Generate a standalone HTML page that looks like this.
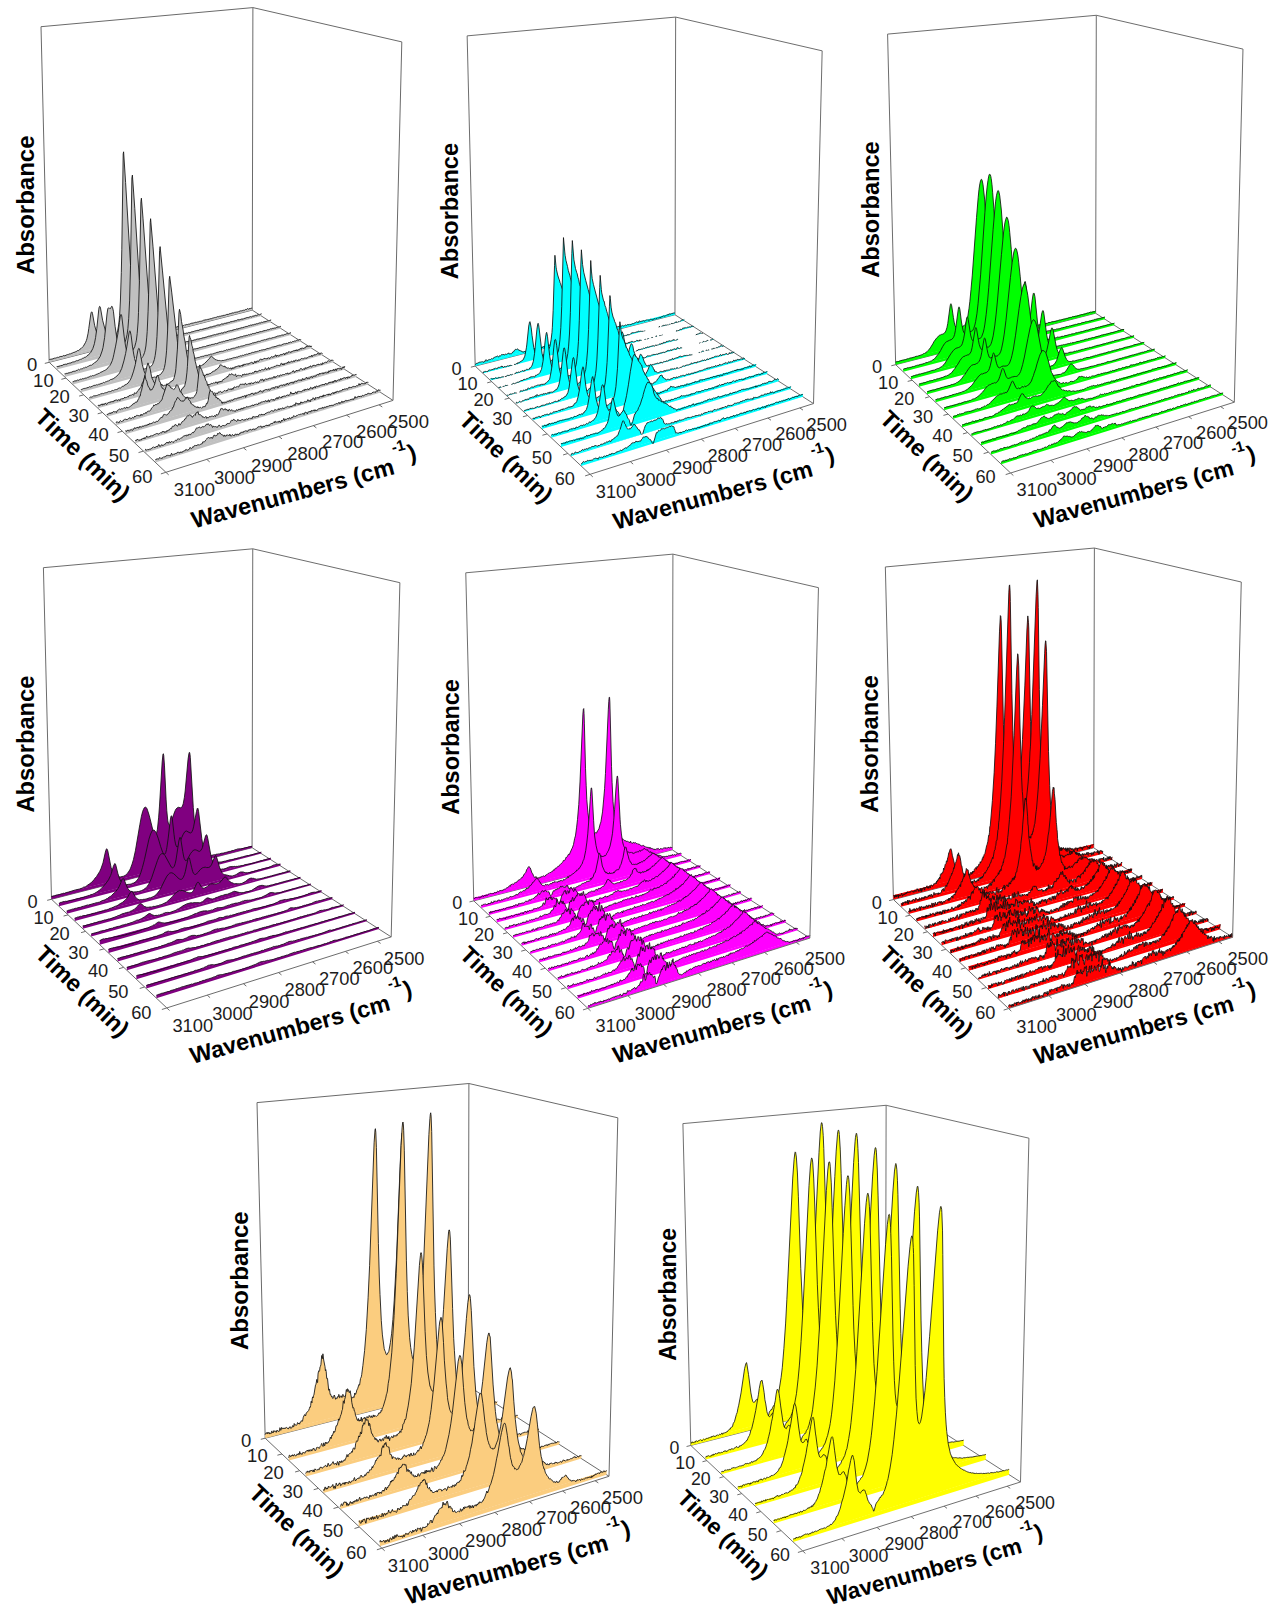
<!DOCTYPE html><html><head><meta charset="utf-8"><title>FTIR waterfall plots</title>
<style>html,body{margin:0;padding:0;background:#fff}svg{display:block}text{font-family:"Liberation Sans",sans-serif;fill:#1c1c1c}.t{font-size:18.5px}.b{font-size:24px;font-weight:bold;fill:#000}.s path{stroke:#101010;stroke-width:0.85;stroke-linejoin:round}.s path.n{stroke:none}</style></head><body>
<svg width="1274" height="1614" viewBox="0 0 1274 1614">
<rect width="1274" height="1614" fill="#fff"/>
<g transform="translate(0.0 0.0) scale(1.0 1.0)">
<line x1="41.0" y1="26.7" x2="252.9" y2="7.6" stroke="#6a6a6a" stroke-width="1.0"/>
<line x1="252.9" y1="7.6" x2="401.8" y2="41.9" stroke="#6a6a6a" stroke-width="1.0"/>
<line x1="41.0" y1="26.7" x2="49.2" y2="362.3" stroke="#6a6a6a" stroke-width="1.0"/>
<line x1="252.9" y1="7.6" x2="252.2" y2="310.1" stroke="#6a6a6a" stroke-width="1.0"/>
<line x1="49.2" y1="362.3" x2="252.2" y2="310.1" stroke="#6a6a6a" stroke-width="1.0"/>
<line x1="252.2" y1="310.1" x2="393.0" y2="400.4" stroke="#6a6a6a" stroke-width="1.0"/>
<g class="s" fill="#c0c0c0">
<path class="n" d="M49.2 362.3L252.2 310.1L252.2 307.9L49.1 359.7z"/>
<path d="M49.1 360l0.5-0.5l1.2-0.3l1.3-0.1l2.6-1l0.8 0l0.9-0.3l0.4 0.1l0.8-0.8l0.9 0.3l1.7-0.9l2.1-0.1l0.8-0.7l0.9-0.1l0.8 0.2l2.5-1.2l0.9 0.1l0.4-0.4l1.3-0.5l0.4 0.1l0.8-0.3l0.9-0.6l0.4 0l0.8-0.5l0.8 0l1.3-0.7l0.8-0.1l1.3-1.1l0.8 0.2l0.8-0.9l0.5-0.1l0.4-0.6l1.6-1l0.8-0.8l0.5-0.6l0.4-0.3l2.4-4.2l0.8-1.9l0.5-1.6l1.2-5.6l0.7-4.8l2-14.3l0.4-1.5l0.4-0.7l0.5 0.2l0.4 1.6l2.1 11.6l1.3 4.7l2.5 6.9l1.7 2.9l0.8 0.8l1.6 0.8l0.9 0.8l0.8-0.4l0.8 0.5l0.8 0l0.8-0.4l0.8 0.2l1.3-0.7l0.4-0.1l0.4 0.1l0.8-0.5l0.4-0.1l0.8-0.7l0.4 0l1.2-0.7l2-2.5l1.3-2.3l1.2-3.7l1.2-6.8l0.8-8.4l0.8-14.7l0.9-28.4l0.5-23.3l1.4-95.4l0.4-2.1l2 30.7l6.6 110.2l2.2 36l0.4 3.5l2 0.9l1.2 0.1l0.8-0.1l0.4 0.3l0.8-0.3l0.3 0.4l0.8 0.3l0.4 0.1l0.8-0.4l0.8 0.3l2-0.3l0.8-0.3l0.4 0.3l0.3 0.1l0.8-0.5l0.8 0.1l0.8-0.4l0.4 0l0.4 0.2l0.8-0.4l0.4 0.2l0.7-0.4l0.8 0l0.4-0.1l0.4-0.3l0.8 0.2l0.4-0.4l0.4-0.1l0.4 0.4l0.7-0.4l0.4 0.2l0.8-0.4l0.8 0l1.6-0.7l0.3 0.2l0.8-0.4l0.4 0.2l0.4 0l0.4-0.3l0.8-0.2l0.7-0.6l1.2 0.4l0.8-0.4l0.7 0l0.4-0.3l2.7-0.4l0.4 0.1l1.2-0.5l0.8-1l0.7 0.3l0.4-0.2l1.2 0.1l1.1-0.4l0.8-0.4l0.7 0.1l0.4-0.2l1.2-0.4l0.7 0.2l0.4-0.1l0.4-0.4l0.8 0.2l0.7-0.5l1.6-0.1l0.7-0.3l0.4 0.2l1.1-1.1l0.8 0.4l0.4-0.3l0.7-0.3l0.8 0.1l0.8-0.3l0.7 0.1l1.2-0.6l1.5-0.5l1.5-0.1l0.4-0.3l0.7-0.1l0.8-0.4l1.1 0.1l1.1-0.4l0.8 0l1.1-0.5l0.8-0.5l0.3 0.3l0.8-0.2l0.4 0.1l0.3-0.2l0.8-0.2l0.7-0.5l3-0.6l0.4 0.1l0.8-0.4l0.3 0.1l1.5-0.5l0.4 0l1.1-0.4l0.8 0l1.1-0.6l0.7-0.1l0.8-0.4l0.3 0.1l0.8-0.2l0.3 0.2l0.4-0.4l0.7-0.1l0.8-0.5l1.1 0.1l0.7-0.4l0.8 0.2l0.7-0.6l0.4 0.1l0.7-0.4l0.8 0.2l1.1-0.6l0.7 0.1l0.7-0.3l0.4 0.1l0.7-0.6l2.2-0.2l1.5-0.8l0.7 0.1l1.1-0.5l1.1-0.3l0.8 0.2l0.7-0.6l0.3-0.1l0.4 0l1.1-0.2l0.7 0.1l1.5-0.5l0.3-0.3l1.1-0.2l0.8-0.4l0.3 0.1l0.4 0l0.7-0.5l0.7 0.2l0.8-0.4l0.7 0.1l1.4-0.9l0.4 0.1l0.7-0.1l0.7-0.9l0.8 0.6l0.3 0l1.5-0.7l0.7 0.1l1-0.4l0.4 0.1"/>
<path class="n" d="M56.8 369.5L261.5 316.1L261.5 313.4L56.7 366.2z"/>
<path d="M56.7 366.5l0.5 0.1l0.8-0.2l0.9 0l0.4-0.2l0.9-0.1l0.4-0.4l1.7-0.2l1.7-1.2l0.9 0.2l0.4-0.3l0.9 0.3l0.8-0.6l1.3-0.4l1.3-0.4l1.3-0.1l1.3-0.8l0.8-0.3l0.9 0l0.8-0.2l0.4-0.4l0.9-0.1l0.8-0.7l0.9 0.2l2.1-1.1l0.4-0.1l0.4-0.2l0.9-0.2l0.8-0.7l0.9-0.1l1.6-1.1l0.9-0.1l0.8-0.7l0.4-0.1l0.9-1.2l0.4 0.1l0.4-0.4l0.4-0.8l0.4-0.2l1.3-1.3l2.1-3.9l1.2-3.6l0.4-1.3l1.2-6.2l1.2-9l2-19.3l0.4-1.9l0.4-0.9l0.4 0.2l0.5 1.5l2.1 12.1l2.6 9.7l2.1 9l1.3 3.7l0.8 1.5l1.7 1.7l0.4 0.7l0.4 0.4l0.8 0.2l0.8 0.6l3.7 0l0.9-0.3l0.4 0l0.8-0.5l0.4 0.3l0.8-0.9l1.2-0.3l1.7-1.8l0.4-0.7l0.8-0.8l1.2-2.8l1.3-5.4l0.8-6l0.8-9.8l0.9-17.8l0.9-35.6l1.4-87.5l0.5-2.7l2.4 33.6l5 77.8l3.4 49.1l0.4 3.7l0.4 0.1l0.4-0.2l0.8 0.5l1.2 0.1l0.4 0.3l1.2 0.1l0.4-0.1l0.4 0.3l0.8-0.1l0.4 0.2l0.8-0.5l1.2 0.5l0.4 0l0.8-0.6l0.4 0.3l1.1-0.1l0.4-0.2l0.8 0l0.4-0.4l0.4 0l0.4 0.1l0.8-0.1l0.4 0.2l0.4-0.4l0.4 0l0.4 0.2l1.6-0.7l0.8-0.2l0.8 0.2l1.1-0.2l1.2-0.7l1.2 0.2l1.2-0.5l0.8 0l1.1-0.4l0.8 0.3l0.4-0.4l1.2 0.1l0.8-0.7l0.4 0.1l0.7-0.4l1.2-0.3l0.8 0.2l1.5-1.1l1.2 0.3l0.4-0.2l0.4 0.1l0.8-0.5l1.1-0.4l1.2-0.1l0.4 0.1l0.8-0.3l0.3 0.1l0.8-0.7l1.2 0l1.1-0.3l0.8 0.2l0.4-0.2l0.4-0.5l0.4-0.1l0.3 0.2l1.2 0l0.8-0.8l0.7 0.2l0.4-0.1l0.8-0.6l0.8 0.3l0.7-0.7l0.8 0l0.4-0.3l0.7-0.1l0.8-0.2l1.5 0.1l0.4-0.6l0.4-0.1l0.4 0.3l0.7-0.8l0.8 0.3l0.4-0.2l1.1-0.1l1.2-0.5l1.9-0.3l0.7-0.3l0.8 0l0.4-0.4l1.1-0.1l0.8-0.6l1.8-0.1l1.2-0.4l0.4-0.3l0.7 0.1l0.4-0.2l0.7 0.1l0.4-0.3l0.4-0.1l0.8-0.6l0.7-0.2l0.8 0l0.3-0.1l0.8 0.2l1.1-0.4l0.8-0.6l0.3-0.2l0.8 0l0.7 0.2l0.8-0.3l0.7-0.5l1.1 0l1.9-0.5l0.8-0.4l0.3 0.1l0.4-0.2l0.7 0.1l0.8-0.7l0.7 0l1.1-0.4l0.4 0.1l0.8-0.2l0.3 0.1l1.5-0.7l1.1 0.1l1.1-0.9l2.2-0.1l0.4-0.3l0.7 0l0.8-0.3l0.7 0.1l0.4-0.2l0.7 0.1l0.7-0.8l0.4 0.1l0.8-0.3l0.3 0.1l0.8-0.5l1.4-0.3l0.7 0.2l1.1-0.6l0.4 0l0.7-0.5l0.8 0.5l1.1-0.8l0.7 0.1l0.7-0.5l0.4 0l0.7-0.2l0.7-0.4l0.8 0.4l0.7-0.5l1.4-0.6l0.8 0.2l0.3-0.1l0.4-0.3l0.7-0.2l0.7-0.5"/>
<path class="n" d="M64.6 376.9L271.1 322.2L271.1 319.6L64.6 373.5z"/>
<path d="M64.6 373.8l0.8 0l0.9-0.4l0.9 0.1l0.4-0.1l0.4 0l0.9-0.7l0.9 0.1l0.4-0.1l0.4-0.4l0.9 0l1.7-1l0.9 0.2l0.9-0.6l0.4 0.3l0.4-0.2l0.4-0.5l1.3-0.3l0.9-0.8l0.4 0.1l0.5 0.3l0.4 0l0.8-0.8l0.5 0.1l0.4-0.2l0.9-0.1l1.2-0.9l0.9-0.1l0.4 0.1l0.9-0.8l0.8 0.2l0.9-0.6l0.8-0.3l1.7-1l0.9-0.2l0.8 0l1.3-1.2l0.9-0.5l0.8-0.9l1.3-0.6l0.4-0.6l0.8-0.5l3-4.3l2-5.6l0.9-3.4l1.6-10l2.4-23.6l0.8-5.2l0.5-0.8l0.4-0.2l0.8 0.4l0.5 0.5l0.4-0.1l1.3-2.3l0.4 0.1l0.4 0.9l0.9 3.9l1.7 15.1l1.7 12l1.3 5.5l0.9 2.6l0.8 1.9l0.4 0.5l1.3 2.4l1.2 0.8l0.8 0.4l0.5 0.7l0.4 0.1l0.4-0.3l0.4 0.4l0.4 0l0.4-0.4l1.3-0.3l0.8 0.3l0.8-0.3l0.4 0.1l1.3-0.7l0.4-0.5l1.6-0.9l2.1-3.8l1.2-4.5l0.5-2.2l0.8-6.6l0.9-11.6l0.4-9.5l0.9-31.8l1.5-79.1l0.5-3.3l1.6 20l6.2 85.5l3 39.5l0.4 3.1l0.4-0.4l0.8 0.8l0.4 0.1l0.8-0.1l0.4 0.3l0.4 0.1l0.8-0.2l1.6 0.4l1.2-0.4l0.8 0.5l0.4-0.1l0.4-0.3l0.9-0.2l0.7 0.3l0.5-0.3l0.7-0.1l0.5-0.3l0.7 0.2l0.8 0l0.8-0.6l0.8 0.1l0.4-0.2l0.8 0.1l0.4-0.3l0.8 0.2l0.8-0.2l0.8-0.3l0.4 0l0.8-0.5l1.2-0.2l1.2 0.1l0.8-0.4l1.2-0.2l0.4-0.2l0.4-0.1l0.4 0.2l1.1-0.3l1.6-0.9l0.8 0.4l0.4-0.3l1.6-0.2l0.4-0.5l0.4-0.1l0.4 0.2l1.5-0.8l0.4 0l0.4-0.1l0.8 0.3l0.4-0.5l0.4-0.1l2.7-0.4l0.4-0.3l0.8 0.1l1.5-0.6l1.6-0.2l1.2-0.8l0.7 0.1l1.2 0l1.6-0.6l1.1-0.1l1.6-0.7l0.7 0.2l2-0.7l0.7-0.1l0.4-0.3l0.8-0.2l0.4-0.4l1.5 0l0.4-0.2l1.9-0.3l0.4-0.4l1.2-0.3l0.3 0.1l0.8-0.5l0.8 0.2l0.4-0.1l0.7-0.5l0.8 0l1.9-0.6l0.4-0.3l1.1 0.1l0.8-0.5l1.1 0.3l1.2-0.5l0.7-0.8l0.4 0.1l0.4 0.4l1.1-0.3l1.5-0.9l0.4-0.1l0.4 0.2l0.7-0.3l0.4 0l0.8-0.4l0.3 0.1l0.4 0l3.4-1.2l0.8 0l0.7-0.5l0.8 0.2l2.6-0.9l0.4-0.4l0.7 0.5l1.1-0.9l0.8 0.3l0.4-0.4l1.1-0.1l0.4-0.4l0.3 0.1l0.8-0.4l0.3 0.2l0.8-0.4l0.4 0.1l0.3-0.1l0.8-0.6l1.5-0.2l0.7-0.5l1.5 0.2l0.7-0.6l0.8 0.1l1.1-0.5l0.7 0.1l1.1-0.6l1.1 0l0.8-0.4l0.7 0l0.7-0.5l0.4 0.2l0.7-0.3l0.8-0.6l0.7 0.3l0.4-0.1l0.7-0.4l2.9-0.5l0.8-0.6l0.3 0l0.8-0.3l0.3 0.2l0.4-0.3l0.7 0.1l1.5-0.7"/>
<path class="n" d="M72.7 384.4L280.9 328.5L280.9 325.9L72.6 381.6z"/>
<path d="M72.6 381.9l0.4-0.3l0.9 0l0.9-0.8l1.3 0.2l1.7-1.1l0.9 0.4l0.9-0.7l0.4-0.1l0.9-0.5l0.4 0.3l0.5-0.1l0.4-0.5l1.3 0.1l0.9-0.4l1.7-0.5l0.5 0.1l0.8-0.6l0.5 0l1.3-0.5l1.2-0.8l0.9 0.1l0.5-0.1l0.8-0.6l0.4-0.1l0.5 0.3l0.4-0.1l0.4-0.3l0.5 0l0.4-0.2l0.9-0.6l1.7-0.6l0.4-0.3l1.3-0.3l0.8-0.9l1.8-0.6l1.2-0.8l0.9-0.2l0.9-0.9l0.4 0.1l0.4-0.2l2.1-2l0.9-1.2l0.8-0.8l0.9-1.4l1.7-3.8l0.8-2.8l0.8-3.6l1.7-8.1l2.5-13.5l1.3-10.2l0.8-5.5l0.4-1.8l0.4-0.7l0.5 0.7l0.4 2l2.2 19l1.3 9l1.3 6.1l1.2 4.1l0.9 1.1l0.8 1.9l0.8 0.6l0.5 0.6l0.8 0.4l0.8 0l0.9 0.9l0.4 0l0.4 0.3l0.4 0l0.4-0.2l0.5 0l1.2-0.2l0.4-0.3l0.9 0.2l2-1.2l0.5-0.6l0.8-0.2l1.6-2.2l0.5-0.8l1.2-3.3l0.4-1.5l0.9-4.8l0.8-8.1l0.5-6.3l0.9-20.4l0.5-16.5l1.6-72l0.4-4l2.4 28.1l5 63.4l3.8 43.6l2.1 0.1l0.8 0.4l0.4-0.1l0.4-0.3l1.6 0.3l0.8-0.4l0.4 0.3l0.4-0.2l0.8 0.5l0.4-0.3l0.4-0.1l0.5 0.2l1.2-0.4l0.8 0.1l1.2-0.5l1.2 0l0.8 0l0.4-0.4l0.4 0.2l0.4-0.1l0.4-0.5l0.4 0.2l0.4 0.1l0.4-0.3l0.4 0.2l0.8-0.6l0.8 0.1l0.8-0.4l0.8 0l0.8-0.3l0.8 0.3l1.6-0.6l0.4-0.4l0.8 0l0.4-0.2l0.8-0.1l0.4 0.1l1.2 0l0.4-0.6l1.2 0l1.6-0.8l0.8-0.1l0.3 0.2l0.8-0.6l1.2 0.1l0.8-0.4l1.6-0.2l1.6-0.8l0.8 0.1l0.4-0.1l0.4-0.2l1.9-0.6l0.8 0.1l0.4-0.4l0.4-0.1l0.4 0.3l0.8-0.6l0.7-0.1l2.8-0.8l0.8 0l0.7-0.5l0.8 0l0.8-0.3l0.8 0l1.2-0.3l0.7-0.5l0.8 0.2l0.4-0.1l1.9-0.6l0.8-0.8l0.8 0.2l1.1-0.5l0.4 0.1l1.2-0.1l0.4-0.5l0.4-0.2l1.1 0.2l0.8-0.6l0.4 0l0.8-0.3l1.5-0.1l1.5-0.8l0.8 0.1l0.8-0.4l0.7 0.1l0.4-0.4l0.8 0l2.6-0.6l0.4-0.3l0.8 0l0.4-0.3l0.7-0.1l0.8-0.5l0.8 0l1.1-0.5l0.4 0.1l0.7-0.4l0.8 0.3l0.8-0.7l0.7-0.1l0.8 0.1l1.1-0.6l1.1-0.1l0.4 0.1l0.8-0.7l0.4-0.1l0.3 0.1l0.4 0.2l0.8-0.7l0.3 0.2l0.4 0l0.8-0.2l0.7-0.7l0.8 0.1l1.1-0.2l0.4 0.3l0.4-0.2l0.3-0.5l0.8-0.3l0.4-0.5l1.1 0.5l1.5-0.8l1.5-0.3l0.3 0.1l0.4-0.1l0.4-0.4l0.7 0.1l1.2-0.6l1.4-0.1l0.4-0.2l0.4 0.1l0.7-0.3l0.8-0.5l0.3 0.2l0.4-0.1l1.5-0.5l0.7-0.5l1.2 0.1l1.1-0.6l0.3 0.2l0.8-0.3l0.3 0.1l0.4-0.3l0.7 0.2l1.2-0.7l0.7 0.1l0.4-0.4l0.3-0.1l0.4 0l0.7-0.4l0.4 0.2l0.4-0.1l1.1-0.6"/>
<path class="n" d="M80.9 392.2L290.9 334.9L290.9 332.6L80.8 389.4z"/>
<path d="M80.8 389.7l0.5-0.1l0.8-0.6l0.5 0.1l0.9-0.6l0.4 0.2l0.9-0.4l0.4-0.1l0.5 0.2l0.4-0.1l0.5-0.4l2.2-0.6l0.8-0.6l0.9 0.3l1.8-0.7l0.9-0.7l0.8 0.1l0.9-0.6l0.9 0.2l0.9-0.6l0.8 0.2l0.5-0.4l0.4-0.2l0.5 0.1l3-1.1l0.4 0l0.5-0.2l0.4-0.5l0.4-0.2l0.5 0.3l0.4 0l0.9-0.8l1.3-0.3l0.9-0.5l0.8 0l0.5-0.6l0.8-0.2l0.4-0.5l0.5-0.2l0.4 0.1l0.9-0.5l1.3-0.4l2.6-1.9l2.5-2.3l1.3-1.7l2.1-4.4l2.2-7.6l1.7-7.3l1.2-6.8l2.2-13.8l0.4-1.6l0.4-0.6l0.5 0.7l0.8 3.8l1.3 10.7l1.3 8.1l0.9 4.3l0.4 1.7l1.3 3.4l0.8 1.4l0.9 1.9l0.4 0.4l1.2 0.4l0.5 0.4l0.8 0.3l0.9 0.6l0.4 0l0.8 0.2l0.9-0.3l0.8 0.2l0.8-0.3l0.9 0.1l0.4-0.5l1.7-0.1l0.4-0.6l0.4-0.4l0.4 0.1l0.9-0.5l1.7-2l0.4-0.7l0.8-2l0.9-2.7l0.8-4l0.9-6.7l0.9-12.4l1-24l1.6-61.9l0.5-3.8l2.3 23.5l5.5 58l2.6 26.6l0.8 6.3l1.6 0.9l0.9-0.5l2 0.5l0.4-0.1l0.4-0.5l0.8 0.5l0.9-0.3l0.8 0.1l0.4-0.2l0.8 0.3l0.8-0.7l2 0l0.8-0.5l0.5 0.2l0.8-0.5l0.4 0.3l1.2-0.8l0.4-0.1l0.8 0.3l1.2-0.2l0.8-0.3l0.8-0.6l0.8 0.2l0.8-0.4l1.2 0.2l0.9-0.6l0.4-0.1l1.6-0.1l0.8-0.4l0.8 0.2l0.8-0.6l0.4 0.1l1.2-0.3l0.4-0.6l0.4 0l0.4 0.5l0.8-0.6l1.6-0.1l0.4-0.5l0.4-0.3l0.4 0.1l0.8-0.4l0.8 0.5l1.6-0.8l0.7 0.1l1.2-0.7l0.8 0.2l0.4-0.4l0.8 0.1l0.4-0.4l0.4-0.1l0.4 0.1l0.8-0.4l0.8-0.1l0.4-0.3l1.2-0.5l1.6-0.2l1.5-0.7l0.8 0l0.8-0.2l0.8 0.1l0.4-0.1l0.4-0.3l0.4 0.1l0.8-0.6l0.3 0.2l0.8-0.1l0.8-0.9l0.4 0.1l0.4 0.3l0.4 0l0.8-0.6l0.7-0.2l0.8 0.1l0.4-0.3l0.8-0.1l1.6-0.6l0.7-0.1l0.8-0.3l0.4 0.2l0.8-0.5l0.4 0.2l0.4-0.1l0.7-0.6l0.8 0l0.4-0.2l1.2-0.3l0.3 0.3l0.8-0.7l0.4 0l0.4-0.3l0.4 0.1l0.7-0.3l0.4 0.2l0.4 0l0.8-0.4l0.8-0.2l0.3 0l0.8-0.6l0.8-0.2l0.4 0.1l0.4 0l0.3-0.4l0.8 0.1l0.8-0.4l0.7 0.2l0.8-0.5l1.2-0.3l0.7-0.5l1.5 0l0.8-0.5l0.4 0.2l0.8-0.6l0.7 0.1l1.9-0.8l0.8 0.1l1.1-0.3l1.2-0.7l0.3 0.1l0.8-0.3l1.1-0.2l0.8-0.3l0.4 0.4l0.3-0.1l0.4-0.5l1.9-0.6l0.4-0.3l0.7 0.2l0.8-0.6l0.8 0.2l0.3-0.2l0.8 0l0.7-0.4l1.2-0.2l0.3-0.2l0.8-0.1l1.5-0.4l1.1-0.5l0.8-0.5l0.7 0.1l0.4-0.3l0.7 0.1l1.1-0.1l0.8-0.6l1.5-0.1l0.7 0.1l0.8-0.7l1.1-0.1l0.7-0.5l1.5-0.2l0.4 0.2l1.5-0.7l0.3-0.3l0.8 0.1"/>
<path class="n" d="M89.3 400.1L301.1 341.5L301.1 339.3L89.3 397.4z"/>
<path d="M89.3 397.7l0.4-0.1l0.9-0.6l0.5-0.1l0.4 0.2l0.9-0.4l0.4-0.1l0.9-0.8l1.4 0.1l0.9-0.3l0.4 0l0.5-0.3l0.4-0.1l0.4 0.1l0.9-0.6l0.9 0.1l0.9-0.9l0.4-0.1l1.4-0.1l0.4-0.3l0.9 0.2l0.9-0.6l0.4 0.1l0.9-0.4l0.9-0.1l0.4-0.3l0.9-0.2l0.5-0.4l0.8 0.1l0.5-0.4l0.9 0.1l1.7-1l0.9-0.1l0.4 0.3l0.9-0.8l0.5 0.1l0.8-0.5l0.9 0.1l0.4-0.4l0.9-0.2l0.4-0.7l0.5-0.3l0.4 0l0.5-0.2l0.8 0.2l0.9-0.7l0.9-1.1l0.8 0.3l0.5-0.3l0.8-1.1l1.8-0.7l1.7-1.3l2.2-3.1l1.3-2.6l2.1-6.3l1.7-6.5l2.6-14.3l0.5-1.2l0.4-0.8l0.4 0.3l0.5 1.3l2.6 14.7l1.7 6.3l0.8 2.1l0.9 1l1.3 2l0.4 0l0.8 0.6l0.9 0.2l0.4 0.4l0.9-0.1l0.4 0.2l0.4-0.2l1.7 0.4l0.9-0.3l0.4-0.3l0.8 0.4l0.4 0l1.3-1.1l1.3-0.3l1.3-0.9l0.4-0.2l0.4 0l0.4-0.3l2.6-3.5l0.4-0.8l0.9-2.7l0.8-4l0.9-7.6l0.5-5.7l1-19.3l1.6-51l0.5-3.6l2 15.8l5.8 50.3l3.5 26.9l0.8-0.4l1.3 0.6l0.8-0.3l0.8 0.1l1.3-0.3l0.8 0.3l0.8-0.4l1.2-0.2l0.8 0.2l0.9-0.5l0.8 0.3l0.8-0.6l0.8 0.2l1.3-0.4l0.8-0.4l1.6-0.1l0.8-0.5l0.8 0l0.5-0.3l0.8 0l1.2-0.9l0.4 0.1l0.4-0.1l0.4-0.5l0.8-0.2l0.4-0.7l0.9-0.2l0.4-0.6l2.8-2.6l0.9-1.3l0.4-0.1l1.2-1.4l0.8-1.3l0.8-0.6l1.2 0.7l1.2 1.6l0.8 0.2l0.8 1l0.8-0.1l0.4 0.5l0.4 0.1l1.6 0.3l0.8-0.1l0.8 0.5l0.4-0.2l0.8 0.1l1.6-0.4l0.8 0.1l0.4-0.4l0.4 0.1l0.8-0.2l0.7 0l1.6-0.8l0.8 0.1l0.8-0.7l0.4 0.3l1.2-0.2l1.6-0.5l0.4-0.3l0.8-0.2l0.4-0.3l0.4 0l0.4 0.2l0.4 0l1.2-0.5l1.5-0.1l0.8-0.7l0.4-0.1l0.4 0.1l0.8-0.5l1.2 0.1l0.8-0.6l0.7 0l0.4 0.1l0.4-0.1l0.4-0.4l0.8-0.3l0.8 0.1l0.8-0.6l0.4 0l0.3 0.2l1.6-0.7l1.6-0.3l1.9-0.9l0.8 0.1l1.9-0.7l1.6-0.2l0.4-0.3l0.7 0l0.8-0.2l0.4-0.4l1.6-0.3l1.5-0.6l0.8 0.2l0.4-0.3l0.7-0.2l0.8 0.2l1.9-1l1.2-0.3l0.3 0.2l0.8-0.5l0.4 0l1.1-0.2l0.4-0.4l0.4-0.2l0.4 0.1l0.4-0.1l0.4-0.3l0.7 0l0.8-0.3l1.1-0.1l2.7-1l0.4 0l0.7-0.5l1.6 0.1l1.1-0.2l1.5-1l1.1 0l0.4-0.4l0.8 0.2l0.7-0.5l1.2 0.3l0.7-0.8l1.1 0l1.6-0.8l0.7 0.4l0.4-0.1l0.7-0.8l1.2 0l0.7-0.5l0.7 0.1l0.8-0.1l0.7-0.7l0.4 0.2l0.8-0.6l0.3 0.3l0.4 0.1l0.8-0.8l0.7 0l0.4 0.3l0.7-0.2"/>
<path class="n" d="M98.0 408.3L311.6 348.2L311.6 345.6L97.9 405.0z"/>
<path d="M97.9 405.3l0.5 0.5l0.4-0.7l1 0.8l1.3-1.7l0.4-0.1l0.5 1l0.5-0.1l0.4-1.2l0.9 0.9l0.5 0l0.4-0.4l0.5-1.2l1.3 1.3l0.5-0.1l0.4-0.8l0.9-0.8l0.4-0.1l0.5 0.1l0.4-0.6l0.5-0.2l0.9 0.4l0.4-0.6l0.9 0.3l0.5-0.7l0.4 0.7l0.5-0.4l0.4-1.1l0.9 0.4l0.4-0.7l0.9-0.5l0.5 0.8l0.4 0.3l1.4-1l0.4 0.2l0.5 0l0.4 0.6l0.4-1.1l0.5-0.4l0.4 0.2l0.5-0.6l0.4 0.4l0.9-0.8l0.4 0.2l0.5 0l0.9-1.5l0.8 0.8l0.9-0.4l0.9-0.7l0.9 0.4l0.9-1.6l0.9 0.2l0.4-0.6l0.9 0.2l0.4-0.6l0.9-0.3l0.9 0.9l0.8-2.5l0.9 0.4l0.5-0.1l0.4 0.4l1.3-2.4l0.4-0.2l0.5-0.5l0.4-1.1l0.5 0.1l0.8-1.6l0.5-0.4l0.8-1.4l0.9-3.1l0.4-0.1l1.4-3.8l1.3-5.6l0.4-1.1l0.9-5.4l1.3-4l0.4 0.9l1.8 5.4l1.3 7.1l0.8 2.6l0.9 1.5l0.4 1.5l0.4 0.7l0.5-0.2l0.8 1.7l0.5 0.1l0.4 0.7l0.4 0l0.9 0.7l0.4 0l0.9-0.8l0.4 0.1l0.4 0.6l0.4 0.2l0.5-0.8l0.4 0.1l0.4-0.3l0.5-0.7l0.8 1.9l0.4-0.4l0.5 0.3l0.4-0.1l0.4-0.4l0.4 0.1l0.9-0.4l0.4 0.5l0.9-1.8l0.4 0.1l0.4 0.5l0.9-0.8l0.8-0.1l0.9-1.6l0.4 0l0.9-0.2l0.4-1l0.9 0l0.8-1.4l0.5-1.6l1.3-5.6l0.4-3.5l1.5-19.4l1.6-36.2l0.5-3.6l1.2 5.2l0.8 6.9l1.6 8.6l0.8 6.1l1.2 5.8l1.5 11.1l0.8 4.5l0.4 1.2l2 12.7l1.1 6.6l0.5-0.2l1.2-0.2l0.4 0.5l0.4-0.1l0.5-0.5l0.4 0.2l0.4-0.3l0.4 0l0.4 0.3l0.4-0.5l0.5-0.1l0.8 0.2l0.4-0.7l0.8 0.3l0.4-0.5l0.5 0.3l0.4-1.1l0.4 0.1l0.4 0.6l0.4-0.4l0.4 0l0.4 0.3l0.5-0.8l0.4-0.3l0.4 0.6l0.4-0.2l0.8 0.6l0.4-0.8l0.4-0.5l0.4 0.6l0.5-0.2l1.2-1.4l0.4 0.9l0.4 0.2l0.4-0.9l0.9 0.1l0.4-0.6l0.4 0.3l1.6-1.2l0.4 0.1l0.5-1.1l1.2-0.4l0.4 0.1l0.4-0.3l0.4 0l0.9-1.6l0.4-0.1l0.4 0.4l0.8-1.2l0.4-0.2l0.4-0.1l0.9-1.5l0.4-0.1l0.4-1.5l0.4-0.5l0.4 0.6l0.8-0.1l0.4 0.4l0.4 0.1l0.8 1l0.4-0.3l0.4 0.5l0.4 0.1l0.4-0.9l1.2 1.1l0.4 1l0.4-0.4l0.4 0l0.4 0.6l0.4 0l0.4-0.3l0.4 0l0.8 0.6l0.8-0.7l0.4 0.2l0.4 1l0.4 0.1l0.4-1.1l0.4-0.4l0.4 0.9l0.4 0.1l0.4-0.9l0.5-0.2l0.3 0.3l0.4-0.1l0.5-1.2l0.4 0.6l0.4-0.1l0.4-0.9l0.4 0.4l0.8-0.4l0.8-0.1l0.4-0.5l0.4 1.1l0.4-0.1l0.4-0.9l0.4 0.7l0.8-0.9l0.4 0l0.4 0.7l0.4-0.1l0.4-1.2l0.4-0.5l0.4 1.1l0.4-0.5l0.4-1.1l0.4 0.5l0.4-0.2l0.4 0.2l0.4-0.1l0.4-0.4l0.7 0.3l0.4-0.2l1.6-0.1l0.4-0.7l0.4 0l0.4-0.3l0.4 0l0.8-0.6l0.4 0.3l0.4-0.1l0.8 1.4l1.2-1.2l0.4-1.4l0.4 0l0.4 1.1l0.3 0.5l0.4-0.5l0.8-1.5l0.4 0l0.4 0.6l0.4 0l1.2-1l0.4-1l0.4-0.3l0.4 0.1l0.4-0.4l0.4 0.4l0.4 0.8l0.3-0.1l0.4-0.6l1.2-0.5l0.4-0.5l1.2 0.1l0.4 0.4l0.4 0.1l0.4-0.3l0.7 0.2l0.8-1l0.4-0.2l0.8 0.9l0.4 0.2l0.8-1l1.1-1.2l0.8 0.6l0.4 0l1.2-0.6l0.3 0.1l0.8-1l0.4-0.9l0.4 0.2l0.4 1.6l0.4-0.2l0.4-1.1l0.3-0.3l0.8 1l0.4 0.1l0.4-0.2l0.8-0.2l1.1-1.4l0.4 0.4l0.8 0.1l0.4-0.2l0.7-0.8l0.4-0.1l0.4-0.3l0.4 0.4l0.4 1.1l0.7-1.5l0.4 0l0.4 0.2l0.4-0.9l0.4-0.1l0.4 0.6l0.3-0.1l0.4-0.3l0.4-1l0.4-0.3l0.4 0.4l0.4 0.1l0.3-0.1l0.8 0.6l0.4-0.1l0.8-1.3l0.3 0.2l0.4 0l0.8-0.5l0.7 0.4l0.8-1.1l0.4 0.1l0.4 0.8l0.3-0.3l0.4-0.9l0.4 0.2l0.4 0.8l0.4-0.3l0.3-0.9l0.4 0.1l0.4 0.2l0.8-0.1l0.7-1.5l0.4 0.6l0.4 0.2l0.4 0l0.7-1.4l1.1 1.1l0.8-1l0.8 0.4l0.7-0.5l0.8-1.8l0.3 0.8l0.4 0.1l0.4-0.4l0.4-0.1l0.4-0.4l0.3 0.6l0.8-0.8l0.7 1.2l0.4-0.7l0.4-0.1l0.3 0.6l0.4-0.8"/>
<path class="n" d="M106.9 416.7L322.4 355.1L322.4 353.2L106.9 413.7z"/>
<path d="M106.9 414l0.4 0.7l0.9-0.9l0.5 0.1l1.3-1.1l1 0.8l0.4-0.9l0.9 0.2l0.5-0.9l0.4-0.4l0.5 0l0.4 0.4l1.4-0.3l0.9 0.9l0.9-2.1l1.4-0.6l0.9-1.1l0.9 0.9l0.4-0.4l0.5-0.8l0.4 0.4l0.5 0.1l0.9-0.4l0.9-1.1l1.3 0.9l0.5-0.2l0.4-1l0.5-0.2l0.4 1l0.9-0.7l0.5 0.5l1.8-1.6l0.4 0.2l0.9-1.1l0.4-0.1l0.5-1l0.4-0.4l1.4-0.2l0.9-1.4l0.9-0.1l0.8 0l0.9-2.1l0.9-1.5l0.5-1.8l0.4-0.4l0.5-0.1l0.4-2.5l0.4-1.8l0.5-1.1l1.3-6.3l1.8-7.6l0.4-1.4l0.9 4.1l0.9 1.6l0.9 3.9l0.9 2l0.9 0.9l0.4 1.5l0.5 0.8l0.4-0.9l0.9 0.6l0.4-0.9l0.9-0.8l0.9-2.5l0.4-0.5l0.9-2.9l0.9-4l1.4-3.1l0.8 1.4l0.5 1.2l0.4 2.7l1.3 2.2l0.8 3.7l0.5 0.6l0.4 1.1l0.9 0.2l0.4 0.5l0.4 0.1l0.5 0.9l0.4 0.5l0.4-0.6l0.9 0.4l0.5-0.4l1.3-0.3l0.4 1.4l0.4 0.7l0.4-0.3l0.5 0.5l0.8 0l0.5 0.3l0.4 0.9l0.4 0.1l0.5-0.7l0.4 0l0.4-0.5l0.5 0l0.4 1l0.4-0.4l0.4-0.8l1.3 1.1l0.9-1.1l0.4 0.4l0.9-1.2l0.4 0.5l0.4 0l0.5-0.3l1.2 1.2l0.9-3.2l0.5-0.2l0.4 0l0.9-1.8l0.8-0.2l0.5-1.2l1.3-5.3l0.9-7.6l0.5-6.1l1.7-29.3l0.4-1.9l0.4 1.8l0.5 0.9l0.4 1.4l1.2 6l0.4 1.1l0.4 1.9l0.4 3l0.8 2.7l1.2 6.9l0.8 3l0.8 4l0.4 1l2.4 10.1l0.7 4.6l1.3 2.4l0.8-1.4l0.4 0.6l0.9 0.4l0.8-2.2l0.9 0.5l0.4 0.8l0.8-0.7l0.4 0.3l0.4 0.1l0.4 0.6l0.9-1.1l0.4 0.9l0.8-0.9l0.5 0.1l0.4-0.6l0.4 0l0.4-0.5l0.4-0.1l0.4 0.6l1.3-0.9l0.8 0.2l0.4 0.3l0.5-0.4l0.4-1.1l0.4 0.6l0.4-0.3l0.8 1.4l0.5-1.6l0.4-0.1l0.4 0.7l0.4-0.9l0.4 0l0.4 0.6l0.9-1.1l0.8 1l0.4-0.5l0.4-1.5l0.4-0.4l1.3-0.3l0.4-0.7l0.4 0.1l0.8-1l0.5-0.1l0.4 0.1l0.4-0.6l0.4-1.1l0.4 0.7l0.4-0.3l1.3-2.5l1.2 0.9l0.9-1.3l0.3 0.6l0.5 0.2l0.4-0.2l0.4 0.6l0.4 0.3l0.4 0.1l0.4 0l1.2-1.2l0.8 2.8l1.2-1.3l0.4 0.2l0.4-0.5l0.8 0.7l0.5-0.5l0.8 0.1l1.2 0.9l1.2-2.3l0.8 1.1l0.4-0.9l0.4-0.3l0.4 0.2l0.4 0.7l0.4-0.2l0.4-0.9l0.8 0.7l0.4-0.2l0.5-0.5l0.3 0.6l0.9-1l0.4 0.4l0.8-0.9l0.4 0.4l0.8 0.1l1.6-0.7l0.4 0.5l0.4-0.1l0.8-1.9l0.8 0.8l0.4-1.1l0.8 0.6l0.4 0.8l0.8-1l0.4 0.1l0.4-0.7l0.4 0l0.8-0.7l0.4 0.8l0.8-0.3l0.4-0.7l0.4-0.5l0.4 0.4l1.2 0.1l0.4 0.3l1.2-1.4l0.4-1l0.4 0.5l0.4 1.4l0.4-0.1l0.4-0.6l0.4 0.1l0.4-0.1l0.4-0.5l0.4-1l0.7 2l0.5-0.9l0.4-0.4l0.3 0l0.5-0.7l0.3-0.1l0.4 0.3l0.4-0.4l0.4 0l0.4 0.3l0.8-0.7l1.2-0.5l0.4-0.4l0.4 0.5l0.8-1.2l0.4 0.3l0.4-0.2l0.8 0.2l0.7-0.1l0.4 0.5l0.4 0.1l0.8-1.3l0.4-1.1l0.4 0.1l0.4-0.4l0.4 0.2l0.4 1.5l0.4-1l0.4-0.4l0.7 1.4l0.4-0.3l0.4-1.4l0.4-0.3l0.4 0.4l0.4 0l0.4-0.4l0.4 0.5l0.4-0.8l0.4-0.4l0.3 0.9l0.8-1.7l0.4 0.8l0.4 0.3l0.4-0.6l0.4-0.1l0.4 0.4l0.8-1.3l0.7 0.7l0.8 0.1l0.4-0.2l0.4-1l0.7 1l0.8-1.5l0.8 0.2l0.4-0.4l0.4 0.1l0.7 0.9l0.4 0l0.8-1.3l0.8 0.8l0.8-1.3l0.3 0.2l0.4-0.2l0.4-0.6l0.8-0.1l0.4 0.5l0.3-0.2l0.8 0.2l0.8-1l0.4-0.2l0.4 0.2l0.3 0l0.4 0.6l0.4-0.1l0.4-0.7l0.7 0.2l1.2-1.3l0.4 0l0.4-0.3l0.3 0.6l0.8-0.7l0.4 0.6l0.8-1.7l0.7 1.4l0.8-1.3l0.4-0.3l0.3 0.3l0.4 0l0.4-0.8l0.4 0.6l1.1-0.4l0.8-0.6l0.4-0.7l0.7 1l0.4-0.7l0.4-0.2l0.4 0.2l0.3 0.7l0.4 0.1l0.4-1l0.4-0.6l0.4 0.2l0.3-0.1l0.4 0.5l0.4 0.1"/>
<path class="n" d="M116.1 425.3L333.4 362.2L333.4 360.1L116.0 422.8z"/>
<path d="M116 423.1l0.5-1l0.4-0.5l0.5 0.5l0.5 0.3l0.4-0.2l0.5 0.7l0.5-0.4l0.4-1.2l0.5-0.6l0.4-0.1l0.5 0.6l0.4 0.3l0.5 0l0.5-0.4l0.9-0.3l0.4-1.1l0.5-0.4l0.4 0.3l1-0.6l0.4 0.7l0.9-0.3l0.5 0.1l0.9-1.1l0.5 0.3l0.4-0.4l0.5-0.8l0.4 0.9l0.5 0.5l0.9-0.4l0.4-0.8l0.5-0.3l0.9 0.6l0.5-0.3l0.9-1.7l0.4 0.8l0.5-0.2l0.4-0.9l0.5-0.3l0.9 0.2l0.4-0.5l1 0.9l0.4-0.2l0.9 0.2l0.9-1.9l0.9 1.5l1.4-1.9l0.4-0.2l0.5 0.5l0.4-0.1l0.5-1.1l0.4-0.3l0.5 0.9l1.3-2l1.4-0.3l0.4 0.2l0.5-0.2l0.4-0.8l0.5-0.2l0.4-0.6l0.5-1.3l0.8-0.6l0.5-0.7l0.4-0.4l0.5-1.4l0.4-0.2l0.5 0.7l0.9-1.1l0.4-0.1l0.5 0.7l0.9-1.4l0.9-0.1l0.4 0.2l0.9-1.7l0.9-0.3l0.4-0.6l1.4-2l0.4-1.9l3.7-11.2l0.4-1l0.5 0l0.4-0.9l1.3 1.6l0.5-0.5l0.4 0.4l0.4 1.4l0.9 1.1l0.5-0.1l0.4 0.2l0.4 0.6l0.5-0.2l0.8 0.8l1.4-1.2l0.4-0.6l0.5-1.9l0.4-0.9l0.5 0.1l0.4-0.2l0.4 0.4l0.9 2.1l0.4 0.7l1.3 3.7l0.4 0.5l0.5-0.1l1.7 3.2l0.4 0.2l0.9 1.2l0.4 0.1l0.4 0.5l0.5 0.2l0.4-0.5l0.4 0.2l0.4 0.9l0.5 0l0.4-0.5l0.5-0.1l0.8 1l0.9-0.8l0.4 0.8l0.4 0l0.5-1.1l0.8 0.9l0.9-0.8l0.4 0.3l0.5-0.4l0.4-0.9l0.4-0.2l0.9-1.6l0.5-0.3l0.9-2.9l0.4-2.9l1-9.5l1.1-12.7l0.4-1.5l0.8 3.4l0.5 0l0.8 1.6l0.4 1.4l0.8 1.8l0.4 2.2l0.9 0.6l1.6 4.9l0.4 0.2l0.4 0.5l0.8 3.7l0.4 0.7l0.5-0.1l0.4 0.6l0.4 2l0.8 1.1l0.4 1.8l0.8 1.4l0.4 1.4l0.9-0.4l0.4 0.3l0.4-0.1l0.9-0.5l0.4-0.7l1.2 0.9l0.9-0.5l0.4 0.6l0.4 0.1l0.9-1.9l0.4 0.1l0.4-0.2l0.5 0.2l0.8-0.6l0.4 0.1l0.8 1.2l0.5-0.7l0.4 0.1l0.4-0.2l0.4-0.5l1.3-0.9l0.4 0l0.8 0.8l0.9-1.3l0.4 0.4l0.4 0.2l0.5-1.4l0.4-0.5l0.4 0.5l0.4-0.1l0.4 0.4l0.4-0.6l0.5 0l0.4 0.9l0.4-0.1l0.8-1.5l0.4 1l0.4 0.3l0.9-2.4l0.4-0.4l0.4 0.3l0.4 0.7l0.9-0.9l0.4 0.2l0.8-0.7l0.8 0.9l0.5-0.4l0.4 0l0.4-1.3l0.4-0.6l0.5-0.1l0.4-0.8l0.8 0.1l0.4 0.4l0.4-0.5l0.8 0.3l0.9 0l0.4 0.3l0.4 0.1l0.4-1.5l0.4 0l1.2 1.6l0.9-0.6l0.4-0.5l0.4 0.1l0.8-0.7l0.8 1.3l0.9-1.5l0.4-0.3l0.8 1l0.4-0.3l0.4 0l0.4 0.5l0.4-1l0.4-0.5l0.4 0.3l0.4-0.4l0.9-0.4l0.4 0.2l0.4 0.6l0.4 0.1l0.4-0.9l0.4 0l0.4 0.5l0.4 0.2l0.4-0.3l0.8-1.7l1.3-1.1l0.4 0.9l0.4-0.1l0.4-1.1l0.4 0l0.4 0.6l0.4 1.4l0.4 0l0.4-1.2l0.4-0.2l0.8-0.9l1.6 0.7l0.4-0.6l0.4-0.1l0.4 0.3l0.9-1.2l0.4 0.1l0.3 0.5l0.4 0.1l0.5-0.8l0.4 0.4l0.4 0l0.4-0.8l0.8 0.8l0.8-0.8l0.4-1.2l0.4 0.5l0.4 1l0.4-0.9l0.8 0.6l0.8-1.2l0.8-0.6l0.4-0.1l0.4 0.2l0.8 0.8l0.4-1l0.4-0.5l0.4 0.1l0.4-0.3l0.4 0.6l0.8-0.4l0.4 0l0.4-0.6l0.4 0.4l0.4-0.3l0.8 0.1l1.2-1l0.4 0.2l0.8 0l0.8-1l0.3 1.1l0.4 0.4l0.8-1.1l0.4 0l0.4 0.5l0.8-1l0.4-0.1l0.8-0.8l0.4 0.2l0.8-1.4l0.8 0.6l0.4 1.2l0.4 0l0.4-1l0.4-0.2l0.4 0.1l0.3-0.2l0.5-1.1l0.3 0.3l0.4 0.7l0.4 0l0.4-0.6l0.4-0.2l0.4 0l0.4 0.3l0.8-1.7l0.4-0.3l1.2 0.3l0.3 0.7l0.4 0.2l0.4-0.1l0.8-0.9l0.4 0l0.4 0.8l0.4-0.4l0.4-1.5l0.4 0.7l0.4 0.1l0.3-0.6l0.4 0.5l0.8-1.3l0.4 0.4l1.2-0.6l0.8 0l0.4-0.9l0.3-0.2l0.4 1.2l0.4 0.1l1.2-0.9l0.4-1.1l0.4 0.2l0.3 0.6l0.4-0.5l0.4-0.2l0.4 0.4l0.4 0.7l1.2-1.5l0.7-0.2l0.8 0.5l0.4-1l0.4 0l0.3 0.4l0.4 0.2l0.8-0.4l0.4-0.4l0.4-0.1l0.7 1.2l0.8-2.2l0.8 0.8l0.4-0.6l0.7-0.2l1.2-0.7l0.7 0.7l0.8-1.3l0.8-0.7l0.4 0l0.7 0.6l0.4-0.2l0.8 0l0.4-0.5l1.1-0.5l0.4 0.2l0.4-0.2l0.7 0.3"/>
<path class="n" d="M125.5 434.2L344.7 369.4L344.8 365.9L125.4 430.5z"/>
<path d="M125.4 430.8l0.5 0.1l0.5 0.6l0.4-0.8l0.5-0.3l1.9 0.5l0.4-0.1l1.4-1.1l0.5 0l0.4 0.5l0.5 0.2l0.5-0.8l0.9-0.5l0.9-1.5l0.5 0.8l0.4 0l0.5-0.4l0.5 0l0.4-0.6l0.9 0.1l1 0.6l0.9-1.7l0.4 0.5l1.4 0.3l0.5-0.7l0.4-0.2l1 0.1l0.9-0.6l0.9-0.3l0.5 0.4l0.4-0.1l0.5-0.6l0.9-0.1l0.4-0.9l1 0.6l0.4-1.2l0.5-0.3l0.9 0.7l0.4-0.5l0.9-0.2l1.4-1.3l0.9 0.5l0.5-0.3l0.4 0.2l0.5-0.3l0.4-0.7l0.5-0.3l0.4 0.4l0.5-0.1l0.4-0.5l0.5-0.2l0.9-1.5l0.5-0.1l0.4-1l0.9-0.9l0.9 0.5l0.9-1.7l0.5-1.3l0.4 0.1l0.5-0.5l0.5 0.1l0.4 0.6l0.5-0.4l0.4 0.3l0.9 0.1l0.4-0.5l0.5-0.9l0.5 0l0.4-0.4l0.9-2l0.5-0.4l0.4-0.1l0.5-0.6l0.9-0.5l0.4-1.7l0.5-0.9l0.4 0.1l1-3.4l0.9-2.5l0.9-0.8l0.9-2.4l0.4-0.5l0.5-0.1l1.8 2.4l1.3 1.5l0.4-0.2l0.5-0.5l0.8 0.8l0.9-0.3l0.5-0.9l0.9-0.6l0.4-1.5l0.5-0.5l0.4 0.6l0.5 0l0.4-1l0.5-0.3l0.8 2.8l0.9 0.6l0.9 1.3l0.8 2.3l0.4-0.2l0.9 1.2l1.3 0.3l0.4 1l0.5 0.3l0.4-0.3l0.9 1.3l0.8-0.4l0.5-0.5l0.4 1l0.4 0.4l0.5-1l0.4 0.2l0.4 0.7l0.9-0.6l0.5 0.2l0.8 0.8l0.5-0.5l0.8-1.3l0.5 0.3l0.9-0.4l0.4 0.7l1.3-2.1l0.5-1.7l0.8 0.3l0.9-3l1-6.6l0.5-2.4l0.5-1.2l0.4 0l0.4 1l0.4 0.5l0.5-0.5l0.4 0l0.8 1.6l0.8 2.2l0.5 0.3l0.4-0.1l0.5-1l0.4 1.3l0.3 2.2l0.5-0.4l0.4-0.2l0.8 1.7l0.9-0.6l1.2 2.1l0.5-0.3l0.4 0.2l0.8 1.3l0.4 1.5l0.4 0.3l0.5-1.5l0.4 0.3l0.4 0.6l0.5-0.1l0.4 0.3l0.8-1.1l0.5 0.6l0.4-0.1l0.4-0.4l0.4 0.1l0.9-1l0.4 0.2l1.7-0.7l0.4 0.6l0.5-0.3l0.4-0.8l0.4-0.4l0.5 0.5l0.4 0.2l0.4-0.6l0.9-0.5l0.4-0.6l0.8 0.4l0.5-0.6l0.4 0.4l0.4 0.1l0.4-0.5l0.4-0.1l0.5-0.6l0.8 0.3l0.4-0.7l0.9 0.5l0.4-0.7l0.4 0l0.4 0.4l0.5-0.6l0.4 0l0.4-0.7l0.4-0.2l0.4 0.8l0.5-0.2l1.3-1.4l0.4 0.5l0.3 1.5l0.5-0.8l0.4-1.4l0.4 0.3l0.4 0l0.5-0.6l0.4-0.2l0.4 0l0.4-0.1l0.4 0.1l0.5 0.4l0.8-1.3l0.4-0.4l0.9 0.5l0.4-1l0.4 0.5l0.4 0.8l0.4 0.3l0.4 0l0.4-0.6l0.5-0.1l0.4-0.9l0.4-0.1l0.4 0.6l0.4-0.4l0.4 0l0.4 0.1l0.9-0.9l0.8 0l1.3-1.7l0.4 0.9l0.4 0.3l0.4-0.1l0.4 0.3l0.8 0.2l0.4-0.3l0.9-1.7l0.4 0.2l0.4-0.2l0.4-0.4l0.4 0l0.4 0.4l0.5-0.6l0.4-0.1l0.4 0.5l0.4 0.2l0.8-0.7l0.4 0.8l0.8-0.1l2.1-2.2l0.8 0.2l1.2-0.5l0.4 1l0.9-1.4l0.8-0.5l0.4 0.5l0.8-0.8l0.8 1.6l0.4-0.4l0.9-1.4l0.8-0.1l0.4-0.7l0.4-0.4l0.4 0l0.4 0.2l0.4 0.6l0.4 0.2l1.2-1.4l0.4 0.5l1.2 0.2l0.4-0.7l0.4 0.4l0.4-0.3l0.9-1.6l0.4 1.1l0.4 0.3l0.4 0.1l0.8-1.3l0.4 0.4l0.4-0.9l0.4-0.2l0.4 0.5l0.8-0.8l0.4 0.7l0.4 0.1l0.4-0.7l0.4 0.9l0.4-0.3l0.4-1.1l1.2-0.4l0.4-0.4l1.2 0.5l0.8-1.2l0.4-0.3l0.8 0l0.4 0.3l0.4-0.3l0.4 0l0.4 0.3l0.4-0.6l0.8 0.9l0.8-2.1l0.4 0.2l0.4 0.9l0.4-0.1l0.4-0.6l0.8 0.6l0.8-0.9l0.8-1.5l0.8 1.4l0.4 0.3l0.4-0.9l0.4-0.1l0.4 0.6l0.4 0.1l0.8-1.3l0.8-0.2l0.8-0.5l0.3 0.9l0.4 0.2l0.8-1.3l0.4 0.2l0.8-0.8l0.4 0.7l0.4 0l0.4-0.8l0.4-0.3l0.4 0.3l0.8-1.3l0.4 0l0.4 0.5l0.7 0.1l0.4-1.1l0.4-0.6l0.4 0.8l0.4-0.3l0.8-0.2l0.4-0.5l0.4 0.1l0.4-0.2l0.4 0.2l0.3 0.9l0.8-1.3l0.4 0.4l1.2-0.8l0.8 0.9l0.8-1l0.7 0.4l0.4 0.4l0.8-2.3l0.8 1l0.8-1.5l0.7 0.8l0.4-0.5l0.4 0.1l0.4-0.3l0.4 0.6l0.4-0.5l0.4-1.1l0.7 1.1l0.4 0.1l0.8-1.7l0.8 1.7l0.8-1.8l0.3-0.3l0.4 0.4l0.4-0.2l0.4-0.5l0.4 0.5l0.4 0.2l0.3-0.2l0.4 0.2l0.8-0.5l0.4 1l0.4-0.1l0.4-1.4l0.3 0l0.8-1.1l0.4 0.9l0.4 0.2l0.8-1.7"/>
<path class="n" d="M135.1 443.3L356.3 376.9L356.4 374.2L135.1 440.7z"/>
<path d="M135.1 441l0.5-0.6l0.5 0.2l0.4-0.1l0.5-1.3l1.4 0.8l1.4 0.3l0.5-0.6l0.5 0.6l0.4-0.3l0.5-1.1l0.9 0l0.5-0.7l0.5-0.1l0.4 0.9l0.5-1.2l0.5 0l0.4 0.6l1.4-2.5l0.5 1.1l0.5 0.3l0.4-0.3l0.5 0l0.5-0.3l0.9 0.1l0.4-1l0.5-0.2l0.5 0.4l0.4-0.5l0.5 0.3l2.3-1.4l0.5-0.5l0.4 0.3l0.5-0.1l0.5-0.6l0.4-0.4l0.9 1.1l0.5-0.2l0.5 0l0.9-0.8l0.9-0.5l0.5 0.4l0.4-0.2l0.5-1.3l0.5-0.1l0.4 0.7l0.9-1l0.5 1.1l0.4 0.3l0.5-0.9l0.5 0.6l0.9-1.6l0.4 0.7l1-1.4l0.9 0.3l0.4-0.1l0.5-1.3l0.5-0.4l0.9 0.3l0.4-0.8l0.5-1.3l0.4-0.6l1.4 0.2l0.5-0.4l0.4-1.2l0.9-0.1l0.5 0.3l0.9 1.3l0.9-0.7l0.9-2l0.5 1.1l0.4 0.6l1.4-2l0.9-1.6l1.4-0.6l0.4-0.5l0.9-1.7l0.9-0.1l0.5-1.5l1.4-1.6l0.4 0.4l0.5-0.3l0.9-0.9l0.4 0.1l0.9 0.8l0.9 0.2l0.4 1.4l0.5-0.1l0.9-1.7l0.9-0.8l0.4 0.5l0.5 0.2l0.5-2.2l1.3-0.8l0.5 0l0.4-0.8l0.9 3.3l0.4 0.1l0.4-0.5l0.5 0l0.4 0.7l0.9 0.5l0.4 0l0.9 1.7l0.9-0.5l0.4 0.7l0.5 0l0.8-0.6l0.5-0.6l0.8 2l0.5-0.9l1.3 0.2l0.5-0.2l0.4-1l0.9 0.3l0.4-0.2l0.5-0.6l0.8 0.5l0.5-0.4l0.4 0.3l0.9 0.2l0.9-1.2l0.8 1.2l1-2.3l0.4 0.5l0.4 0.2l0.9-0.3l2.7-6.2l0.5-0.1l0.4 0.5l0.9-0.2l0.8 1.4l1.8-1.5l0.8 1.6l0.4-0.7l0.5-0.1l0.8 1.5l0.4 0.3l0.9-2l0.5 0.2l0.4 1l0.4 0.3l0.4 0.1l0.9-1.2l0.4 1l0.4 0.3l1.3-0.1l0.4 0.5l0.5-0.4l0.4 0l0.4 0.5l0.9-1.6l0.5-0.3l0.4 0.7l0.4 0.4l0.9-1.4l0.4 0.1l0.4 0.6l0.9-1.3l0.4 1l0.4-0.3l0.9-1.4l0.4 0.4l0.4 0.9l0.9-1.7l0.9 0.3l0.4-0.2l0.4 0.5l0.4-0.5l0.5-1l0.4-0.1l0.9 0.4l0.4-0.3l0.4 0.2l0.9-0.7l0.4 0.4l0.8-0.4l0.5 0.1l0.4-0.6l0.4 0.2l0.4-0.1l0.5-0.9l0.4 0.2l0.4 0.9l0.9-1.3l0.4 0.2l0.4-0.5l0.4 0.1l0.5-0.3l0.4 0l0.4 0.3l1.3-0.1l0.8-1.5l0.4 0.6l0.5-0.7l0.8 0.4l0.5-1.2l0.4-0.1l0.4 0.4l0.4-0.1l0.4-0.5l0.5-0.1l1.2 0.4l0.9-1.4l0.4 0.7l0.4-0.4l0.8 1.1l0.4-0.9l0.5-0.2l0.4-1l0.4 0.2l0.4 1.9l0.4-0.3l0.4-1.1l0.5-0.6l0.8-0.1l0.4-0.5l0.8 0.6l0.5-0.1l0.4-0.6l0.8 1.4l0.8-0.8l0.5-1.1l0.8 0.2l0.9-1.6l0.7 1.6l0.5-0.3l0.8-2l1.2 1.1l0.5-0.5l0.4-0.2l0.4 0.9l0.8-1.8l0.4 0.7l0.4-0.1l0.5-0.8l0.4-0.1l1.2 0.8l0.8-1.1l0.8-0.1l0.9-0.5l1.2 0.7l0.8-1.1l0.5-0.8l0.4-1.8l0.4 0.5l0.4 1.3l0.4 0.4l0.4-0.8l0.4 0.6l0.4 0.2l0.4-1l0.4 1l0.8-1l0.5-0.2l0.4-1l0.4 0l0.4 1.2l0.4 0.5l0.8-2.1l0.4-0.3l0.4 0.1l0.4 0.4l0.4 0l0.5-0.5l0.4 0l0.7 0.7l0.9-0.3l1.2-1.1l0.4-0.7l0.4 0.3l0.4 0.7l0.4-0.3l0.4-1.4l0.4 0.1l0.4 0.7l0.4-0.2l0.4 0.1l0.5-0.7l0.4-0.2l0.4 0l0.7 1.1l0.5-0.9l0.4-0.3l0.4 0.3l0.8-1.8l0.8 0.7l0.4-0.1l0.4 0.8l0.4 0.3l0.8-2l0.4 0.5l0.8-0.9l0.4 1.2l0.4 0.1l0.4-1.5l0.4-0.3l0.8 0l0.4 0.6l0.4 0.3l0.4-0.8l0.4-0.3l0.4 0.5l0.8-0.8l0.4-0.6l0.8 0.5l0.4-0.2l0.8-1l0.4 0.7l0.4 0.1l0.4-0.7l0.8 0.7l0.4-1l0.4-0.3l0.4 0l0.4-0.7l0.8 1.2l0.4 0l0.4-0.1l0.4-0.7l0.8-0.3l0.4-1l0.4 0.7l0.4-0.2l0.4-0.9l0.3 0.8l0.4 0l0.8-0.4l0.4-0.7l0.4 0.2l0.4 1.1l0.8-1.7l0.8-0.6l0.4 1.2l0.8-1.4l0.4 1l0.3 0.3l1.2-1.4l0.4 0.2l0.4-0.2l0.4-0.7l1.2 0.8l0.8-1.9l0.4 0.9l0.4 0.2l0.4-0.9l0.8-0.1l0.4-0.7l0.7 0.5l0.4-0.7l0.4 0l0.4 0.7l0.4 0.2l0.4-0.9l0.4-0.4l0.4 0.5l0.3-0.6l0.4 1.1l0.4 0.1l0.4-1.6l0.8 0.9l1.5-0.7l0.4-0.5l0.8-0.4l0.4-0.9l0.4 0.4l0.4 0l0.4-0.4l1.1-0.1l0.4 0.2l0.8-0.9l0.4 0.5l0.4-0.3"/>
<path class="n" d="M145.1 452.7L368.2 384.5L368.3 382.1L145.1 450.2z"/>
<path d="M145.1 450.5l0.5-1.2l0.4 0.1l0.5 0.8l0.5-0.1l0.5-0.5l0.4-0.2l1 0.4l0.9-1l0.5 0.6l0.5-0.7l0.5-0.3l0.4 0.2l0.5-0.8l0.9-0.8l0.5-0.1l0.5 0.5l0.9 0.1l0.5-0.1l0.9-1.3l0.5 0.7l0.5 0.1l1.4-2.5l0.9 1.9l0.5 0.3l0.9-1.5l1-0.4l0.4 0.8l0.5 0.2l0.5-0.4l0.9-1l0.9-0.1l0.5-1.1l0.5-0.5l0.5 0.1l0.4-0.7l0.5 0.9l0.4 0.4l1-1.6l0.4-0.1l0.5 1.2l1.4-1.2l0.5-0.1l0.4 0.5l0.5 0l0.4 0.4l0.5-0.1l0.5-0.9l0.9-0.9l0.5-0.2l0.4 0.1l0.5 0.4l0.9-1.6l0.5-0.4l0.5-0.1l0.4 0.6l0.5 0.1l0.9-0.8l0.5-0.6l0.4-0.2l0.5 0.2l0.4-0.1l1-1.5l0.4-0.1l0.5-0.6l0.9 0.3l0.5-0.7l0.4 0.1l0.5 0.6l0.4 0.1l0.5-1.4l0.9 1l1-1.7l0.4 0.1l0.5 0.6l0.9-0.1l0.4-0.9l1-1.1l0.4 0l0.5 0.5l0.4-1l0.5-0.3l0.5-0.1l0.4-1l0.5-0.4l0.9-2.2l0.5-0.2l0.4 0.3l0.9-0.7l0.5 0.1l0.5-0.6l0.4 0l0.5 0.3l0.4 0.8l0.4-0.1l0.5-0.6l0.5 0.1l0.4-0.9l0.5-0.1l0.4 0.3l0.9 0l0.5-0.6l0.4 0.1l0.5-0.4l0.9-1.7l0.5-0.1l0.4 0.7l0.9-1.3l1.3 1.9l0.5 0l0.4-0.9l0.5 0.1l0.4 0.6l0.5 0.1l0.8 2.1l0.5-0.3l0.4-1.2l0.9 1l0.5-0.2l0.4 0l0.9-0.2l0.4 0.3l0.5 0.9l0.4-0.4l0.5-1l0.4-0.1l0.5-0.9l0.4-0.4l0.9 1.4l0.4 0.3l0.4 0.6l1-1.4l0.4-0.1l0.5-0.5l0.4 0.5l0.9-0.4l0.4 0.7l0.9-0.7l0.9-0.3l0.5-1.1l0.4 0.1l0.9-1l0.4 0.5l0.5 0.3l0.4-0.2l0.9-1.1l0.9-2.1l0.5-0.2l0.4 0.4l0.9-0.3l0.4-0.9l0.5-0.3l0.4 1.1l1.3 0.3l0.8 0.9l0.5-0.1l0.9-1.9l0.4 0.9l0.5-0.2l0.4 0.1l0.4 0.6l0.5-0.7l0.8 0.6l0.4-0.3l1-1.3l0.4 0.5l0.4 0.1l0.4 0.5l0.9-0.7l0.4 0.8l1.8-1.4l0.4 0l0.9 0.7l0.4-0.9l0.9-0.3l0.4-0.4l0.4 0.3l0.5-0.1l0.4 0.5l0.9-0.4l0.4 0.4l0.9-2.4l0.4 0.2l0.4 0.6l0.9-0.2l0.4 0l0.4 0.3l0.9-1.2l0.4 0.6l0.9 0.1l0.4 0.2l0.5-1.7l0.9-0.2l0.4-0.6l0.4 0.5l0.4 0.2l0.5-0.1l0.4-0.9l0.4 0l0.4 0.7l0.9-0.4l0.4 0.5l0.4 0.1l0.9-1.2l2.6-1.3l0.4-0.5l0.5-0.1l0.4 0.6l0.4-0.2l0.4-0.1l0.9-1.1l0.9-0.5l1.6 0.5l0.9 0l0.4-0.6l0.5-1.2l0.8 0.6l0.4 0l0.4 0.3l0.4 0l0.5-0.1l0.4-0.4l0.4-1.1l0.4 0.3l0.4 1.1l0.5-0.5l0.4-1.1l0.4 0.1l0.8 0.7l0.5-0.3l0.4-0.7l0.4-0.1l0.5-0.4l0.4 0.8l0.4 0.3l0.4-0.9l0.4 0.3l0.9-0.9l0.4 0.2l0.4-0.3l0.4-0.1l0.9-0.8l0.8 0.8l0.4-0.5l0.8 0.4l0.9-0.3l0.4-0.8l0.8 1.1l0.5-0.9l0.4-0.4l0.8-0.2l0.4-0.3l0.5-0.8l0.4 0.4l0.4 0.9l0.9-3l0.4 0.8l0.4-0.1l0.8 0.7l0.4-0.9l0.8 1.3l0.4-0.9l0.4 0l0.4 0.7l0.9-2.4l0.4 0l0.8 1.3l0.9-0.9l0.4 0.2l0.4-0.3l1.2-0.6l0.4 0.3l0.5-0.4l0.8 0.5l1.3-2.4l0.7 1.5l0.9-0.5l0.7 1.2l0.9-2.3l0.4 0.5l0.4-0.7l0.4-0.2l0.5 0l0.4-1.4l0.8 1.1l0.4 0.1l0.4 1l0.8-2.4l0.4 0.1l0.4 0.6l0.9-1l0.4 0.5l0.4-0.4l0.4 0.7l0.4 0.3l0.8-1.8l0.4-0.3l0.4 0.2l0.4-0.4l0.8 1.1l0.5-1.4l0.4 0.1l0.3 1.1l0.9-2.1l0.8 1l0.4 0l0.4-0.8l0.4 0.4l0.8-0.8l0.8 0.3l0.8-1l0.4 1.3l0.8-1.4l0.8 1.3l0.4-0.1l0.4-1.1l0.8-0.6l0.9-0.3l0.4-0.6l0.7 1.5l1.3-2.1l0.4 0.2l0.3 1l0.9-1.6l0.8-0.2l0.8 0.9l0.3 0l0.9-1.2l0.8-0.1l0.8 0.3l0.4-0.4l0.4 0l0.8-1.7l0.4 0.5l0.4 0l0.4 0.4l0.8-1.2l0.8 0.2l0.3 0.4l0.5-0.6l0.3-0.1l0.4 0.4l0.4 0.2l0.4-0.4l0.4-1l0.4 0.1l0.8-1l0.4 1l0.8-0.5l0.4 0.4l0.4-0.1l0.4-0.7l0.4 0.1l0.4-0.3l0.4-0.6l0.4 0.3l0.4-0.3l0.4 0.1l0.4 0.3l0.7 0.2l0.8-0.9l0.4-0.2l0.4 0.1l0.4 0.2l0.4-0.1l0.8-1l0.4-1.3l0.4 0.2l0.4 1.3l0.4 0l1.6-2.2l0.7 0.7l1.2 0.1l0.4-0.2l0.8 0.4l0.3-0.5l0.8-0.2l1.2-1.3l0.4 0.4l0.4 0.2l0.4-0.1"/>
<path class="n" d="M155.3 462.4L380.5 392.4L380.5 389.9L155.4 459.4z"/>
<path d="M155.4 459.7l0.4 0.3l0.5-1l1-0.2l0.9 0.5l0.5-0.2l1-1.7l0.9 0.9l1 0.1l0.4-0.1l1-0.7l1-1l0.4 0.5l0.5-0.2l0.5-0.5l0.5 0.1l0.4-0.9l1 0l0.5-0.6l0.4 0.1l0.5 0.6l0.5 0l0.5-0.1l0.4 0.5l0.5-0.2l0.5-1.8l0.5-0.9l0.4 1.3l0.5 0.4l0.9-0.5l0.5-0.5l0.5 0.4l0.5-0.3l0.4-0.5l0.5 0l1.4-0.5l0.5-0.8l0.5-0.3l0.4 0.4l0.5 0.8l0.5-0.1l0.4-0.8l1 0l0.4 0.2l1-0.3l0.5-0.3l0.4-0.8l0.5 0.2l0.9-0.5l0.5 0l0.5-1.1l0.4-0.3l0.5 0.8l0.5 0.1l0.4 0l1-0.5l0.4-0.1l0.5-0.7l0.5-1.4l0.5 0.1l0.4 0.8l0.5 0.3l0.4-0.2l0.5-0.6l0.5-1.1l0.4 0l0.5 0.3l0.5-1.2l0.5-0.5l0.4-0.2l0.5 0.3l0.4-0.1l1 0.2l0.4-0.8l0.5 0.1l0.9-0.2l0.5 0.6l0.4-0.4l0.5-0.7l0.5 0.1l0.4-0.1l0.5-0.3l0.4 0.2l1-2.4l0.9 0.3l0.9-0.3l0.5-0.7l0.5-1l0.9-0.8l0.5-1l0.5-0.1l0.4-0.5l0.5-0.1l0.9 0.6l0.4 0l0.5-0.6l0.4 0.7l1-0.8l0.4 1.1l0.5-0.3l0.9-2.4l0.5-0.7l0.5 0l0.4 0.8l0.4 0.3l1-1.2l0.4 0.5l0.5-0.6l0.5-1.6l0.4 0.6l0.5 0l0.4-0.7l0.9-0.6l0.9 1.4l0.4 0.5l0.9 0.3l0.5 0l0.4 0.4l0.4 1l0.5 0l0.5-1.3l0.8 1.6l0.5-0.8l0.4 0.3l1-1.4l0.8 1l0.5-0.2l0.9 0.2l0.5-1.5l0.4 0.7l0.4 1.2l0.5-0.2l0.4 0.1l0.5-0.3l0.4-1.2l0.9 1l0.9 0.5l0.4-1l1-1.1l0.8 1.4l0.9-1.2l0.5 0.1l0.4 0.9l0.9-0.7l0.4-0.2l0.5-1.3l0.5 0.3l0.4 0l0.5-1.2l0.4 0.4l0.5-0.2l0.4 0l0.4 0.5l0.5-1.1l0.4-0.5l0.5 0.4l0.4-0.5l0.5 0.2l0.4-0.5l0.5 0.1l0.4 0.7l0.4-0.3l0.5 0.4l0.9-1.7l0.4 0.7l0.4-0.4l0.5-0.7l0.9-0.1l0.8 1l0.5-0.8l2.2-0.6l0.4 0.8l1.3-1l0.5 0l0.4-0.3l0.5-1l0.9-0.1l0.4-0.7l0.5-0.1l0.4 0.4l0.8-0.2l0.5-0.9l0.4 0.4l0.4 1.3l0.9-0.5l0.4 0.2l0.5-1l0.4 0.1l0.4 0.6l0.5-0.8l0.4 0l0.9-0.9l2.2 0.5l0.4-0.8l0.4 0.7l0.5-0.3l0.4-0.9l0.5-0.4l0.4 0.1l0.9-1l0.4 0.6l0.4 0l0.9-1.3l0.9-0.9l0.4 1.5l0.4-0.6l0.5-1.1l1.2 1l0.9-0.4l0.4 0.3l0.4 0l0.5-1.3l0.4 0.2l0.4 1.1l0.9 0.3l0.9-2.3l0.4 0.8l0.4 0l0.5-0.9l0.4-0.3l0.5-1.4l0.8 2.2l0.4-1.2l1.3-0.3l0.4 0.3l0.9-1l0.4-0.1l0.4 0.8l0.4-0.1l0.5-1.3l0.4-0.2l0.4 1l0.4 0.2l0.9-0.5l0.5-1.1l0.4 0.2l0.4 0.4l0.9-2.1l0.4 0.1l0.8 0.8l0.4-0.1l0.5 0.1l0.4-0.1l0.4-0.9l0.5-0.3l0.4 0.2l0.8-0.4l0.5-0.5l0.8 0.1l0.4 0.3l0.4-0.4l0.5-0.7l0.4 0.6l0.8-0.8l0.4 0.2l0.5-0.3l0.4-0.1l0.4 0.9l0.4 0.3l0.5-1.8l0.4-0.5l0.4-0.1l0.4 0.2l0.4 0.6l0.5-0.5l0.3 0.9l0.4 0.5l0.5-1.4l0.4-0.7l0.4 0.4l0.5-1l0.4 0.4l0.8-0.3l0.4 0.9l0.5-1.5l0.4-0.5l0.8 1l0.9-1.2l0.4 0.1l0.4 1l0.4-0.3l0.4-1.2l0.4 0.9l0.8 0l0.4 0.5l0.5-0.8l0.4-0.5l0.4 0l0.9-1.2l0.4-0.1l0.4 0.5l0.4 0.1l0.4-0.7l0.4-0.2l0.5 0l0.8 0.4l0.4-1.1l0.4-0.3l0.4 1l0.4 0l0.8-0.5l0.5-0.9l0.8 0.9l0.8-1.3l0.4 0.4l0.4 0.1l0.5-0.7l0.4 0.3l0.4-0.5l0.4 0.2l0.4-0.1l0.4-0.8l0.4 0.6l0.8-0.6l1.2 0.5l0.5-0.7l0.4 0.1l0.4 0.3l0.8-1l0.4-0.1l0.4 0.2l0.4-0.3l0.5-0.8l0.4 0.2l0.4-0.1l0.8 0.3l0.8-0.6l0.4-1l0.4 0.4l0.4 1l0.4-0.1l0.4-0.7l0.4 0.2l0.9-1.8l0.4 0.1l0.4 1l0.4 0.2l0.4-0.9l0.4 0.3l0.4 0l0.4-0.9l0.8-0.6l0.4 0.6l0.4 0.2l0.4-0.8l1.2 0.3l0.8-0.4l0.8 0l0.5-0.5l0.4 0.1l0.8-0.9l0.8 0.6l0.4-0.1l0.4-0.6l0.4-0.1l0.4 0.8l0.4-0.4l1.2-2.7l0.8 1.7l0.8-0.8l0.4 0.2l0.4-0.3l0.4-1l0.4-0.1l0.8 0.8l0.8-1l0.4 0.5l0.4-0.5l0.8 0.7l0.4-1l0.4-0.3l1.2 0.4l0.8-0.6l0.8-0.2l0.8-0.8l0.4 0.1l0.4 0.5l0.8-0.9l0.4-0.8l0.4-0.1l0.4 0.5l0.4-0.2l0.4 0.4l0.7 0.5l0.8-1l0.4 0.4l1.6-1.6l0.8 0.1l0.4-0.2l0.4 0.1l0.4 0.5l0.4-0.1l0.4-0.3l0.4-1.2l0.4-0.1l0.4 0.5l0.7-0.2l0.5-0.9l0.8-0.7l0.3 0.8l0.4 0.1l0.4-0.2l0.4 0"/>
</g>
<line x1="401.8" y1="41.9" x2="393.0" y2="400.4" stroke="#6a6a6a" stroke-width="1.0"/>
<line x1="49.2" y1="362.3" x2="165.9" y2="472.3" stroke="#6a6a6a" stroke-width="1.0"/>
<line x1="165.9" y1="472.3" x2="393.0" y2="400.4" stroke="#6a6a6a" stroke-width="1.0"/>
<line x1="49.2" y1="362.3" x2="44.8" y2="363.4" stroke="#6a6a6a" stroke-width="1.0"/>
<line x1="66.0" y1="378.1" x2="61.4" y2="379.3" stroke="#6a6a6a" stroke-width="1.0"/>
<line x1="83.7" y1="394.8" x2="79.1" y2="396.1" stroke="#6a6a6a" stroke-width="1.0"/>
<line x1="102.4" y1="412.5" x2="97.7" y2="413.8" stroke="#6a6a6a" stroke-width="1.0"/>
<line x1="122.3" y1="431.2" x2="117.5" y2="432.6" stroke="#6a6a6a" stroke-width="1.0"/>
<line x1="143.4" y1="451.1" x2="138.5" y2="452.6" stroke="#6a6a6a" stroke-width="1.0"/>
<line x1="165.9" y1="472.3" x2="160.9" y2="473.9" stroke="#6a6a6a" stroke-width="1.0"/>
<line x1="206.8" y1="459.4" x2="209.7" y2="461.9" stroke="#6a6a6a" stroke-width="1.0"/>
<line x1="243.4" y1="447.8" x2="246.4" y2="450.2" stroke="#6a6a6a" stroke-width="1.0"/>
<line x1="278.9" y1="436.5" x2="282.0" y2="438.9" stroke="#6a6a6a" stroke-width="1.0"/>
<line x1="313.3" y1="425.6" x2="316.4" y2="427.9" stroke="#6a6a6a" stroke-width="1.0"/>
<line x1="346.6" y1="415.1" x2="349.8" y2="417.3" stroke="#6a6a6a" stroke-width="1.0"/>
<line x1="379.0" y1="404.8" x2="382.3" y2="407.0" stroke="#6a6a6a" stroke-width="1.0"/>
<line x1="165.9" y1="472.3" x2="168.7" y2="474.9" stroke="#6a6a6a" stroke-width="1.0"/>
<g transform="translate(0 0)">
<text x="37.4" y="371.1" text-anchor="end" class="t">0</text>
<text x="53.7" y="386.6" text-anchor="end" class="t">10</text>
<text x="69.9" y="403.3" text-anchor="end" class="t">20</text>
<text x="89.0" y="421.9" text-anchor="end" class="t">30</text>
<text x="108.8" y="441.0" text-anchor="end" class="t">40</text>
<text x="129.3" y="461.5" text-anchor="end" class="t">50</text>
<text x="152.6" y="482.7" text-anchor="end" class="t">60</text>
<text x="173.8" y="496.0" class="t">3100</text>
<text x="214.0" y="484.3" class="t">3000</text>
<text x="251.1" y="471.6" class="t">2900</text>
<text x="287.2" y="459.9" class="t">2800</text>
<text x="322.1" y="448.3" class="t">2700</text>
<text x="356.0" y="437.7" class="t">2600</text>
<text x="387.8" y="428.1" class="t">2500</text>
<text transform="translate(33.7 204.8) rotate(-90)" text-anchor="middle" class="b">Absorbance</text>
<text transform="translate(82.6 455.1) rotate(44)" text-anchor="middle" dy="8" class="b">Time (min)</text>
<text transform="translate(194.1 528.6) rotate(-15.2)" class="b" style="font-size:23.6px">Wavenumbers (cm<tspan dy="-21" dx="3" font-size="15">-1</tspan><tspan dy="13" dx="1">)</tspan></text>
</g>
</g>
<g transform="translate(426.8 9.6) scale(0.984 0.984)">
<line x1="41.0" y1="26.7" x2="252.9" y2="7.6" stroke="#6a6a6a" stroke-width="1.0"/>
<line x1="252.9" y1="7.6" x2="401.8" y2="41.9" stroke="#6a6a6a" stroke-width="1.0"/>
<line x1="41.0" y1="26.7" x2="49.2" y2="362.3" stroke="#6a6a6a" stroke-width="1.0"/>
<line x1="252.9" y1="7.6" x2="252.2" y2="310.1" stroke="#6a6a6a" stroke-width="1.0"/>
<line x1="49.2" y1="362.3" x2="252.2" y2="310.1" stroke="#6a6a6a" stroke-width="1.0"/>
<line x1="252.2" y1="310.1" x2="393.0" y2="400.4" stroke="#6a6a6a" stroke-width="1.0"/>
<g class="s" fill="#00ffff">
<path class="n" d="M49.2 362.3L252.2 310.1L252.2 307.8L49.2 360.2z"/>
<path d="M49.2 360.5l0.8-0.1l0.4-0.7l0.4-0.2l0.5 0.2l0.4-0.7l0.4-0.2l0.5 0.3l0.8-1l0.4 0.2l0.9-0.1l0.4-0.3l0.4 0l0.4 0.3l0.5-0.4l1.3 0.7l0.4-0.9l0.4-0.3l0.4 0.6l0.4-0.3l0.4-1.3l0.5-0.6l0.4 1.1l0.4 0.5l0.5-0.2l0.4-0.7l0.4-0.3l0.4 0.1l0.4-0.6l0.4-0.1l0.5 0.6l0.8-0.5l0.9-0.9l0.8 0.5l0.4-0.1l0.4-0.7l0.9-0.5l0.4-0.5l1.2-0.5l0.5 0.4l0.4-0.3l0.4-0.7l0.4-0.3l0.4 0.1l0.9 0.8l0.4 0l0.4-0.9l0.4-0.3l0.9 0.4l0.4-0.7l0.4-0.3l0.4-0.6l0.4 0l0.5 0.2l0.4-0.3l1.6 0.5l0.5-0.2l0.4-0.7l0.4-0.1l0.8 0.5l0.4-0.1l0.5-0.5l0.4 0.1l0.8-1.1l0.4 1l0.4 0.1l0.5-0.3l0.4 0.1l0.4-0.1l0.8 0.1l0.4-0.3l0.8-1.5l0.5-0.3l0.4 0.2l0.8-1.5l0.8-0.4l0.4-0.7l0.4-0.1l0.4 0.3l0.5-0.1l0.8-0.5l0.4 0.3l0.4 0.9l0.4 0l1.7 0.7l0.8 0.2l0.4 0.3l0.4 0.8l0.4-0.2l1.3 0.3l0.4-0.7l0.4 0.1l0.4 0.4l0.4-0.5l0.4 0.3l0.4-0.1l0.4-0.5l0.9 0.4l0.4-0.4l0.8 0l0.4-0.5l0.4 0.2l0.4 0l0.4-0.5l0.4 0l0.4-0.6l0.4 0.1l0.4 0.6l0.8-1.8l0.9 1l0.8-0.9l0.4 0.1l1.2 0l0.4-0.8l0.4-0.2l0.4 0.4l0.8 0l0.8 0.3l0.4-0.9l0.4 0l0.4 0.5l0.9 0l1.6-0.9l0.4 0.5l0.8-1.4l0.8 0.8l0.4-0.7l1.2-0.2l0.4 0.2l0.4-0.1l0.4 0.1l0.4-0.4l1.2-0.8l0.4 0l0.4-0.4l0.4 0.2l0.8-0.2l0.4 0.2l0.4-0.2l0.4-0.7l0.4 0.1l0.4 0.5l1.2-0.8l0.4-1.3l0.4-0.5l0.4 0.9l0.4 0.3l0.4 0l0.4-0.4l0.8-0.3l0.4-0.6l0.4 0l0.8-1.2l0.4 0.7l0.4 0l0.4-0.2l0.4 0.2l1.6-1.4l1.2 1.2l1.5-1.5l0.4-0.6l0.8 1.1l0.4 0l1.2-0.9l0.8 0.2l0.4-0.5l0.4 0.1l0.4 0.3l0.4-0.4l1.2-0.4l0.3 0.1l0.4 0.8l0.8-0.5l0.8 0l0.8-0.6l0.4-0.1l0.8 0.7l0.4-0.4l0.7 0l0.4-0.3l0.8-1.1l0.8 0.4l1.2-0.4l0.4 0.4l1.1-0.4l0.8-1l0.8 0.4l0.4-0.3l0.8 0.2l0.4-0.1l0.3-0.7l0.4-0.2l0.4 0.2l0.4-0.1l0.4 0.3l0.8-0.2l0.4-0.3l0.7 0.3l0.8-0.9l0.4 0.1l0.8-0.2l0.7 0.2l0.4-0.4l0.4-0.8l0.4-0.1l0.4 0.3l0.4-0.1l0.4-0.3l0.4 0l0.7 0.5l0.4 0.1l0.4-0.4l0.8 0.2l0.4-0.5l0.7 0l1.2-1l1.1 0.7l0.4-0.1l0.8-1l0.8-0.4l0.7 0.8l0.4-0.1l0.8 0.2l0.7-0.6l0.4-0.1l0.8-0.8l0.4 0.1l0.3 0.6l0.4-0.2l0.4-0.8l0.4-0.4l1.5 0.3l0.8-1l0.4-0.1l0.3-0.1l0.4 0.8l0.4 0.2l0.4-1.3l1.1-1.2l0.8 0.7l0.4 0l0.3-0.8l0.4 0l0.4 0.2l1.1-0.3l0.4 0.2l0.8-1.2l0.4 0.2l0.3 0l0.4-0.4l0.8 0l0.4-0.6l0.7 0.1l0.4-0.2l0.4 0.5l0.3-0.7l0.4-0.2l0.4 0.4l0.7-0.3l0.4 0.1l0.8-0.8l0.7 0.7l0.4 0l0.7-0.3l0.4 0.1l0.4-0.5l0.7-0.4l0.4 0.1l0.4 0.3l0.4-0.1l0.7-0.3l0.4-0.5l0.4 0l0.3 0.4l0.8-0.5l0.4-0.4l0.7 0.8l0.8-0.6l0.7 0.1l0.4-0.5l0.7-0.2l0.8 0.1l0.3-0.4l0.8-0.4l0.7-0.1l0.8-0.8l0.3-0.2l0.4 0l0.4 0.5l0.4 0.1l0.3-0.7l0.4 0.2l0.4 0.5l0.3-1.1l0.4-0.5l0.8 0.7l1.1-0.1l0.7-0.6l0.4-0.1l0.3 0.6l0.8-0.7l0.3 0.1l0.4 0.5l0.8-0.5l0.3-0.1l0.4-0.5l0.7-0.1l0.4-0.1l0.4 0.3l0.3-0.1l0.4-0.4l0.4 0.4l0.3 0.1l0.4-0.2l0.4 0.1l1.1-0.6l0.3-0.5l0.4 0.3l0.4 0l0.3 0.3l0.4 0.6l0.4-0.2l0.3-0.7l0.4-0.2l0.7 0.2l0.8-0.7l0.3-0.2l0.7 0.8l0.8-1l0.3 0.2l0.4-0.1l0.7-0.7l0.4 0.3l0.4 0.1l0.3-0.4l0.8 0.1l0.3-0.5l0.8 0.3l0.3-0.2l0.4-0.7l1.4-0.2l0.8-0.7l0.3 0.3l0.4 0.1l0.3-0.2l0.4 0l0.4-0.3l0.3 0l0.8-0.7l0.3 0.3l0.4-0.2l0.3-0.5l1.1 0.2l0.4-0.9l0.4-0.3l0.3 0.6l0.4-0.4l0.7 0.4l0.4-0.5l0.3-0.1l0.4 0.1l0.3-0.3l0.4 0.1l0.7-0.8l0.4 0.5l0.3 0l0.4-0.3l0.3 0.1l0.4-0.3"/>
<path class="n" d="M56.9 369.6L86.7 361.8L86.7 361.5L56.9 368.9z"/>
<path d="M56.9 369.2l0.4 0.1l0.4-1.2l0.9 0l0.4-0.5l0.5 0.1l0.4-0.3l0.9 0.9l0.4-0.6l0.4 0.2l0.5-0.2l0.4-1l1.2-0.5l0.5-0.1l0.8 0.3l1.3-0.6l0.9-0.1l0.4-0.6l0.9 0.6l0.4-1l0.4-0.1l0.4-0.4l0.5 0.5l0.4 0.2l0.4-0.7l0.4 0.5l0.5-0.2l0.4-0.8l0.4-0.1l0.8 0l0.5 0.3l0.8-1l0.4 0.4l0.5-0.2l0.4-0.9l0.4 0l1.3 1.6l0.4-0.7l1.3-0.4l0.4 0.1l0.4 0.3l0.5 0l0.4-0.7l0.8-0.3l0.4-0.2l0.9 0.4l1.3-0.8l0.4-0.1l0.4 0.6l0.4-0.2l0.4-0.5l0.5 0.5"/>
<path d="M88.8 361.2l0.4-0.7l0.4-0.1l0.4 0.3l0.8-1l0.5 0.1l0.4 0.4l0.4-0.2l0.4-1.2l0.4-0.1l0.5 0.7l0.8-1.2l0.4 0l3.3-2.2l1.7-3.8l1.6-8.5l0.4-2.9l2-19.2l0.8-3.9l0.4-0.6l0.4 1.4l0.9 4.9l0.9 7.9l1.7 12.2l1.2 5.1l1.3 3l0.8 0.1l0.4 0.4l1.2-0.3l0.9 0.9l0.4-0.7l0.4-0.3l0.8 0l0.4-0.3l0.4 0.3l0.4-0.1l0.5-0.5l1.2-0.1l0.4-1l0.8-0.3l0.4-0.4l0.4 0.1l0.8-1.3l0.4-0.3l0.5 0.2l0.8-2.5l0.4-0.2l0.4-0.8l0.8-2.2l1.2-6.7l0.9-7.3l0.4-5.5l0.8-17.2l1.4-45.4l0.4-10.5l1.2 12.1l0.4 2.6l1.2 5.3l1.3 4.2l0.4 0.7l0.8 3.1l0.4 0.5l0.8 2.8l1.6 4.4l1.6 6l1.2 3.1l1.2 3.7l0.8 1.7l0.8 2.6l0.4 0.7l1.6 4.8l0.8 3.2l0.4 0.8l1.5 5.1l0.8 2l0.4 1.7l1.2 2.3l0.8 2.6l0.8 1.7l2.3 6.7l0.8 2.6l0.4 1l0.7 1.2l1.2 3.2l0.4 0.3l0.4-0.3l0.4 0.4l0.4 0l0.8-0.8l0.8 0.2l0.3-0.1l0.3 0.4"/>
<path d="M162.6 342l0.1-0.3l0.4-0.5l1.2 0.2l0.8-0.4l0.4 0.1l0.8-1l0.4 0.3l0.8 0l0.3 0.2"/>
<path d="M167.9 340.6l0.3-0.5l0.4-0.5l0.8 0.1l0.3 0.4"/>
<path d="M169.9 340.1l0.3-0.4l0.4-0.7l0.8 0.3l1.2-1.3l0.7-0.3l1.6-2.6l0.4-1l0.8-3.4l0.8-2.6l1.3-6.9l1.6-5.6l0.4-0.9l0.3-0.3l0.4 0.7l0.8 2.8l1.1 6.8l0.7 1.8l0.4 1.5l0.8 1.5l0.7 2.5l1.1 1.2l0.4 0.2l0.8-0.1l0.4-0.3l0.8 0.5l0.7-0.3l0.4-0.3l0.4 0.1l0.4 0.6l0.4-0.8l0.4-0.1l0.3 0.4l0.4-0.7l0.8 0.3l1.1-0.7l0.8 0.5l0.8-0.8l0.3 0.8l0.4 0.1l0.4-0.4l0.8-0.3l0.4 0.3l0.7-1.1l0.4 0.9l0.4 0l0.4-0.3l0.3 0.2l0.8-0.6l0.8 0l0.4-0.4l0.3 0.1l0.4 0.3l0.8-1.2l0.7 0.8l0.4-0.6l0.8 0.2l0.4-0.1l1.1-1.1l0.4-0.3l0.4 0.2l0.7-1.1l0.4 0.5l0.4 0.2l0.4-0.5l0.3 0.1l0.4-0.2l0.4 0l0.4 0.4l0.7-0.7l0.8-0.1l0.4-0.3l0.7 0.3l0.8-1.1l0.3 0.2l0.4-0.2l0.4 0.3l0.4 0.1l0.7 0l0.4-0.4l0.7 0.4l0.4-0.4l0.4 0.3l1.1-0.3l0.2 0.3"/>
<path d="M221.1 326.7l0-0.1l0.4-0.2l0.4 0l0 0.1"/>
<path d="M235.9 322.9l0.1-0.3l0.4-0.8l0.4 0.8"/>
<path d="M238.7 322.1l0.3-0.5l0.4-0.4l0.3 0.3l0.8-0.7l0.3 0.6l0.4-0.3l0.4 0l0.3 0.2l0.4-0.7l0.4-0.2l0.3 0.3l0.4-0.2l0.4 0.2l0.1 0.1"/>
<path d="M244.3 320.7l0.2-0.2l0.4-0.4l0.3 0.1l0.3 0.2"/>
<path d="M246 320.2l0.3-0.2l0.4-0.4l0.4 0l0.2 0.3"/>
<path d="M248 319.7l0.2-0.3l0.3-0.5l0.8 0.4l0.7-0.8l0.4 0.6"/>
<path d="M250.8 319l0.3-0.4l0.4 0.1l0.3-0.2l1.1-1.2l0.4 0.8l0.4-0.2l0.3-0.7l0.4 0.4l0.2 0.4"/>
<path d="M255.3 317.8l0.2-0.4l0.7-0.6l0.4 0.5l0.1 0.1"/>
<path class="n" d="M257.2 317.3L261.6 316.2L261.6 314.6L257.2 317.0z"/>
<path d="M257.2 317.3l0.1-0.2l0.4-0.6l0.3-0.1l1.1-1.1l0.4 0.2l0.3-0.2l0.8 0.5l0.3-0.5l0.7-0.4"/>
<path class="n" d="M64.8 377.0L78.4 373.4L78.4 373.1L64.8 374.9z"/>
<path d="M64.8 375.2l0.4-0.2l0.5 0.2l0.4-0.4l0.4 0.2l0.5 0.8l0.4-0.6l0.4-0.3l0.9 0.1l1.3-0.9l0.4 0.1l0.5 0.5l0.4 0.2l0.4-0.5l0.5 0.4l0.4-0.1l0.4-0.9l0.5 0.4l0.8-0.4l0.5 0.3l1.3-0.7l0.4 0.2l0.8-0.7l0.9 0.4l0.2 0.1"/>
<path d="M79.3 373.2l0.2-0.4l0.9 0.1l1.7-1.2l0.4-0.1l0.9 0.3l0.4-0.3l0.4 0.2l0.9-1l0.4 0.4l0.4 0.1l0.9-0.8l0.4 0.4l0.3 0.1"/>
<path d="M88.9 370.6l0.4-0.4l0.4-0.7l0.5 0.1l0.4-0.1l0.4-0.9l0.4-0.3l0.5 0.7l0.4 0.1l0.4-0.6l0.4-0.2l1.3 0.3l0.9-0.9l0.8 0l0.9-0.9l0.4 0.1l0.4 0.7l0.4-0.3l0.9 0.1l0.4-1l0.8 0.1l1.3-1.1l0.4-0.1l0.5 0.5l0.4 0l0.4-0.6l0.4 0.4l0.4-0.2l0.4-1.2l0.5 0.1l0.4-0.2l0.8-1.2l0.9-1.6l1.2-4l1.2-7.7l2.4-24.7l0.9-5.6l0.4-0.5l0.4 1.3l0.4 2.6l3.1 26.5l1.7 7l0.4 0.3l0.4-0.5l0.8 1.4l0.4 0.2l0.9 0.7l0.8-0.9l1.7 0.8l0.4-0.4l0.4-0.1l0.8-0.8l0.8-0.1l0.5-0.4l0.4-0.8l0.4 0l1.2-0.4l0.4-0.3l0.4-0.7l0.5-1.3l0.4-0.5l0.4 0l0.4-0.3l0.8-1.6l0.8-2.3l0.5-1.2l0.8-4.9l0.8-6.5l0.9-12.4l0.9-21.3l1.8-70.2l1.3 14.6l0.4 3.6l0.8 4.9l1.6 6.2l0.8 4.1l1.7 5.5l0.4 1.8l0.8 2.6l0.8 3.9l0.8 2.5l4 15.2l2.8 9.7l2 8.4l1.1 3.9l0.8 3.7l0.4 0.5l0.8 3.7l2.7 9.8l0.8 3.8l0.8 1.3l0.8 3.6l1.5 4.9l0.3 0"/>
<path d="M175.1 347.8l0.1 0l0.8-1l0.4-0.1l0.4 0.3l0.4 0l0.4-0.8l0.4-0.3l0.3 0l0.4-0.6l0.4 0l0.4 0.4l0.4-0.5l0.8-0.5l1.2-1l0.4-0.9l0.4-0.3l0.4 0.2l0.4-1.2l0.8-1.3l0.4-2.4l0.8-2.4l0.9-5.1l1.2-5.9l1.2-4.6l0.4-0.3l0.4 0.4l0.4 0.9l0.7 2.5l1.9 10l1.5 5.8l0.4 0.8l0.3-0.5l0.8 0.6l0.4-0.4l0.4 0l0.8 0.7l0.4 0.1l0.7-0.5l0.8 0.5l0.8-0.9l0.8 0.4l0.3-0.2l0.4 0.2l0.4-0.2l0.4-0.6l0.4 0.1l0.8-0.1l0.4 0.5l0.3-0.2l0.4-0.9l0.4-0.5l0.4 0.7l0.4 0.1l0.4-0.9l0.4-0.2l0.7 0.2l0.4-0.1l0.4-0.6l0.8-0.1l0.7 0.6l0.4-0.1l0.4 0.4l0.4-0.4l0.8 0l0.3-0.5l0.4 0.1l0.4-0.3l0.8-0.8l0.4 0.3l0.7-0.3l0.4 0.9l0.4-0.5l0.8 0.2l0.3-1l0.4-0.1l0.4 0.5l0.8-0.1l0.3 0.4"/>
<path d="M221.1 335.6l0.3-0.3l0.4-0.4l0.4 0l0.2 0.4"/>
<path d="M224 334.9l0.1-0.1l0.3-0.2l0.4 0l0.4-0.6l0.4 0.4l0 0.1"/>
<path d="M228.2 333.8l0.4-0.6l0.8 0l0.3 0.1l0 0.1"/>
<path d="M232.6 332.6l0.2-0.4l0.3-0.7l0.8 0.7l0 0.1"/>
<path d="M236.3 331.6l0.2-0.3l1.1-0.1l0.1 0"/>
<path d="M238.6 331l0.2-0.3l0.4-0.3l0.3 0.2l0.1 0.1"/>
<path d="M253.3 327.1l0.4-0.2l0.4-0.9l0.3 0l0.3 0.8"/>
<path class="n" d="M255.4 326.6L271.3 322.4L271.3 321.5L255.4 326.3z"/>
<path d="M255.4 326.6l0.1-0.2l1.1-0.9l0.4 0.2l0.4-0.1l0.3-0.7l0.4 0l0.7 0.5l0.4-0.7l0.8-0.4l0.3-0.8l0.4-0.1l0.4 0.6l1.4-0.9l0.4 0.2l0.7 0l0.4 0.2l0.4-0.4l0.3-0.1l0.4-0.5l0.7 0.3l0.4-0.2l1.1-0.2l0.4 0.4l0.3-0.1l0.4-0.7l0.4-0.1l1.4-0.1l0.4 0.4l0.7-0.4"/>
<path class="n" d="M72.9 384.7L75.6 384.0L75.6 383.7L72.9 384.0z"/>
<path d="M72.9 384.3l0.5-0.7l0.4 0l0.4 0.6l0.5-0.7l0.4-0.3l0.5 0.8"/>
<path d="M77.1 383.6l0.2-0.4l0.4-0.4l0.5 0.2l0.3 0.2"/>
<path d="M78.7 383.1l0.4-0.4l0.8-0.9l0.5-0.1l0.4 0.4l1.3-0.3l0.3 0.3"/>
<path d="M86.1 381.1l0.4-0.6l0.8 0l0.4-0.6l0.5-0.1l0.9 0.4l0.4-0.3l0.4-0.1l0.9-0.5l0.4-0.1l0.4 0.1l0.5-0.3l0.4-0.7l0.9 0.4l1.3-1l0.4-0.2l0.4-0.3l0.4 0l0.9-0.6l0.4 0.8l0.9-1.4l0.9-0.4l0.8 0.6l0.9-0.9l0.4 0l0.9-0.6l0.4 0.3l0.4-0.1l0.4-0.2l0.5-0.5l0.4 0l0.8-0.8l0.5 0.4l0.4-0.9l0.4 0l0.5 0.7l0.8-0.6l0.4 0.3l0.9-0.4l0.4 0.4l0.4 0.1l0.9-1.8l0.4 0.2l0.4-0.1l0.9-0.5l0.4-0.5l0.4-0.2l0.5 0l0.4-0.3l0.4-0.6l0.4-0.3l0.5-0.6l0.4-1.3l0.8-1.5l0.4-1.6l1.3-6.8l2.5-23.9l0.8-4.9l0.4-0.7l0.4 1.4l0.5 3.1l2.1 18.7l0.9 5.7l0.4 2.5l1.3 4.4l1.7 2.1l0.4-0.1l0.4-0.4l0.8 0.6l0.5 0l0.8-0.8l0.4 0.1l0.4 0.4l0.9-0.1l0.8-0.5l0.4 0.3l0.9-1.1l0.4 0.1l0.4-0.4l0.4 0.1l0.4-0.7l0.4-0.3l0.5-0.1l0.4-0.7l0.8-0.4l1.3-3.1l0.8-1.3l0.8-2.9l0.9-5.1l0.8-7.5l0.9-12.3l0.9-21.7l1.5-60.1l0.5-13.2l1.6 19.6l1.6 8.7l1.3 4.4l0.4 0.9l0.8 3.8l0.8 2.5l0.8 4.5l0.9 2.2l1.6 6.9l0.4 0.9l1.6 6.4l0.8 2.4l0.8 3.7l0.4 0.5l0.4 1l0.4 2.8l1.6 5.4l1.2 5.2l1.6 5.2l1.5 7.4l1.6 4.5l0.8 3.5l0.8 2.3l0.8 3.7l3.5 13.1l0.4 0l1.2-0.6l1.2 0.1l0.8-0.9l0.4 0.4l0.3 0.6"/>
<path d="M180.4 355.8l0.3-0.5l0.4-0.5l0.4 0.3l0.8-0.8l0.4 0.3l0.8-0.5l0.4 0l0.8-0.9l0.8 0l0.4-0.2l0.4 0.5l0.8-0.7l0.4 0.3l0.4-0.3l0.8-0.2l0.4-1l0.4-0.3l0.4 0.6l0.8-0.9l0.4 0.2l0.8-1.8l0.4-0.4l0.4 0.2l0.4-0.2l0.4-2.2l0.8-2.3l2.1-10.5l1.7-6l0.4-0.6l1.1 2.4l1.5 8.1l0.8 2.2l0.3 2l1.2 4.1l0.3 0.7l0.4 0.5l1.6 0.2l0.4 0.5l0.8 0.5l0.3-0.2l0.4-0.6l0.4 0.4l0.4-0.2l0.4 0.1l1.6-0.4"/>
<path d="M212.4 347.2l0.3-0.4l0.8 0l1.2-0.8l0.4-0.6l0.4 0l0.3 0.6l0.8-0.9l0.8 0.3l0.8-0.5l0.7 0l0.4-0.1l0.8-0.8l0.4 0l0.4 0.4l0.4 0l0.7-0.8l1.6 0l0.4-0.6l0.8-0.4l0.7 0.6l1.2-0.7l0.7-0.2l0.4-0.4l0.8 0.2l1.2-0.5l0.7 0l0.8 0.4l0.8-0.5l0.7-0.9l0.4 0.7l0.4 0.1l0.4-0.5l0.4-0.2l0.3 0.4l0.1 0.1"/>
<path d="M235.3 341l0.2-0.3l0.4-0.5l0.8-0.4l0.3 0.2l0.8 0l0.8-1.2l0.3 0.3l0.4 0.9"/>
<path d="M239.7 339.8l0.4-1.1l0.4-0.6l0.7 0.7l0.4-0.6l0.4-0.2l0.4 0.5l0.3 0.1l0.8-1.5l0.4 0.3l0.4 0.1l0.3-0.4l0.8 0.2l0.4-0.7l0.4-0.1l0.7 0.2l0.4 0.4l0.8-0.5l0.7 0l0.8-0.5l0.3-0.1l0.4 0.2l0.4-0.8l0.4 0l0.3 0.6l0.4-0.3l0.4 0.3l0.4 0.1l0.2 0.2"/>
<path d="M253.4 336.2l0.3-0.6l0.8-0.6l0.3 0.1l0.4 0.6"/>
<path d="M273.3 330.8l0.2-0.3l1.1-0.6l0.3 0.1l0.4-0.3l0.4 0.3l0.3-0.2l0.4-0.5l0.4 0.1l0.7-0.9l0.4-0.2l0.4 0.7l0.2 0.4"/>
<path d="M279.2 329.2l0.2-0.4l0.3-0.1l0.4 0.3l0.4-0.2l0.2 0"/>
<path class="n" d="M81.3 392.5L82.8 392.1L82.8 391.8L81.3 391.5z"/>
<path d="M81.3 391.8l0.4 0.2l0.4-0.4l0.5 0.2l0.2 0.3"/>
<path d="M83.3 392l0.2-0.3l0.4-0.7l0.5 0.2l0.4-0.1l0.4-0.6l0.5-0.1l0.4 0.5l0.5-0.2l0.4-0.4l0.4 0.2l0.2 0.3"/>
<path d="M88.2 390.6l0.1-0.3l0.5-0.8l1.3 0l0.4 0.3l0.9-0.2l0.1 0.1"/>
<path d="M94.4 389l0.1-0.1l0.8-1.6l0.9 0.2l0.5-0.2l0.8 0.4l0.5-0.4l0.4-0.7l0.4-0.3l0.9 0.9l0.5-0.9l0.4-0.3l0.4 0.1l0.9 0.7l0.4-1.3l0.9-1.2l0.4 0.4l0.5 0.7l0.8-0.5l0.9-0.9l0.4-0.3l0.5-0.1l1.3 0l0.4 0.3l0.4-0.3l0.5-0.9l0.8 0l0.5-0.3l0.8-0.2l0.5 0.1l0.8-0.9l0.5-0.1l0.4 0.4l0.4-0.3l0.5-0.1l0.4 0.8l0.4-0.2l0.4-1l0.5-0.3l0.4 0.2l0.4 0.5l0.5-0.1l0.4-0.8l0.9 0.4l0.4-0.2l0.9 0.1l0.8-1.4l0.4-0.3l0.5 0.1l0.8-0.7l1.3-1.8l0.4-0.2l0.5-0.6l1.6-8.3l0.9-5.7l1.7-18l0.8-6.8l0.4-1.4l0.5-0.4l0.4 0.7l0.9 5.7l2.6 22.8l1.2 5.3l0.9 1.8l0.8 0.5l0.9 1l0.8 0.1l1.3 0.7l1.2-1.2l0.5 0l0.4 0.3l0.8-0.8l1.3 0.2l0.4-0.4l0.9-0.2l0.8-1l0.8-0.5l0.5-0.5l1.2-2.2l0.4-1.2l0.9-1.5l1.3-4.4l1.3-10.7l0.9-12.2l0.9-21.8l1.6-58.2l0.5-13.4l1.2 14.9l1.2 7.9l2.1 8.6l2.4 9l1.3 5.1l0.8 2.1l0.8 4l0.4 0.8l2 7.7l0.8 4l0.4 1.4l0.4 0.8l0.4 2.1l2 6.8l1.6 6.7l2.4 8.9l0.4 0.9l1.6 6.8l0.8 1.9l1.9 8.5l1.2 4l0.8 2l1.2 4.6l0.4 0.4l0.1 0"/>
<path d="M186.1 363.9l0.3-0.4l0.8-0.5l0.4-0.5l0.4-0.1l0.4 0.2l0.4-0.1l0.8 0.3l0.4 0l1.6-1l0.4 0l0.9-0.6l0.8 0.1l1.2-1.5l1.2 0.8l0.8-1.3l0.8 0.5l0.4-0.4l0.4-0.1l0.4 0.1l1.2-0.6l0.8-0.9l0.4 0l0.4-0.2l0.4-1.1l0.8-1.1l0.9-3.1l0.8-2l1.2-5.4l1.3-4.4l0.8-1.1l0.4 0.2l0.8 1.5l0.4 1.3l0.7 4l1.1 3l0.4 1.7l0.4 0.9l0.4 0.3l1.2 2.1l0.3 0.4l0.4 0.1l0.8-0.2l0.8 0.7l0.3 0.2"/>
<path d="M216.6 355.6l0.2-0.1l1.2-0.9l0.8-1.2l0.4 0.5l1.2-0.2l0.7 0.2l0.8-0.1l2.4-1.9l0.8 0.2l0.4-0.2l0.4 0.2l0.7-0.3l0.8 0.1l0.8-0.6l0.4-0.1l0.4 0.2l0.4-0.3l0.4-0.7l0.4 0.2l0.4-0.2l1.1 0.1l0.4 0.5l0.4-0.6l0.4-0.2l0.4 0.1l0.4-0.4l0.4-0.1l0.3 0.5l0.4 0.2l1.2-1.5l0.8 0.5l1.1-0.7l1.2 0.1l0.8-0.7l0.8-0.1l0.3 0.4l0.4 0.1l0.4-0.6l0.4-0.1l0.4 0.2l0.8-1l0.7 0.4l0.8-1.3l0.4-0.1l0.4 0.5l0.7 0.2l0.8-0.8l0.8-0.2l0.4 0.6l0.3 0.1l0.4-1l0.4-0.1l0.4 0.5l0.8-0.7l0.7-0.4l0.8-0.1l0.8 0.8l0.3-0.9l0.4 0.3l0.4-0.3l0.4-1.2l0.4 0.1l1.5 1l0.4 0l1.5-1.1l0.4 0.4l0.4-0.2l0.3 0.3l0.1 0"/>
<path d="M276.9 339.1l0.3-0.1l0.4-0.1l0.3-0.4l0.3 0.3"/>
<path d="M279.8 338.3l0.4-0.4l0.4-0.2l0.7-0.6l0.4 0.7l0.1 0"/>
<path d="M282.3 337.7l0.1-0.2l0.4-0.4l0.4 0.2l0.1 0.1"/>
<path d="M283.7 337.3l0.2-0.4l0.4-0.2l0.4 0.1l0.7-0.7l0.4 0.1l0.3 0.4"/>
<path class="n" d="M287.8 336.2L291.3 335.2L291.3 334.4L287.8 335.9z"/>
<path d="M287.8 336.2l0.2-0.2l0.4-0.3l0.7 0.1l1.5-1.1l0.4 0.3l0.3-0.3"/>
<path d="M90.8 400.3l0.3-1.3l0.5 0.2l0.5 0.5l0.4-0.3l0.4 0l0.5-0.4l0.4-0.6l0.5-0.3l0.9 0.6l0.9-0.2l0.4 0.1l0.5-0.4l0.4-0.9l0.4-0.2l0.5 0.3l0.4 0l0.5-0.3l0.4-0.7l0.4 0l0.5-0.3l0.4 0l0.5 0.8l0.9-1.4l0.9 0.9l0.8-1.5l0.5-0.2l0.4-0.5l0.9 0.5l0.4-0.5l0.9-0.2l0.5-0.4l0.4 0.2l0.9-0.1l0.9-1.1l0.8-0.3l0.5 1l0.4-0.7l0.5-1.5l0.4 0.4l0.4 0.8l0.9 0.1l0.5-0.6l0.4-0.1l0.4 0.1l0.5-0.4l0.8-0.3l0.5 0l0.4 0.3l0.5 0l0.4-1l0.4-0.2l0.5 0.8l0.4-0.2l0.5-0.2l0.8-1l0.5 0.8l0.4 0.2l0.9-0.5l0.8-1.2l0.9 1.3l0.9-1.7l0.4 0.4l0.9-0.1l0.4-0.1l0.9 0.4l0.8-1.3l0.5 0.3l0.8-0.7l0.5 0l0.4-0.9l0.4-0.5l0.9 0.2l0.9-2l0.4-0.2l0.9-2.7l0.8-3.6l1.3-8.4l2.2-20.6l0.4-3l0.4-1.7l0.5-0.2l0.4 1l0.9 5.5l2.5 22l1.3 5.8l0.9 0.9l0.4 1l0.4-0.2l0.4 0.1l0.5 0.8l0.4-0.1l0.4 0.2l1.3 1l1.3-1.1l0.8 0.1l0.5 0.3l0.8-0.4l0.4 0.1l0.5-0.9l0.4-0.5l0.4-0.2l0.9-0.7l0.4 0.1l0.4-0.2l0.4-0.8l0.5-0.4l0.4 0.1l0.8-2l0.5-0.4l0.8-2.4l0.9-4.3l0.8-2.4l0.9-8l1-11.8l1-21l2.2-70l0.7 10.7l0.8 7.7l1.3 6.1l4.9 18.6l0.8 2.2l0.8 3.5l0.9 2.7l0.8 3.9l1.2 3.2l2 7.2l1.6 7.1l0.4 1l0.4 1.8l0.4 2.6l2 5.3l1.2 5.3l0.8 1.7l0.8 3.8l0.4 0.5l0.8 3.2l0.4 0.5l1.1 5l1.6 4.5l0.8 3.2l0.4 0.6l1.2 3l0.4 0.6l0.8 0l0.9-1.2l1.2 0.6l0.4-0.4l0.4-0.7l1.2 0.2l0.4-0.1l0.4-0.8l0.4 0.2l0.9-0.5l0.4 0.3l0.4 0.1l0.4-0.3l0.4-0.6l0.8 0.8l0.4 0l0.8-0.5l0.4-0.6l0.4 0l0.4 1l0.2 0"/>
<path d="M207.8 367.9l0.3-0.7l0.4 0l0.8-0.9l0.4 0.3l0.4-0.3l0.9-1.3l0.4-0.1l0.8-1.4l0.4 0l0.8-2.3l0.4-0.4l2.6-8.8l0.4-1.3l0.4-0.5l0.4 0l1.6 2.5l1.5 4.5l1.9 3.8l0.4 0.5l1.2 0.5l1.2-0.6l0.4 0.9l0.4 0.2l0.4-0.3l0.4-0.2l1.2-1.1l0.4 0.5l0.8-0.8l0.4 0.2l0.4 0l0.4-0.4l0.4 0.2l0.8-0.6l0.4 0l0.4-0.1l0.4 0.3l0.8-0.8l0.3-0.1l1.2 0.1l0.4 0.4l0.4-0.2l0.4-0.7l0.8 0.1l0.4-0.7l0.4 0l1.2 0.7l0.8-0.3l0.3-0.4l0.5-0.8l0.3 0.1l0.4 0.5l0.4-0.5l0.4 0l0.4 0.3l0.4-0.7l0.8-0.3l0.4 0.1l0.4 0.4l0.4-0.8l0.4-0.2l0.3 0.1l0.4-0.5l0.8 0l1.2-0.3l0.4 0.2l0.4-0.5l0.4-1l0.4 0.1l0.3 0.8l0.8 0.1l0.4-0.7l0.4-0.2l0.4 0.2l0.4-0.6l0.8-0.3l0.7 0.1l1.6-0.5l0.8-1.2l0.4 0.3l0.8-0.5l0.3 0.4l1.2 0.3l0.4-0.4l0.4 0.1l0.4-0.2l0.3-0.4l0.4 0.2l0.4-0.1l0.4-0.5l0.8 0.2l1.1-0.3l0.4 0.4l0.4 0.1l0.4-0.5l0.4-0.2l0.3 0.3l0.4-0.1l0.4-0.4l0.4 0.1l0.8-0.4l0.3 0.6l0.8-0.4l0.4 0l0.4-0.3l0.3 0.2"/>
<path d="M276.3 348.9l0.2-0.3l0.3 0l0.4-0.2l0.4 0.1l0.1 0"/>
<path d="M278.8 348.2l0.3-0.5l0.4 0.1l0.8-0.8l1.1 0.2l0.4 0.2"/>
<path d="M283.4 346.9l0.3-0.5l0.4-0.3l0.7 0.4l0.1 0"/>
<path d="M285.4 346.4l0.2-0.3l1.1-0.4l0.3 0.2"/>
<path d="M289.4 345.3l0.3-0.7l0.8 0.3l0.3 0"/>
<path d="M290.9 344.8l0.3-0.1l0.4-0.7l0.4-0.1l0.4 0.4l0.3 0l0.4-0.2l0.1 0.1"/>
<path class="n" d="M293.9 344.0L301.7 341.9L301.7 341.3L293.9 343.7z"/>
<path d="M293.9 344l0.3-0.6l0.4 0.3l0.4 0l0.7-0.3l0.8-0.7l0.7 0.2l0.4 0l1.1-1.4l0.4-0.1l0.4 0.5l0.4-0.2l0.7 0.5l1.1-0.6"/>
<path class="n" d="M98.6 408.9L255.2 364.8L255.2 364.5L98.6 407.8z"/>
<path d="M98.6 408.1l0.4-0.2l0.5-0.7l1.3-0.2l0.5-0.2l0.4-0.3l0.5-0.6l0.4 0.2l0.5 0.7l0.4-0.9l0.5-0.3l0.5 0.4l0.4-0.6l0.9-0.2l0.4 0l0.5 0.5l0.4-0.5l0.5-0.2l0.9 0.3l0.9-0.3l0.4 0.1l0.5-0.3l0.4-0.8l0.9-0.1l0.9-0.5l0.5 0l0.4 0.5l0.5 0.1l0.9-0.4l0.4-0.6l0.9 0.2l0.4-0.9l0.9 0.2l0.5-0.8l0.9 0.4l0.4-0.2l0.9 0.2l0.4-0.2l0.5-0.9l0.4-0.3l0.5 0.2l0.4-0.2l1.3 0.3l0.9-1.4l0.5 0.4l0.9 0.4l0.8-0.9l0.9 0.3l0.9-1l0.9 0l0.9-0.9l1.3 0.3l0.4 0.3l0.5-0.6l0.4-0.2l0.4 0.5l0.9-1.6l0.5 0.5l0.4 0.1l0.4-0.8l0.9-0.3l0.9-1.2l0.4 0.3l0.5-0.2l0.4-0.7l0.4 0.2l0.5-0.1l0.4-0.9l0.4-0.5l0.9 0l0.4-0.5l1.8-3.3l1.3-5.6l3.5-27.8l0.5-1.9l0.4-0.3l0.5 1.3l0.4 2.4l3 22.7l1.7 6.3l0.4 0l0.9 1.5l0.4-1.1l0.4 0.1l0.5 1l0.8-0.4l0.9 0.5l0.4 0.1l1.3-0.8l0.4 0.5l0.4-0.2l0.5-0.9l0.4 0.1l0.4 0.8l0.5-0.2l0.8-0.9l0.5-1l0.4-0.4l0.8-0.2l0.5-0.5l0.4-0.9l0.9 0l1.3-3.1l0.8-1.7l0.5-1.3l1.3-7.3l0.5-3.7l0.9-11.1l1-20.5l1.8-52.2l0.5-12.4l1.2 14.6l0.4 3.2l1.7 7.4l0.4 1.2l0.4 0l0.8 4.5l0.8 1.7l0.9 3.8l0.8 2.4l1.6 6.2l0.4 0.7l1.7 5.7l0.4 0.6l0.8 3.9l0.8 2.1l1.2 4.7l2 6.3l2.4 8.8l1.6 4.6l0.8 3.2l0.4 0.8l1.6 6l1.6 4.5l1.6 5.2l2.4 6.1l1.2-0.6l0.4-0.6l0.4 0.3l0.4 0.1l0.5-0.5l0.4 0.1l0.4 0.4l0.8-0.4l0.8-1l0.8 0.4l1.7-1.5l0.4 0.1l0.4-0.4l0.4 0.2l0.4 0.4l0.9-0.3l0.4-0.2l0.4-0.5l0.8-0.2l0.4-1l0.4 0l0.4 0.8l0.4 0.1l0.9-1l0.4 0l1.2-1.3l0.8-0.2l0.4-0.9l0.9-1.1l0.4-1.1l0.4-0.2l1.2-2.8l1.3-3.6l0.4-0.8l0.4-0.3l0.4 0l0.4 0.9l0.4 0.4l0.4 0l0.4 0.8l0.4 0.2l0.4 0.6l0.4 1.6l0.4 0.7l0.4-0.1l0.7 2.3l0.4 0l0.5-0.6l1.5 1.4l0.4 0.1l0.4-0.4l0.4 0.3l0.4-0.1l0.5-0.5l0.4 0.1l0.8-0.7l0.4-0.1l0.4 0l0.4 0.4l0.4 0.1l0.4-0.5l0.4 0.5l0.3 0l0.5-1l0.4-0.4l0.4 0.1l0.7 1l0.9-1.5l0.4 0.1l0.4 0.3l0.4 0l0.8-0.7l0.7 0.3l0.8 0l0.8-0.5l0.4-0.7l0.4-0.2l0.4 0.4l1.2-0.2l0.8 0.3l0.8-0.7l0.4-0.1l0.8 0.8l0.4-0.5l0.8-0.4l0.4-0.8l0.4 0.1l0.4 0.8l0.2 0.2"/>
<path d="M255.8 364.6l0.3-0.3l0.4 0.1l0.4-0.4l0.8-0.4l0.4 0.2l0.3 0.1"/>
<path d="M258.6 363.8l0.3-0.6l0.4 0l0.4-0.6l1.2-0.6l0.4 0.4l0.4 0l0.4-0.3l0.7 0l0.4-0.8l0.4-0.2l0.4 0.3l0.4 0l0.4-0.3l0.8 0.2l0.4-0.3l0.8-0.2l0.4-0.6l1.1 0.1l0.8-1.4l0.8 0.9l0.4-0.1l0.8-0.3l0.7-1l0.4 0.4l0.8-0.1l0.8-0.3l0.4 0.9l0.8-1.4l1.1 0.2l0.4-0.4l0.8 0.1l0.4-0.5l1.1 0l0.8-0.8l0.8-0.4l0.7 0.8l0.8-0.9l0.4-0.2l0.8 1l0.4-0.7l0.3-0.3l0.4 0.1l0.8-1.1l0.4 0.2l0.4 0.8l1.5-1.1l0.4-0.5l0.4-0.1l0.4 0.6l0.3-0.3l0.4-0.5l0.8 0.1l0.8-0.9l0.3 0l0.4 0.4l0.4-0.3l0.4-0.6l0.4 0l0.4-0.3l0.3 0l0.4 0.3l0.8-0.3l0.4 0.1l0.3-0.4l0.4-0.1l0.4 0.4l0.4-0.2l0.4 0l0.3-0.2l0.8-1.1l0.4-0.2l0.4 0.1l0.3 0.9l1.2-0.4l0.4-0.8l0.4-0.1l0.3 0.2l0.8 0.2l0.4-0.2l0.3-0.5l0.8 0l0.4-0.5l0.4 0l0.3 0.5l0.4 0l0.4 0.4l0.4 0l0.3-0.4l0.4 0.3"/>
<path class="n" d="M306.7 350.3L312.4 348.7L312.4 347.8L306.7 350.0z"/>
<path d="M306.7 350.3l0.4-0.9l0.4-0.8l0.3 0.8l0.4-0.5l0.4 0l0.4 0.6l0.4-0.8l0.3-0.3l0.4 0l0.4 0.7l0.4-0.1l0.3-0.5l1.2-0.4"/>
<path class="n" d="M107.6 417.4L323.3 355.7L323.3 354.0L107.6 415.8z"/>
<path d="M107.6 416.1l0.9-1.2l0.5 1l0.5-0.1l0.4-1l0.4-0.4l0.5 0.2l0.5-0.3l0.9 0.2l0.4-0.6l0.5-0.1l0.4-0.4l0.9-0.1l1 1.5l0.9-1.6l0.4 0l0.5-0.6l0.4-0.1l0.5 0.4l1.3-1.1l0.5 0l0.4 0.2l0.9-0.8l0.5 0.2l0.9-0.5l0.9 1.1l0.9-0.7l0.4-0.1l0.9-1.4l0.5 0.4l0.4 0l0.5 0.4l0.4-0.3l0.5-0.9l1.3-0.9l0.9 0.6l0.9-0.8l1.4 0.1l0.4-0.5l0.9-0.3l0.5-0.6l0.4 0.1l0.4 0.7l0.5 0l0.4-1.1l0.5-0.6l0.4 0.1l0.5 0.6l0.4 0.1l0.5-1.3l0.4 0.1l0.5 0.4l0.4-0.3l0.4 0.3l0.9-1l0.5 0.2l0.9-0.5l0.4 0.2l0.9-1.1l0.9-0.2l1.3 0.5l0.9-1.3l0.4 0.7l0.5 0.2l0.9-1.5l0.4 0.2l0.4-0.3l0.5-1.6l0.4-0.4l1.4-0.5l0.8-1.5l1.4-4.8l1.3-6.8l2.3-18.4l0.9-4.4l0.4-0.8l0.5 0.7l0.4 2.6l2.1 16.9l1.3 6.3l1.3 3.7l0.4 0.2l0.9 1.4l0.4 0l0.4 0.4l0.5-0.5l0.4 0.4l0.4 0.8l0.5-0.3l0.4-0.7l0.4-0.1l0.9 0.2l0.9-0.3l0.4 0.3l0.4-0.3l0.9-0.1l0.4-0.2l1.8-1.1l0.4-0.1l0.9-1.1l1.3-0.7l0.8-2l0.5-0.3l0.4-0.9l1.3-4.3l1-4.5l0.9-8.3l1-12.5l0.5-9.5l1.9-47.7l0.5-10.8l0.4 2.8l0.8 9l0.8 5l1.2 5l0.9 2l0.8 2.8l0.9 1.6l1.6 6l0.8 0.9l0.8 3.9l0.9 1.8l1.2 3.8l0.4 2l0.4 0.9l0.4 1.6l0.8 1.8l0.8 2.7l0.9 2l1.2 4.5l0.8 1.4l0.4 1.7l0.8 2.2l0.8 1.4l0.8 3.8l1.2 2.6l0.4 1.9l0.4 0.8l1.6 5.2l0.4 1l0.8 1.1l0.8 2.6l0.8 1.5l0.8 3.2l2 4l0.8-0.1l0.5 0.2l0.8-1.2l0.4-0.2l0.8 0.3l1.3-1l0.4-0.6l0.4 0l0.4 0.5l0.9 0l0.4 0.2l1.2-1.2l0.8 0.2l0.5-0.4l0.4 0l0.4-0.1l1.3-1.7l0.4 0.6l0.4 0.2l0.4-0.7l0.4-0.2l0.8 0.8l0.4-0.1l0.8-1.1l0.5-0.1l0.8-1l0.8 0.1l0.4-0.3l0.9-1l0.8-1.6l0.4 0l0.4-0.6l0.9-1.3l0.4-1.1l0.4-0.6l1.2-0.2l0.4-0.5l0.5 0.1l0.7 2.2l0.4 0.5l0.4-0.4l0.8 1.4l0.4 0l0.4 0.4l0.8-0.1l0.4 0.9l0.4 0.3l0.8-0.9l0.4-0.1l0.9 0.1l0.3 0.4l0.5 0l0.8-0.7l0.8 0.3l0.4-0.8l0.8 0.2l0.8-0.7l0.4-0.6l0.4 0.5l0.8-0.8l0.4 0.5l0.8 0.4l0.4-0.3l0.4-0.8l0.4-0.1l0.4 0.6l0.4-0.1l0.4-0.5l0.4-0.1l0.8 0.2l0.8-0.8l0.9-0.5l0.7 0.3l0.4-0.2l0.5-0.5l0.8-0.2l0.7 0.8l0.4 0.1l0.4-0.3l0.4-0.7l0.4 0.2l0.8-0.8l0.4-0.1l0.8 0.2l0.8 0l0.4-0.9l0.4 0.2l0.4 0.6l1.2-0.3l0.8-1.1l0.4 0.2l2 0.1l0.4-1l0.4-0.3l0.4 0.4l1.2-0.1l0.8-0.4l0.4 0l0.4-0.2l0.4-0.6l0.3 0.1l0.4 0.4l0.8-1.1l0.4 0.4l1.2-0.3l0.4-0.3l0.4 0.1l0.4-0.2l0.8-0.1l1.2-1.2l1.1 0.1l0.8-0.8l0.8 0.7l0.8-1.3l0.4-0.1l0.7 0.9l0.4-0.2l0.4-0.8l0.4 0.2l0.8-0.3l0.4 0l0.4-0.7l0.4 0l0.4 0.4l0.4-0.2l0.3 0.1l0.8-0.7l0.8 0.3l0.8-1.1l0.4 0.7l0.4-0.1l0.3 0.2l0.8-1l0.4 0.4l1.6-0.6l0.4-0.8l0.3 0l0.4 0.7l0.8 0l0.4-0.1l0.4-0.5l0.4-0.2l0.3 0.1l0.4-0.5l0.4-0.2l0.4 0.3l0.4-0.4l0.4-0.2l0.4 0.2l0.3-0.8l0.4-0.2l0.4 0.3l0.4 0l0.4 0.5l0.4 0l0.7-0.5l0.4-0.9l0.4-0.4l0.8 1l0.3-0.2l0.4-0.7l0.8 0.6l0.4-0.4l0.4 0l0.3 0.3l1.6-2l0.4 0.3l0.3 0.7l0.8-1.2l0.4 0.2l0.4-0.2l0.3 0.5l0.4-0.3l0.4-0.8l0.4 0.2l0.4-0.4l0.4 0.1l0.3 0.5l1.2-0.2l0.3 0.2l0.8-1.1l0.4 0.4l0.4-0.1l0.4-0.4l0.3 0.3l0.4 0.6l0.8-1.6l0.3-0.2l0.8 0.8l0.4-0.3"/>
<path class="n" d="M116.9 426.1L334.5 362.9L334.5 360.2L116.9 423.0z"/>
<path d="M116.9 423.3l0.5 0l0.9 0.6l0.4-0.4l1-1.3l0.4-0.1l0.5 1.1l1.4-0.3l0.4-1.3l0.5-0.1l0.4 0.8l0.9-1.9l1 0.7l0.9 0.1l0.9-0.9l0.5 0.1l0.9 0l0.4 0.2l1.4-1.3l0.5 0.1l0.4 0.5l0.5-0.2l0.4-0.6l0.5-0.1l0.4-0.7l0.9 0.3l0.5-0.9l0.9 0.5l0.5-0.6l0.4-0.1l0.5 0.3l0.4-0.2l0.5-0.8l0.4 0.2l0.5 0.6l0.9-0.9l0.4 0.4l0.9-0.7l1 0.2l0.4-0.3l0.5-0.1l0.4 0.1l0.5-0.3l0.9 0l0.4-0.3l0.5 0.1l0.9-0.7l0.4 0.1l0.5-0.4l0.4-0.1l0.5 0.5l0.4-0.2l1.4-1.3l0.9-0.6l0.4 0.4l0.4 0.1l0.5-0.5l0.4 0l1.4-0.9l0.4 0l0.5-0.2l0.4-0.8l0.5 0.3l0.4 0.6l0.5-0.4l0.4-0.8l0.5-0.2l0.4 0.5l0.5 0.1l0.9-1.6l0.8 0l0.9-1.9l0.5-0.3l0.4-0.1l0.5-1l1.3-4.3l1.4-7.5l2.3-16.4l1-4.8l0.4-0.5l0.9 3.4l0.8 5.3l1.7 13.9l2.1 7.7l0.5 0.2l0.4-0.4l0.9 1.5l1.3-0.2l0.8 0.2l0.5-0.2l0.9-0.8l0.4 0.3l0.4 0l0.5-0.3l0.4 0l0.4 0.2l0.5-0.3l0.4-0.7l1.3-0.6l0.5-0.4l0.4 0l0.4-0.3l0.9-1.2l0.5-0.1l0.4 0.1l0.9-1.5l0.4-0.2l1.8-3.7l0.9-3.1l1.4-8.5l1.6-18.7l1.8-38.5l0.6-8.8l0.4 2.2l1.2 10l1.2 4.2l0.8 1.8l0.5 0.5l1.6 4.4l0.8 3.4l0.5 0.1l0.4 0.3l0.8 2.8l0.9 1.2l0.8 3.1l0.8 1l0.8 2l0.5 0.3l0.8 2.7l0.4 0.5l0.8 3.4l1.2 1.2l1.7 4.2l0.8 3.1l0.4 0.6l0.8 0.5l0.4 1.6l0.4 1.1l0.4 0.5l0.8 2.6l0.4 0.8l0.4 0.1l0.9 2.2l0.4 0.5l0.4 1.2l0.8 1.4l0.8 2.7l0.4 0.7l0.4-0.1l0.8 2.2l1.2 1.8l0.8 1.8l0.4 0.4l0.9-0.7l0.4 0.5l0.8-0.5l0.4 0.1l0.5-0.4l0.8 0.5l0.8-0.7l0.9 0.7l0.4 0.1l0.8-1l1.3-0.2l1.7-1.1l0.8 0.9l0.4-0.4l0.8-0.1l0.4-0.3l0.5-0.9l0.4 0l0.4 0.4l0.4-0.3l0.4-0.6l0.4 0l0.4 0.3l0.5-0.9l0.4-0.2l0.4 0.3l0.4-0.6l0.4-0.3l0.9-0.1l0.4 0.1l0.4 0.5l0.4-0.2l0.4-1.4l0.5-0.8l0.4 0.1l1.2-0.4l0.9-1.8l0.8 0.2l0.4-0.4l0.4 0.8l0.4 0.3l1.2-0.4l0.4 0.4l0.8-0.1l0.4 0.4l0.5 0l0.4-0.5l0.4 0l0.8 0.2l0.4-0.7l0.4-0.3l0.4 0.6l0.4-0.3l0.4 0.6l0.4-0.3l0.5-1.1l0.4 0.2l0.8-0.1l0.4 0.2l0.4-0.7l0.4 0.1l0.4 0.5l0.4 0.2l0.4-0.2l0.4-0.9l2 0.2l0.5-0.3l0.4-1.3l0.8 0.9l0.8-0.2l0.4-0.5l0.8 0.5l0.8-0.7l0.4 0.4l0.4-0.3l0.4-0.6l0.4 0.1l0.4-0.3l0.9-0.9l0.4 0.5l0.3 0.3l0.5-1.1l0.4-0.3l0.4 0l0.4 0.3l0.4 0.6l0.8-0.9l0.4 0.5l0.8-0.6l0.4-0.1l0.8 0.2l0.8-1.9l0.4 0.5l0.4 0.1l0.8-0.4l0.4 0.1l0.4 0.4l0.4-0.9l0.4-0.4l0.8 0.8l1.2-0.5l0.4-0.5l0.8 0.3l0.8-0.9l0.8 0.4l0.8-0.5l0.4 0.5l0.8-1l0.8-0.2l0.4-0.3l0.7 0.7l0.4-0.1l0.9-1.3l0.4 0l0.3 0.4l1.6-0.2l0.4 0.5l0.8-1.4l0.4 0.4l0.4-0.3l0.4-0.5l0.4 0l0.4 0.6l0.4-0.6l0.7 1l0.5-1.1l0.4-0.4l1.5 0.7l0.8-0.3l0.4-1.1l0.4-0.6l0.8 0.7l0.8-1l0.4 0.6l0.3 0.1l0.4-0.5l0.4-0.2l0.8 0.5l0.8-1l0.8-0.1l0.4 0.1l0.8-0.8l0.3 0.1l0.4-0.2l0.4 0.1l0.4-0.2l0.8-0.8l0.8 0.5l1.1-1.2l0.4 0.1l0.4 0.6l0.8-1.1l1.2 0.3l0.4-0.9l0.3-0.1l0.4 0.9l0.8-0.9l0.4 0.6l0.4-0.2l0.4-0.4l0.3 0.6l0.4 0.2l1.2-1.6l0.4 0.3l0.3 0.6l0.4-0.6l0.8-0.2l0.4-0.6l0.4-0.3l0.4 0.3l0.7-0.5l0.8 0.2l1.2-0.7l0.3 0l0.4 0.3l0.8-1.2l0.4-0.3l0.7 1.3l0.8-0.7l0.8-0.1l0.7-0.9l0.4-0.1l0.4-0.3l0.8 0.5l0.3-0.3l0.4 0.2l0.4 0l0.8-1.1"/>
<path class="n" d="M126.5 435.1L345.9 370.2L346.0 367.6L126.4 432.1z"/>
<path d="M126.4 432.4l0.5 0l0.9-0.8l1 1l0.4-0.3l1-1.2l0.4 0.2l0.5 0.6l2.3-1.5l0.5-0.5l0.9 0.5l0.5-0.3l0.9 0.2l0.9-0.8l0.5 0.1l0.4-0.7l0.5-0.3l0.5 0.5l1.3-0.8l0.5 0.2l0.9-0.3l0.5 0.5l0.9-0.6l0.5-0.1l0.9-0.5l0.4-0.5l0.5-0.7l0.5-0.2l0.4 0.4l1.4-0.8l0.5 0.5l0.9-0.7l0.4-0.2l0.9 0.6l0.5 0l0.9-1.8l0.9 0.6l0.5 0l0.4-0.5l0.5 0l0.4-0.1l0.5-0.6l0.5 0l0.4-0.7l0.5-0.1l0.4 0.1l0.5-0.5l0.4 0.7l0.5 0l0.4-0.7l0.5 0l0.4-0.6l0.5 0.4l0.4 0.2l1-0.6l0.4-0.7l0.5-0.3l0.4-0.2l0.5 0.4l0.4 0l0.5-0.4l0.4-0.2l0.9-1.5l0.9 0.9l0.5-0.9l0.4-0.5l0.5 0.3l0.9-1.1l0.9-0.1l0.9-1.5l1.3-1.5l1.9-5.1l0.4-2l1-5.8l2.4-16.5l0.5-2.3l0.4-1.1l0.5-0.4l0.4 0.5l0.9 3l2.1 15.8l1.2 4.4l0.5 0.3l0.8 2.1l0.5 0.1l0.4-1l0.5 0.2l0.9-1.4l0.4-0.3l0.5-1.2l0.4 0l0.5 0.4l0.9-1.2l0.4 0.1l1.7 2.3l0.9 1.9l2.1 2.2l0.9 2.2l0.4 0.6l0.4 0.3l0.5 0.9l0.4 0.4l0.4-0.4l1-3.6l0.9-2.8l1.4-7.1l0.5-1l1.4-6.6l1.9-11l2-13.7l2.4-13.6l0.5-1.7l1.3-2.2l1.3 2.6l0.4 0.4l0.5 0.1l0.4 0.3l1.2 3l0.9 1.5l0.8 0.9l0.9 1.8l0.8 0.5l0.8 3.2l1.2 3.7l0.5 0.1l0.8 2.4l0.4 0.7l0.8 1l0.4 0.2l1.3 3.3l0.4-0.2l0.4 0.3l0.4 1.3l0.8 1.7l0.4 0.7l0.5 0.3l0.8 1.6l0.4 0.3l0.8 2.3l0.4 0l0.8 1.2l0.8 2.1l0.5-0.2l0.4 0.8l0.8 0.8l0.4 1.2l0.4-0.1l0.4 0.5l0.4 1.3l0.5-0.1l0.4 0.4l0.4 1.3l0.4 0.6l0.8 0.6l0.8 2l0.4 0l0.4 0.9l0.4 1.8l0.4 0.1l0.5-0.8l0.8-0.3l0.8 0.7l0.9-1.3l0.8-0.3l0.4 0.6l0.5 0.1l1.7-1.2l0.4 0.1l0.8 0.7l0.4-0.2l0.5-1.2l0.4-0.2l0.4 0.5l0.4 0.2l0.4-0.6l0.4 0.3l0.5-0.1l0.4-0.5l0.4-0.1l0.4-0.5l0.4 0.1l0.9-0.4l0.8 0.1l0.4-0.2l0.5-0.6l1.2-0.3l0.4 0.4l0.4-0.2l0.5-1l0.8 0.4l0.4-1.1l0.4-0.4l0.8 0.8l0.9-0.3l0.4 0l0.4 0.3l0.8-0.3l0.8 0l0.9-0.6l0.8 0.4l0.4-0.4l1.2 0l0.9-0.5l0.8 0.2l0.4-1.2l0.4 0l0.4 0.3l0.4 0.1l0.9-0.6l0.4 0.1l0.4-0.3l0.4 0.2l0.4 0l0.4-0.7l0.8-0.3l0.9-0.9l0.4 0l0.4 0.4l0.4-0.3l0.8 0.3l0.4-0.9l0.8 0.9l0.4-0.1l1.3-1.1l0.4-0.1l0.8-0.2l0.8 0.2l1.2-1.2l0.9-0.1l0.8 0.5l0.8-0.8l0.4 0.4l0.4-0.1l0.4-0.6l0.4-0.1l0.4-0.6l0.8 0.9l0.8-0.6l0.4 0.3l0.4-0.6l0.8-0.2l0.4-0.4l0.4 0.8l0.4 0l0.4-0.9l0.9-0.5l1.2-0.3l0.4 0.3l0.4-0.3l0.4-1l0.4 0l0.4 0.9l0.8-1.2l1.2-0.8l0.4 0.2l0.4 0.5l0.4-0.1l0.4-0.7l0.8 0.4l0.8-1l0.4 0.6l0.4-0.1l0.4-1l0.4-0.1l0.4 0.4l0.8-0.5l0.8 0l1.2-0.9l0.8 0.8l0.4-0.1l0.4-0.6l0.4 0.2l0.4 0.4l0.8-1.2l0.4 0.6l0.4-0.1l0.4-0.7l0.8-0.5l0.4-0.1l0.4-0.5l0.7 0.6l0.4-0.1l0.4 0.4l0.4-0.1l0.4-0.8l0.4-0.2l0.8-0.3l0.4 0.3l0.4-0.4l0.4 0.1l0.4-0.4l0.8 0l0.4-0.7l0.4 0.6l0.7-0.7l0.4 0.4l0.8-0.5l0.4 0.7l0.4 0.3l1.6-1l0.7 0.3l0.4-1.1l0.4-0.3l0.4 0.4l0.8-0.8l0.4 0.2l2-0.8l0.4-0.4l0.3 0.7l0.4 0.1l0.4-0.3l0.4 0.1l0.4-0.6l0.8 0.1l0.4-0.3l0.3 0.4l1.2-0.8l0.4-0.5l0.4 0.3l0.8-1l1.1 0.3l1.6-0.8l0.8 0.5l0.7-0.4l0.4 0.4l0.8-0.4l0.4-0.5l0.4-0.9l0.7 0.9l0.8-0.7l0.4-0.8l0.4 0.2l0.4-0.4l0.4-0.1l0.3 0.4l0.8-0.5l0.4-0.1l0.4 0.3l0.4-0.5"/>
<path class="n" d="M136.3 444.4L357.7 377.8L357.7 375.4L136.3 440.8z"/>
<path d="M136.3 441.1l1.4 0.1l0.9-0.7l0.5 0.3l0.5 0l0.4-0.2l0.5 0.2l0.5-0.3l0.4-1.1l0.5-0.1l0.5 0.4l0.4 0l1-0.4l0.9-0.9l0.5 0.1l0.5 0.4l0.9-1.1l0.5 0.5l0.4 0.1l1-0.3l0.9-0.9l0.9 0.8l0.5-0.3l0.4-0.6l1-0.5l0.9 0.1l0.9-0.6l0.5 0.7l0.5 0l0.4-1l0.5-0.3l0.5 0.2l0.4 0.7l0.9-0.8l0.5-0.1l0.9 0.3l1.4-1.8l0.5 0.1l0.4-0.1l0.5-0.4l0.5-0.9l0.4-0.1l0.5 1.1l0.9-1.1l0.5 0.4l0.4 0l1.9-1.4l0.4 0.6l0.9-0.9l0.5 0.1l0.9-0.3l0.9 0.2l0.5-0.8l0.4-0.1l0.5 0.2l0.4-0.1l0.5 0.2l0.9-0.1l0.9-0.6l0.5-0.7l1.4-0.5l0.4-0.4l0.5-0.8l0.4-0.3l0.5 0.3l0.4-0.5l0.5-1.3l0.9 0l1.4-1.8l0.9-2.3l0.5-0.2l0.4-1l0.5-1.4l1-3.8l0.9-5.8l1-4.3l1-6.5l0.9-4l0.5 0l0.4 0.8l3 13.5l0.4 1.4l1.3 2.6l0.5 0.1l0.4-0.1l1.4-1.1l0.4-1l1.4-2l0.9-0.8l0.5-0.7l0.4-0.1l0.5 0.2l1.2 3l0.9 0.6l1.3 4l1.3 1.4l0.4 0.8l1.2 4.8l0.5 0.6l0.4-0.6l1.4-3.7l1.9-7.2l0.5 0l0.9-2.3l0.4-0.5l0.9-0.6l0.5-0.7l0.9-2.8l0.5-0.6l1.3-3l1.5-4.9l0.9-2.3l0.5-2.5l1.4-5l0.4-1l1-3.1l0.9-1.9l0.9-1.4l0.4 0l0.5 0.7l0.4 0.3l0.4-0.8l0.5 0.3l0.4 1.3l0.8 0.7l0.5 0.6l1.2 3.2l1.2 5.5l1.2 2.6l1.7 2.4l0.4 0.1l0.4-0.6l0.4 0.7l0.4 1.4l0.5 0.3l0.8-0.4l0.9 0.8l0.4 0l0.8 1.2l0.9-0.5l0.4 0.1l0.4 1l0.4 0.4l0.9 0l0.4-0.4l0.9 1.3l0.8 0l0.9 0.6l0.8 1.1l0.8 0.3l0.4 0.5l0.5-0.2l0.4-0.4l0.8 1.7l0.4-0.2l0.4 0.4l0.5-0.2l0.4 0.1l0.4 0.5l0.4 0.9l0.4 0.1l0.5-0.5l0.4 0l0.8 0.9l0.4 0.2l0.4 0.6l0.4 0.1l1.3-1.5l0.5 0.5l0.4 0.1l0.4-0.1l0.4 0.4l0.9-1.3l0.4 0.1l0.8-0.5l1.3 0.2l0.9-1.2l0.8 0.1l0.4 0.5l0.4-0.3l0.5-0.6l0.8 0.1l0.4-0.3l0.9-0.2l0.8-1.2l0.8 1l0.9-0.3l0.8-1.1l0.5-0.2l0.4 0.2l0.8-1.3l0.8 1.5l0.4 0.3l0.5-0.7l0.8-0.3l0.4-0.6l0.9 0.6l0.4-0.8l0.4-0.3l0.4 0.5l0.4-0.6l0.9 0.2l0.4-0.5l0.8 0.2l0.9-0.8l1.2 0.2l1.7-1.6l0.4 0.4l0.4 0l0.4-0.7l0.4 0l0.8 0.4l0.5-0.5l0.4-1l0.4 0.2l0.4 0l0.9-1l0.4 0.2l0.4 0.6l0.4-0.1l0.8-0.7l0.8 0.8l0.4-0.8l0.4-0.2l0.9-0.9l0.4 0.4l0.4 0.2l0.8-0.5l0.8 0.4l0.8-0.9l0.4 0.1l0.9-1.3l1.2 1l1.2-0.3l0.4-0.3l0.4-0.1l0.4 0.4l0.4-0.1l0.5-0.9l0.4-0.2l0.4 0.1l0.8-0.4l0.8 0l0.4-0.6l0.8 0.6l0.4-0.1l0.8-0.6l0.4 0.5l0.4-0.2l1.7-1l0.4-1.1l0.8 0.8l0.4 0.1l2.4-1.4l0.4 0.6l0.8-1l0.4 0.2l0.4-0.3l0.8 0.4l0.8-0.9l0.8-0.1l1.7-1l0.3 0.5l1.7-1.4l0.4 0.2l0.4-0.2l0.4 0.3l0.4 0l0.4-0.8l0.4 0.1l0.4 0.3l0.8-0.2l0.7 0.2l0.4-0.5l0.8 0.3l0.4-0.5l0.4 0.5l0.4 0.1l0.4-0.5l0.8-0.3l0.4-0.5l0.8 0.2l0.4-0.6l0.4 0.3l0.8-0.5l0.8 0l1.2-0.5l0.4-0.4l0.8 0.6l0.4-1.2l0.4-0.1l0.3 1.1l0.4 0.1l0.4-0.7l1.2-0.8l0.4-0.1l0.4 0.2l0.4-0.1l0.4-0.4l0.4 0l0.4 0.3l0.4-0.2l0.8-1.1l0.8-0.5l0.7 0.4l0.8-0.9l2 0.2l0.4-0.5l0.4-0.1l0.4 0.2l0.3-0.1l0.5-0.9l0.4-0.5l0.3 0.1l0.4-0.2l0.8 0.3l0.8-0.3l0.4 0.3l0.4-0.1l0.7-0.2l0.8-0.7l0.4-0.2l1.6-1.2l0.4 0.4l0.3-0.2l0.8 0.3l0.4-0.6l0.8-0.6l0.4 0.7l0.3 0.2l0.4-0.2"/>
<path class="n" d="M146.4 453.9L218.2 431.9L218.2 431.6L146.4 452.6z"/>
<path d="M146.4 452.9l0.9-1.8l0.5-0.3l0.5 0.6l0.9 0.2l0.5-0.2l1-1.7l0.4-0.1l0.5 0.5l0.5 0.1l1.4-0.1l1-0.4l0.9-0.8l0.5 0.1l0.4-0.1l1.9-1.9l0.5 0.7l0.5 0.2l0.9-1.2l1.4 0.1l1-0.7l0.4 0.7l1.9-1.4l0.9-0.1l0.5 0.1l0.9-0.9l1-0.5l1.4 0.1l0.4-0.6l0.5-0.2l0.5 0.4l0.4-0.7l0.5 0l0.5 0.6l0.4-0.3l0.5 0.4l0.5 0l0.4-0.8l1 0.4l0.4-0.4l0.5-0.1l0.9-1.2l1.4 0.1l0.9-0.2l0.5-0.4l0.5-0.8l0.9 0.4l0.4 0l1.4-1.7l0.9 0.6l0.5-0.3l0.5-0.7l0.4-0.3l1 0l0.4 0.8l0.5-0.1l0.4-1.5l0.5-0.3l0.5 0.2l0.4-0.7l0.5-0.3l0.4 0l0.5-0.8l0.5-0.3l0.4-0.1l0.5-0.7l0.5-0.2l0.4-0.4l0.5-0.8l0.4 0.2l0.5-0.4l1.9-5.3l0.5-0.9l0.9-2.7l1-3.7l1-2.4l0.4-0.1l0.5 0.5l0.4 0.8l0.4 1.6l0.5 0.6l0.4 0.3l0.4 1.6l0.9 1.4l0.4 1.2l0.5 0.3l0.9 0l0.4 0.4l0.5-0.2l0.4-0.8l0.5 0.4l0.4 0l1-1.7l0.4 0.1l0.5-0.7l0.5-1.3l0.4-0.7l0.5-0.1l0.9 0.2l0.4 0.3l0.4 1.3l0.5 0.6l0.4 0l1.7 2.8l0.5 0.3l0.4-0.3l1.3 2.2l0.4 1.5l0.4 0.8l0.4 0.7"/>
<path class="n" d="M219.3 431.6L369.8 385.5L369.8 382.7L219.3 431.3z"/>
<path d="M219.3 431.6l0.3-1l1.5-4.9l0.9-2.7l0.5-0.8l0.4-0.3l1-2.1l0.9 0.3l0.4-0.5l0.9-0.3l0.4-0.4l0.5 0.2l0.4-0.2l0.5-0.9l0.4 0.1l0.9 0.6l0.5-0.6l0.8-0.2l0.5-0.7l0.9 0.2l1.3-0.5l1.3-0.8l0.5-1.1l0.4-0.1l0.5 0.6l0.4-0.1l0.9-0.7l0.4-0.2l0.5 0.2l0.8 1.5l0.4-0.3l0.5 0.6l0.4 0.9l0.8 2.7l0.4 0.6l0.4 0l0.9 0.6l1.3-0.6l0.4 0.5l0.4-0.1l0.5-0.3l0.8 0.4l0.5-0.3l0.9-0.2l0.8-1.1l0.9 0.8l0.4-0.6l0.5-0.2l0.4 0.3l0.4 0.1l0.5-1.1l0.8 0.1l0.5-0.9l0.8 1.3l0.9-1.5l1.3 0.4l0.9-1.4l0.8 0.5l0.9-0.3l0.4 0.1l0.9-0.6l0.4 0.4l0.4 0l0.5-0.7l0.8-0.1l0.5-0.7l0.4-0.1l0.4-0.2l0.5 0.3l0.4-0.1l0.4-0.7l0.5 0l0.4-0.2l0.4 0.1l0.9-0.4l0.4 0.5l0.9-0.5l0.4 0.4l1.3-0.6l0.4-0.5l0.4-0.1l0.9 0.3l0.4-0.5l0.4 0.1l0.9-0.9l0.4 0.8l0.9-1l0.8 0.8l0.8-1.1l0.5 0.2l0.8-0.2l0.8 0.8l1.3-2l0.9 0.7l0.4-0.6l1.3-0.8l2.1-0.6l0.8 0.2l0.9-0.9l1.3-0.6l0.4 0.4l0.4 0.1l0.8-0.6l0.4 0.1l0.5-0.2l0.4 0.6l0.4 0.2l0.4-1.2l0.4-0.3l0.5 0l0.4-0.6l1.2-0.2l0.4 0.3l0.9 0.1l0.8-0.7l1.3 0l0.4-0.5l0.8 0.3l0.4-0.8l1.3 0.3l0.8-1.3l0.4 0.8l0.4 0.2l0.5-0.8l0.8 0l1.2-1.3l0.8 1.2l0.4-0.2l1.3-1.9l0.4-0.1l0.4 0.5l0.4 0.2l0.9-0.6l0.4-0.1l0.4 0.4l1.6-0.3l0.4-0.2l0.5-0.7l0.4 0.1l0.4-0.5l0.4-0.7l0.4 0l0.4 0.2l0.5-0.3l0.4 0.2l1.6-0.7l0.4 0.5l0.8-0.7l0.4 0.3l0.4 0l0.9-1.6l0.4 0.5l0.8-0.2l0.4 0.2l0.4-1l0.8 0l0.4-0.3l0.4 0.4l0.4 0l0.9-1.3l0.4-0.1l0.4 0.7l0.4-0.2l0.4-0.9l0.8 0.2l0.4-0.5l0.4 0.6l0.4 0.1l0.4-0.2l0.4 0.2l0.4 0l0.8-0.8l0.4 0.3l0.4 0.1l0.4-0.6l0.4 0.2l0.4 0.7l0.9-2.1l0.4 0.3l0.4 0l0.4-0.2l0.4 0.1l0.8-0.4l0.4 0.4l0.4 0.1l0.4-0.5l0.4 0.3l0.4-0.1l0.4-0.3l1.2-0.1l0.8-1.2l0.4 0.4l0.4-0.4l0.4-0.8l1.2 0.3l0.4 0.4l0.8-1.1l0.4 0l0.4-0.7l0.4-0.1l0.8 0.6l0.4-0.2l0.8 0l0.4-0.8l0.4 0l0.4 0.6l0.4-0.2l0.8-0.9l0.4 0.5l0.8-1.7l0.8 1.3l0.3 0l0.5-0.9l0.4-0.3l0.3 0.6l0.4 0.3l0.4 0.3l0.4 0l0.4-0.5l0.8-0.4l0.4-0.5l0.8-0.2l0.4-0.5l0.4-0.1l0.4 0.4l0.4 0l0.4-0.6l0.8 0.2l0.4-0.5l0.4-0.3l0.3 0.4l0.8-0.1l0.8-0.9l0.4 0.5l0.4 0.1l0.8-0.9l0.4-0.2l0.4 0.3l0.4-0.2l0.4-0.6l0.4-0.2l0.7 0.2l0.8-0.6l0.8 0.2l0.4-0.5l0.4-0.2l1.1 0.7l1.2-1.6"/>
<path class="n" d="M156.8 463.7L382.2 393.5L382.2 390.5L156.8 461.3z"/>
<path d="M156.8 461.6l0.5 0.1l1.9-2.5l1 0.7l0.5-0.1l0.9-0.7l0.5-0.1l0.5 0.3l0.4-0.3l0.5-1l1 0.5l0.5-0.3l0.9-0.1l0.5 0l0.5 0.3l0.4-0.7l1 0.1l0.9-0.7l0.5-0.8l0.5-0.1l0.5 0.2l0.9-0.6l0.5 0l0.5 0.4l0.4-0.4l1 1.2l0.5-1.1l0.4-0.8l0.5-0.4l1 0.5l0.4-0.4l1-0.1l0.4 0.4l0.5 0l1.9-1.6l0.9 1l0.5-0.5l0.5-0.9l0.9 0.1l0.5 0.3l0.9-1.1l1.4-0.7l1 0.6l0.4-1.2l1 0.1l0.4-0.3l0.5 0.4l1.4-0.3l0.9-0.5l0.5-0.6l1-0.5l0.9 0l0.5-0.7l0.4 0.3l0.5-0.2l1.4-1.3l0.9 1.1l1.4-1.8l0.9-0.1l1-1l0.4-0.1l0.5-0.4l0.9 0.6l0.5-0.9l0.5-0.5l0.4-0.3l0.5 0l0.9-1.2l0.5 0.1l0.4-0.5l0.5-0.2l0.5-1.1l0.4-0.3l0.5 0.2l0.5-1l0.9 0.3l0.5-0.6l0.9 0.4l0.9-1.5l2.3 0.5l0.9-0.4l0.4 0.2l0.5-0.8l0.9 0.4l1-1.9l0.9-0.9l0.5-1.1l0.4-0.4l1.4 0.1l1.4-0.7l0.8 0.5l0.5 0l0.4 0.5l0.5 1l0.4 0l0.9 1.1l0.4-0.1l0.5 0.3l0.4 0.5l0.4 1.2l1.3 2.1l0.9 0l3-10.8l0.4-0.2l0.5 0.2l0.4-0.8l0.5-0.4l0.5-1l0.4 0l0.4 0.6l1-1l0.4-0.1l0.9-1.5l0.5 0l0.4 0.3l0.9-0.4l0.5 0.5l0.4 0l0.4-0.2l0.5-0.7l0.5-0.1l0.4 0l0.4-0.3l0.5 0l0.4-0.2l0.5 0.1l0.9-0.6l0.4-0.5l0.5-0.2l0.4 0.3l0.9-0.2l0.5-0.6l0.4-0.3l0.4 0.3l0.5 0.9l0.4 0.2l0.4-0.5l0.5 0.5l0.3 1.8l0.9 2l0.3 1.8l0.5 0.8l0.4-0.5l0.5-0.2l0.8 0.6l0.4-0.1l0.9 0.1l0.5-0.6l0.8 0.5l0.5-0.9l0.4-0.1l0.4 0.6l0.5-0.1l0.9-1l0.4 0l0.5 0.1l0.8-0.2l1.4-1.3l0.4-0.2l0.4 0.1l0.9 0.6l0.9-1l0.4-0.1l0.9 0.4l0.8-0.4l0.5 0.3l0.4-0.2l0.9-1l0.8 0.6l0.9-0.5l0.5-0.6l0.4-0.2l0.8 1.1l0.5-0.5l0.4 0.2l0.4-0.5l0.5-0.8l0.4-0.2l0.5 0.3l0.4 0l0.4-0.6l0.4 0.9l0.5-0.3l0.4-0.8l0.5-0.2l1.7-0.1l0.4-0.7l0.5-0.3l0.4 0.6l0.4 0l1.3-1.5l0.4 0.8l0.4 0l0.9-1l0.4 0l0.4 0.7l0.9-1.3l0.4 0.5l1-1.7l0.8 0.8l0.4-0.4l0.9 0l0.8-0.4l0.9-1.2l0.4 0.2l0.9-0.3l0.4 0.2l0.4-0.3l0.9 0.1l0.4 0l1.3-1.4l0.4-0.1l0.4 0.4l0.4 0.9l0.4-0.2l0.9-1.6l1.3-0.7l0.9-1l0.4 0l0.8 1.2l0.4 0.2l0.4-0.6l0.9-0.2l0.9-0.8l0.4-0.2l1.2 0.7l0.4-0.5l0.4 0.4l0.5-0.4l0.4-0.9l0.4 0.2l2.1-0.4l0.9-1.3l0.8 1.3l0.4-0.8l0.4-0.1l0.4 0.2l0.5-0.6l0.8-0.4l0.8 0.5l0.9-1.3l0.4 0.4l1.7-1.1l0.4 0.3l0.4-0.7l0.4 0l0.4 0.7l0.9-0.9l0.4 0.3l0.4 0l0.8-1l0.4 0.1l0.4 0.9l0.4-0.3l0.5-1.2l0.8 0.2l1.3-0.9l0.4 0.5l0.8-0.8l0.4 0.4l0.4-0.1l0.8 0.2l2.5-1.6l0.4 0l0.4 0.4l0.4 0.1l0.9-0.6l0.4 0.2l0.4 0l0.8-1.1l1.2-0.4l0.4-0.1l0.4 0.8l0.4 0.1l0.4-0.2l0.4 0.1l0.9-1.2l0.4-0.1l0.4 0.4l0.8-1.3l0.8 0.8l0.4 0.1l0.4-0.4l0.5-0.8l0.7 1.2l0.9-1.9l0.8 0.6l0.4-0.9l0.4-0.4l0.8 0l0.4 0.6l0.4 0l0.8-0.8l0.8 0l0.5-0.6l0.4 0.2l0.4 0.1l0.4-0.2l0.4 0.1l0.4-0.7l0.4-0.2l0.4 0.2l1.2-1.2l0.4 0l0.8-0.4l0.4-0.1l0.4 0.2l0.4 0.4l0.4 0l0.4-0.7l0.4-0.3l0.4 0l0.4-0.5l0.8 0.8l1.2-1.3l0.4 0.2l0.4 0.5l0.8-1l0.4-0.2l0.8 0.3l0.4-0.5l0.8 0.2l0.4-0.6l1.2 0l0.8-1.2l0.4 0.1l0.4 0.6l0.4 0.4l0.8-0.4l0.4-0.5l0.8-0.1l0.8-1l0.4-0.1l0.4-0.4l0.4 0.1l0.4 0.5l0.4 0.1l0.4-0.8l0.8-0.4l0.4-0.5l0.3 0.7l0.4-0.1l0.4-0.6l0.4 0l0.4 0.6l0.4 0l0.4-0.9l0.4-0.3l0.8-0.1l0.8-0.3l0.4 0.4l0.4 0.1l0.4-0.4l0.4-0.7l0.4-0.4l0.3 0.4l0.4-0.3"/>
</g>
<line x1="401.8" y1="41.9" x2="393.0" y2="400.4" stroke="#6a6a6a" stroke-width="1.0"/>
<line x1="49.2" y1="362.3" x2="165.9" y2="472.3" stroke="#6a6a6a" stroke-width="1.0"/>
<line x1="165.9" y1="472.3" x2="393.0" y2="400.4" stroke="#6a6a6a" stroke-width="1.0"/>
<line x1="49.2" y1="362.3" x2="44.8" y2="363.4" stroke="#6a6a6a" stroke-width="1.0"/>
<line x1="66.0" y1="378.1" x2="61.4" y2="379.3" stroke="#6a6a6a" stroke-width="1.0"/>
<line x1="83.7" y1="394.8" x2="79.1" y2="396.1" stroke="#6a6a6a" stroke-width="1.0"/>
<line x1="102.4" y1="412.5" x2="97.7" y2="413.8" stroke="#6a6a6a" stroke-width="1.0"/>
<line x1="122.3" y1="431.2" x2="117.5" y2="432.6" stroke="#6a6a6a" stroke-width="1.0"/>
<line x1="143.4" y1="451.1" x2="138.5" y2="452.6" stroke="#6a6a6a" stroke-width="1.0"/>
<line x1="165.9" y1="472.3" x2="160.9" y2="473.9" stroke="#6a6a6a" stroke-width="1.0"/>
<line x1="206.8" y1="459.4" x2="209.7" y2="461.9" stroke="#6a6a6a" stroke-width="1.0"/>
<line x1="243.4" y1="447.8" x2="246.4" y2="450.2" stroke="#6a6a6a" stroke-width="1.0"/>
<line x1="278.9" y1="436.5" x2="282.0" y2="438.9" stroke="#6a6a6a" stroke-width="1.0"/>
<line x1="313.3" y1="425.6" x2="316.4" y2="427.9" stroke="#6a6a6a" stroke-width="1.0"/>
<line x1="346.6" y1="415.1" x2="349.8" y2="417.3" stroke="#6a6a6a" stroke-width="1.0"/>
<line x1="379.0" y1="404.8" x2="382.3" y2="407.0" stroke="#6a6a6a" stroke-width="1.0"/>
<line x1="165.9" y1="472.3" x2="168.7" y2="474.9" stroke="#6a6a6a" stroke-width="1.0"/>
<g transform="translate(-2.0 0)">
<text x="37.4" y="371.1" text-anchor="end" class="t">0</text>
<text x="53.7" y="386.6" text-anchor="end" class="t">10</text>
<text x="69.9" y="403.3" text-anchor="end" class="t">20</text>
<text x="89.0" y="421.9" text-anchor="end" class="t">30</text>
<text x="108.8" y="441.0" text-anchor="end" class="t">40</text>
<text x="129.3" y="461.5" text-anchor="end" class="t">50</text>
<text x="152.6" y="482.7" text-anchor="end" class="t">60</text>
<text x="173.8" y="496.0" class="t">3100</text>
<text x="214.0" y="484.3" class="t">3000</text>
<text x="251.1" y="471.6" class="t">2900</text>
<text x="287.2" y="459.9" class="t">2800</text>
<text x="322.1" y="448.3" class="t">2700</text>
<text x="356.0" y="437.7" class="t">2600</text>
<text x="387.8" y="428.1" class="t">2500</text>
<text transform="translate(33.7 204.8) rotate(-90)" text-anchor="middle" class="b">Absorbance</text>
<text transform="translate(82.6 455.1) rotate(44)" text-anchor="middle" dy="8" class="b">Time (min)</text>
<text transform="translate(194.1 528.6) rotate(-15.2)" class="b" style="font-size:23.6px">Wavenumbers (cm<tspan dy="-21" dx="3" font-size="15">-1</tspan><tspan dy="13" dx="1">)</tspan></text>
</g>
</g>
<g transform="translate(847.2 7.8) scale(0.985 0.985)">
<line x1="41.0" y1="26.7" x2="252.9" y2="7.6" stroke="#6a6a6a" stroke-width="1.0"/>
<line x1="252.9" y1="7.6" x2="401.8" y2="41.9" stroke="#6a6a6a" stroke-width="1.0"/>
<line x1="41.0" y1="26.7" x2="49.2" y2="362.3" stroke="#6a6a6a" stroke-width="1.0"/>
<line x1="252.9" y1="7.6" x2="252.2" y2="310.1" stroke="#6a6a6a" stroke-width="1.0"/>
<line x1="49.2" y1="362.3" x2="252.2" y2="310.1" stroke="#6a6a6a" stroke-width="1.0"/>
<line x1="252.2" y1="310.1" x2="393.0" y2="400.4" stroke="#6a6a6a" stroke-width="1.0"/>
<g class="s" fill="#00ff00">
<path class="n" d="M49.2 362.3L252.2 310.1L252.2 307.6L49.1 359.4z"/>
<path d="M49.1 359.7l0.5-0.1l1.2-0.5l0.5 0.1l0.8-0.1l1.7-0.7l2.1-0.6l0.9-0.2l0.8 0l0.5-0.3l1.2-0.2l2.1-0.8l0.9 0l1.3-0.7l2.1-0.2l2.1-0.8l0.8-0.1l1.3-0.7l1.2 0l1.3-0.5l0.4 0l2.1-0.8l1.2-0.3l1.3-1.1l1.2-0.2l2.5-1.8l0.8-0.8l0.5-0.7l0.8-1l0.4-0.2l0.8-1.2l2.5-4l1.2-2.3l2.9-3.9l2.9-2.7l0.8-0.2l1.2-0.6l1.3-0.2l1.6-1.1l0.8-1.1l0.8-1.7l0.9-2.9l0.8-4l2.4-17.8l0.4-1.7l0.4-0.6l0.4 0.7l0.4 1.5l1.7 11.7l0.8 4.8l0.8 3.4l0.9 1.7l0.8 0.8l0.4 0l1.2-0.8l0.8 0l0.8-0.3l1.7-0.3l1.2-0.1l1.6-0.9l0.8-0.9l0.8-1.5l1.2-3.7l0.9-3.5l1.2-8l0.8-6.7l1.2-12.3l1.3-14.6l4.3-58.6l1.7-20.4l0.8-7.9l0.9-6l0.8-3.4l0.4-0.8l0.4-0.2l0.4 0.5l0.4 1.1l0.8 3.9l1.6 14.6l1.1 15l4.1 62.2l1.1 13.7l1.5 15.1l1.1 8.5l1.5 7.9l1.1 4.2l2 4.2l1.9 1.9l0.4 0.2l0.8-0.1l1.5 0.7l0.8-0.3l1.2 0l0.8-0.4l1.1-0.3l0.8-0.5l1.6-2.3l0.8-1.7l1.2-5.2l0.8-5.1l3.7-33.3l0.9-4.2l0.4-0.7l0.3 0.4l0.8 3.8l0.7 6.5l1.7 19.7l0.7 6.3l0.8 4.8l1.1 4.7l1.1 2.5l0.7 0.9l2.7 0.6l1.1-0.2l1.9 0l1.2-0.3l1.1 0l1.2-0.5l0.7 0.1l2.3-0.3l1.5-0.3l1.5-0.6l0.8 0l1.5-0.5l6.3-1.1l0.4-0.4l0.8-0.3l1.5 0l1.5-0.7l2.2-0.2l1.1-0.3l1.1-0.2l1.1-0.4l0.8 0l0.7-0.4l1.1-0.4l1.2 0.1l2.5-0.9l1.9-0.2l1.5-0.6l1.1-0.1l1.1-0.5l0.3 0l1.1-0.4l1.1 0.1l1.1-0.8l1.5 0l1.5-0.5l1.1 0l1.8-0.5l1.1-0.5l0.7 0l1.1-0.5l0.7-0.2l1.1 0.1l0.7-0.4l1.8-0.3l2.2-1l0.4 0.2l0.7-0.1l1.8-1l1.1 0.2l1.1-0.3l0.3 0l1.1-0.3l0.4 0.1l1-0.7l0.4 0"/>
<path class="n" d="M56.9 369.5L261.6 316.1L261.6 313.7L56.8 366.6z"/>
<path d="M56.8 366.9l0.5 0l1.2-0.6l1.3-0.1l1.3-0.8l0.4 0.1l0.9 0l0.9-0.4l1.7-0.2l1.7-0.7l0.4 0.1l0.4-0.2l0.5 0l1.2-0.6l0.9-0.1l0.4-0.4l0.9-0.2l0.4 0.2l2.5-0.9l1.7-0.3l2.6-0.8l1.2-0.7l1.7-0.2l0.9-0.5l1.2-0.3l0.9-0.5l1.3-0.4l1.2-1l1.3-0.7l1.2-1.4l3.7-4.7l1.7-2.8l2.1-4l2-3.1l1.7-1.6l3.3-1.6l2.1-0.8l1.7-1.9l0.4-0.8l0.8-2.3l0.8-3.9l2.9-21.3l0.4-2l0.4-0.9l0.4 0.7l0.5 2l1.6 12.7l0.9 5.1l0.8 3.7l0.8 1.9l0.8 0.9l0.9 0.1l1.2-0.8l1.2-0.4l0.9-0.5l0.8-0.2l0.4 0.1l1.6-0.6l0.8-0.4l0.4-0.5l0.9-1.7l1.2-3.6l0.8-3.7l1.3-7.8l1.2-10.5l2.6-29.7l4.3-62.8l1.3-16.5l0.9-9l0.9-6.7l0.8-4.5l0.4-1.4l0.4-0.5l0.4 0l0.5 0.8l0.4 1.4l0.4 2.2l0.8 6.1l0.7 8.3l1.2 15.8l4 66.7l1.8 24.3l0.8 7.7l1.1 9.4l1.5 9.6l1.6 5.7l1.9 4.1l1.2 1.4l0.8 0.6l2.7 0.8l1.6-0.1l2.3-0.6l0.8-0.7l0.8-1.1l1.2-2l1.2-4.4l0.8-4.4l1.3-9.7l2.1-21.2l0.9-6.9l0.8-4.5l0.4-0.5l0.4 0.3l0.7 4.1l2.4 27.3l1.5 11.8l0.7 3.3l1.1 3.2l0.8 1l1.5 1l0.4 0.2l1.2-0.2l1.5 0.3l0.4-0.1l0.4 0l0.3-0.2l0.8-0.1l0.4 0.2l0.8-0.1l1.1-0.4l1.1 0l1.6-0.4l1.1 0l1.5-0.3l0.8-0.6l3-0.3l0.8-0.2l0.8-0.5l1.1 0l0.8-0.3l1.5 0.1l0.7-0.3l0.8-0.5l1.1-0.1l0.4-0.2l0.4 0.2l0.3-0.2l0.4 0.2l0.4-0.3l0.4 0.1l1.5-0.8l1.1-0.1l1.9-0.5l0.7 0l0.8-0.5l1.8-0.4l0.8 0l0.7-0.2l0.4-0.4l0.8 0l0.3 0.1l1.5-0.6l2.3-0.5l1.1-0.5l1.1 0l0.7-0.2l1.5-0.6l1.1 0.1l1.1-0.3l1.1-0.7l0.8-0.2l0.3 0.1l1.5-0.3l1.1-0.6l0.4 0l0.4-0.2l0.3 0.2l0.8-0.1l0.3-0.2l1.1-0.1l1.1-0.4l0.8 0l1.4-0.7l0.8 0l0.3 0.1l0.7-0.3l0.4-0.4l0.4 0l0.3-0.4l0.4 0.2l0.4-0.2l2.5-0.5l0.7-0.3l0.8-0.1l0.3 0.1l1.5-0.5l1.8-0.3l1.1-0.6l0.3 0.1l0.4-0.1"/>
<path class="n" d="M64.8 377.0L271.2 322.3L271.2 319.8L64.7 374.1z"/>
<path d="M64.7 374.4l0.4-0.1l0.5 0.2l0.8-0.4l0.5-0.4l1.3-0.3l1.7-0.7l1.3 0l1.7-0.9l1.8 0l0.8-0.5l1.3-0.2l1.7-0.5l1.3-0.2l0.9-0.5l2.1-0.5l3-1.1l3-0.6l2.6-1.3l1.7-0.3l0.8-0.7l2.1-1.1l0.9-0.9l0.4-0.6l1.2-0.8l6.7-10.7l2.6-3.5l2.5-2.1l2.5-0.7l1.7-0.8l0.8-0.7l0.9-1l0.8-1.9l1.2-4.6l0.9-4.8l2-15.2l0.5-1.9l0.4-0.4l0.4 0.6l0.4 1.8l2.5 16.1l0.9 3.5l0.4 1.1l0.4 0.7l0.8 0.5l0.9 0.2l2.9-1.5l1.2-0.2l1.2-0.7l1.3-0.4l0.4-0.3l0.8-1.2l1.7-4.6l0.8-3.6l0.8-4.6l1.3-9.9l1.3-12.2l1.3-14.8l4.4-59l1.8-20.8l0.8-8.1l0.9-6l0.9-3.7l0.4-0.8l0.4-0.3l0.4 0.5l0.4 1.1l0.8 3.9l1.6 14.3l1.5 20.8l3.7 57.3l1.1 14.4l1.5 15.2l1.1 8.8l1.1 6.2l2 6.9l0.8 1.9l0.7 1.3l1.2 1.1l1.6 1.1l1.2 0.4l2 0.1l1.9-0.4l2-0.8l0.8-0.7l0.8-1.4l1.6-4.9l0.9-4.2l1.6-12.2l2.2-19.3l0.8-5.3l0.4-1.6l0.4-0.5l0.4 0.4l0.8 3.4l2.5 24.7l1 8.7l0.8 4.1l0.7 2.5l0.8 1.5l1.1 1.4l1.6 0.6l2.3-0.1l1.2 0.1l3-0.5l2-0.6l0.7 0.2l1.2-0.4l1.5-0.2l1.6-0.5l1.1-0.6l1.2 0.3l1.9-0.5l1.1-0.5l1.9 0l1.2-0.7l1.1 0l2.3-0.7l1.1-0.5l0.4 0.1l0.8-0.1l1.5-0.6l1.1 0.1l0.4-0.2l1.1-0.1l1.2-0.8l1.8-0.1l1.2-0.5l1.1-0.1l1.1-0.4l1.5-0.1l0.8-0.4l1.1-0.2l2.2-0.9l1.9 0l2.6-1.2l0.4 0.2l1.1-0.5l1.5-0.1l0.7-0.2l1.1-0.6l1.5 0.1l1.1-0.8l1.5 0l0.4-0.3l3.3-0.9l1.1-0.1l0.7-0.5l1.1 0.1l1.1-0.7l1.1 0l2.2-0.8l1.1 0l1.1-0.4l1.1-0.1l0.7-0.4"/>
<path class="n" d="M72.8 384.6L281.1 328.6L281.1 326.2L72.8 381.8z"/>
<path d="M72.8 382.1l0.4-0.2l0.9-0.1l1.3-0.6l0.5 0.1l0.4-0.1l0.9-0.5l0.8 0.1l1.8-0.6l0.4-0.4l0.5 0l0.4-0.3l0.4 0l0.5-0.2l0.4 0l1.3-0.6l1.3 0l0.9-0.3l0.4 0.1l0.9-0.3l0.4-0.5l0.5-0.1l0.8-0.1l0.5 0.2l1.7-1l1.3 0l2.1-0.8l2.6-0.7l2.6-1.3l1.3-0.2l2.1-1.1l1.3-1.1l0.9-0.2l4.2-5.3l1.7-2.7l1.3-1.7l2.1-3.7l1.7-2.2l0.8-0.9l1.3-0.9l1.3-0.3l0.4-0.4l1.3-0.4l0.4-0.3l1.3-0.2l0.8-0.4l1.7-2.5l0.4-1.1l0.8-3.4l3-18.1l0.4-1.6l0.4-0.6l0.5 0.7l0.4 1.6l1.7 10.6l0.8 4.2l1.3 3.8l0.8 1.2l1.7-0.1l0.8-0.7l2.1-1.1l2.1-0.4l0.8 0l0.8-0.6l1.3-2l0.4-0.8l0.8-2.6l1.3-5.3l1.7-11l1.3-11.1l1.3-13.3l4.1-47.2l2.2-23l1.3-9.3l0.9-3.6l0.8-2.1l0.4 0.1l0.4 0.6l0.9 2.7l0.8 5l0.7 7l1.6 17.4l3.6 50.7l1.5 16.7l1.2 10l1.1 8.2l1.1 5.8l1.6 5.2l1.2 2.9l0.8 1.5l2.4 1.6l1.6 0.6l0.8-0.2l1.9 0.2l0.4 0l0.4-0.4l1.2-0.1l2-1.1l2.1-2.8l0.8-2.2l0.4-1.7l1.7-8.7l3-20.6l0.8-3l0.4-0.5l0.4 0.2l0.4 1.1l0.3 1.9l2.9 21.7l1.1 5.6l0.8 2.6l0.4 0.9l1.5 1.9l1.2 0.5l1.2-0.1l0.7 0.3l1.2-0.3l1.2 0.3l0.4-0.4l0.7-0.2l0.8 0.1l1.2-0.4l1.1-0.1l0.8-0.4l2-0.3l0.4-0.3l1.1 0.1l1.2-0.4l0.7-0.1l2.4-0.7l1.1 0l0.8-0.6l0.8 0l0.3 0.2l0.4-0.4l2.3-0.1l0.4-0.4l1.2-0.2l0.7-0.4l3.1-0.5l1.1-0.6l1.2-0.1l1.1-0.4l0.8 0l1.5-0.7l1.5-0.4l1.2 0.1l0.3-0.3l1.2-0.4l1.1-0.2l0.8-0.3l0.3 0l1.2-0.5l1.1 0.2l2.3-0.9l1.1-0.2l1.9-0.6l0.4 0.1l2.6-1.2l1.1 0l1.5-0.5l0.7 0l1.2-0.4l1.1-0.1l0.7-0.5l1.1 0.1l0.4-0.3l0.4 0l1.5-0.7l1.5-0.1l1.8-0.5l1.1-0.5l1.1-0.1l0.8-0.5l1.8-0.4l0.4 0.1l2.2-1l1.1 0l1.1-0.2"/>
<path class="n" d="M81.1 392.4L291.2 335.1L291.2 332.6L81.1 389.4z"/>
<path d="M81.1 389.7l0.4 0l2.2-0.7l2.7-0.9l2.2-0.2l2.2-0.9l2.6-0.6l3.1-1.1l1.3-0.2l0.9-0.4l1.7-0.5l0.9 0.1l1.3-0.7l1.8-0.2l1.3-0.9l1.3-0.1l2.6-0.8l0.8-0.5l0.5-0.5l0.8-0.4l0.4 0l1.3-1l0.5-0.2l0.4-0.6l1.7-1.7l2.6-3.6l0.8-0.8l2.2-3.4l2.1-3l1.7-2.1l0.9-0.8l1.7-0.7l1.7-0.2l1.7-1l0.5-0.1l1.2-1l0.9-1.2l0.8-1.7l0.9-2.8l0.8-4l2.2-12.9l0.4-1.6l0.4-0.6l0.5 0.5l0.4 1.6l1.7 9.8l0.8 3.9l1.3 3.7l0.8 0.6l0.9 0.2l1.2-0.7l1.3-0.2l1.3-1l2.5 0l0.8-0.5l1.7-1.8l1.3-2.7l0.8-3l1.3-6.3l1.3-8l1.8-14l4.5-43.4l1.8-15.5l1.7-10.6l0.9-2.7l0.8-1.1l0.4 0.3l0.5 0.7l0.8 2.9l0.8 4.2l0.7 6.1l1.6 14.9l2.6 30l1.5 15.4l2.2 18.1l1.2 5.9l2 7.3l0.8 1.8l0.7 1.4l1.6 2l2.5 1l1.6 0.5l1.2-0.4l1.2 0.1l1.6-0.6l1.2-0.1l0.8-0.3l2-1.9l1.7-3.8l0.8-2.8l1.7-8l1.7-9.1l0.8-3.2l0.4-1.1l0.4-0.4l0.4 0.4l0.8 2.1l3 15.7l1.1 4.1l0.8 2l0.7 1.2l0.8 0.5l2.4 0.5l0.4-0.2l0.4 0.2l1.1-0.7l0.4-0.1l0.4 0.2l2.4-0.1l0.8-0.1l2.3-0.9l2.4-0.1l0.7-0.3l0.8-0.1l1.2-0.7l0.8 0.3l1.1-0.6l0.4 0.2l0.4-0.1l1.2-0.6l1.2-0.1l1.9-0.8l1.9-0.2l0.8-0.3l0.4-0.3l1.2-0.1l1.9-0.6l0.7 0.1l1.2-0.8l0.8 0.2l0.7-0.1l2-0.6l1.9-0.8l0.7 0l0.8-0.4l1.5-0.3l1.2-0.1l1.1-0.5l0.4 0.1l2.3-0.8l1.1-0.1l1.2-0.2l0.7-0.4l0.4-0.4l0.8 0l0.3 0.2l1.9-0.8l2.3-0.5l0.8-0.5l1.1 0.1l0.4-0.4l3.4-1l1.8 0l1.9-1l0.7-0.2l0.4 0.1l3-0.7l0.8-0.3l0.3-0.3l0.4 0.1l0.4-0.3l1.8-0.5l1.1 0.1l1.2-0.7l0.3-0.1l1.1 0.1l1.5-0.7l0.4 0"/>
<path class="n" d="M89.7 400.4L301.5 341.7L301.5 339.2L89.6 397.6z"/>
<path d="M89.6 397.9l0.5 0.1l1.3-0.9l0.9-0.1l0.4 0.2l0.9-0.2l1.8-0.9l1.4-0.1l2.6-1.1l1.4 0.1l0.4-0.1l0.9-0.4l0.9-0.2l1.3-0.6l1.3-0.2l1.8-0.8l1.3-0.2l0.4-0.3l0.9-0.1l0.9-0.4l1.3 0l1.3-0.8l0.5-0.1l0.4 0.1l1.8-0.7l0.8-0.5l1.8-0.4l0.9-0.7l0.8-0.3l1.8-1.2l4.3-3.9l3-4.3l3.1-3.9l0.8-1.1l1.3-1l0.9-0.9l0.9-0.4l0.4 0l0.4 0.2l1.8-1l0.4 0.1l2.1-0.8l1.8-1.9l0.8-1.8l0.9-2.9l2.6-11.6l0.4-1.2l0.5-0.3l0.4 0.4l0.4 1.3l2.1 8.8l0.9 2.5l0.8 1.5l1.3 0.6l1.3-0.6l0.8-0.7l1.7-0.5l1.7 0.1l1.7-0.3l1.3-0.6l0.8-0.9l0.9-1.3l1.7-4.6l0.8-3.3l1.4-6.4l2.2-14l3.6-27.1l1.8-11.9l1.7-8.9l0.9-2.7l0.4-0.9l0.5-0.4l0.4 0l0.4 0.3l0.8 1.5l1.2 5.4l0.8 4.4l5 40.1l1.9 12.9l1.2 5.7l0.7 3.2l1.2 3.8l2 3.8l0.8 1.1l1.2 0.7l0.4 0.5l0.9 0.4l0.4-0.1l1.6 0.5l1.6-0.4l1.2 0.1l1.2-0.3l1.3 0l1.2-0.6l1.6-0.5l2-1.8l1.7-2.9l3.3-10.3l0.9-1.9l0.8-1.1l0.4 0.1l0.8 1.1l2.6 7.9l1.6 3.1l1.2 1.3l0.8 0.5l1.1 0.2l1.6-0.1l1.6-0.7l1.2 0.3l1.2-0.5l2-0.4l0.4-0.3l1.6-0.1l0.4-0.4l0.7-0.2l1.2 0.1l0.8-0.1l1.6-0.8l0.4-0.4l1.2 0l1.1-0.6l0.4 0.1l2.8-0.2l1.1-0.6l0.8-0.1l1.6-0.6l0.8-0.2l0.4 0.1l1.1-0.7l1.2 0l0.8-0.4l1.1-0.2l0.4-0.3l3.5-0.7l1.9-0.7l1.2 0l3.5-1.4l0.7 0.2l0.8 0l1.2-0.8l1.9-0.4l1.1-0.5l0.8-0.1l0.8 0.1l1.1-0.7l0.8 0.2l1.5-0.9l1.1 0.1l1.2-0.5l1.5-0.2l0.8-0.6l1.5-0.4l1.1-0.2l0.8 0l0.7-0.5l0.4 0l0.4 0.1l1.9-0.6l0.7 0l1.5-0.6l0.8-0.5l2.6-0.6l1.1-0.2l1.5-0.5l0.8 0.1l0.7-0.6l1.1-0.1l0.8-0.3l0.7-0.3l0.8 0l0.7-0.3"/>
<path class="n" d="M98.4 408.7L312.1 348.5L312.1 346.2L98.4 405.7z"/>
<path d="M98.4 406l0.9 0l1.8-0.9l1.3-0.1l2.3-0.8l1.3-0.1l1.4-0.6l0.9 0l1.3-0.4l1.4-0.5l1.3-0.3l1.8-0.8l1.3 0.1l3.6-1.6l2.2-0.1l0.9-0.6l0.9 0l1.3-0.7l0.9 0l0.9-0.4l0.4-0.4l0.9-0.5l1.8-0.4l3-1.8l0.9-1l1.3-1l3.1-3l1.7-2.2l1.8-2.6l0.9-0.5l1.3-1.5l1.3-0.6l1.3-0.3l0.9-0.8l0.4-0.2l1.3-0.1l0.9-0.7l0.4 0l0.9 0.3l0.4-0.2l1.8-1.5l1.3-2.5l0.8-2.2l2.2-7.4l0.5-0.8l0.4-0.3l0.4 0.3l0.5 0.8l2.5 7.1l0.9 1.4l0.4 0.5l0.4 0.2l0.4 0l2.6-0.8l0.9-0.6l0.8-0.2l0.5 0.1l1.2-0.5l1.3 0l1.3-0.1l0.4-0.2l1.3-1.1l1.3-1.8l0.9-1.8l0.8-2.4l1.3-4.7l1.8-7.7l3.6-18.9l2.2-10.7l0.9-3.5l0.9-2.6l0.9-1.5l0.8-0.6l0.4 0l0.4 0.5l1.3 2l1.6 5.8l5.5 29.6l1.1 4.9l1.2 4l1.6 4.2l2.4 3.7l0.8 0.6l0.5 0l0.4 0.3l2 0.7l1.6 0.2l2.1-0.5l4.5-0.6l1.2-0.6l0.8-0.7l1.7-0.2l2.4-2.8l3-4.9l0.4-0.6l0.8-0.6l0.8-0.1l0.8 0.4l1.6 1.7l0.8 1.2l1.5 1.3l1.2 0.6l2 0.2l1.6-0.5l2-0.2l1.2-0.5l0.8 0l1.2-0.4l0.8 0l2.4-0.8l2-0.6l2.4-0.3l0.8-0.4l1.2-0.1l0.4-0.3l2.4-0.8l1.5-0.3l0.8 0l1.2-0.6l0.4 0.1l0.8-0.4l1.2 0.1l0.8-0.8l0.3-0.1l0.4 0.3l0.4-0.1l1.2-0.9l1.6-0.2l0.8 0.1l1.1-0.4l1.2-0.1l0.8-0.4l1.5-0.6l2-0.2l1.2-0.8l1.1 0l1.2-0.7l2.3-0.3l1.2-0.6l0.7 0.1l1.2-0.6l1.5-0.3l0.4 0.1l0.4-0.1l0.8-0.5l2.3-0.6l2.7-0.9l1.1 0.1l1.5-0.8l0.4 0.1l1.2-0.4l0.7 0l1.2-0.7l1.5-0.2l1.1-0.6l0.4 0l1.2-0.3l0.7 0.1l1.1-0.6l0.8 0l0.4-0.3l1.1-0.2l0.8-0.7l1.1 0l1.1-0.5l0.8 0.1l1.9-0.3l0.3-0.3l1.9-0.4"/>
<path class="n" d="M107.4 417.2L323.0 355.5L323.0 352.9L107.4 414.4z"/>
<path d="M107.4 414.7l0.4 0.1l0.5-0.1l0.4-0.4l0.5 0.2l0.9 0l0.9-0.5l0.9-1l0.5-0.1l0.4 0.2l1.4-0.9l0.4 0.3l0.5-0.2l0.4 0.1l0.5-0.3l0.5 0.3l0.4-0.4l0.5 0l0.4-0.4l0.5-0.1l0.9-0.8l0.9-0.3l1.8-0.2l0.4-0.3l0.5 0.1l0.4-0.4l1.8 0.3l0.5-0.7l0.4 0.3l0.5-0.3l0.4 0.1l0.5-0.6l1.8-0.4l0.4-0.2l0.5-0.6l0.9-0.2l0.4 0.1l0.9-0.5l1.4 0.5l0.4-0.3l0.4 0.1l0.5-0.1l0.9-1l1.3-0.4l0.5-0.4l0.9-0.2l0.8-0.8l0.5 0.1l0.4 0.3l1.4-1.4l0.9-0.6l0.8 0l0.5-0.3l0.4-0.6l0.9-0.5l0.5-0.5l0.8-1.4l1.4-0.9l0.9-1.3l1.3-0.9l0.9-1.3l0.8-0.8l0.9-0.5l0.9-0.2l1.3-1.2l0.5-0.2l0.8 0.1l1.4-0.3l0.8-0.8l0.5 0.2l0.9 0.1l0.4-0.8l0.9 0l0.4 0.2l0.9-0.6l1.7-3.1l2.3-5.6l0.8-2l0.5-0.4l0.4-0.1l0.5 0.6l2.9 6.2l0.5 0.4l0.4 0.2l0.4 0.5l0.5-0.4l0.4-0.1l0.4-0.6l1.3 1l0.5-0.3l1.3-1.7l0.4-0.4l1.3 0.8l1.3-1.2l1.3 0.8l0.4-0.3l1.3-1.5l0.4 0.1l0.9-0.4l2.6-3.7l1.3-3.8l0.9-2l0.4-1.8l1.8-4.9l1.3-5l2.3-7.2l0.8-2.3l1.3-2.4l0.5-1.2l0.4-0.4l0.9 0l0.4 0.1l0.4-0.1l0.4 0.7l1.3 1l0.4 1l2 6.3l3.6 13.2l0.8 0.9l1.2 3.1l0.8 1.3l2.5 3.4l0.8 0.5l0.4-0.1l1.2 1.2l0.4-0.2l0.5 0.2l0.8 0.9l0.4 0.1l0.4-0.1l0.4-0.5l0.8 0l0.9-0.4l0.4 0.2l0.4 0.6l0.4 0l0.8-0.8l0.5-0.2l1.2 0.8l0.8-0.4l0.4 0.1l0.4-0.1l0.9-0.9l1.6-0.8l0.4 0.5l1.7-0.1l1.6-0.8l1.3-1.3l0.4 0l0.4-0.4l0.4-0.1l0.8-1.6l0.9-0.8l1.6 0.1l1.2-0.4l0.8 0.2l1.2 0.6l0.8 0l0.8 0.6l1.3-0.9l0.4 0.6l0.4 0.1l0.4 0.4l1.6-1.1l0.8 0.5l0.4-0.2l0.8-0.8l0.4-0.1l0.4-0.4l0.4 0.3l0.4-0.3l0.4 0.3l0.4-0.3l0.4 0.3l0.4-0.2l0.4 0.1l0.8-0.7l1.3-0.4l0.4-0.3l2-0.5l0.4 0.4l0.4-0.2l0.8-0.9l0.4-0.1l0.4 0.5l0.4 0l0.8-0.8l0.4-0.1l0.8 0.4l1.2-0.9l0.4 0.4l0.8 0l0.4-0.3l2.4-0.5l1.6-1.1l0.7 0.4l1.2-1l0.8 0.2l0.4 0.4l0.4 0.1l0.8-1.1l0.4-0.2l0.4 0.4l1.2-0.9l0.4 0.1l0.8-0.6l1.6-0.1l0.7 0.2l0.4-0.4l0.4 0l1.2-1l0.8 0.5l0.4-0.2l0.4-0.5l0.4 0.3l0.4-0.2l0.4 0.2l0.4-0.8l0.4 0l0.3-0.3l1.2 0.5l0.8-0.4l0.4-0.4l0.4 0.4l0.8-0.4l0.8-1.3l0.3-0.3l0.4 0l0.4 0.6l0.4-0.1l1.2-0.5l0.8 0l0.3 0.2l0.4-0.1l0.4-0.3l2-0.8l0.3 0.1l0.4 0.3l1.2-0.6l1.2-1.5l0.4 0.1l0.3 0.5l0.8 0.3l0.8-0.4l0.4 0.1l0.4-0.5l0.7-0.5l0.4 0.3l1.2-0.4l0.3 0.4l1.2-1.3l0.4 0.2l1.1-0.4l0.4 0.1l0.4-0.3l0.4 0l0.4-0.4l0.4 0.4l0.3-0.1l1.2-0.7l0.4 0.3l0.4-0.4l0.7-0.1l0.8 0.2l0.7-0.2l1.2-1l0.4 0.2l0.4-0.2l0.7-0.7l0.4 0l0.4 0.5l0.7-0.5l0.4-0.6l1.5 0.4l0.8-0.2l0.8-0.6l1.1 0.1l1.1-0.5l0.8-0.5"/>
<path class="n" d="M116.6 425.9L334.1 362.6L334.1 359.9L116.6 423.0z"/>
<path d="M116.6 423.3l0.5 0.2l0.9-0.1l0.4-0.4l1-0.3l0.4 0l0.5-0.7l0.4-0.2l0.5 0l0.9 0.6l0.5-0.7l0.9-0.2l0.5 0l0.4-0.1l0.5-0.7l0.4 0.2l0.9-0.4l1-0.8l0.4-0.2l0.5 0.1l0.4 0.6l0.5 0.2l0.5-0.1l0.4-0.8l0.5-0.3l0.9 0.4l0.4-0.1l0.9-0.4l0.5 0l1.4-1.4l0.9 0.6l0.4-0.2l0.9 0l0.5 0.3l0.4-0.1l1.4-1.9l0.4-0.1l0.5-0.3l1.4 0.1l0.9-0.4l0.4 0.1l0.9-0.2l1.4-0.8l0.4 0l0.9 0.6l0.5-0.1l0.9-1l0.9 0l1.3-1.6l1.3-0.5l0.5-0.5l0.4 0.3l0.5-0.1l0.4-0.3l0.5-0.9l0.4-0.2l0.5 0.1l1.3-1.2l0.5 0l0.9-1.2l1.8-1l0.4-0.5l0.9-0.3l1.3-1.4l0.9-0.3l0.9-0.6l0.5-0.9l0.9-0.6l1.7 0.8l0.9-1l0.5-0.2l0.4 0.5l0.4 0l0.5-0.3l0.4-0.6l2.7-0.6l0.9-1l1.3-3.1l0.4-0.6l1.8-3.9l0.9-0.8l0.5 0l0.8 0.3l1.8 2.9l1.3 0.9l0.8 0.4l0.5 0l0.4 0.6l0.9-0.1l0.4-0.8l0.9 0.1l0.4 0.4l1.3-1.2l0.4-0.1l1.4-0.8l0.4 0.2l0.8-0.1l0.9-0.6l1.3 0.4l0.9 0l1.3-0.6l0.8 0.1l0.5-0.2l0.4 0.2l0.4-1l0.9-1l0.4 0.1l0.5-0.3l1.7-2.4l0.9-0.8l0.4-0.6l0.5-1.1l1.3-1.9l0.4-1.1l0.5-0.6l0.8-0.7l0.5-0.1l1.3-2.7l0.4-0.5l0.4-0.1l0.5 0l0.4 0.4l1.3-0.9l0.8-0.1l1.7 2.2l1.2 2.4l0.4 1.1l0.9 0.6l0.4-0.1l1.6 2.2l0.9 0.8l0.4 0.1l0.4 0.5l1.3-0.3l1.2 1.1l0.4-0.1l0.4-0.4l0.9 0.2l0.4 0.4l1.2 0l0.5-0.6l0.8 0.2l0.8 0.5l0.5-0.3l0.4 0.2l0.4 0.6l0.4 0.1l0.4-0.4l0.4-0.7l0.5 0.1l0.4 0.5l1.6-0.1l0.4 0.2l0.5-0.3l1.2-0.4l1.3 0.2l1.6-0.8l1.3 0.1l0.8-0.6l0.4 0l0.4 0.3l0.4-0.1l0.4-0.2l0.5-0.6l0.4-0.3l0.4-0.3l0.4 0.2l0.4-0.1l0.9-0.9l0.4-0.2l1.2-0.1l1.3-0.7l0.4 0.1l0.4-0.4l0.4 0l0.4-0.3l0.8 0.1l0.9-0.2l0.4-0.6l0.8 0.2l0.4 0.3l1.6 0l0.4-0.2l0.9-0.8l0.4-0.2l0.4 0.1l0.4 0.6l0.4-0.1l0.4-0.2l0.4-0.5l0.8 0.1l0.4-0.1l0.4-0.6l0.5-0.3l0.8 0.6l2-1.3l1.2 0l0.8-0.5l1.3-0.2l0.4-0.3l1.2 0.8l0.4 0.1l0.8-0.8l0.8-1.2l0.4-0.1l0.8 0.4l0.4-0.3l0.8 0.2l0.4 0.3l0.8-0.2l1.2-1.5l0.8 0.3l0.8 0l2.1-1.2l0.7 0.4l0.4 0l0.5-0.7l0.4-0.3l0.8 0.1l0.4-0.2l1.2-0.1l1.2-0.2l0.8-0.7l0.3 0.3l0.4-0.1l0.4 0.3l0.4-0.6l0.4 0.2l1.2-1.2l0.4 0.5l0.4-0.1l0.4 0.1l0.8-0.7l1.6-0.2l0.4-0.4l0.8-0.4l0.4 0.3l0.8-0.4l0.8 0l1.6-1.2l0.8 0.1l0.3 0.4l1.2-0.8l0.4 0.1l0.8-0.2l0.4-0.2l0.4 0l0.8-0.6l0.8-0.2l0.8 0l0.3 0.3l0.4-0.1l1.2-0.9l1.2 0.2l0.4-0.4l1.2-0.6l0.4-0.4l0.3 0l0.4 0.3l1.2 0l0.8-0.6l0.4-0.6l0.8-0.6l0.7 0.2l0.8 0l1.2-0.6l0.4 0.1l0.3 0.3l1.2-1.3l0.4 0.1l1.2-0.3l1.5 0.2l0.4-0.3l0.4 0.1l1.5-1l1.2 0.1l0.8-0.4l0.7 0.4l1.9-1.1l0.4-0.4l1.2 0.1l0.7-0.4l0.8-0.6l1.2 0l0.3-0.5l0.8-0.4l0.4 0.3l0.4-0.2l1.1 0.2l0.4-0.5l1.1-0.1l0.4-0.4"/>
<path class="n" d="M126.1 434.8L345.5 369.9L345.6 367.1L126.1 432.4z"/>
<path d="M126.1 432.7l1.4-0.3l1.4-1.2l0.5 0.2l2.7-1l1 0l0.4-0.3l1 0.1l1.4-0.5l0.4 0.1l0.9-0.4l0.5-0.5l1.8-0.2l0.5-0.5l0.9 0l0.5 0.3l1.4-0.7l0.9 0l0.9-0.4l0.5-0.5l0.4 0.3l0.9-0.6l1.4-0.2l1.4-1.1l0.4-0.1l0.9 0.3l1-0.5l0.9-0.8l1.8 0.4l1.4-1.3l1.3 0.4l0.5-0.1l1.3-1.4l0.5-0.3l0.4 0.2l0.5-0.3l0.4-0.1l2.3-1.9l0.5 0l0.4 0.4l0.5 0l0.4-0.3l0.5-0.5l0.4-0.1l0.9-0.7l0.5-0.3l0.4 0.2l1.4-0.9l0.4-0.1l0.5-0.5l0.4-0.3l1.4-1.9l0.9-0.2l0.9-0.5l1.3 0.3l1.4-1.1l0.4 0.2l0.5 0.6l0.9-0.7l0.4-1l0.9-0.1l0.4 0.4l0.9-0.2l0.5-0.6l1.8-0.9l0.9-0.8l0.9-1.1l1.3-2.9l1.4-1.6l0.9-0.5l0.4 0.3l1.8 0.4l1.7 1.9l0.9 0.1l0.8-0.4l0.5-0.1l0.9 0.6l0.8-0.6l0.9-0.1l1.3-1.1l0.5-0.1l0.4-0.3l0.5 0.2l0.4-0.2l0.4 0l0.9-0.8l0.5-0.7l0.8-0.6l0.9 0.3l0.4-0.1l0.9 0.4l0.9 0.9l0.8-0.3l0.5-0.6l0.8 0.5l0.5 0l0.4-0.4l1.3 0.6l0.4-0.5l1.3-0.9l1.3-0.6l0.9-0.6l0.4 0l0.9-0.8l0.5-0.7l1.3-0.8l1.7-2.1l1.8-1.6l0.4-0.1l0.8 1l0.4 0.2l0.5 0.6l0.8 0.5l0.4-0.1l0.4 0.8l0.5 0.3l0.4 0.1l1.3 0.5l0.4-0.5l0.4 0l0.4-0.2l0.5 0.1l0.4-0.2l0.4 0.4l0.8 0.3l0.5-0.5l1.3-0.4l0.8-0.5l0.4 0.1l0.9-0.3l0.9-0.8l0.8-0.2l0.4 0.2l0.4 0l0.9 0.5l0.4 0l1.3-0.9l0.8 0.8l1.7 0.4l1.2 0.5l0.9-0.7l0.8 0l0.4-0.3l0.9-0.2l0.4 0.2l0.4-0.2l0.4 0l0.9-0.5l0.4 0.4l0.4-0.1l0.4 0.4l0.4-0.5l1.3-0.6l0.4 0l0.4-0.6l0.9-0.1l0.4 0.1l0.8-0.6l0.4 0l0.5-0.6l0.4 0.1l0.4-0.2l0.4 0.2l2.1-1.9l0.4 0.3l0.8 0.3l0.5-0.5l1.2 0.3l0.8-0.9l0.4-0.2l0.9 0.6l0.4 0l0.4-0.6l0.8-0.1l0.4 0.2l0.8-0.5l0.5 0.1l0.4-0.4l0.8-0.4l0.4 0.2l1.3-1.1l0.8 0.8l0.8-0.6l0.4-0.5l0.4 0.2l0.4-0.5l1.3 0.2l0.8-0.1l0.4 0.4l0.4-0.2l0.8-0.9l0.4-0.1l0.4 0.4l0.4-0.1l0.4 0.1l0.5-0.7l0.4 0l0.4-0.2l0.4 0.2l0.4-0.3l0.4 0.1l0.8-0.4l0.8-0.9l0.8 0l0.4 0.6l0.8-0.3l0.5-0.8l0.8 0.4l0.4-0.1l0.4-0.2l0.4-0.4l0.4 0l1.2-0.7l0.8 0.2l1.2-1.1l0.8-0.1l0.8 0.5l0.4-0.2l0.5-0.4l0.4-0.1l0.8-0.5l0.8-0.8l0.8 0.1l1.2-0.2l0.4 0.1l0.4 0.3l0.8-0.2l0.4-0.5l0.8-0.2l1.2-1l0.4 0.3l0.8 0.3l0.4-0.3l0.8-0.4l0.4 0.1l1.2-0.5l0.8 0l0.8-1l0.8-0.4l0.8-0.1l0.4 0.3l1.6-0.5l0.8 0l1.2-0.9l1.5-0.6l0.4 0l0.8 0.6l0.8-1l0.4-0.3l0.8 0.3l0.8-0.1l0.8-0.9l0.4-0.2l0.4 0.3l0.7-0.2l1.2 0.1l0.8-0.6l1.6-0.4l0.4 0l0.4 0.4l0.7-0.3l0.4-0.7l0.4-0.2l0.8-0.1l0.8-0.9l0.4 0.1l0.4 0.4l0.4 0l1.1-0.6l0.8 0.1l0.4-0.1l0.4-0.5l1.2-0.2l0.4-0.3l0.3-0.1l0.8-0.7l0.4-0.1l0.4 0.3l0.8 0.1l1.5-0.9l0.4 0.2l0.8 0l1.5-1.4l0.4 0.3l0.4-0.2l0.4 0.2l0.4-0.4l0.4 0.3l0.7 0l1.2-0.8l0.4 0l0.4-0.2l0.7 0l0.8-0.3l0.8-0.6l0.4-0.1"/>
<path class="n" d="M135.9 444.0L357.2 377.5L357.3 374.9L135.9 440.9z"/>
<path d="M135.9 441.2l0.5 0l0.9-0.4l0.5 0l0.4 0.4l0.5 0l1.4-1.4l1 0.3l0.4-0.1l0.5-0.3l0.9-0.3l1-0.7l0.9 0.5l0.9-0.6l0.5-0.1l0.5-0.3l0.4-0.1l0.5-0.7l1.4 0.7l0.9-0.5l0.5 0.2l0.5-0.3l0.9-1.4l1.4 0.1l0.4-0.3l1 0l0.9-0.6l0.5-0.1l0.4 0.4l0.5-0.1l1.4-1l0.4 0.3l1 0.1l0.4-0.6l1.9-0.6l1.3 0.3l0.5-0.6l0.9-0.7l0.5 0l0.9-0.7l0.9-0.2l0.5 0.4l0.4-0.3l1.4 0.1l0.9-0.8l1.4-0.2l0.4-0.5l0.5 0l0.5-0.7l0.9-0.7l0.9-0.3l0.9 0l0.4-0.3l1.4-1.6l0.5 0.1l0.9-0.7l1.3 0.1l0.5-0.6l0.5 0.2l0.9-0.5l0.4-1l0.5-0.2l0.4 0l0.5 0.2l0.4-0.4l0.5-0.2l0.9 0.3l0.9-0.7l0.4 0l0.5-0.5l1.3-0.4l0.9-0.5l0.9 0.4l1.4-0.8l0.4-0.1l0.9-0.7l1.4-2l1.4-1.4l0.4-0.9l0.5-0.4l0.4-0.3l0.5 0.1l0.4-0.2l1.4-1.5l0.4 0l1.3 1.7l0.5-0.2l1.3 0.9l0.4 0l0.5 0.2l0.4 0l0.5 0.2l1.3-1.2l0.4-0.1l0.9 0.3l1.4-1.3l0.9-0.5l0.4-0.9l0.9-0.5l0.4 0.2l1.4-0.8l0.4 0.1l1.3-0.9l0.9 0.8l0.9 0.2l0.4-0.3l0.4 0.4l0.9-0.4l0.5-0.5l0.8 0.5l0.4 0.7l0.5 0l0.4 0.2l0.5-0.7l0.4 0l0.9-0.7l0.4-0.9l0.5-0.1l0.4-0.4l0.4 0.1l0.5-0.6l0.4-0.1l2.2-1.8l0.5-0.2l1.3-2.2l0.4 0l0.5-0.5l0.9-0.2l0.4 0.3l0.8 0.2l0.5-0.3l0.4 0l0.8 1.2l0.5 0.3l0.4-0.1l0.8 0.8l0.4 0.7l0.9 0.5l0.4 0l0.5-0.5l0.4-0.2l0.8 0.1l0.5-0.2l1.2 0l0.9-0.6l0.9-1.2l0.4-0.4l0.9 0.1l2.6-1.3l0.4 0l0.4 0.2l0.8 1.1l0.9-0.3l0.4-0.5l0.9-0.1l0.4 0.5l0.4 0l0.4 0.5l0.9 0.2l0.8-0.4l0.8 0.4l0.9-0.2l0.4-0.7l0.9-0.4l0.8 0.9l0.8-0.2l0.5-0.5l0.4 0l1.3-0.7l0.8-0.2l0.4 0.1l0.5-0.3l0.4 0.1l0.4-0.2l0.4-0.2l0.9-1l0.4-0.1l0.4 0.6l0.4 0.1l0.4 0l0.9-0.4l0.4 0.1l0.4-0.3l0.4 0.1l0.5-0.2l0.4 0.2l0.4-0.2l0.4 0.1l0.4-0.8l0.5-0.4l0.4-0.1l0.8 0.2l1.3-0.6l1.2-1l0.9 0l0.4 0.1l0.8-0.2l0.4-0.3l0.9 0.1l0.4 0.3l0.4-0.1l0.4-0.2l1.3-1.4l0.4-0.2l0.4 0.4l0.8 0.1l0.8-0.7l0.9 0l0.4-0.2l0.8-1l0.4 0.3l0.8 0l0.5-0.4l0.4 0.3l0.4 0l0.8-0.9l0.8 0.3l0.4 0.4l0.5-0.8l0.4 0.2l0.8-0.2l0.4-0.4l0.8-0.2l1.3-0.6l0.8 0.1l1.2-0.8l0.4 0.1l0.8-0.7l0.9-0.1l0.4 0.3l0.4-0.3l1.2-0.1l1.2-0.7l0.4 0.2l0.4-0.1l0.4 0.1l0.4-0.4l1.3-0.6l0.4 0.2l0.4-0.1l0.4 0.1l0.4-0.4l0.4-0.2l0.4 0l0.4 0.3l0.4 0.1l0.8-1l0.8-0.3l0.8-0.5l0.8 0l0.9-0.4l0.4 0.2l0.4-0.4l0.4 0.1l0.4-0.2l0.4 0.2l1.2-0.7l0.4 0.2l0.4-0.1l0.8-0.7l0.4 0.1l0.4 0.4l0.4 0l0.4-0.3l0.8-1.2l0.4 0.2l0.8-0.1l0.4-0.6l0.8 0l0.4 0.3l1.2-0.9l0.4 0.3l0.4 0l0.4-0.1l0.8-0.9l0.4-0.1l1.2 0.8l0.8-0.5l0.8-1.1l1.2 0.2l1.2-0.8l1.6-0.1l1.1-0.6l2-0.3l0.8-0.4l1.6-1.3l1.2 0.9l0.8-0.7l0.7 0l0.4-0.4l0.8-0.3l0.4 0.4l0.4-0.1l0.4-0.3l0.4-0.6l0.4-0.3l0.8 0.2l0.8-0.8l1.1 0.7l0.4-0.7l0.4 0l0.4-0.4l0.4 0.2l0.4-0.1l0.8 0.2l0.3-0.4l1.2 0l0.4-0.3l0.4-0.7l0.8 0.3l0.4 0l0.7-0.8l0.4-0.1l0.8 0.1l0.4-0.3l0.8 0l0.3 0.3l0.4-0.6l0.8-0.5l0.8 0l0.4-0.3l0.4-0.1"/>
<path class="n" d="M146.0 453.5L369.3 385.2L369.3 382.9L146.0 450.8z"/>
<path d="M146 451.1l0.4 0.1l0.5-0.6l0.5-0.1l0.5-0.5l0.4 0l0.5-0.3l0.5 0.3l0.5-0.1l0.4 0.2l0.5-0.1l0.5 0.1l1.4-1.2l0.9 0.3l1.9-1.6l1-0.1l0.9 0.2l0.5-0.1l1.4-1.3l1.4 0.2l0.5-0.1l0.4 0l0.5-0.5l0.9-0.1l0.5 0.3l0.5 0.2l1.4-1l1.9-0.7l0.4-0.5l1-0.2l0.4 0.1l0.5-0.5l0.5-0.1l0.9 0.4l0.9-0.6l1.4-0.2l1.4-1.2l0.5-0.2l0.4 0.3l0.5-0.6l0.5-0.2l0.4-0.7l0.5 0.5l0.5-0.3l0.4 0.5l0.5-0.4l0.4 0.2l0.5-0.6l0.5-0.1l0.4-0.5l0.5-0.1l0.9 0.3l0.5-0.1l0.4-0.4l0.5-0.2l0.5 0.1l2.3-1.4l0.9 0l0.4-0.2l1-0.9l0.9 0.1l0.9-0.1l1.4-1.5l0.4-0.2l0.5 0.3l0.4 0l0.5-0.3l0.5-0.7l0.4-0.3l1.4-0.4l0.9 0l0.9-0.3l0.5-0.6l1.3-0.3l0.9-0.5l0.5 0l1.4-0.9l0.9-0.2l0.4 0.3l0.5-0.1l0.4-0.4l0.5-1.4l0.5-0.8l0.4-0.3l0.5 0.3l0.4-0.3l2.3-3.8l0.5-0.1l0.5-0.5l0.4-0.2l0.5-0.1l0.8 1.3l1.3 1.1l0.9-0.1l0.9 0.9l0.9 0.1l0.9-0.4l0.4-0.5l0.9-0.3l0.5-0.4l0.9-0.5l1.4-1.7l0.9-0.4l0.9-1.3l0.4-0.2l0.5 0l0.4 0.2l1.3-0.7l1.4 0l0.4-0.4l1.3 1.1l0.9-0.4l1.3 0.9l0.4-0.5l0.5 0.2l0.4-0.2l0.5 0.2l0.4-0.3l0.4 0.2l0.5 0l1.3-1.5l0.9-0.1l0.5-0.7l0.8-0.4l0.5-0.5l0.9-1.8l0.4 0.1l0.5-0.6l0.4 0.1l0.9-0.7l0.9-1.7l1.3 1.2l0.4-0.1l0.5-0.2l0.4 0.4l1.7 0.9l0.4 1.2l0.4-0.4l0.5 0.3l0.4-0.5l0.9 0.1l0.4-0.1l0.8 0.9l0.5 0.2l0.4-0.2l0.9-1.3l0.9-0.7l0.4 0.4l0.9-0.5l0.4-0.9l0.9-0.7l0.4 0.3l0.5-0.3l0.4 0.2l0.4-0.4l0.4 0.4l0.5-0.5l0.4-0.1l1.3 0.4l0.8-0.2l1.3 0.7l0.9-0.3l0.4 0.1l0.4-0.2l0.4 0.4l0.5-0.4l0.4 0.4l0.8 0l0.5-0.2l1.2 0l0.5-0.3l0.4-0.1l0.4-0.4l0.5 0.3l1.2-0.6l0.9-0.1l0.4-0.4l1.3 0.2l0.4-0.7l0.9-0.2l0.4 0.2l0.4-0.2l1.3 0.2l1.3-1.1l0.8 0.4l1.3-1.3l0.8 0.2l0.9-0.1l0.8 0.2l0.9-0.8l1.2-0.4l0.5-0.4l0.4 0.2l0.8-0.3l0.9-0.9l1.6 0.1l0.5-0.7l0.4 0.2l0.4-0.4l0.4 0.4l0.4 0.1l0.4-0.2l0.4 0.2l0.5-0.7l0.4 0l0.4-0.5l0.9-0.2l0.8 0.4l1.2-0.7l0.9 0.1l0.8-0.7l0.4-0.5l0.9 0.2l0.4 0.3l0.4-0.5l0.4-0.1l0.4-0.6l0.4 0.4l0.4 0l1.3-0.6l0.8 0.2l0.4-0.5l0.9-0.5l0.4 0.2l0.4-0.1l0.8-0.6l1.3-0.3l0.4-0.3l0.8 0l0.8 0.3l0.4-0.2l0.4-0.5l0.9-0.4l0.4 0.4l0.8-0.3l0.4-0.5l0.4 0.2l0.4-0.2l0.4 0.1l0.9-0.9l0.8-0.2l0.4 0.3l1.2-0.7l1.2 0.1l1.3-1.3l0.4-0.1l0.4 0.4l0.4 0.1l2.4-1.5l0.4 0.1l0.5-0.3l0.4 0.2l0.8 0.1l0.4-0.5l0.4 0.1l0.4-0.3l0.4 0.2l0.4-0.7l0.4 0.1l0.4-0.3l0.4 0.4l0.4-0.6l0.4 0l0.4-0.4l0.8 0.4l0.4-0.1l0.4 0.1l0.4-0.5l0.4-0.1l0.9-0.8l0.4 0l0.4-0.4l0.4 0.3l0.4-0.2l0.4 0.2l1.2-1l0.4 0.1l0.8-0.1l0.4-0.5l0.4 0.2l0.4 0l0.4 0.2l0.4-0.6l0.4 0.3l0.4-0.7l0.4 0.7l0.4-0.5l0.4 0.3l0.8-0.7l0.4 0.2l0.4-0.4l0.4 0.1l0.4-0.5l0.8 0.1l0.4-0.5l0.8 0.1l0.4 0.3l1.2-1.9l0.4 0.1l0.8 0.5l0.4-0.1l0.8-0.7l0.4-0.6l0.4 0.1l0.3 0.6l0.4 0.2l0.8-1.6l0.4-0.2l0.4 0.6l0.4 0.1l0.4 0.4l0.4-0.5l0.4 0.2l0.4-0.4l0.4 0l0.4-0.5l0.4-0.1l0.4-0.8l0.8 0l0.3 0.8l0.8-0.2l0.8-0.7l0.4 0.1l0.4-0.3l0.4 0.1l0.4-0.4l0.4 0.4l0.8 0.2l0.8-1.1l1.1-0.4l0.8-1l0.4 0l0.4 0.5l0.8 0.1l0.4-0.4l1.5-0.6l0.4-0.5l0.4 0.2l0.4-0.1l0.4 0.3"/>
<path class="n" d="M156.3 463.3L381.6 393.1L381.6 390.7L156.3 460.8z"/>
<path d="M156.3 461.1l0.5 0l1-0.7l0.4-0.9l0.5 0.5l0.5 0l0.5 0.3l0.5-0.9l0.4-0.3l0.5 0.6l1-0.3l0.4-0.7l0.5 0.6l1-0.6l0.5-0.9l0.4-0.1l1 0.3l0.9 0l0.5-0.1l1-1l1.4 0.1l2.4-0.7l1.4-1.2l0.5 0l0.4-0.4l0.5 0l1-0.5l0.9-0.1l1.4-0.6l1 0.4l0.4-0.2l1-0.8l0.9-0.2l0.5 0.3l0.9 0l0.5-0.4l0.5-0.2l1.4-1l0.4 0.4l1-0.4l1.8-1.3l0.5-0.1l1.4-0.5l1.4 0.2l0.5-0.3l0.9-1.2l0.5 0.3l0.4-0.1l0.5 0.2l0.5-0.2l0.4 0.2l0.5-0.5l1.4-0.3l0.5-0.4l0.9-0.4l0.4 0.1l0.5-0.2l0.9-0.8l0.5-0.2l0.9 0.3l0.5-0.1l0.4-0.3l1.4-1.4l1-0.4l0.9 0.5l0.4-0.2l1-1.4l1.3 0.3l1.4-1.2l0.9 0.2l2.3-1l1-1l3.7-3l0.9-1.3l0.5-0.9l0.4-0.3l0.5 0l0.4 0.3l0.5 0.1l2.2-0.3l1.4 0.6l0.9-0.3l1.3 0.7l0.9-0.1l0.9-0.2l0.9-0.4l1.8-1.7l0.5-0.8l0.5 0l1.3-1.1l0.5 0l1.4-1.3l0.8 0.6l0.9-0.7l0.5 0l0.4 0.7l0.4-0.2l0.9 0.1l0.5 0.3l0.4 0l0.5-0.4l0.4 0.4l0.4 0l0.5 0.5l0.4-0.4l0.5 0l0.4-0.8l0.9-0.3l0.9 0.3l0.9 0l1.3-1.6l0.5-0.4l0.4-0.1l0.9-0.9l0.5-0.7l1.4-1.4l0.4-1l0.9-0.3l0.4 0.5l0.5-0.4l0.9-0.1l1.7 1.1l0.4-0.2l0.9 0.6l0.4 1l0.8 0.8l0.9-1l1.3-0.3l0.5-0.5l0.4-0.2l0.4 0.2l0.5 0l0.4-0.2l2.3-2.1l0.4-0.1l0.4 0.1l0.4 0.4l0.5-0.2l0.4-0.6l1.3-0.3l0.5-0.5l0.8 0.4l0.4 0.4l1.4-1.2l1.2 1.9l0.4 0.1l0.5-0.1l0.4 0.1l1.3-0.4l0.4 0l0.8 0.4l0.5-0.3l0.9-1l0.4 0.3l0.8 0l1.3-0.5l0.9-0.6l0.4-0.1l0.5 0.1l0.4-0.3l0.4 0.1l0.5-0.5l0.4 0.1l0.4-0.5l0.4 0.3l0.9-0.1l0.4-0.6l0.9-0.6l1.3 0.7l1.3-1.1l0.4 0.1l2.5-0.5l0.4 0.2l0.5-0.1l0.8-0.8l0.9-0.2l0.9-0.9l0.4 0.1l1.2-0.2l0.5 0.1l1.7-1.1l0.4 0.3l0.4 0l0.4 0.2l0.5-0.9l0.4 0l0.4-0.1l0.4 0.1l1.3-0.6l1.6 0l0.5-0.4l0.4 0.1l0.4-0.4l0.4 0.2l0.5-0.5l0.4 0l0.4-0.8l0.9-0.5l0.4 0.3l0.8-0.1l1.3-0.4l0.4-0.4l0.4 0.5l1.2-0.6l0.8 0.9l0.5-0.2l1.3-1.5l0.4 0.1l0.4-0.2l0.4 0.2l0.4-0.6l0.9-0.6l0.4 0.3l0.4-0.3l0.4 0.1l0.8 0.1l0.8-0.6l0.5 0.3l0.4-0.3l0.4 0l0.4-0.9l0.4 0.4l0.4-0.7l0.5-0.1l0.4-0.5l0.4 0.4l0.4 0.2l0.4 0l0.4-0.7l0.9-0.3l0.3 0.5l0.4 0.3l0.5-0.1l0.4-0.6l1.2-1l0.8 0.2l0.4 0.4l1.3-0.9l0.4-0.1l1.7-1.1l0.8 0.1l0.4 0.1l0.8-0.1l1.2-1.1l1.2 0.2l1.3-1l0.8 0.3l1.2-1l0.8 0l0.4 0.7l0.4 0.1l1.2-1.1l0.9-0.5l0.8 0.2l0.8-0.2l0.4-0.6l0.4-0.1l0.4-0.5l0.4 0.3l0.4-0.1l0.4 0.3l0.4-0.4l0.4 0l0.4-0.6l0.8-0.4l0.4 0.3l0.4 0l1.2-0.5l0.4 0l0.4 0.1l0.4-0.3l0.4-0.1l0.4-0.7l0.4 0l0.5-0.5l0.3 0.3l0.8 0.1l0.4-0.4l1.2-0.2l0.9-0.6l0.7 0.3l0.4-0.1l0.5-0.8l0.8-0.5l0.3 0.4l0.8 0.1l1.6-0.9l0.4 0.4l0.4-0.4l1.2-0.3l0.4-0.5l0.8-0.4l0.4 0.1l0.4-0.4l0.4 0.2l0.8-0.1l0.4-0.3l0.4-0.1l0.4-0.4l0.8 0.1l0.4 0.3l0.8-0.2l0.7-0.5l0.5-0.7l0.3 0.2l0.4-0.1l0.4 0.3l0.8-0.8l0.4 0.1l1.2-0.4l0.8-0.1l0.4-0.3l0.4 0.3l0.3-0.3"/>
</g>
<line x1="401.8" y1="41.9" x2="393.0" y2="400.4" stroke="#6a6a6a" stroke-width="1.0"/>
<line x1="49.2" y1="362.3" x2="165.9" y2="472.3" stroke="#6a6a6a" stroke-width="1.0"/>
<line x1="165.9" y1="472.3" x2="393.0" y2="400.4" stroke="#6a6a6a" stroke-width="1.0"/>
<line x1="49.2" y1="362.3" x2="44.8" y2="363.4" stroke="#6a6a6a" stroke-width="1.0"/>
<line x1="66.0" y1="378.1" x2="61.4" y2="379.3" stroke="#6a6a6a" stroke-width="1.0"/>
<line x1="83.7" y1="394.8" x2="79.1" y2="396.1" stroke="#6a6a6a" stroke-width="1.0"/>
<line x1="102.4" y1="412.5" x2="97.7" y2="413.8" stroke="#6a6a6a" stroke-width="1.0"/>
<line x1="122.3" y1="431.2" x2="117.5" y2="432.6" stroke="#6a6a6a" stroke-width="1.0"/>
<line x1="143.4" y1="451.1" x2="138.5" y2="452.6" stroke="#6a6a6a" stroke-width="1.0"/>
<line x1="165.9" y1="472.3" x2="160.9" y2="473.9" stroke="#6a6a6a" stroke-width="1.0"/>
<line x1="206.8" y1="459.4" x2="209.7" y2="461.9" stroke="#6a6a6a" stroke-width="1.0"/>
<line x1="243.4" y1="447.8" x2="246.4" y2="450.2" stroke="#6a6a6a" stroke-width="1.0"/>
<line x1="278.9" y1="436.5" x2="282.0" y2="438.9" stroke="#6a6a6a" stroke-width="1.0"/>
<line x1="313.3" y1="425.6" x2="316.4" y2="427.9" stroke="#6a6a6a" stroke-width="1.0"/>
<line x1="346.6" y1="415.1" x2="349.8" y2="417.3" stroke="#6a6a6a" stroke-width="1.0"/>
<line x1="379.0" y1="404.8" x2="382.3" y2="407.0" stroke="#6a6a6a" stroke-width="1.0"/>
<line x1="165.9" y1="472.3" x2="168.7" y2="474.9" stroke="#6a6a6a" stroke-width="1.0"/>
<g transform="translate(-1.8 0)">
<text x="37.4" y="371.1" text-anchor="end" class="t">0</text>
<text x="53.7" y="386.6" text-anchor="end" class="t">10</text>
<text x="69.9" y="403.3" text-anchor="end" class="t">20</text>
<text x="89.0" y="421.9" text-anchor="end" class="t">30</text>
<text x="108.8" y="441.0" text-anchor="end" class="t">40</text>
<text x="129.3" y="461.5" text-anchor="end" class="t">50</text>
<text x="152.6" y="482.7" text-anchor="end" class="t">60</text>
<text x="173.8" y="496.0" class="t">3100</text>
<text x="214.0" y="484.3" class="t">3000</text>
<text x="251.1" y="471.6" class="t">2900</text>
<text x="287.2" y="459.9" class="t">2800</text>
<text x="322.1" y="448.3" class="t">2700</text>
<text x="356.0" y="437.7" class="t">2600</text>
<text x="387.8" y="428.1" class="t">2500</text>
<text transform="translate(33.7 204.8) rotate(-90)" text-anchor="middle" class="b">Absorbance</text>
<text transform="translate(82.6 455.1) rotate(44)" text-anchor="middle" dy="8" class="b">Time (min)</text>
<text transform="translate(194.1 528.6) rotate(-15.2)" class="b" style="font-size:23.6px">Wavenumbers (cm<tspan dy="-21" dx="3" font-size="15">-1</tspan><tspan dy="13" dx="1">)</tspan></text>
</g>
</g>
<g transform="translate(2.9 541.3) scale(0.988 0.988)">
<line x1="41.0" y1="26.7" x2="252.9" y2="7.6" stroke="#6a6a6a" stroke-width="1.0"/>
<line x1="252.9" y1="7.6" x2="401.8" y2="41.9" stroke="#6a6a6a" stroke-width="1.0"/>
<line x1="41.0" y1="26.7" x2="49.2" y2="362.3" stroke="#6a6a6a" stroke-width="1.0"/>
<line x1="252.9" y1="7.6" x2="252.2" y2="310.1" stroke="#6a6a6a" stroke-width="1.0"/>
<line x1="49.2" y1="362.3" x2="252.2" y2="310.1" stroke="#6a6a6a" stroke-width="1.0"/>
<line x1="252.2" y1="310.1" x2="393.0" y2="400.4" stroke="#6a6a6a" stroke-width="1.0"/>
<g class="s" fill="#800080">
<path class="n" d="M49.2 362.3L252.2 310.1L252.2 308.2L49.1 359.2z"/>
<path d="M49.1 359.5l3-0.7l2.6-0.9l0.8 0l2.1-0.5l1.7-0.6l1.3-0.2l0.4-0.3l0.9-0.1l0.4 0.2l1.7-0.8l2.5-0.6l6.7-2.1l4.2-0.9l2.9-1l1.2-0.9l1.7-0.3l0.8-0.4l1.3-1.1l2.4-1.6l2.1-1.5l2.5-2.8l1.2-1.8l1.2-1.2l3.3-5.3l1.2-2.6l2.1-6l2.4-10.9l0.8-2.6l0.4-0.7l0.4 0l0.4 0.7l0.5 1.4l3.3 16.7l1.6 4.8l1.2 2.2l1.6 1.6l0.8 0.5l1.7 0.4l2.4 0.1l3.6-0.8l2-1.2l2-2l2-3.1l0.8-1.7l1.6-4.3l1.3-4.4l2-9l4.5-26.4l1.6-8.5l1.3-5l0.8-2l0.8-1.6l0.8-0.6l0.8 0.1l0.4 0.3l0.8 1.3l0.7 2l1.6 5l3.8 15.4l0.8 2.3l0.8 1.7l0.7 0.6l0.4-0.3l0.8-1.9l0.9-4.2l1.2-11.5l0.9-11.9l2.7-44.6l0.8-7.8l0.4-0.6l0.4 1.8l0.7 9.7l1.7 35.2l0.7 11l1 10.3l0.8 3.3l0.4 0.7l0.3 0.3l0.8-0.5l1.2-2.5l2.4-7.7l1.6-4.1l0.7-1.4l1.2-1.2l1.2-0.7l2.2 0.5l0.8-0.2l0.4-0.2l0.8-1.3l0.8-2.3l1.2-6.6l0.8-6.4l2.9-32.1l0.9-5.9l0.4-1.1l0.3 0.2l0.4 1.9l0.3 3.4l3 50.3l1 12.7l1 9.2l1.1 6.8l1.1 5l0.7 2.6l1.8 4.9l1.1 2.2l1.1 1.7l0.8 1l1.5 1.1l2.6 1.2l0.7 0.1l2.6-0.2l1.5 0.1l1.5-0.3l0.7-0.3l1.1 0.1l0.8-0.2l1.1-0.5l0.7 0l0.8-0.2l1.1 0l2.6-0.8l1.1 0.1l2.2-0.6l0.3-0.2l1.1-0.2l3.3-0.9l1.1-0.1l1.1-0.7l1.1 0.1l2.2-1l1.1-0.2l1.1-0.5l3.3-0.1l2.5-0.5l2.5-0.8l1.5-0.1l1.8-0.7l2.5-0.3l0.7-0.4"/>
<path class="n" d="M56.8 369.5L261.5 316.1L261.5 314.3L56.7 366.0z"/>
<path d="M56.7 366.3l0.5 0l0.8-0.7l1.8-0.3l1.2-0.6l1.3 0l1.3-0.4l1.3 0.2l0.9-0.4l0.8-0.3l2.2-0.4l1.7-0.1l1.2-0.5l1.3-0.3l0.4-0.2l3-0.8l1.3-0.1l1.7-0.8l2.5-0.3l1.7-0.8l2.1-0.5l0.4-0.4l0.4 0.1l0.5-0.3l0.4 0.1l0.4-0.4l2.9-0.8l0.9-0.5l0.8-0.2l1.3-1l1.6-0.7l1.3-1.1l1.2-0.8l2.1-1.9l1.6-1.9l1.7-1.5l3.7-5.1l2.1-4.3l0.8-2.3l2-7l1.3-2.7l0.4-0.1l0.4 0.5l0.4 1.1l2.1 8.5l1.7 5.3l0.4 0.9l1.6 2.7l2.1 1.4l1.6 0.7l1.6 0.2l1.6-0.3l1.7-0.1l1.6-0.4l0.8-0.5l1.2-0.3l1.6-1l1.6-1.5l1.3-1.7l1.6-3.2l1.2-3.1l1.6-5.2l2.1-8.1l4.5-20.6l1.7-5.2l1.6-3.4l0.8-0.5l1.2-0.1l1.6 2l0.8 1.6l1.9 5.3l2.3 7.9l2 5.6l1.1 1.8l0.8 0.2l0.4-0.2l0.8-1.4l0.8-3.1l0.4-2.3l1.3-9.2l2.1-18.4l0.8-4l0.4-0.3l0.4 0.8l0.4 1.9l1.8 16.1l0.7 5.5l0.8 4.1l0.4 1.3l0.7 1.6l0.4 0.2l0.4 0l0.8-0.9l1.2-2.3l2.4-6.3l1.6-3.4l1.5-2.4l1.2-0.7l0.4-0.1l3.8 2l0.8-0.1l0.8-0.6l0.3-0.6l0.8-1.8l0.8-3.1l2.9-15.4l0.8-3.1l0.3-0.5l0.4 0.4l0.7 3.2l3.2 27.3l1.1 6.8l1.1 5.1l1.4 4.2l1.5 2.8l0.8 1.2l1.5 1.7l1.5 1.1l1.8 0.9l2.7 0.5l1.1-0.3l6-0.4l0.8-0.3l1.4-0.3l0.4-0.2l1.1-0.1l0.8-0.3l3.3-0.9l1.2-0.1l0.3-0.1l2.2-0.4l1.9-0.7l0.7 0.1l1.9-0.7l1.5-0.1l1.8-0.8l1.5-0.1l1.1-0.5l2.9-0.7l0.4-0.2l1.4 0.1l1.1-0.4l2.6-0.5l1.1-0.5l0.7-0.1l4.7-1.4l2.2-0.4l0.7-0.3"/>
<path class="n" d="M64.6 376.9L271.1 322.2L271.1 320.4L64.6 373.9z"/>
<path d="M64.6 374.2l0.4-0.2l0.4 0.1l1.3-0.8l1.3-0.1l1.3-0.6l0.5 0l0.4-0.3l1.7-0.2l1.3-0.6l1.3-0.1l1.3-0.5l2.6-0.5l3-1.1l0.4 0.1l1.8-0.7l0.4 0l1.3-0.6l1.2 0.1l4.7-1.4l1.7-0.4l1.3-0.5l1.3-0.1l0.4-0.3l0.4 0l1.7-0.4l2.1-1.2l3.4-1.1l1.3-1.1l0.4 0l0.8-0.3l1.7-1.5l1.3-0.6l0.8-0.6l1.7-1.8l2.5-2.2l2.1-2.6l1.6-2.7l1.7-3.9l1.2-3.4l0.9-0.8l0.4 0.1l0.4 0.2l0.4 0.7l2.5 6.6l1.2 2.5l1.3 1.7l1.6 1.2l2.9 0.6l2.9-0.1l0.8-0.3l1.2 0l0.9-0.2l2.4-0.8l2-1l2.9-2.2l0.4-0.5l1.6-2.4l1.7-3.1l1.6-3.8l5.8-17.3l2-4.8l0.9-1.2l0.4-0.2l0.4-0.5l0.8-0.4l1.2 0.1l0.4 0.2l1.6 1.7l6.3 11.6l1.2 0.8l0.3 0l0.4-0.2l0.8-0.9l0.5-0.8l0.8-2.6l0.8-3.5l2.9-19.2l0.9-3.3l0.4-0.4l0.4 0.8l0.3 1.4l1.9 12l1.1 5.8l0.4 1.3l0.8 1.7l0.7 0.7l0.8-0.3l0.8-0.9l3.2-5.8l1.6-2.2l1.2-1.1l1.5-0.7l0.8 0l0.8 0.2l2.7 1.3l0.8 0l0.8-0.5l1.5-2.3l0.4-1l3.2-11.8l0.8-1.2l0.4 0.1l0.4 0.8l0.7 3l2.9 16.1l1.1 4.5l0.8 2.1l2.6 4.6l0.7 0.8l1.5 1.4l1.2 0.7l2.3 0.7l0.3-0.1l0.4 0.2l1.2-0.3l1.1 0.1l2.3-0.7l2.6-1.2l1.9-0.6l1.5 0l0.8-0.1l1.1 0.1l1.1-0.2l0.4 0.2l0.7 0l0.8-0.2l0.4 0.2l1.1-0.5l0.7 0.1l3.4-0.7l0.8 0.1l1.5-0.8l1.4-0.3l3.4-0.4l0.7-0.3l3.7-0.7l1.9-0.7l1.8-0.4l0.8-0.5l1.1-0.2l1.8-0.7l1.5 0l0.3-0.3l0.8-0.3l2.2-0.4l2.2-0.8l1.1-0.1l1.8-0.6"/>
<path class="n" d="M72.7 384.4L280.9 328.5L280.9 326.4L72.6 381.2z"/>
<path d="M72.6 381.5l1.7-0.5l1.3-0.7l1.4-0.1l1.7-0.7l0.9 0.1l1.3-0.6l0.9-0.2l1.7 0l3.1-1l2.1-0.3l2.6-0.9l1.3-0.1l2.2-0.6l1.3-0.7l0.8 0l4.8-1.3l1.7-0.8l1.3 0.1l1.2-0.6l0.9-0.2l1.3-0.8l1.7-0.4l1.7-0.7l2.5-1.2l1.3-0.4l1.3-0.7l2.1-1.5l2.1-1.1l2.9-2.4l1.3-1.4l1.7-2.3l0.8-1.7l1.7-2.6l0.8-0.7l0.4-0.1l0.5 0.2l0.4 0.5l2.9 5.1l0.8 0.8l1.7 1.3l1.7 0.6l1.2-0.3l1.3 0.3l1.2-0.5l1.7-0.1l1.6-0.4l0.4 0l2.5-1l1.2-0.1l2.5-1.1l1.6-0.9l2.1-1.7l2.9-3.8l1.2-2.1l3.7-7.6l2.5-4.7l1.7-2l1.2-1.1l0.4-0.2l0.8 0.1l0.8-0.2l1.6 0.7l3.2 2.8l1.2 1.5l2 1.4l1.2 0.3l0.8-0.2l0.8-0.5l0.8-1.3l1.3-2.9l0.8-2.9l2.5-11.9l0.8-2.2l0.4-0.2l0.4 0.3l0.4 1.2l1.9 8.5l1.1 4.2l0.8 1.8l1.2 1l0.4 0.1l0.4 0l0.8-0.3l1.2-1.4l0.8-0.7l2-2.5l2.3-1.8l1.2-0.4l1.6-0.3l1.2 0.4l1.9 0l0.8-0.2l0.8-0.4l1.6-2.1l3.2-8.2l0.7-1l0.4-0.1l0.4 0.5l0.8 1.9l2.9 10.2l1.9 4.1l0.8 1l1.1 1l0.8 0.4l3.4 0.7l1.6 0.5l3 0.3l1.9-0.6l2-0.8l3-2l1.5-0.7l2.7 0l1.9 0.7l2.6 0.2l1.2-0.3l1.1 0l1.9-0.8l1.5-0.2l2.2-0.8l1.5-0.2l1.2-0.6l2.2-0.2l1.1-0.6l1.5-0.3l1.5-0.5l3.7-0.7l1.9-0.9l1.1-0.3l1.5-1l1.4-0.6l0.8-0.1l1.1-0.3l1.8 0.1l1.1-0.4l1.9-0.2"/>
<path class="n" d="M80.9 392.2L290.9 334.9L290.9 333.3L80.8 389.0z"/>
<path d="M80.8 389.3l2.2-0.2l2.2-0.8l1.8-0.3l1.3-0.6l2.7-0.6l1.3-0.6l0.9-0.2l0.8 0l3.5-1.3l2.2-0.3l1.3-0.6l0.5 0l0.8-0.3l0.5-0.3l0.4 0.1l0.9 0l1.3-0.4l1.3-0.6l1.3 0l7.3-2.7l0.9-0.6l1.3-0.3l3.8-1.9l1.3-0.2l2.2-0.8l0.4 0l1.7-0.5l0.4 0.1l0.9-0.3l0.4-0.5l1.3-0.5l3.4-1.8l2.5-2.5l1.7-2.1l1.3-0.9l0.4-0.1l0.4 0l0.9 0.4l2.5 2.5l0.9 0.1l1.2 0.6l0.9 0.1l1.2 0l1.7-0.3l1.7 0l0.8-0.2l0.8-0.4l1.7 0.1l2.1-0.7l1.2 0l1.3-0.8l1.6-0.2l5.4-2.6l1.3-1.2l2.4-2.1l1.3-1.5l1.2-1.1l1.3-1.7l1.6-1.3l1.3-1.3l2.8-1.7l1.3 0.3l1.2-0.3l0.8 0.1l3.2 1.1l0.8 0.5l1.6 0.4l0.8 0.3l2.1-0.1l0.8-0.5l0.8-0.7l0.8-1.2l3.3-7.1l0.8-1l0.8-0.1l0.8 0.8l1.6 2.9l1.2 1.6l1.1 0.6l1.2 0.1l2.8-1.4l0.4-0.4l3.2-2.3l1.6-0.4l2 0.3l0.4-0.2l1.6 0.1l1.9-0.5l2-1.1l1.2-1l2.8-3.7l1.2-0.8l0.8 0.2l2.6 3.1l1.6 1.4l1.5 1l0.8 0.3l0.4 0l1.1 0.6l0.8 0.2l1.2-0.1l2.3 0.3l1.5-0.1l1.2-0.3l1.2 0l1.1-0.6l3.1-1.7l1.9-1.7l2.4-1.2l1.5-0.2l1.1 0.3l1.2-0.1l0.7 0.5l1.2 0.1l0.7 0.3l1.5-0.3l1.2 0l1.5-0.4l1.1-0.1l0.8-0.3l1.1-0.1l1.5-0.7l1.2-0.1l2.2-0.6l0.4-0.2l1.1-0.1l0.8-0.3l0.8 0l1.5-0.7l2.2-0.4l1.1-0.5l2.3-0.5l0.7-0.4l1.9-0.2l1.5-0.6l0.7 0l3.4-1.1l1.4-0.2l1.2-0.5l1.1-0.1"/>
<path class="n" d="M89.3 400.1L301.1 341.5L301.1 339.8L89.3 397.1z"/>
<path d="M89.3 397.4l0.4 0l1.8-0.6l2.2-0.5l1.8-0.6l1.8-0.3l1.3-0.8l1.8-0.3l1.3-0.4l0.9 0l2.7-0.9l0.9-0.1l1.3-0.7l0.9-0.1l1.3-0.4l1.3-0.1l1.3-0.8l0.9-0.1l3.9-1l1.4-0.2l2.1-1l0.9-0.2l1.3-0.1l0.9-0.5l0.9-0.2l0.4 0.1l1.3-0.6l1.3-0.2l1.3-0.6l1.7-0.4l3.5-1.6l1.3-0.7l2.1-0.3l3-1.4l3-1.8l4.3-3.2l0.9-0.1l0.8 0.2l1.3 1l2.5 0.9l2.6-0.2l0.4 0.1l1.3-0.5l0.4 0.1l0.8-0.1l2.1-0.8l0.4 0l1.3-0.9l0.9-0.2l1.2-0.6l0.4 0.2l1.3-0.3l2.5 0.1l6.3-2.3l1.6-1.2l1.3-0.3l1.2-1.1l0.9-0.4l2-1.4l3.8-2l4.1-1.1l2 0.1l2.1-0.4l1.2 0.2l2-0.1l1.3 0.2l1.2-0.2l1.2-0.7l1.2-0.3l2.1-2.1l2-1.5l1.2-0.2l2.8 1l2 0.2l0.5-0.3l1.2-0.3l1.6-0.9l1.2-0.3l4.4-1.8l1.2-0.1l2.4-0.9l2.4-0.3l4.3-1.8l1.6-0.9l0.4 0l0.4-0.2l0.8 0l4.7 1.2l1.2 0l1.2 0.2l1.9-0.2l2-0.7l0.4-0.2l1.9 0l3.5-1.2l6.7-4.3l2.3-0.7l1.9-0.2l2.7 0.6l1.9 0.1l0.8-0.2l0.7 0.1l2.3-0.8l1.9-0.2l3.1-1.1l1.9-0.1l2.3-1l1.1-0.2l1.1-0.4l1.2-0.1l1.1-0.5l2.7-0.7l0.3 0.1l2.7-0.9l1.5-0.2l1.1-0.5l1.1-0.1l1.1-0.6l1.9-0.2l1.1-0.5l3-0.7"/>
<path class="n" d="M98.0 408.3L311.6 348.2L311.6 346.6L97.9 403.9z"/>
<path d="M97.9 404.2l3.6-1.8l1.4 0.1l0.9-0.4l1.8 0l1.8-0.6l1.3 0.1l1.4-0.5l0.9-0.1l2.7-0.8l0.8 0.1l4.1-0.8l0.8 0l1.4-0.5l2.2-0.4l0.4 0l2.7-1l1.8-0.3l1.3-0.5l0.4 0l2.2-0.7l1.3-0.1l1.8-0.7l0.9-0.6l1.3-0.1l0.4-0.2l1.3-0.3l0.9-0.5l1.7-0.7l0.9-0.1l1.3-0.7l3.1-0.7l1.3-0.8l1.7-0.7l0.4-0.4l1.3-0.3l0.9-0.8l1.3-0.3l1.3-1.1l1.7-1.3l0.9-0.4l1.7 0.2l1.7 0.6l3 0.3l4.2-0.5l1.3-0.5l1.3 0l2.1-0.5l0.4-0.3l0.5 0.1l0.8-0.3l0.4-0.3l1.3-0.1l1.7-0.6l0.8-0.2l1.7-0.6l0.5-0.3l1.2-0.2l2.5-1.1l0.9-0.2l0.8-0.4l0.9 0l2.1-1.2l1.2-0.3l4.2-2.1l1.2-0.2l0.9-0.5l2.9-1.2l4.1-0.9l0.4 0.1l1.3-0.1l1.6 0.2l1.7-0.3l0.4-0.2l0.8-0.1l1.2-0.5l1.2 0l2.1-1.3l1.2-0.2l0.4-0.5l0.9-0.3l0.8 0.1l4-0.2l1.2-0.5l0.5 0l0.8-0.3l1.2-0.6l1.2-0.3l1.6-0.7l1.2-0.2l1.7-0.8l2-0.4l2.4-0.7l1.6 0l1.2-0.5l1.2-0.2l0.4-0.3l1.2-0.3l1.2-0.7l1.6-0.2l0.8-0.6l1.2 0.1l1.9-0.3l0.8 0.1l1.2-0.2l0.8 0l0.8-0.1l1.2-0.5l1.2-0.1l0.8-0.3l0.4 0l2.7-0.9l1.2 0.1l1.6-0.7l1.5-0.3l1.2-0.8l2-0.9l1.9-1l2-1.4l0.8-0.4l1.5-0.3l1.2-0.1l1.9 0.5l1.6 0.1l1.1-0.2l2.3 0l1.6-0.4l0.8 0.1l1.1-0.7l0.8-0.1l1.1-0.7l1.2-0.1l1.2-0.6l1.1-0.1l5.7-1.7l3.5-0.7l2.2-1l1.5-0.1l1.9-0.8l1.2 0l1.1-0.5l1.9-0.2l1.1-0.6l1.1-0.1l0.8-0.4l1.1-0.2"/>
<path class="n" d="M106.9 416.7L322.4 355.1L322.4 353.3L106.8 412.7z"/>
<path d="M106.8 413l2.8-1.1l1.3-0.2l0.5-0.2l1.8-0.3l1.4-0.4l2.3-0.1l1.3-0.4l0.5 0.2l0.9-0.2l0.9-0.4l0.9-0.1l1.3-0.6l5-1.1l1.3-0.5l3.2-0.7l0.8-0.7l0.5-0.2l0.9 0.1l0.9-0.3l1.3-0.1l1.3-1l0.9-0.2l1.4-0.6l1.3-0.2l1.8-0.6l3.1-0.4l2.2-0.9l0.4 0l1.3-0.5l0.5 0l1.3-0.7l0.9-0.1l1.3-0.6l0.9 0l0.8-0.2l1.8-1l1.3-0.3l3.1-1.2l1.7-1.4l1.3-0.4l1.7-0.7l0.9-0.1l0.9 0.3l0.8-0.1l0.9 0.2l1.7 0l1.3-0.4l1.7-0.1l3.1-1.1l1.7-1l0.8-0.3l1.3-0.2l1.7-0.7l1.7 0.1l1.3-0.3l1.3 0.1l0.8-0.3l0.9 0.1l1.3-0.6l0.4 0l2.1-0.5l3.4-1.2l1.3-0.2l1.2-0.7l1.3-0.3l3.8-1.4l2.9-1.5l3-0.6l2.1-0.6l0.4 0l1.2-0.6l1.3-0.1l3.3-1.6l1.7-0.3l2.4 0.2l1.3-0.8l1.2-0.5l2.1-0.4l0.8 0.1l0.8-0.1l1.6-0.8l0.5 0.2l0.8-0.1l0.8-0.4l1.2-0.1l2.9-1.2l1.2-0.2l0.4-0.3l1.2-0.2l4.9-1.4l0.8 0l0.8-0.3l0.4-0.5l1.3 0l2.8-0.8l1.2-0.4l1.2-0.6l6.4-1.1l6-1.6l0.4 0.2l0.4-0.1l1.2-0.7l6.3-1.6l3.2-1.6l0.8-0.2l1.5-1l2-1l1.2-0.1l1.6-0.5l1.9-0.3l1.2 0.1l2.3-0.4l1.2-0.4l3.1-0.3l1.1-0.4l1.6-0.2l0.8-0.4l1.1 0l0.8-0.3l3.5-0.9l0.3-0.3l0.4 0.1l0.8-0.2l0.4-0.4l1.1-0.2l1.2-0.6l1.1-0.2l0.8-0.4l0.8-0.7l1.1-0.1l0.4-0.3l2.7-0.7l1.9-0.2l1.1 0.2l4.6-1.3l0.7-0.4l0.4 0"/>
<path class="n" d="M116.1 425.3L333.4 362.2L333.4 360.2L116.0 422.1z"/>
<path d="M116 422.4l0.9-0.4l1.4-0.2l1.4-0.8l4.1-0.8l1.4-0.6l1.4 0l3.2-1.2l1.3-0.2l3.2-1.2l1.4 0l1.3-0.6l2.8-0.9l1.3-0.2l0.5-0.3l0.4 0.1l1.4-0.5l2.2-0.4l1.4-0.7l0.9-0.3l0.4 0.1l1.4-0.7l1.3-0.1l3.6-1.2l1.8-0.2l1.7-0.8l1.4-0.2l1.3-0.8l1.3-0.2l0.9-0.4l1.4-0.4l1.7-0.7l0.9-0.6l1.3-0.2l2.7-0.9l1.3-0.8l1.3-0.5l2.2-1.3l2.6-0.3l3.1 0l0.9-0.2l3.4-1.4l2.7-1.5l3-1l3-0.1l1.3 0.5l0.4-0.1l1.3-0.4l1.3 0l1.3-0.4l0.8-0.1l1.7-0.5l0.9-0.5l1.7-0.6l1.3-0.3l1.7-0.7l0.4 0l0.9-0.5l0.8-0.2l1.3-0.9l2.1-0.9l1.7-0.6l0.5 0l1.2-0.5l1.3 0.2l3.4-0.7l1.6-0.2l0.9 0.1l1.2-0.5l2.5-0.6l1.3-0.5l1.7-0.2l1.6-0.9l1.7-0.5l1.3-0.7l0.4 0l0.8-0.3l1.3-0.1l1.2-0.5l1.2-0.1l2.5-0.8l0.8 0l1.3-0.5l1.2-0.1l1.3-0.6l0.8-0.1l0.4 0.1l2-0.8l0.9 0l1.2-0.7l0.8-0.3l1.2-0.2l1.3-0.5l2.4-0.4l0.8-0.4l1.2 0l2.1-1l1.2-0.1l0.8-0.4l1.2-0.2l0.4-0.3l1.6-0.1l1.2-0.7l1.2 0.1l1.3-0.5l1.6-0.3l1.2-0.5l1.2 0l1.2-0.5l0.4 0l1.2-0.7l0.8 0l1.2-0.4l1.2-0.2l0.8-0.5l1.2-0.1l1.2-0.7l0.8-0.1l0.8-0.3l0.4-0.4l1.2-0.3l0.8-0.7l2.3-1.5l0.8-0.1l2.8 0.3l1.2-0.4l1.1 0.2l1.2-0.5l1.6 0l1.6-0.6l1.1-0.2l0.8-0.5l1.2-0.3l0.4-0.3l0.8-0.1l0.3 0.2l1.2-0.6l1.2-0.1l1.5-0.7l2-0.4l2.7-1.5l2.7-1l1.2-0.1l1.9-0.6l1.2 0l1.9-0.7l1.5-0.3l1.6-0.6l1.1-0.5l1.9-0.3l1.2 0l2.6-0.7"/>
<path class="n" d="M125.5 434.2L344.7 369.4L344.7 367.5L125.4 430.9z"/>
<path d="M125.4 431.2l1.4-0.2l1-0.5l1.8-0.4l1.4-0.5l1.4-0.2l1.4-0.6l0.9-0.1l2.8-1l1.4-0.8l1.3-0.3l0.5-0.4l3.2-0.7l2.3-0.8l0.9-0.1l2.3-0.6l2.3-0.3l3.2-0.9l0.9 0l0.9-0.4l0.4-0.4l0.9-0.4l2.8-0.5l3.1-1.3l1.4-0.1l2.2-0.9l0.9-0.1l1.4-0.7l0.4 0l1.4-0.8l3.5-1.3l0.9-0.1l0.9-0.5l0.9-0.1l1.8-0.6l1.3-0.2l0.5-0.2l0.4-0.4l1.3-0.2l2.7-1.5l0.5 0l1.7-0.5l0.9 0.1l0.4 0.2l3.6-0.7l2.1 0l1.4-0.7l0.4 0l1.3-0.4l0.9 0l2.6-1.1l1.3 0.1l3.1-1.3l2.1-0.7l0.9 0l1.7-0.7l0.9-0.6l1.7-0.4l2.2-0.9l3.9-0.9l1.7-0.7l0.4 0l0.4-0.1l0.9-0.5l1.3-0.2l1.3-0.6l1.7-0.2l2.9-1.1l1.3 0l0.4-0.3l0.5 0l4.6-1.1l0.4-0.2l2.1-0.4l1.3-0.6l0.4 0.1l1.7-0.8l0.4 0.1l0.9-0.1l1.2-0.7l1.3-0.3l1.3-0.6l0.8 0.1l0.4 0.2l0.4-0.1l1.3-0.7l0.4 0l1.7-0.4l1.2-0.9l2.1-0.2l2.1-0.7l0.4-0.1l1.2-0.5l2.5-0.6l0.9-0.4l0.8-0.1l1.2-0.4l0.4 0.1l2.1-0.7l1.2-0.2l1.7-0.5l0.8-0.4l3.3-0.9l0.8 0.2l0.4-0.1l0.8-0.8l0.4-0.1l0.4 0.2l0.8-0.1l0.4-0.3l1.2-0.1l0.5-0.2l1.2-0.3l0.4-0.3l1.6-0.3l1.2-0.6l0.8 0.1l1.2-0.5l1.3-0.3l4-1.4l1.2-0.1l0.8-0.5l1.2-0.1l2-0.8l0.8-0.5l1.6-0.3l1.6-0.8l1.2 0.1l2.4-0.9l2-0.3l1.2-0.7l1.2 0l0.8-0.4l2.3-0.3l1.6-0.6l2.4-0.7l1.9-1.2l0.8-0.2l1.6-0.9l2-0.3l0.4 0.2l1.1-0.6l0.4 0.1l1.2-0.2l0.8 0.1l1.9-0.6l0.8 0l4.3-2l1.1 0l2.3-0.6l3.5-0.6l1.9-0.7l1.2-0.1l1.1-0.7"/>
<path class="n" d="M135.1 443.3L356.3 376.9L356.3 375.2L135.1 439.5z"/>
<path d="M135.1 439.8l1.4-0.7l2.4-0.3l0.4-0.3l1.5 0.1l2.3-0.7l1.9-0.3l1.8-0.6l1-0.5l0.9-0.1l0.9-0.4l0.9-0.2l0.5 0.2l0.5-0.2l0.4 0l3.3-0.7l1.4-0.7l6.9-2l1.3-0.8l1.4-0.1l1.9-0.7l0.9-0.4l0.4-0.3l2.8-0.4l0.9-0.3l0.9-0.2l1.8-1.1l2.3-0.5l5-1.7l1.3-0.2l0.9-0.6l4.5-1.2l4.5-2.1l1.3-0.3l1.8-1l4.9-0.3l4-1l0.9-0.1l2.6-0.9l1.8-0.2l1.3-0.6l0.4 0.1l2.2-0.8l1.3-0.1l2.2-1.2l1.4-0.1l0.8-0.4l1.3-0.1l2.2-1.1l1.3 0l3.9-1.4l1.8-0.4l1.7-1l1.3-0.3l1.3-0.1l1.3-0.4l1.3-0.3l1.3-0.8l0.8-0.3l2.2-0.3l3-1.1l2.1-0.5l2.1-0.8l0.9-0.1l1.2-0.7l1.7-0.4l4.3-1.7l1.3-0.7l3.3-0.7l1.3 0l2.5-0.5l1.3-0.6l3.3-1l0.4 0l1.7-0.6l2.5-0.2l2.5-0.5l2-0.7l1.3-0.2l1.2-0.7l2.1-0.7l1.2-0.7l1.7 0.1l1.6-0.7l0.8-0.1l1.3-0.5l0.8 0.1l2-0.9l1.3-0.1l2.4-0.9l2-0.4l1.3-0.6l1.6-0.3l0.4-0.2l1.6-0.2l2.4-0.9l1.2-0.2l2.1-0.9l1.6-0.2l3.2-1l0.8-0.5l2-0.1l0.8-0.4l0.8-0.1l2-0.9l2.4-0.5l2.4-1l1.6-0.2l1.5-0.7l4.4-0.8l1.2-0.7l3.5-1l0.8-0.4l4.7-1l1.2-0.6l1.9-0.4l3.5-1.3l1.2-0.1l1.1-0.4l1.6-0.3l0.4-0.3l1.1-0.2"/>
<path class="n" d="M145.1 452.7L368.2 384.5L368.3 382.8L145.1 449.2z"/>
<path d="M145.1 449.5l0.5 0.1l1.4-0.8l1.4-0.1l1.9-0.7l1.4-0.1l0.5-0.4l1.9-0.7l2.3-0.5l1.5-0.7l3.2-0.6l1.4-0.6l1.4-0.3l1.4-0.5l0.5-0.3l0.5 0.1l0.9-0.1l0.9-0.6l1.9-0.5l1.4-0.6l1.4-0.2l1.4-0.6l7.4-1.9l1.4-0.8l1.3-0.1l1-0.5l1.3-0.1l1-0.6l1.3-0.3l1.4-0.6l0.5 0.1l0.4-0.2l0.5 0.1l3.2-1.7l1.3-0.1l2.3-0.6l3.2-1.4l1.3-0.3l1.4-0.9l1.3-0.4l1.4-1l0.9-0.4l0.9-0.1l1.4-0.4l2.6-0.1l0.5 0.2l0.9 0l0.4-0.2l2.7-0.5l4.4-1.2l1.4-0.9l3.5-1.7l4.9-0.7l1.3 0.1l0.9-0.2l1.3-0.8l0.4 0.1l1.4-0.3l2.2-0.9l2.1-0.7l0.5-0.3l2.2-0.8l1.7-0.2l1.7-0.8l1.3-0.2l2.7-1l1.2-0.2l2.6-0.9l0.5 0.1l0.4-0.3l2.6-0.6l1.7-0.6l2.2-1l0.8 0.2l0.4-0.1l0.9-0.8l0.9-0.1l2.1-0.8l0.8 0l1.3-0.7l0.9-0.1l2.1-0.8l1.3-0.8l0.8 0.1l0.9-0.1l0.8-0.3l1.3 0l0.8-0.3l1.3-0.2l2.1-1l1.7-0.3l0.4-0.3l1.7-0.7l1.3-0.9l1.2-0.2l0.5-0.4l0.8-0.3l2.5-0.4l1.2 0.1l0.9-0.4l1.2 0l2.9-1.2l1.7-0.2l2.1-1l0.4 0.1l2.9-0.8l1.2-0.1l0.8-0.5l1.2 0l3.3-1.1l0.8 0l1.3-0.5l1.2-0.2l1.6-0.6l0.4 0.1l0.4-0.2l0.4 0.1l0.5-0.3l2-0.8l2.4-0.5l8.1-3.3l0.8 0.1l0.4 0.2l0.8 0l2.8-0.6l1.3-0.8l1.2-0.3l0.8-0.4l0.8 0.1l4.7-1.7l4-1l0.8-0.4l2.4-0.8l0.8 0l1.2-0.7l2.3-0.5l0.8-0.3l1.2-0.1l0.8-0.5l1.5-0.3l2.4-0.9l1.2-0.2l1.1-0.5l0.8 0l1.2-0.5l1.2-0.2"/>
<path class="n" d="M155.3 462.4L380.5 392.4L380.5 390.5L155.4 459.1z"/>
<path d="M155.4 459.4l0.9-0.2l1.4-0.7l1.5-0.3l0.9-0.6l2.9-0.5l1-0.5l1.4-0.3l1.4-0.6l1.4 0l1.9-1.1l3.4-0.8l1.4-0.7l1.9-0.5l1.4-0.6l0.4 0l1-0.3l0.5-0.4l2.8-0.7l4.6-1.4l1.9-0.4l1.4-0.7l0.9 0.2l0.5-0.1l0.9-0.5l1.4-0.6l1.4-0.1l1.4-0.5l0.5 0l0.4-0.4l2.8-0.9l1.4-0.7l1.4-0.1l2.7-1.1l1.4-0.3l1.4-0.6l1.4-0.2l0.9-0.5l0.9-0.2l0.5-0.4l1.8-0.4l2.3-1.4l2.2-0.5l2.7-0.2l3.7-1.1l1.3-0.1l0.9-0.4l1.4-0.3l0.4 0l0.9-0.1l2.7-1.3l1.8-0.2l2.7-0.9l1.7-0.2l1.4-0.7l0.4 0.1l1.4-0.6l1.3-0.1l0.9-0.6l1.3-0.3l0.9-0.6l1.3-0.1l1.8-0.9l1.3-0.4l1.8-0.8l2.2-0.7l4-2.1l2.2-0.8l1.3-0.1l0.4-0.2l1.3 0l0.9-0.4l0.9-0.1l1.3-0.5l1.3 0.1l1.3-0.5l1.3-0.1l0.4-0.2l1.3-0.1l1.7-0.7l1.3-0.3l1.7-0.8l1.3-0.1l3.5-1.3l0.8-0.1l1.3-0.5l0.4 0.1l2.2-1l0.4 0.1l0.9-0.3l2.1-1.1l0.4 0l3.9-1.4l0.8 0.1l1.3-0.6l2.5-0.5l1.7-0.7l1.3-0.1l0.8-0.5l2.1-0.5l1.7-0.7l1.2-0.2l0.9-0.4l2.5-0.6l1.2-0.1l0.9-0.4l0.8 0l1.3-0.6l3.7-1l2-0.2l1.3-0.8l0.8-0.1l1.3-0.7l1.2 0l1.2-0.4l1.3-0.7l0.4 0.1l0.4-0.1l1.2-0.8l1.7-0.4l1.2-0.7l1.2-0.4l0.9-0.2l2.4 0l2.8-1l1.3-0.1l0.8-0.2l1.2-0.7l0.4 0l0.8-0.2l1.2-0.8l2-0.2l2.1-0.6l0.8-0.4l2-0.4l1.2-0.6l2.4-0.7l0.8-0.4l1.6-0.2l4-1.4l0.8-0.1l0.4-0.4l2.4-0.4l0.8-0.5l1.5-0.2l6.8-2.6l1.9-0.3l0.8-0.4l1.2-0.1"/>
</g>
<line x1="401.8" y1="41.9" x2="393.0" y2="400.4" stroke="#6a6a6a" stroke-width="1.0"/>
<line x1="49.2" y1="362.3" x2="165.9" y2="472.3" stroke="#6a6a6a" stroke-width="1.0"/>
<line x1="165.9" y1="472.3" x2="393.0" y2="400.4" stroke="#6a6a6a" stroke-width="1.0"/>
<line x1="49.2" y1="362.3" x2="44.8" y2="363.4" stroke="#6a6a6a" stroke-width="1.0"/>
<line x1="66.0" y1="378.1" x2="61.4" y2="379.3" stroke="#6a6a6a" stroke-width="1.0"/>
<line x1="83.7" y1="394.8" x2="79.1" y2="396.1" stroke="#6a6a6a" stroke-width="1.0"/>
<line x1="102.4" y1="412.5" x2="97.7" y2="413.8" stroke="#6a6a6a" stroke-width="1.0"/>
<line x1="122.3" y1="431.2" x2="117.5" y2="432.6" stroke="#6a6a6a" stroke-width="1.0"/>
<line x1="143.4" y1="451.1" x2="138.5" y2="452.6" stroke="#6a6a6a" stroke-width="1.0"/>
<line x1="165.9" y1="472.3" x2="160.9" y2="473.9" stroke="#6a6a6a" stroke-width="1.0"/>
<line x1="206.8" y1="459.4" x2="209.7" y2="461.9" stroke="#6a6a6a" stroke-width="1.0"/>
<line x1="243.4" y1="447.8" x2="246.4" y2="450.2" stroke="#6a6a6a" stroke-width="1.0"/>
<line x1="278.9" y1="436.5" x2="282.0" y2="438.9" stroke="#6a6a6a" stroke-width="1.0"/>
<line x1="313.3" y1="425.6" x2="316.4" y2="427.9" stroke="#6a6a6a" stroke-width="1.0"/>
<line x1="346.6" y1="415.1" x2="349.8" y2="417.3" stroke="#6a6a6a" stroke-width="1.0"/>
<line x1="379.0" y1="404.8" x2="382.3" y2="407.0" stroke="#6a6a6a" stroke-width="1.0"/>
<line x1="165.9" y1="472.3" x2="168.7" y2="474.9" stroke="#6a6a6a" stroke-width="1.0"/>
<g transform="translate(-2.2 0.4)">
<text x="37.4" y="371.1" text-anchor="end" class="t">0</text>
<text x="53.7" y="386.6" text-anchor="end" class="t">10</text>
<text x="69.9" y="403.3" text-anchor="end" class="t">20</text>
<text x="89.0" y="421.9" text-anchor="end" class="t">30</text>
<text x="108.8" y="441.0" text-anchor="end" class="t">40</text>
<text x="129.3" y="461.5" text-anchor="end" class="t">50</text>
<text x="152.6" y="482.7" text-anchor="end" class="t">60</text>
<text x="173.8" y="496.0" class="t">3100</text>
<text x="214.0" y="484.3" class="t">3000</text>
<text x="251.1" y="471.6" class="t">2900</text>
<text x="287.2" y="459.9" class="t">2800</text>
<text x="322.1" y="448.3" class="t">2700</text>
<text x="356.0" y="437.7" class="t">2600</text>
<text x="387.8" y="428.1" class="t">2500</text>
<text transform="translate(33.7 204.8) rotate(-90)" text-anchor="middle" class="b">Absorbance</text>
<text transform="translate(82.6 455.1) rotate(44)" text-anchor="middle" dy="8" class="b">Time (min)</text>
<text transform="translate(194.1 528.6) rotate(-15.2)" class="b" style="font-size:23.6px">Wavenumbers (cm<tspan dy="-21" dx="3" font-size="15">-1</tspan><tspan dy="13" dx="1">)</tspan></text>
</g>
</g>
<g transform="translate(425.7 546.7) scale(0.9775 0.9775)">
<line x1="41.0" y1="26.7" x2="252.9" y2="7.6" stroke="#6a6a6a" stroke-width="1.0"/>
<line x1="252.9" y1="7.6" x2="401.8" y2="41.9" stroke="#6a6a6a" stroke-width="1.0"/>
<line x1="41.0" y1="26.7" x2="49.2" y2="362.3" stroke="#6a6a6a" stroke-width="1.0"/>
<line x1="252.9" y1="7.6" x2="252.2" y2="310.1" stroke="#6a6a6a" stroke-width="1.0"/>
<line x1="49.2" y1="362.3" x2="252.2" y2="310.1" stroke="#6a6a6a" stroke-width="1.0"/>
<line x1="252.2" y1="310.1" x2="393.0" y2="400.4" stroke="#6a6a6a" stroke-width="1.0"/>
<g class="s" fill="#ff00ff">
<path class="n" d="M49.2 362.3L252.2 310.1L252.2 307.7L49.1 359.2z"/>
<path d="M49.1 359.5l0.5 0.2l0.4 0.5l0.8-1.3l0.9 0.2l0.4-0.4l0.4 0.1l0.5 0.5l0.4 0l0.8-0.8l0.9 0.8l0.4-0.7l0.4-0.4l0.5 0.7l0.8-1.4l0.4-0.4l0.5 0l0.4 0.8l1.3-0.5l0.4-0.6l0.4 0l0.4 0.7l0.9-1.5l0.8 1.1l1.7-1.9l0.4-0.2l0.4 0.5l0.9-1l0.4 0.1l0.4 0.5l0.4-0.1l0.5-0.5l0.4 0.4l1.3-0.1l0.4-0.1l0.4-0.5l0.4-0.8l0.8 0.8l1.3-0.6l0.4-0.9l0.4-0.3l0.9 0.6l0.4 0l1.2-1.7l0.9 1l0.4-0.2l0.4-0.6l0.8 0.4l0.4-1l0.9 0.3l0.4-0.7l0.4-0.4l0.4 0.2l0.4 0l1.7-1.6l0.8 0.2l1.7-2.2l0.8 0.8l0.8-2.1l0.4 0.1l0.5 0.2l0.8-0.9l0.4 0.5l0.4 0.2l0.4-0.8l1.2-1.1l0.5 0.1l0.4-0.5l0.4-0.1l0.4 0.3l0.4-0.8l0.4-0.4l0.4-0.1l0.4-0.9l0.4-0.3l0.5-0.2l0.8 0l0.8-0.8l0.4-0.9l0.4-0.5l0.4 0.4l0.4-0.2l2.1-3.9l0.4-0.3l1.2-1.5l0.8-2.7l0.4-0.2l0.4-0.5l0.5-1.3l0.8-1l0.4-0.1l0.4 1l0.4 0.4l0.4 0l1.7 5.2l0.4 0.6l0.4 0.1l0.8 2.3l0.4 0.5l0.4 1.1l0.4 0.1l0.4 0.3l0.4-0.2l0.4-1.3l0.4 0.5l0.4 1l0.4-0.1l0.8 0.3l0.4-0.3l1.3 0.3l0.8-1.3l0.4 0.6l0.4 0l0.4-0.8l0.4-0.1l0.4 0.2l0.4-0.4l1.2-0.5l0.4 0.1l0.4 0.5l0.4-0.1l1.2-1.7l0.4 0.3l1.6-1.6l0.4-0.1l0.4 0.2l1.2-1.2l0.8 0.3l1.2-1.4l0.4 0.3l0.4-0.4l0.4-1.1l0.4-0.2l0.8 0.4l0.8-1.7l0.4-0.5l0.8 0l0.8-0.5l0.8-1.3l0.4 0l1.2-0.6l0.4-0.9l1.2-1.3l0.4 0l0.8-0.9l0.8-1.2l0.4-1l0.4 0l0.4 0.2l0.4-0.7l0.8-0.3l0.8-2.7l0.4 0.2l0.8-0.6l1.2-2.5l0.4 0l0.4 0.5l2.8-6.4l0.4-0.5l1.2-3.6l1.2-6.3l0.8-2.5l1.2-9l0.9-7.9l1.3-15.2l1.3-24l2.9-68.5l0.5-5.2l0.4-0.5l0.3 5.2l0.3 9.7l1.2 46.7l0.7 17.4l0.6 13.9l1.1 13.1l1.1 8.6l1.8 8.7l0.4 0.7l0.4 0.2l0.7 2.1l0.8 0.9l0.4-0.4l0.4 0l0.3 1.2l0.4 0l0.8-1l0.4-0.1l0.4 0.6l0.4-0.3l0.3 0l0.8-2.1l0.4-0.2l1.2-2.2l1.2-4.7l0.4-0.9l0.4-1.5l1.6-9.9l1.2-13.1l0.9-10.7l0.9-15.5l2.9-65.1l0.5-8.7l0.4-4.2l0.4 0.1l0.3 4.9l1.7 66.1l0.6 16.3l0.9 19.1l1 12l0.7 5.9l1.1 6.9l2.2 7.8l0.7 1.3l0.8 0.7l1.8 2.7l0.4-0.1l0.4 0.3l0.7 1.7l0.4-0.2l0.3-0.1l0.8 0.8l0.7 0.4l0.4 0.6l0.4-0.5l0.3 0l0.4 0.8l0.8 0.1l0.3-0.2l0.4 0.1l0.7 0.2l0.4 0.6l0.4-0.1l0.3 0.3l0.4 0.6l0.4-1.3l0.4-0.6l0.3 1.4l0.4 0.3l0.4 0l0.7 0.7l0.4-0.3l0.4-0.9l0.3 0.1l0.8 0.7l0.3 0.1l0.4-0.7l0.4 0l1.1 1.1l1.1 0.1l0.7 0.8l0.8-0.6l0.7 0.6l0.7 0.4l1.1 1.3l0.8-0.7l0.3 0.3l0.4-0.3l0.7 0l0.4 0.2l0.4 1l0.3-0.2l0.8 0.2l0.7 0.9l0.4-0.3l1.8 0.3l0.3-0.2l0.4 0.9l0.4 0.4l0.7-1.5l0.7 1.5l0.4-0.3l0.7 0.2l0.4-0.1l0.4 0.5l0.7 0l0.3 0.5l0.8-0.4l0.7 1.1l0.4-0.5l1.1-0.7l0.7 0.5l0.3-0.1l0.4-0.9l0.4-0.1l0.3 0.5l0.4 0.2l0.7 0.8l0.4-0.7l0.7-0.5l0.4 0l0.3 0.3l0.4-0.2l0.4 0.6l0.3-0.3l0.7-0.2l1.1-1.3l0.7 1l0.8-0.2l0.3-0.8l0.8 0.8l0.3-0.3l0.4 0.2l0.7-0.9l1.1 0.4l0.7 0.4l0.7-1.1l0.4 0l0.7 0.7l0.3-0.3l0.4 0.4"/>
<path class="n" d="M56.8 369.5L261.5 316.1L261.5 313.8L56.8 367.4z"/>
<path d="M56.8 367.7l0.4-0.8l0.4-0.5l0.5 0.5l0.4-0.1l0.4-0.8l0.4-0.1l0.5 0.1l0.4-0.3l0.4 0.3l0.9-0.6l0.9 0.9l0.8-0.3l0.4-0.5l0.5-0.9l0.4 1l0.4-0.1l0.4-0.8l0.5 0.6l0.4 0l0.4-0.6l0.4-1.5l0.5 0.1l0.4 1.3l0.9-0.8l0.4 0.4l0.8-2l0.5 0.9l0.4-0.1l0.4-0.6l0.4 0.2l0.5-0.2l0.8 0.8l0.9-1.7l0.8 0.1l0.4-0.4l0.5 1l0.8 0l0.4 0.2l0.9-1.5l0.8 0.9l0.9-1.4l0.4 0.2l1.3-0.4l0.8 0l1.3-1.4l0.8 1.2l0.9-0.5l0.4-0.9l0.8-0.3l0.4-0.4l0.9-0.1l0.4 0.3l1.3-0.2l0.4-0.4l0.4-0.1l0.4 0.3l1.3-1.4l0.8 0l0.4-0.7l0.4 0.2l0.5 0.7l0.8-1.3l0.4-0.1l0.8-1.2l0.9-0.3l0.4-0.6l0.4 0l0.4 0.5l0.8-0.5l0.9-1.1l0.4 0.1l0.4-0.4l0.8 0.8l0.9-2l0.4 0.2l0.4-0.1l0.4-1.3l0.4 0l0.4 0.5l0.5-0.7l0.8 0.3l0.4-1.3l0.8-1.3l0.4-0.2l0.4 0.3l1.3-1.7l0.8-1.6l0.4 0.1l0.4-0.6l0.4-0.1l0.5-1l0.4-0.5l0.4-0.2l0.4-0.9l0.8-0.9l0.4 0.1l0.4 0.6l0.5-0.9l0.4 0.2l0.4 1.3l0.8 1l0.4 1.3l0.4 0l0.4 0.2l0.4 1.4l1.7 1.8l0.4 0l0.4-0.2l0.4 0.5l0.8 0.3l0.9-0.7l0.4-0.9l0.4-0.1l0.4 0.7l0.8 0.1l0.4-0.5l0.4 0l0.4 0.6l0.4 0.1l0.4-0.3l0.4-0.7l0.4-0.4l0.4 0.1l0.5-0.6l0.8 0.8l0.4-1.1l1.2-0.9l0.8 0.8l0.8-1.4l0.4 0l0.4 0.4l0.4 0.2l0.4-0.4l0.4 0.2l0.4 0.4l0.4-0.1l0.4-0.2l0.5-1.1l0.4 0l0.4 0.7l0.4-0.2l0.8-1.2l0.4 0.6l0.4-0.2l0.4-0.6l0.4 0.3l0.4 0.6l0.4 0.2l0.4-0.6l0.4-1l0.4-0.4l0.4 0.8l2.4-1.8l0.4 0.3l0.8-2l0.4 0.3l0.4 0.9l0.8-2.1l0.4 0.1l0.4-0.4l0.4 0.3l0.4-0.2l0.4-0.5l0.4 0l1.2-1.4l1.2-0.3l1.6-1.8l0.4 0.1l0.4-0.4l0.4-1.2l0.4 0l0.4 0.1l0.4-0.5l0.4-0.2l0.8-1.5l0.4 0.2l2.4-4l0.4-0.4l0.8-2.7l0.4-1l0.4-0.5l0.4-1.2l1.7-8.3l1.2-8.7l0.9-8.4l1.3-17.2l1.4-20.7l0.4-5.8l0.4-3.3l0.4 0l0.4 3l1.7 30.5l1 15.6l1.5 10l1.5 6.3l1.1 2l1.2 1.4l0.4 0.3l0.4-0.1l0.4 1l0.7-0.4l0.4 0.9l0.8-0.8l0.4 0.5l0.4-0.5l0.4-0.1l0.3 0.2l0.4-0.9l0.4 0.4l0.4 0l0.8-1l0.4-1.3l0.8-1l0.4-1.1l0.4-0.3l0.3-0.7l1.6-4.4l1.7-8.2l0.8-5l1.2-12.7l0.9-11.2l1.4-21.3l0.9-10.5l0.4-2.8l0.3 0.1l0.4 2.7l2.3 42l0.3 4.6l1 9.9l1.1 7.6l1.1 4.2l0.4 0.9l0.7 1.2l0.8 2.5l0.7 0.6l0.4 1.1l0.7 0.5l0.4-0.4l0.4 0.1l0.4 0.5l0.3-0.5l1.2 1.1l0.7-0.5l0.8-0.1l0.4-0.4l0.3 0.3l0.4 0.9l0.8-0.1l0.7 0.6l0.4-0.2l0.4-0.6l0.3 0.1l0.8-1.1l0.4-0.2l0.7 0.6l0.8-0.5l0.7 0.2l0.4-0.1l0.4-0.9l0.4-0.4l0.3-0.1l0.4 0.3l0.4 0.6l0.4-1l0.3-0.3l0.4 0.2l0.4-0.6l0.7 0.3l0.8-0.6l0.7-1.2l1.1 1l0.4 0.2l0.4-0.1l0.7 0.6l0.8-0.3l0.7 1.5l0.7 0.2l0.4 0.6l0.7 0.6l0.4-0.1l0.4-0.8l0.4 0.5l0.3 1.1l0.8-0.6l0.3 0.4l0.4-0.1l0.4 0.4l0.3 0.1l0.4-0.1l0.4 0.3l0.3-0.1l0.8 1.2l0.3-0.4l0.4-0.1l0.7 0.9l0.8 0l0.4 0.1l0.7-0.1l0.4 0.7l0.7-0.7l0.4 0.1l0.7 0.9l1.5 0.4l1.1 0.6l0.3-0.3l0.4-0.7l0.4 0.4l0.3 0.8l0.4-0.1l0.4-0.6l0.3 0l0.4 0.5l0.7-1l1.1 0.6l1.1-1.3l0.7 0.5l0.8 0.1l0.3-0.7l0.4-0.3l0.4 0.7l0.3 0.3l0.4-1.3l0.4 0l0.7 0.5l0.7 0.1l0.4-0.2l0.4-0.6l0.3 0.7l0.4 0.2l0.7-0.4l0.7-1.2l0.4 0l1.1 0.3l1.8-0.6l0.4-0.3l0.3-0.1l0.4 0.6l0.3 0.1"/>
<path class="n" d="M64.6 376.9L271.1 322.2L271.1 319.4L64.6 373.8z"/>
<path d="M64.6 374.1l1.3 0.8l0.4-1.4l0.4-0.5l0.5 1.1l0.4-0.2l0.5 0.1l0.8-1.3l0.5 0.5l0.8 0.1l0.5-0.2l0.4-1l0.8 0.5l0.9-0.3l0.4-0.6l0.9 1l0.9-1.3l0.8 0.3l1.3-0.1l0.5-0.6l0.4 0.1l0.4 0.4l0.9-0.9l0.8-0.5l0.9 1l1.3-1.6l0.4-0.1l0.4 0.3l0.5-0.5l0.4-0.1l0.4 0.2l0.4-0.7l0.5 0.1l0.4 0.4l0.4-0.7l0.4-0.2l0.5 0.7l0.4-0.1l0.9-1.1l0.8 0.6l0.4-0.8l0.5-0.4l0.4 0.5l0.4 0.1l0.4-0.2l0.5-1.1l0.4-0.3l0.4 0.6l0.4-0.3l1.3 0.8l0.8-2.2l0.5 0.6l0.4-0.1l0.4-0.7l0.4 0.2l0.5 0.1l1.2-0.5l1.3-0.2l0.4 0.2l0.5-0.2l0.4-0.6l1.2-1.1l1.7 0.1l0.4-0.2l0.9 0l0.8-1.7l0.9 1.1l0.8-1.4l0.4-0.1l0.4 0.3l0.5-0.2l0.8-0.8l0.4 0.1l0.4-0.5l0.5-0.1l1.2-1.6l0.4-0.2l0.9 0l0.4-1.2l0.4 0l0.4-1.4l0.8-0.6l0.5 1.2l0.4 0.6l0.4-1.2l0.4-0.7l0.8-0.4l0.5-1.1l0.4-0.2l0.4-0.7l0.4 0.4l0.4 0.1l0.4 0.8l0.5 0l0.4-1.2l0.8-0.7l1.7 2l0.4-0.3l0.4 0.5l0.4-0.4l0.4 0.1l0.4-0.1l0.9 2.4l0.4 0.8l0.4 0.6l0.4 0l0.4-0.5l0.4-0.1l0.4-0.6l0.4-1.5l0.9-2l0.4-0.3l0.4 0.5l0.4 0l0.8-1.7l0.4 0.1l0.5-0.4l0.4 0.6l0.4 0.1l0.4-1.3l0.4-0.4l0.8 0.8l0.4 0l0.4-0.6l0.5-1.1l0.4-0.2l0.4-0.8l0.4-0.2l0.4 1.1l0.4-0.4l0.4-0.1l0.4-0.6l0.4 0.1l1.2 1.6l0.5-0.8l0.4-0.4l0.4 0.8l0.4-0.9l0.4-0.2l0.4-0.7l0.4 0.7l0.4-1l0.4 0.2l0.8 2.9l0.4-0.2l0.4 0.2l0.8 0l0.4-0.4l0.5 0.4l0.4 1l0.4 0.3l2.4-2.1l0.4 0.4l0.8 0l0.4-0.3l0.4-0.6l0.4 0.1l0.4-0.6l0.4-0.1l0.4 0.1l1.6-1.2l0.4 0l0.4 0.3l2.1-2.1l0.4-0.1l0.4-0.3l0.8 0.1l0.8-0.4l0.4-0.5l0.4 0.1l0.4 0.3l1.2-1.5l0.4 0l0.4 0.4l0.8-1l0.4 0.7l0.4 0.2l0.8-0.9l0.4-1.8l0.4-0.7l0.8 1.1l0.8-2.1l0.4 0.3l0.4-0.2l1.2-4l0.4-0.4l0.4-0.1l0.8-2.2l2.5-12.1l0.9-5.4l0.4-0.9l0.3 0.5l0.4 1.3l0.4 0.6l1.9 11l1.9 4.3l0.4 1.4l0.4 0.1l0.4-0.1l0.7 1.6l0.4-0.9l0.4 0.1l0.4 1l0.8 0l0.4-0.4l0.4 0.9l0.4-0.2l0.4-1.3l0.7 1.3l0.4-0.6l0.4 0.4l0.4-0.4l0.8 0.5l0.4-0.8l0.4 0.5l0.4-0.3l0.4-1l0.7 0.6l0.8-1.9l0.4 0l1.2-0.7l0.4-0.6l0.4 0.5l0.4 0l0.7-0.4l0.4-0.9l0.4-0.5l0.8-2.7l0.8-1.3l0.4-1.1l0.8-3.4l0.8-2.3l1.3-7.2l0.8-3.2l0.4-0.4l0.7 0.2l1.5 6.9l0.7 2.1l0.8 3.2l0.4 1l0.3 0.3l0.4 1.4l0.8 0.2l0.3 1l0.8 1.3l0.7 0.7l0.8-0.9l0.8 0.5l0.7-0.3l0.4-0.4l0.4 0.2l0.4 0.7l0.8-0.9l1.1 0.2l0.4-0.9l0.7 0.5l0.4-1.1l0.4-0.5l0.4 0.7l0.4-0.1l0.4-0.8l0.3 0.1l0.4-0.5l0.8 0.6l0.4-0.7l0.7-0.9l0.8 0.5l0.8-1.2l0.3-0.3l0.4 0l0.8-1.3l0.7 0.1l0.4-0.3l0.8-1.7l0.7 0.3l0.4-0.8l0.4-0.3l0.4 0.1l0.4-0.9l0.3-0.2l0.4 0.2l1.5-2.1l0.4 0.8l0.4-0.1l0.7 0.6l0.4-0.3l1.1 1.2l0.4-0.2l0.7 0.3l0.4 0.7l0.4 0.1l0.4-0.3l0.7 1.6l1.1 0l0.8 0.7l0.7 0l0.7 1.3l0.4-0.4l0.4 0.1l0.7 0.6l0.8 1l0.7-0.5l1.9 1.2l0.3-0.4l0.4 0.7l0.7 0.4l0.4 0.5l0.4-0.2l0.3 0l0.4 0.9l0.4 0.1l0.7-0.4l0.4-0.6l0.4 0.3l0.3 0.9l0.4 0.2l0.4 0.1l0.3-0.2l0.8 0.4l0.3-0.7l0.4 1.2l0.4 0.3l0.3-1l0.4 0.3l0.4-0.8l0.4 0.2l0.7-0.2l0.4 0.8l1.1-1.5l1.1 0.5l0.7-1.1l0.4 0.4l0.7-0.8l0.7 0.5l0.4-0.1l0.4-0.4l0.7 0l0.4 0.6l0.3 0.1l0.4-0.9l1.1 0.3l0.7-0.3l0.4 0.1l0.4-0.4l0.3 0.2l0.4-0.2l0.4-0.8l0.3-0.3l1.1 0.7l0.8-0.5l0.3 0l0.4-0.8"/>
<path class="n" d="M72.7 384.4L280.9 328.5L280.9 325.9L72.6 381.2z"/>
<path d="M72.6 381.5l0.9-0.3l0.4 0.7l0.5-0.1l0.4-0.7l0.4-0.3l0.4-0.7l0.9 0.5l0.5-0.1l0.4 0.3l0.5-0.3l0.8 0.1l0.9-0.5l0.4 0.3l0.5-0.2l0.9 0.6l0.8-1.8l1.3 0l0.5 0.4l0.8-0.7l0.5 0.4l0.8-1.1l0.5 0.3l0.8-0.7l0.9-0.2l0.4 0.6l0.5 0.2l0.4-0.4l1.7-0.9l0.5-0.5l0.4-0.2l1.3-0.1l0.4 0.6l0.5 0.2l0.4-0.9l0.4-0.1l0.4 0.3l0.5-0.1l0.4-0.4l0.9-1.3l0.4 0.2l0.4 0.4l0.4-0.5l0.5 0.1l0.4 0.9l0.4-0.1l0.5-1.4l0.4-0.3l0.4-0.2l0.4-0.5l0.9 0.4l0.4 0.7l0.5 0.1l0.8-1.6l0.4-0.1l0.5 0.7l0.8-1l0.9 0l0.4 0.5l0.4-0.3l0.5-0.7l1.2 0.3l0.5-0.2l0.4-1.3l0.4-0.3l0.4 0.2l0.9 0l0.4-0.6l0.4 0.5l0.9 0l0.4-0.7l0.4-0.3l0.9 0.6l0.4-0.9l0.4-0.4l0.5 0.6l0.8-1l0.4 0.2l0.4-0.3l0.5-0.6l0.4 0.2l1.2-3.4l0.5 0.4l0.4 0.1l0.4 1.2l0.4-0.9l1.3-6l0.4 1.3l0.4 0.7l0.5 0l0.4-0.8l0.4 0.9l0.4-2l0.4-0.6l0.5 0.2l0.4 0l0.4 1.1l0.4-1.9l0.4 0.1l0.5 1l0.4 2.4l0.8-1.9l0.4-0.6l0.5 0.5l0.4-0.3l0.4 0.5l0.4-0.2l0.4 0.7l0.5 0.3l0.4-0.9l0.4 0.1l0.4 0.2l0.4 1l0.9 4l0.8 0.2l0.4-0.3l1.3-3.3l0.8-3.2l0.8-2.4l0.4 0.3l0.5-0.7l0.4-1.8l0.4-0.9l0.4 0.2l0.4-0.3l0.5-1.4l0.4 0.6l0.4 2.8l0.4 0.2l0.4 0.6l0.4-3l0.4-0.5l0.9 0.4l0.4 2.2l0.8-1.3l0.4-2.5l0.4-1.4l0.5-0.9l0.4-0.3l0.4 1.6l0.4-0.1l0.4 0.8l0.4-0.1l0.4 1.7l0.4 0.6l0.4 0l0.9-2.8l0.8 0.4l0.4 1.6l0.4 0.7l0.8 0.5l0.8 2.2l0.4 0.2l0.8 1.5l0.8-0.2l0.5 0.1l0.4 0.7l0.4 0l0.8-0.6l0.4 0.2l0.8-0.8l0.4 0.5l0.4 0l1.7-1.4l0.4 0.1l1.2-0.2l0.8-0.9l0.4-0.8l0.4 0.2l0.4-0.1l0.4-0.6l1.2-0.1l0.9-0.8l0.4-0.1l0.4 0.5l0.4-0.3l0.4 0.2l0.4-0.3l0.4-0.1l0.4 0.6l0.4-0.9l0.4-0.4l0.4-0.1l0.4-0.6l0.8-0.3l0.4 0.8l0.4 0.2l1.2-2.1l0.4-0.2l0.4 0.4l0.8-0.1l0.4 0.4l0.8-1.7l0.4 0.2l0.9-0.8l1.2-0.1l0.8-1.7l0.4-0.1l0.8-1.1l1.6-3.7l0.4-0.4l0.4 0.1l0.4-0.6l0.8 1.3l0.8 0.6l0.4-0.3l0.8 1.7l0.4 0.1l0.3 0.5l0.4 0.1l1.2 0.9l0.4-0.3l0.4 0l0.4 0.5l0.4-0.1l0.4-0.1l0.4-0.6l0.4-0.2l0.8 0.2l0.8-0.6l0.4 0.1l0.4-0.2l0.4 0.5l0.3 0l0.5-0.7l0.3 0.3l0.8-1.5l0.4 0.7l0.4 0l0.4-0.5l0.4 0.3l1.2-1.5l0.8-0.1l0.8 0.5l0.8-0.5l0.3 0.1l0.8-1.1l1.2-0.6l0.8-0.8l0.4-0.1l0.8-1.2l1.2-2.4l0.4 0.1l0.4-0.4l0.8-3.8l0.4-0.6l2-1.5l0.3 0.3l0.4 0.9l0.4-0.6l0.4 0.6l0.4 2.1l0.3 0.5l0.4 0l0.8 0.6l0.8-0.4l0.3 0.5l0.4-0.5l0.4 0.1l0.4 1.3l0.8-0.9l0.4 0l0.7-0.3l0.4-0.9l0.8 1.2l0.4-0.7l0.4-0.3l0.7 0.2l0.4-0.4l0.4 0.4l0.8-1.7l0.4-0.3l0.4 0.1l0.3 1l0.8-1.9l0.4 0.5l0.8-0.6l0.4 0.2l0.3-0.9l0.8-0.6l0.4-0.8l0.4-0.4l0.4 0.2l0.4-0.8l0.3-0.2l0.4 0.6l0.4-0.4l0.8-0.8l0.8-1.6l0.3 0.5l2.3-2.8l1.2-0.7l1.5-1.9l1.2-0.8l0.4-0.8l0.7 0.8l0.8 0.6l0.3 0l1.2 1.1l0.3 0.1l0.4 0.8l0.4 0.4l0.4-0.3l0.3 0.9l0.8-0.4l1.5 2.3l0.3 0l0.4-0.8l0.4-0.2l0.4 0.4l0.3 0.1l0.4 0.7l1.1 1.3l0.4-0.2l0.4 0.4l0.7-0.1l0.4 0.5l0.4 0.2l0.3 0.8l0.4 0.2l0.4-0.4l0.7 0.7l0.8 0.2l1.1 0.7l0.4 0.5l0.3 0l0.4-0.6l0.7 1.6l0.8 0.6l0.4-0.3l0.7 0.6l0.4-0.1l0.3-0.1l0.4-0.5l0.8 0.6l1.1 0.2l0.7-0.6l0.8 0.9l0.3-0.2l0.4-0.7l0.4-0.3l0.7-1l0.4 0.3l0.4 0.8l0.3-0.1l0.4-0.7l0.4 0.2l0.7-0.1l0.4 0.2l0.7-1.3l0.4-0.3l0.7 0.4l0.8-0.9l1.4 1.2l0.8-1.2l0.7 0.1l0.8-0.4l0.3-0.6l1.1-0.2l0.8 1.2l0.3-0.1l0.4-0.5l0.4-0.8"/>
<path class="n" d="M80.9 392.2L290.9 334.9L290.9 332.2L80.8 390.0z"/>
<path d="M80.8 390.3l2.2-1l0.9 0.3l0.5-0.3l0.4-0.1l0.5 0.1l0.8-2l0.5 0.8l0.4 0.2l0.5-0.4l0.4 0l0.4-0.8l0.9 0.6l0.4-1l0.9-0.4l0.5 0.5l0.4 0.2l0.5-0.2l0.4 0.9l0.9-1.6l0.4 0.6l0.9-1.1l1.3 0.6l0.9-1l1.3-0.1l0.4 0.3l0.9-1.3l1.3 0.2l1.3-0.2l0.5 0.3l0.8-1.8l0.5 0.6l0.8-0.2l0.5 0.2l1.3-1.2l0.4-0.1l0.4 0.2l0.5 0l0.4-0.5l0.4-0.2l0.5 0.9l0.4-0.3l0.4-0.8l0.5 0.1l0.4-0.4l0.9 0.3l0.4-0.7l0.4-0.3l1.3-0.1l0.4-0.4l0.5 0.5l0.8-0.4l0.9-0.6l0.9-1.4l0.4-0.3l0.4 1.1l0.4-0.1l0.5-0.4l0.4 0.1l0.4-0.9l0.9-0.3l1.3-0.8l0.4 0.2l0.4-0.3l1.7 0.2l0.9-0.7l0.4 0l0.5-0.5l0.4-0.2l0.4 0.3l0.4-0.1l1.3-3.1l1.7-0.4l1.3-4.6l1.3 1.6l0.4-1.9l0.8-5.9l0.5 1.3l0.4 0.6l0.4 1.7l1.3 1.5l0.4-2.2l0.4 0.4l0.5-1.9l0.4 0.6l0.4-0.2l0.9 2.6l0.8-2.8l0.8 3.2l0.9-0.7l1.2 4.1l0.9 0.5l0.8 3.2l0.4-0.3l0.5-1.2l1.2-7.7l0.9-0.4l0.4-1.2l0.4 1.4l1.3-4.6l0.4 0.4l0.4 3.4l0.4-0.3l0.4 0l0.5-2.6l0.8 0l0.9-2.6l0.4-0.2l0.4 0.8l0.4-2.3l0.4 0.1l0.5-0.7l0.4 0.7l0.4-0.4l0.4 0.1l0.4 2l0.4-0.1l0.5-2.3l0.4-0.6l0.4 0.3l0.4 2.7l0.8-1.9l0.5-2.5l0.4 0.1l0.4 3.1l0.4 1l0.4 0l0.8 1.4l1.2 4.3l0.4 0.2l0.4-0.4l0.5 0l0.4 1.7l0.4 0.9l0.4-0.3l0.8 0.6l0.8-1.4l0.4-0.1l0.8 0.7l0.5 0.1l0.4-1.1l0.4-0.3l0.4 0.3l0.8-0.1l0.4-1l0.4 0l0.4 0.8l0.5-1.4l0.4-0.7l0.4 0.1l0.4-0.8l0.4 0.9l0.4 0.3l0.4-0.8l0.4 0l0.4-0.3l0.5-1.2l0.4 0.1l0.8-0.1l0.4 0.6l0.8-0.6l0.4 0l0.8 0.2l0.9-1.3l0.4-0.2l0.4 0.2l0.4 0l0.4-0.9l0.4 0l0.4 0.9l0.4 0.4l0.4-0.2l0.8-1.1l0.4 0.5l0.8-1.1l0.4-0.1l0.4 0.4l0.4-0.3l0.9-1.2l0.8 0.8l0.4-0.7l0.4 0.1l0.4-1l1.2-1.4l0.4 0.4l0.8-1.3l0.4-0.1l0.8 0.6l0.4 0l0.4-1l0.4-0.4l0.8 0.2l0.4 0.8l0.8-0.3l0.4 0.6l0.4-0.3l0.4-0.6l0.8 1.2l0.8-0.7l0.8-0.1l0.4-0.4l0.4 0.1l0.4-0.3l0.4 0.2l0.4 0.4l0.4-0.1l0.4-0.7l0.4-0.2l0.4 0l0.4-0.3l0.8 0.4l0.4-0.1l0.4-0.3l1.2-1.4l0.4-0.1l1.2 0.7l0.4-0.9l0.4-0.2l0.4 0.2l0.4-0.5l0.4-0.2l0.4 0.3l0.8-0.8l0.8-0.4l0.4 0.4l0.4 0l0.4-0.8l0.4 0.2l0.3 0.6l0.4-0.5l0.4-1.2l0.4 0l0.4-0.2l0.8-1.2l0.8-0.4l0.4-0.9l0.8-0.1l0.8-1.3l0.4 0l0.4 0.3l0.4 0l0.8-1.8l0.4 0l0.8 0.7l0.3 1.3l0.4-0.3l0.4-1.1l0.4 0.6l0.8 0l0.4 0.3l0.8-0.2l0.7-0.8l0.4 0.1l0.4 0.4l1.2-1l0.4-1l0.4-0.3l0.4 0.5l0.8-0.5l0.3 0.5l0.8-1.4l0.8-0.8l0.8-0.1l0.8-0.8l0.4 0.6l0.3 0.2l0.4-0.3l1.6-2.4l0.8 0l0.4-0.3l0.7-1.2l0.4-0.1l0.4-0.4l0.4-0.9l0.4 0.3l0.4 0.1l0.4-1l1.5-0.9l0.4-0.8l1.2-1.3l0.4 0.1l0.7-1.4l0.4 0.2l0.4-0.3l0.4-1.5l0.8-0.6l0.4-0.8l0.3 0.1l0.8-1.2l0.8 0.8l0.7 0.1l0.4 0.3l1.1 1.4l0.8 0l0.4 1l1.1 1l0.4-0.4l0.4 0l0.3 1l0.4 0.4l0.4-0.7l0.4 0.1l0.7 1.2l0.8 0.5l0.3 1l0.4 0.1l0.4-0.5l0.7 0.7l0.4-0.4l0.8 2l0.3-0.2l0.4 0.2l0.8 0.6l0.3 0l0.4 0.6l0.8-0.5l0.3 0.9l0.8 0.9l0.7-0.1l0.4-0.7l0.4 0.4l0.3 1.8l0.4 0.4l0.4-0.4l0.7 0.7l0.8-0.6l0.4-0.1l0.7 0.9l1.1 0.7l0.4-0.3l0.8-1.1l0.3 0.4l0.4-0.1l0.4-1l0.7 0.8l0.4 0l0.8-0.9l0.3 0.6l0.8-1l0.7 0l0.8-0.5l0.3 0.7l0.8 0l0.4-0.3l0.7 0l0.4-0.7l0.4-0.2l0.3 0.4l0.4 0.1l1.1-1.5l0.8 0.1l0.3-0.4l0.8 0.4l0.3-0.3l0.8 0l1.5-0.8l0.3 0.4l0.8-0.5"/>
<path class="n" d="M89.3 400.1L301.1 341.5L301.1 338.1L89.3 398.1z"/>
<path d="M89.3 398.4l0.9-0.8l0.9-0.2l0.4-0.6l0.9 0.6l0.4-1l0.5 0l0.5 0.5l0.4-0.7l0.4-0.2l0.5 0.4l0.9-0.5l0.4-0.6l0.5-0.1l0.4 0.4l0.5-0.2l0.4 0.2l0.4-0.1l0.5-0.8l0.4-0.2l0.5 0.5l0.4 0.2l0.5-0.5l0.8-0.2l0.5-0.5l1.3-0.8l0.4-0.1l0.5 0.8l0.4-0.3l0.5-0.6l1.8 0.4l0.4-0.1l1.3-1.6l0.5 0.9l0.8-1.8l0.5 0.7l0.9 0.9l0.4-0.4l0.9-1.5l0.4 0.1l0.4 1.1l0.9-2l1.3 0.3l0.9-0.8l0.9 0.4l0.4-0.6l0.5 0.1l0.4 0.3l0.4-0.3l0.5 0.3l1.3-1.4l0.8-0.2l0.9-0.7l0.4 0.4l0.9-1l0.9 0.8l0.4-0.4l1.3-0.4l0.5-0.9l0.8 0.5l0.5-0.3l0.4 0.3l0.4-0.2l0.5-0.9l0.4-0.2l0.4 0.3l0.5-0.6l0.4 0.1l0.9 0.7l0.4-0.7l0.8-0.4l0.9-0.8l0.9-1.8l0.4 0.2l0.4 0.7l0.5-1.5l0.8-1.8l0.4 0.4l0.5-0.7l0.8-2.9l0.5-0.8l0.4 0.5l0.4-1l0.9 0.3l0.4-1.4l0.4-0.4l0.5-1.9l0.8 0l0.5 0.5l0.4 1.8l0.4-1.6l0.5 0.4l0.4-1.8l0.4 1l0.4-1.2l0.5 3.6l0.8 2l0.9-5.8l0.4 0l0.4 1.2l0.4 0.6l0.5-0.3l0.4 0.8l0.4 0.4l0.4 1l0.5 1.9l0.4-0.8l0.4 0.9l0.8 3.1l0.5 0.9l0.8-1.7l0.5-2.3l0.4-1.4l0.8-1.7l0.5-2.1l0.8-1.9l0.4 0.2l0.5-1.5l0.8-1l0.5 0l0.4-0.3l0.4 1.3l0.4-0.8l0.4 0.5l0.5-2.7l0.4-0.5l0.4 0.3l0.4-0.8l0.9-0.4l0.4 0.7l0.4-0.3l0.4 1.3l0.9 1.4l0.4-3.9l0.4-0.8l0.5-0.4l0.8 1.6l0.4 0.4l0.4-1.8l0.4 0.9l0.5-0.4l0.4 2l0.4-2l0.4 1.6l0.4 0.9l0.4 2.2l0.4 0.9l0.9 0.2l0.4 0.9l0.4-0.3l0.4 1.2l0.4 0.4l1.2 2.6l0.9-1.5l0.4 0.5l0.4 0.9l0.4-0.9l0.4 0l0.4 1.3l0.9-1.9l0.4 0.1l0.4-0.6l0.4-0.3l0.4 0.3l0.9-0.9l0.4 0l0.8-1l0.4 0.7l0.4 0.3l0.9-1.5l0.4 0.4l0.4-0.3l0.4-0.6l0.4 0.3l0.4-0.8l0.4-0.1l0.4 0.7l0.9-1.2l0.8 0.2l1.2-0.8l0.4-0.5l0.4 0.3l0.5-0.1l1.2-1.3l0.4 1.3l0.4-0.1l0.4-0.6l1.2-0.1l0.9-0.9l1.6-0.1l0.8-0.7l0.4 0.7l0.4-0.1l0.4-0.9l1.3-1.1l1.6 0l0.8-0.9l0.4 0.4l0.8 0.1l0.4-0.6l0.4-0.3l0.4 0.2l0.4-0.4l0.4 0.6l0.4-0.4l0.9 0.1l0.4-0.6l0.4 0.4l0.4-0.5l0.4-1.1l2 0.9l0.8-0.5l0.4 0.4l0.4 0.1l0.4-0.6l0.4-1.4l0.4-0.5l0.4 1l0.4-0.4l1.6 0.8l0.4-1.2l0.4-0.1l0.4 0.2l0.8-0.8l0.4 0.2l0.4 0.5l0.4 0.2l0.8-2l0.8 0.8l0.4 0.1l0.4-0.9l0.4-0.3l0.4 0.4l0.8-0.5l0.4-0.5l0.8-0.1l0.4-0.5l0.8 0.2l0.4-0.4l0.4-1l0.4-0.1l0.4 0.2l0.8-1.8l0.4-0.4l0.8 0.7l0.4 0l0.4-0.4l0.8 0.7l0.4-1.4l0.4-0.5l0.4 0.4l0.4-0.9l0.4 0.2l0.4 0.5l0.4-0.6l0.4-0.2l0.4 0.3l0.4 0.1l0.8-1l0.4-0.1l0.7 0.9l0.8-1.4l0.4 0.1l0.4-0.4l0.4-0.8l0.4 0.4l0.8-0.6l0.4 0.3l2-1.8l0.4-0.2l0.4-0.6l0.7 0.2l0.4-0.3l0.4 0.5l0.4-0.7l0.4-1.6l0.8 0.1l0.8-0.7l0.8-0.9l0.4-0.1l0.3 0.2l0.4-0.5l0.4-1l0.4 0.2l0.4-0.1l0.8-1.9l0.4 0.1l0.4 0.6l0.4-0.1l0.4-0.7l0.8-2.5l0.3 0.5l0.4-0.1l0.4-1.1l0.8-0.8l0.4 0l0.4-0.3l0.4-1.2l1.9-1.7l0.8-1.4l0.8 0.4l0.4 0.5l0.3 0l0.4-0.4l0.4 0.1l0.4 1.5l0.4 0.3l0.4-0.5l0.7 1.7l0.4-0.1l0.4 0.2l0.3-0.3l0.4 0.7l0.8 0.4l0.3 1.2l0.8 0.2l0.4-0.2l0.4 0.3l0.3 0.6l0.4-0.3l1.1 2.2l0.4 0.1l0.4-0.4l0.8 1.4l0.3-0.3l0.4 0l0.8 0.8l1.1-0.3l0.8 1.3l0.3 0.4l0.8 0.3l0.4 0.9l0.3 0.3l1.2 0.5l0.3 0l0.8 0.6l0.4-0.2l0.7 0.9l0.4-0.3l0.4 0.1l0.7 1.3l0.8-1.1l0.7 0.5l0.4-0.6l0.8 0.6l0.4-1.1l0.7 0.4l0.4-0.6l0.4 0.2l0.3-0.2l0.4-0.9l0.8 1.3l0.3-0.4l0.8 0l0.4-0.4l0.3 0l1.2-1.1l0.3 0.9l0.8-1.3l0.4 0.2l0.4-0.2l0.3 0.1l0.4-0.6l0.7 0.8l0.4-0.7l0.8 0l0.7-0.4l0.4-0.8l0.7 1l0.4-0.1l0.4 0.4l0.7-1.5l0.8 0.8l0.4-1.1l0.3-0.5"/>
<path class="n" d="M98.0 408.3L311.6 348.2L311.6 345.4L98.0 405.6z"/>
<path d="M98 405.9l0.4-0.5l0.5 0l0.4-0.4l0.4-0.7l0.5 0.2l0.5 1.4l0.4 0l0.4-1.8l1 1.6l0.9-1.2l0.4-0.3l0.9 0.2l0.5-0.8l0.4-0.3l0.5 0.8l0.4 0.2l0.5-0.7l0.4-0.3l0.9 0.5l0.9-1.4l0.4 0.5l1 0.3l0.4-0.2l0.9-1.4l0.4-0.4l0.5 0l0.4-0.3l0.5 0l0.4 0.7l0.5-0.2l0.4 0.5l0.5-0.3l0.4-1.3l0.4 0.5l0.5-0.2l0.9-1.1l0.4 0l0.9-0.4l0.4 0.6l0.5-0.2l0.4 0l0.9-0.6l0.5 0.5l0.9-1l0.8-0.1l0.9 0.5l0.5 0l0.4-0.7l0.4 0l0.5 0.3l1.3-2.3l0.9 1.3l0.4-0.2l0.9-1.5l0.5 0l0.4 1l0.4-0.4l0.5-0.9l0.4 0.1l0.5 0.9l0.4 0.2l0.4-1.1l0.9-0.4l0.9 0.2l0.4-0.6l0.5-0.1l0.4-0.4l0.4-1l0.5 0.5l0.4 0.1l0.4-0.3l0.5-0.6l1.3-0.3l0.4-0.5l1.3-0.9l0.9 0.4l0.4 0l0.5-0.5l0.4-0.9l0.9-0.6l0.4-1l0.5-0.2l0.4 0.3l0.9-0.8l0.4-1l0.4 0l2.2-6.6l0.5-0.4l0.4 1.6l0.4 0.9l0.9-3.7l0.4-1l0.5 1.5l0.4 0.3l0.4 1.1l0.4 0l0.5-0.7l0.9-2.4l0.4 0.7l0.8 2.6l0.5 0.6l0.4-0.1l0.4-2l0.9 1.4l0.4 3.1l0.4-0.1l0.9-3.1l0.4-0.5l0.5 0.8l1.2 4.5l0.9 1.6l0.4-0.2l0.9-2.4l0.4-2.4l1.7-6.2l0.5-0.5l0.4 0.3l0.4-0.7l0.5-2.3l0.4-0.3l0.4-0.8l0.5 1.3l0.4 0l0.4-1.1l0.5-2.6l0.4-1.1l0.4 1l0.4 0.5l0.5-0.3l0.4 2l0.8-0.4l0.5-3.1l0.4 0.8l0.4 2.2l0.4 0.5l0.4 1.8l0.5-4.4l0.9-4.8l0.4 2.6l0.3 4.9l0.4 1.7l0.5-2l0.5-4l0.4 0l0.4 2l0.4 0.5l0.4 3l0.4-0.4l0.4 0.9l0.4-0.2l0.8 3.4l0.5 0.7l0.8 0.3l0.8 2.3l1.3 0.3l0.8 0l0.4 0.2l0.4-0.7l0.9 0l0.4-0.6l0.4 0.8l0.4-0.2l0.4-1.3l0.9-0.1l0.4-1.2l0.4-0.2l0.4 0.3l1.7-1.7l0.8 0l0.9-0.8l0.4-0.1l0.4 0.2l0.8 0.7l0.9-1.1l0.4 0.3l0.8-0.6l0.4-0.5l0.5-0.1l0.3 1.6l0.5-0.9l0.4-1.5l0.4 0.5l0.8 0l0.4-0.4l0.5-0.1l0.4 0.4l0.4-0.4l0.4-0.7l1.2-0.3l0.4 0.1l0.5-0.3l0.4-0.6l0.4 0.2l0.4 0.6l0.8-1.1l0.4-0.2l0.8 1.1l0.9-1.3l0.8 0.2l1.2-2l0.8 1.3l0.5-0.9l0.8 0.3l0.4-0.4l0.4 0l0.8-0.7l0.4 0.5l0.8-0.1l0.9-1.1l0.4 0l0.4 0.7l0.4-0.1l1.2-1.7l0.8 0.4l1.2 0.1l0.4 0.2l0.4-0.1l1.3-1.4l0.4 0.2l0.8-0.4l0.4 0.3l0.4-0.9l0.4-0.3l0.4 0.4l0.8 0l0.8-1.2l0.4-0.2l0.4 0.5l0.4 0.1l0.4-0.7l0.8 0.7l0.8-0.2l0.4-0.6l0.4-0.3l0.4 0l0.4-0.7l0.8 0.5l0.5-1.1l0.8-0.4l0.4-0.4l0.4 0l0.4 0.5l0.8-1.4l0.4-0.1l0.8 0.5l0.4-0.4l0.4 0l0.8-1l0.4 0.4l0.4-0.3l0.4-0.8l1.6-0.4l1.2-0.8l1.2-0.3l0.4-0.7l0.4 0.6l0.4 0l0.4-0.7l0.4 0l0.4-0.8l0.8-0.3l0.4-0.6l0.4 0.4l0.3 0l0.4-0.3l0.9-1.4l0.3 0l0.8-0.5l0.4 0.5l0.4-0.3l1.2-2.5l0.4 0.9l0.4 0l0.4-0.8l0.4 0.5l0.4-0.5l0.4-1l0.4 0.2l0.4-0.1l1.2-2l0.4 0.7l0.4-0.5l0.4-1.2l0.8-0.4l0.7 0.4l0.8-1.6l0.8-0.7l0.4-0.9l1.2-1.7l0.4 0.3l0.8-1.4l0.8-0.5l0.8-1.8l0.4-0.3l0.4-0.7l0.4-0.1l0.4 0.4l0.4-1l0.3-0.5l0.4 0.1l0.8 1.9l0.4 0.5l0.7-0.6l0.8 1.7l0.4-0.3l1.5 1.1l0.4 0.1l0.7 1.8l0.8 0l1.1 1l0.4 0l0.4 0.3l1.1 1.9l0.4-0.7l0.4 0.1l0.4 0.7l0.4 0l0.3 0.3l0.8 0.2l0.4 0.9l0.4 0.1l0.3-0.2l0.4 0.8l0.8 0.1l0.4 0.6l0.7 0.5l0.8 0.2l0.7 1.2l0.4 0.1l0.8-0.6l0.3 0.3l0.8 1.2l0.4 0.3l0.4-0.5l0.3-0.2l0.4 0.3l0.4 0.7l0.4 0.2l0.4-0.2l0.3 0.2l0.8-0.9l0.4 0.2l0.4 0l0.7-1l0.4 0.5l0.4-0.1l0.4-0.4l0.3 0.2l0.4 0l0.4 0.2l0.4 0.6l1.5-1.8l0.4 0.4l0.3 0l0.8-0.6l0.4 0.1l0.4 0.3l0.3-0.6l0.4-0.1l0.4 0.5l0.4-0.8l0.4 0l0.3 0.4l0.4-1l0.4-0.3l0.7 0.4l0.4-0.7l0.8 0.4l0.3-0.2l0.4 0l0.4-0.7l0.8-0.4l0.3 0.2l0.4 0.5l0.8-0.4l0.3-0.6"/>
<path class="n" d="M106.9 416.7L322.4 355.1L322.4 353.2L106.9 414.5z"/>
<path d="M106.9 414.8l0.4-0.1l0.5-0.6l0.4 0l0.9-0.6l0.5 0.1l0.4-0.7l0.5 0l0.5 0.6l0.4-0.6l0.9-0.2l0.9-0.9l0.9 0.3l0.5-0.4l0.5 0.3l0.9-0.2l0.4-0.2l0.5-1.1l0.9 1.1l0.9-0.9l0.4 0.1l0.9-1.2l0.5 1l0.4 0.3l0.5-0.5l0.9-0.2l0.4 0l0.5-0.4l0.4 0l0.9-0.7l0.5 0.2l0.9-1.5l0.4 1.1l0.5 0.4l0.9-1.6l0.9-0.6l0.4 0.2l0.5-0.4l1.3-0.1l0.5 0.4l1.3-1.2l0.9 0.3l0.9 0.5l1.8-1.8l0.4 0.3l0.5-0.1l0.8-0.6l0.5 0.1l1.8-1.2l1.3 1.2l0.9-1.7l0.9-0.7l0.9 0.3l0.4-0.7l0.4-0.3l1.4-0.3l0.4-0.6l0.4 0.6l0.5 0.2l0.4-0.2l0.9-2.3l0.5 0.5l0.4 0.2l0.4-0.4l0.9-0.1l0.5 0.6l0.4-0.1l0.4-1.7l0.5 1.1l0.4 0.4l0.9-1.7l0.9-0.7l0.4-1l0.9-0.3l0.9-0.6l0.4-0.9l0.9-1.2l0.9-2.3l0.4-3.4l0.5-0.2l0.4-2.3l0.4 1.3l0.5-1.2l0.4 2.4l0.4 1.5l0.5-1l0.4-0.1l0.5 0.7l0.4-0.1l0.4-0.4l0.5 0.5l0.4 0l0.4-0.6l0.5 1.4l0.4 0.3l0.4 2.2l0.9-5.1l0.9-0.9l1.2 5.3l0.9-1.4l1.3 4.2l0.4 0.9l0.9-1l0.8-2.6l0.5-2.6l0.9-1l0.4-1l0.5-2.5l0.9-3.3l0.4 1l0.4-1.5l0.4 0.8l0.5-1l0.4-1.7l0.5-0.5l0.4 1.8l0.4 0.2l0.9-3.6l0.4-0.3l0.4 1.5l0.8 4.6l0.5 0.2l1.3-7.5l0.5 0.6l0.4 1.8l0.4 0.7l0.4-1.4l0.5-0.3l0.4-1.1l0.8 1.3l0.4 3l0.4 0.2l0.4 1.9l0.5-1.7l0.8 1.2l0.4 1.6l0.4 0.5l0.5-0.1l0.4 0.3l0.8 2l0.4 0.5l0.4 1l0.4 0.2l0.4 1.2l0.9-2.6l0.4 1.1l0.5 0.1l0.4 0.1l0.8-1.1l0.4 0.5l0.4 1.1l0.5 0.1l0.8-2.6l0.5-0.1l0.4 0.7l0.8-0.7l0.4 0.1l0.9-1.4l0.4-0.4l0.4 0.2l0.4 0.5l0.5-0.2l0.4-1.1l0.4-0.2l0.4 0.2l0.5-0.6l0.4 0.6l0.4-0.2l0.4-0.6l0.4 0.2l0.5-0.6l0.8-0.6l0.4-0.5l0.8 0.9l1.7-0.8l0.4-1l0.5 0l0.4 1l0.4-0.3l0.8 0.2l0.4-0.7l0.4 0l0.5-0.5l0.4 0l0.4 0.4l0.4-0.9l0.4-0.6l0.4 0.4l0.5 0.1l0.4-0.6l0.4 0.4l0.4 0.8l0.4-0.7l0.4-1.3l0.5-0.4l0.4 0.8l0.8 0l0.4 0.2l0.8-1l0.4 0.2l0.5-0.4l0.4 0.2l0.4-0.1l0.4-0.4l0.4 0.4l0.4-0.2l0.4-0.6l0.4-0.1l0.5-0.3l0.8-1.3l0.4-0.2l0.4 1.4l0.4 0.5l0.4-0.9l0.4-0.6l0.4 0.4l1.3-1.7l0.4-0.1l0.4 0.7l0.4 0.3l0.4-0.3l0.8-1l0.4 0.1l0.4 0.5l0.5-0.1l1.2-1.7l0.4 0.5l0.4 0.1l0.4-0.3l0.4 0.4l0.4-0.5l0.4-1l0.4 0.6l0.4 1.1l0.4-0.5l0.5-1.6l0.8 0.9l0.4-0.7l0.8-0.2l0.4-0.6l0.4-0.3l0.4-0.1l0.4-0.4l0.8 0.4l0.9-1l0.4-0.8l0.8 0.8l1.2-1.5l0.8 0.6l0.4 0l0.8-1.2l0.8-0.1l0.4 0.5l0.4-0.7l0.4-0.3l0.4 0.5l0.4-0.9l0.4-0.2l0.4 0.1l0.4-0.2l0.4 0.1l1.2-0.8l0.9-1.5l0.4-0.2l0.4 0.7l0.4-0.3l0.4-1l1.1 0.8l0.5-0.2l0.4-0.8l0.4-0.2l0.8-1.2l0.8 0.4l0.8-2l0.8 0.8l0.8-1.8l0.4 0.7l0.8-0.4l0.4-0.5l0.4-0.1l0.4 0.1l0.4-0.8l1.2-1.4l0.4 0.2l0.8-1.3l0.4-0.2l0.4-0.5l0.4-0.1l0.8-1.4l0.8-0.2l0.8-0.4l0.4-0.7l0.4-0.4l0.4-0.1l0.4-1l0.8-0.4l0.4-1.1l0.4-0.2l0.4-0.5l0.4-1l0.4 0l0.8-0.7l0.3 0.1l0.8-1.8l0.4-0.1l0.4 0.3l0.8-0.5l0.4 1.1l0.4 0.6l0.4 0l0.3 0.3l0.4 1.2l0.4 0.5l0.4-0.6l0.4 1l0.7 0.3l0.8 0.6l0.4 0.6l0.7 0.6l0.4-0.6l0.4 0.1l0.8 1.3l0.7 0.2l0.4 1l0.4 0.4l0.4-0.1l0.4-0.4l0.4 0l0.7 2l0.8-0.6l0.7 1.1l0.8-0.2l0.8 1.2l0.8-0.9l1.1 2.3l0.4 0.3l0.3-0.3l0.8 0.9l0.8 0.4l0.3 0l0.4 0.1l1.2 0.8l1.1 0l0.4 0.4l0.8-0.8l0.4 0.1l0.7-0.7l0.8 0.2l0.4-0.4l0.4 0.1l0.7-0.3l0.4 0.1l0.8-0.7l0.4-0.1l0.3-0.4l0.4 0.5l0.8 0l0.4 0.4l0.7-1l0.8-0.5l0.4-0.1l0.3 0.7l0.4-0.9l1.2-0.6l0.3 0.7l0.8-0.4l0.8-0.1l0.4-0.5l0.3 0.2l0.4-0.2l0.4-1.1l0.7 0.9l0.4-0.5l0.8 0.2l0.4-1l0.3 0.2l0.4 0.7l0.4 0.1"/>
<path class="n" d="M116.1 425.3L333.4 362.2L333.4 359.5L116.0 422.5z"/>
<path d="M116 422.8l0.5 0l0.4-0.6l0.5-0.3l0.5 0.3l0.4-0.2l0.5 0.1l0.5 0.6l0.9-1.7l0.4-0.3l0.5 0.4l0.5 1.1l0.4-0.5l0.5-1l0.9 0.4l0.4-0.6l0.5 0.2l0.5 0l0.4-1.1l0.9-0.8l0.5 0.9l0.4 0.4l0.5-0.9l0.4-0.2l0.5 0.3l0.5 0.1l0.9-0.7l0.9-0.1l0.9-0.4l0.4-0.8l0.5 0l0.5 0.4l0.4-0.4l0.5 0.2l0.9-0.4l0.4 0.4l0.5-0.1l0.4-0.8l0.5 0.1l0.4 0.3l1 0.3l0.9-1.3l0.4-0.1l0.9-1l0.5 0.3l0.4-0.8l0.9 1.1l0.5-1.2l0.4 0.4l0.5 0.2l0.4-0.7l0.5 0.3l0.9-0.8l0.9 0l0.4 0.3l0.9-1.1l0.5-0.2l0.4-1l0.9 1.2l0.9-0.2l0.5-0.8l0.4 0.1l0.4-0.7l0.5-0.1l0.4 0.3l0.5-0.1l0.4-1.2l0.5-0.3l0.4 1.3l2.7-2.6l0.9-0.1l0.4 0.8l0.5 0.2l0.4-0.7l0.5 0.3l0.4-0.6l0.5-1l0.9 0.2l0.4 0.6l0.4 0.1l1.4-2.9l0.4-0.2l0.5 0.2l0.4-0.3l0.9-1.2l0.4-0.3l0.5-0.9l0.4-2l0.5-3.1l0.9-0.2l0.4 0.4l0.5-1.1l0.4 0.1l0.5-1.4l0.4-0.5l0.5 0.6l0.4 1.7l0.4 1l0.5 0l1.3-2.9l0.4 0l0.5 0.8l0.4-0.8l0.4 0.7l0.5-0.9l0.4-0.4l0.5 0.1l0.8 2.8l0.5 0.4l0.4-2.8l0.5-1.7l0.4 0.6l0.4 3.8l1.3-0.8l0.4 0.6l0.9 4l0.8 1.3l1.4-5.6l0.4-1.2l1.4-6l0.4-0.4l0.5 1.3l0.4-0.4l0.9-3.8l0.4 0.4l0.5 1.2l0.4-0.3l0.9-2.5l0.4 1.1l0.4 2.2l0.9 0.9l0.4-0.8l0.4 0l0.5-2.6l0.4-0.1l0.5 0.7l0.9-2.1l0.8-1.3l0.4 1l0.9 0.5l0.5-2.9l0.9-1.4l0.4 1.3l0.3 3.6l0.9 2.5l0.4-0.4l0.4-0.9l1.7 3.8l0.4 0.3l0.4 0.7l0.8 2.6l0.9 0.2l0.4 0.5l1.3-0.4l0.4-0.8l0.4 0l0.4 0.7l0.9-0.9l0.4-0.8l0.9 0l0.4-0.8l0.4 0.9l0.5 0l0.4-0.7l0.4 0l0.9-1.6l0.4-0.1l0.4 0.4l0.4 0.1l0.5-0.6l0.8 0.2l0.4-0.4l0.5-0.3l0.4-0.8l0.4 0.2l0.4 0.7l0.9-0.9l0.4 0.1l0.9-0.8l1.2 0l0.4-0.7l0.5-0.2l0.4 0.5l1.7-1.3l0.4 0.4l0.8 0l1.3-0.4l1.2-1.2l0.5 0.2l0.4-0.3l0.4-0.6l0.4-0.2l0.4 0.7l0.5-0.3l0.4-0.5l0.4-0.1l0.4-0.8l0.4 0.1l0.4 0.8l0.9 0.1l0.8-1.7l0.8 0.7l0.5-0.6l0.4 0l0.4 0.5l0.8-0.4l0.4-0.5l0.4 0.4l0.5-0.2l0.4-0.5l0.4 0.5l0.4 0.3l0.8-1.2l0.4 0.1l0.4 0.3l0.5-0.1l0.8-1l0.4 0l0.4-0.3l0.9 0l0.8-0.3l0.4 0.4l0.4 0l0.4-0.8l0.4-0.4l0.4 0l0.9-0.7l1.6-0.6l0.4-0.3l0.9 0l0.4-0.3l0.8 0.8l0.4-0.8l0.4-0.2l0.4 0.4l0.8-0.6l0.8-0.1l0.9-0.9l0.4 0.1l0.4-0.3l0.4-0.8l0.4-0.1l0.9-1.7l0.7 1.3l0.5-0.3l0.4-0.7l0.8 0.6l0.8-0.5l0.4 0.2l0.8-1.8l0.4 0.5l0.4 0l0.9-1.9l0.4 0.1l0.8 1.1l0.8-1.6l0.8 0.4l0.8-0.5l0.4 0.2l0.4-0.4l0.4-1.2l0.4 0.4l0.4 0.2l0.4-1.5l0.5-0.5l0.3 0.6l0.9-0.9l0.4 0.4l0.4-0.3l0.4-0.7l0.4 0.2l0.4-0.1l0.4-1.1l0.4-0.5l0.4 0.8l0.4-0.7l0.4 0l0.4 0.6l0.8-1.8l0.8-0.3l0.4-0.6l0.4 0.1l0.8-1.6l0.4 0.5l0.9-1.3l0.4-0.1l0.4-0.9l0.4-0.4l0.4 0.4l1.2-1.6l0.4-0.4l0.4-0.1l0.4-0.6l0.4-0.1l0.8-1.8l0.4 0.1l0.4-0.3l1.2-1.9l0.4-0.1l0.4 0.2l0.4-0.5l0.4-1.7l1.6-1.8l1.6 1.4l0.4 0.2l0.3 0.6l0.8 0.2l0.8 0.6l0.8 1.3l0.3 0.3l0.8 0.2l0.4 0.7l0.4 1.2l0.3 0.2l0.5-0.9l0.7 0.9l0.4 0l0.4 0.6l0.4 0.3l0.4 0.1l0.7 1.2l0.4-0.2l0.8 1l0.8-0.5l0.3 0l0.4 0.8l0.4-0.1l0.4 0.3l0.4 1.1l0.3 0.3l0.4-0.2l1.6 1l0.7 0.1l0.4-0.5l0.4 0.5l0.4 0.9l1.1 0.5l1.2 1.3l0.4 0l0.4 0.5l0.3-0.1l0.4-0.4l0.4-0.1l0.4-0.6l0.4 0l0.8 1l0.3-0.4l0.5-1.4l0.7 1.4l0.4-0.1l0.4-0.5l0.4-1l0.4-0.1l0.7 0.3l0.4-0.2l0.4 0.4l0.4-0.1l0.4-0.7l0.4 0l0.7-1.1l0.4 0.2l0.8 1.2l0.4-0.8l0.3-0.2l0.8-1l0.8 1.1l0.4-0.1l0.3-1.2l0.4 0l0.4 0.8l0.8-0.6l0.7-0.3l0.4-0.8l0.4-0.3l0.4 0.2l0.4-0.1l0.3 0.6l0.4 0.2l0.4-1l0.4-0.5l0.8-0.1l0.3 0.5"/>
<path class="n" d="M125.5 434.2L344.7 369.4L344.7 366.9L125.4 431.6z"/>
<path d="M125.4 431.9l0.5-0.8l0.5-0.3l0.9 0.3l0.5 0.3l0.4-0.2l1-1.5l0.4 0.4l0.5 0.6l0.5 0.3l0.9-1.4l0.4-0.4l0.5 0.1l0.5 0.4l0.4-0.4l0.5 0.1l0.5-0.3l0.4-0.7l0.9 0.4l0.5-0.1l0.9 0.2l0.5-0.1l0.4-0.6l1 0.4l0.4-1.2l0.5-0.5l0.4 0.1l0.5 0.3l0.9-0.7l0.5 0.2l0.4-0.1l1-0.3l0.4-0.5l0.5-0.1l0.4 1.2l0.5-0.2l0.5-1l0.4-0.3l0.5-0.8l0.4-0.2l0.5 0.6l0.4 0.2l1.4-1.4l0.9 0.3l0.5-0.8l0.4 0.2l0.5 0.5l0.9-1.2l0.5 0.6l0.4 0.2l0.5-0.6l0.9-0.1l0.4-0.5l0.5 0.1l0.4-0.2l0.5-1.3l0.9 0.1l0.9-0.5l0.9 0.7l1.4-0.8l0.4 0.3l0.5-0.2l0.9 0.3l0.4-0.5l0.5-1.3l0.9-0.5l0.4-0.7l0.5-0.3l0.9 1.7l0.4 0.1l0.5-1l1.3-1.1l0.5-1l0.4 0.6l0.5 0.1l0.9-1.9l0.4 0.6l0.5 1l0.9-2.2l0.9 0.6l0.4-0.3l0.5-1.3l0.4-0.5l0.5-2l0.4 0l0.5 0.8l0.4-0.9l0.9-2.7l1.4-2.1l0.4 0.3l0.5 0.5l0.9-1.1l0.4-1.5l0.5 0.4l0.9-1.1l0.9-3.2l0.4 1l0.5-0.1l0.4 3l0.4-0.7l1-3l0.4 1.4l0.4 4l0.4-0.4l0.5-1l0.4-1.9l0.5 0.5l0.4 1l0.4-0.3l0.5 0.4l0.4-1.1l0.9 2.5l0.4 2.2l1.2 3.9l0.5-0.4l1.4-6.6l0.4-0.6l0.5-0.2l0.4-1.4l0.5-0.4l0.4-1.3l0.5-0.7l0.5-4.1l0.4 0.3l0.4 0.6l0.5 1l0.9-6.4l0.5 1.2l0.4-0.6l0.9 1.5l0.4 2.3l0.4-0.2l0.5-2.1l0.4-0.7l0.4 3.4l0.4 1.5l0.5-2.4l0.5-3.9l0.4-1.4l0.5 0.5l0.4-0.1l0.4 1.2l0.4 0.6l0.5 0.2l0.4-2l0.4 1.3l0.5-0.7l0.4 2.7l0.4 0.7l0.4 2.8l0.4-0.8l0.4-0.2l0.5-0.8l0.4 0l0.4 0.9l0.4 0.6l0.9 2.3l0.8 1.2l0.4 1.4l0.9 0.5l0.8 1.3l0.8 0.1l0.5-1l0.4-0.2l0.4 0.4l0.5-0.9l0.8 0.9l0.9-1.9l0.4 0l0.5-0.1l2.1-1.8l0.4 0.4l0.9-1.1l0.9-0.1l0.4 0.2l0.4-0.4l0.9-0.2l0.8-1.2l0.5 0.4l0.4 0.9l0.4-0.6l0.5-1.5l0.8 0.8l0.4-0.6l0.4 0l0.9 0.4l1.3-1.3l0.4 0.1l0.4-0.2l0.9 0.1l0.8-1.1l0.9 0.2l0.4-0.1l0.4 0.4l0.4-0.6l1.3-0.3l0.4 0.7l0.9-2.3l0.4 0.3l0.4 0.1l0.8 0.8l0.9-1.3l0.4-0.3l0.4 0.4l0.4-0.1l0.5-0.6l0.4 0.9l0.4-0.3l0.4-0.6l0.4 0l0.5-0.5l0.4 0.3l0.4 0l0.4-0.9l0.9-0.3l0.4 0.4l0.8-0.7l0.4 0.2l0.9-0.9l0.8 0.5l0.4-0.4l0.4 0l0.5-0.6l0.4 0.1l0.4-0.2l0.4-0.9l0.8 1l0.9-0.3l0.8-0.7l0.4 0.1l0.4-0.8l0.4 0l0.4 1.1l0.5-0.6l0.4 0l0.4-0.4l0.4-1.2l0.8 0.3l0.9-1.8l0.8 0.8l0.4-0.2l0.4 0.3l0.4 0l0.5-0.6l0.4 0l0.8-0.7l0.8 0.2l0.9-1.2l0.3 0.8l0.9-0.9l0.4 0.3l0.8-1l0.8 0.5l0.9-0.8l0.4-0.6l0.4 0l0.4 0.9l0.4-0.1l1.2-1.9l0.5-0.3l0.3 0.5l0.5-0.1l1.6-1.5l0.4-0.1l0.8-0.9l0.9 0l0.4-0.1l1.2-1.6l0.4 0l0.4 0.2l0.8-1.5l0.4 1l0.4 0l0.5-0.8l1.2-0.4l0.8-2.3l0.4-0.5l0.8 1.3l1.2-1l0.4-0.5l0.4-0.1l0.5-0.4l0.8-1.2l0.4-1.1l0.4-0.1l0.4 0.6l0.4 0.1l0.8-1.8l0.4 0.2l0.4-0.2l0.9-1.7l0.8-0.2l0.4-0.9l0.8-1l0.4-0.3l0.4 0.5l1.2-2.1l0.4-0.5l0.4-0.1l0.4-0.9l0.4-0.5l0.4-0.2l0.9-1.4l0.4 0.2l0.4-0.3l0.3 0.2l0.4 0.5l0.4-0.1l0.4 1.2l0.4 0.3l0.4-0.6l0.4 0.3l0.7 1.8l0.4 0.2l0.4-0.5l0.4 0.5l0.4 0.8l0.4 0.3l0.8-0.1l0.7 1.7l0.4-0.6l0.4 0l0.8 1l0.8 0.3l0.3 0.7l0.8 0.1l0.4-0.2l1.5 2l0.4-0.3l0.4 0.1l0.4 0.9l0.8-0.7l0.4 1.1l0.3 0.3l0.4-0.2l0.4 0.8l0.4 0.3l0.4-0.5l1.1 1.6l0.4 0l0.4-0.3l0.8 1.2l0.8-0.2l0.3 0.6l0.4 0.3l0.8-0.9l0.4 0.5l0.8-1.6l0.8 1.7l0.3-0.1l1.2-1l0.8 0.5l0.4-0.7l0.4-0.2l0.4 0.3l0.4-0.3l1.1-0.2l0.8-0.5l0.4-0.5l0.8 0.5l0.3-0.5l0.4 0.1l0.8-0.3l0.4 0.1l0.8-1.1l0.4 0l0.3 0.8l0.4 0.4l0.4-0.9l0.8-0.9l0.8 0.3l0.3 0.4l0.8-0.8l0.4 0.7l0.4 0.3l0.7-1.7l0.4 0.8l0.4-0.1l0.8-0.8l0.7-0.2"/>
<path class="n" d="M135.1 443.3L356.3 376.9L356.3 375.0L135.1 440.7z"/>
<path d="M135.1 441l0.5 0.3l0.9-1.1l1.4 0.2l1-1.8l1.4 1.4l0.5 0.1l0.4-0.6l0.5 0l0.5-0.4l0.4 0.2l1-1.7l0.4 0.8l0.5 0.1l0.9-1.6l0.5 0.9l0.5 0l0.9-1l0.9 0.1l0.5-0.4l0.5-0.3l0.4-0.9l0.9 1.5l0.5-0.5l0.5-0.1l0.4 0.2l0.5-0.2l0.9-1.2l0.5 0.1l0.5 0.8l0.4 0.2l0.5-1l0.9-1.1l0.5 0.2l0.4 0.6l0.5 0.2l0.4-0.1l1-1.4l0.4-0.3l0.5-0.7l0.5-0.1l1.3 0.4l1-0.1l0.4-0.3l0.5 0l0.4-0.3l0.5-0.5l0.4 0.2l0.5 0.8l0.9-2.1l0.5 0.5l0.4-0.5l0.5-0.1l0.5 0.2l0.9-1.8l0.4 0.8l0.5 0.3l0.4-1.2l0.5 0l0.5 0.9l0.9-0.4l0.4 0.1l0.5-1.1l0.4-0.1l0.5 0.4l0.4-0.4l0.5-0.1l0.5-0.7l0.4 0.4l0.5-0.9l0.4-1.5l0.5 0.3l0.4 0.8l0.5 0.4l0.4-0.6l0.5 0.1l0.9-1.5l0.5 0.1l0.4 0.5l0.9-1l0.9-0.5l0.5-0.5l0.4-0.1l0.5-0.3l0.4 0.1l0.9-0.6l0.5-0.9l0.9-3l0.5 0l0.4-0.4l0.5-1.4l0.9 1.3l0.5-1.4l0.4-0.8l0.5-2.2l0.4 0l0.5 0.6l0.9-0.7l1.3 1.5l0.9-2.4l0.5-0.2l0.4-0.9l0.5 0.8l0.9-3.9l0.5-0.2l0.8 3.6l0.4 3.2l0.9-2l0.9-1.1l1.3 5l0.4-0.5l0.9 2.4l0.4 0.6l0.4 0.1l0.5-0.8l1.4-6.2l0.9-2l0.5-0.8l0.4 0.5l0.4 1.8l0.5-1.2l1-5.6l0.9-2.1l0.5-0.7l0.4 1l0.4-0.8l0.5 0.5l0.4-0.4l0.9-1.2l0.5-1.6l0.4-0.2l0.5-1.9l0.4 3.4l0.8 2.4l0.5-2.7l0.4-0.3l0.5-1.9l0.4 0.5l0.5-0.1l0.3 3.4l0.5 0.2l0.4 0.4l0.5-4l0.5 0.2l0.4 1.5l0.3 4.1l0.4 2l0.5-0.9l0.5-3.5l1.6 4.4l0.4 2.1l0.9-0.4l0.4 2.1l0.4-0.2l0.8 1l0.5-0.7l0.8 0.8l0.5-0.1l0.8-0.9l0.5 0.2l0.4-0.6l0.5-1.1l0.4 0.3l0.8-0.1l0.5-0.2l0.4-0.8l0.9 1.3l0.8-1.3l0.5 0.1l0.4-1.1l0.4 0.1l0.5 0.8l0.9-1.8l0.4-0.2l0.4 1.3l0.9-0.8l0.4-0.1l0.4-0.4l0.5-0.1l0.4-1.2l0.8 1.3l0.5-0.9l0.8-0.2l0.5-0.9l0.8 0.4l0.5-0.5l0.8-0.2l0.5-0.7l0.4 0.1l0.4 0.4l0.4 0.1l0.4-0.3l0.5-1.1l0.4-0.3l0.9 0.6l0.8-0.7l0.9 0.3l0.8-0.6l0.4 0.2l0.5-0.4l0.4 0.2l0.4-0.2l0.4-0.6l0.5-0.1l0.8 0.2l0.9-1.1l0.4 0.4l0.4 0l0.8-0.2l0.5-0.8l0.8 0.6l0.5-0.9l0.4-0.3l0.4 0.1l0.4-0.7l0.5-0.3l0.4 0.8l0.8 0.1l0.4-0.2l0.4-0.5l0.5 0l0.4-0.3l0.4-1l0.4-0.1l0.4 0.8l0.5-0.5l0.4 0.2l0.4-0.3l0.4-0.8l0.5 0l0.4 0.5l0.8-1l0.4 0.3l0.9-0.3l0.4-0.2l0.4-0.6l0.4-0.1l0.9 0.2l0.4 0.7l0.4-0.8l0.4-0.2l0.4 0.3l0.4-0.4l0.4 0.2l0.9-2l0.8 0.9l0.4 0.1l0.9-1.1l0.4-0.3l0.8-0.1l0.5-0.5l0.4 0l0.4 0.5l0.4-1l0.4-0.7l0.5-0.3l0.4 0l0.4 0.8l0.8 0.5l0.8-2.2l0.4 0l0.4 0.3l0.9-1l0.4-0.3l0.4 0.3l0.8-0.8l0.5 0.1l0.4-0.3l0.4 0.1l1.2-0.2l0.4-1l0.5-0.3l0.4 0l0.4 0.3l1.2-1.1l0.5-1.4l0.7 0.6l1.3-1.4l0.8 0.3l0.8-1l0.4-0.1l1.7-1.4l0.8-1.1l0.8 1.2l0.4-1l1.3-1.7l0.4 0.2l0.8-1.5l0.4-0.2l0.4 0.2l0.9-1l0.4-0.2l0.8-0.1l0.8-2.2l0.4 0.1l0.4-0.2l0.5-0.7l0.4 0.2l0.4-0.3l0.4-1l2.1-2.9l0.4-0.1l0.4-1l0.4-0.3l0.4 0.8l0.8-2l0.4 0.4l0.4-0.5l0.4 0l0.4 0.5l0.7 2.7l0.4-0.4l0.5-1.4l0.7 2.1l0.8-0.5l0.4 0.1l0.4 0.9l0.4-0.1l0.4 0.2l0.7 1.5l0.4 0.1l0.4 0.4l0.4 0.8l0.8-0.9l0.4 0.5l0.8 0l0.3 1.4l0.4 0.4l0.4-0.2l0.8 0.6l0.4-0.2l0.4 0.3l0.3 1l0.8-0.2l0.4 0.2l0.4 0.8l0.4 0.3l0.4-0.3l0.8 0.1l1.9 2.3l0.4-0.5l0.8 0.7l0.3 0.2l0.8 0.6l1.2 0.7l0.4 0.1l0.4-0.3l1.1-0.1l0.4 0.3l0.4-1.2l0.4 0.1l0.4 0.3l0.4-0.5l0.8-0.2l0.4-0.3l0.4 0.9l0.4 0.3l0.4-1.6l0.8-0.1l0.3-0.3l0.4 0.5l1.6 0.3l0.4-1.1l0.4-0.2l0.8 0l0.3 0.6l0.4-0.5l0.4-0.9l0.8 0l0.4 0.4l0.4-0.1l0.4-0.4l0.7-0.5l0.4 0.6l0.8-1.2l1.2-0.2l0.4-0.8l0.4-0.1l1.5 0.3l0.7 1.2l0.4-0.8"/>
<path class="n" d="M145.1 452.7L368.2 384.5L368.3 381.7L145.1 450.0z"/>
<path d="M145.1 450.3l0.5-1.5l0.4-0.4l1 1.4l0.5 0.1l0.4-0.1l0.5-0.8l0.5-0.3l0.5 0.6l0.4-0.3l0.5-1.1l0.5-0.8l0.9 0.4l0.5 0.6l0.9-0.5l0.5 0.2l1-0.3l0.9-0.8l0.5 0.5l0.4-0.1l1-0.8l0.5-0.1l0.9-0.5l1.4 0.9l0.5-1.1l0.4-0.4l0.5 0.2l0.5-0.5l0.4-0.1l0.5 0.2l0.5-0.5l0.9-0.6l0.5-1.1l0.5 0.1l0.4 0.9l0.5 0.4l0.4-0.3l0.5-1.2l0.5 0l0.4 0.4l0.5-0.7l0.9 1l0.5-0.8l0.5 0.1l0.4 0.6l0.5-0.6l0.5-1l0.9-1.3l0.5 0.3l0.4 1.3l0.5-0.5l0.4 0.1l0.5-0.4l0.5-1.2l0.4 0.4l0.5-0.1l0.5-0.5l0.4 0.6l0.5-0.1l0.5-0.6l0.4-0.2l0.5-0.6l0.4 0.1l1-1.1l0.4 0.3l1-0.9l0.9 0.6l0.4-0.5l0.5-1.3l0.5 0.4l0.4 0.8l0.9-0.7l0.5 0.2l0.9-1.5l0.5 0l0.4 0.4l0.5-0.5l0.9 1l0.9-1.6l1.9-1.6l0.4 0.7l0.5 0.1l0.4-1.1l0.5-0.5l0.4-0.3l0.5 0.3l0.5-0.7l0.4-0.3l0.5-1.5l0.9-1.1l0.5-1.2l0.5-0.1l0.9-2.1l0.4-0.3l0.5-1.3l0.5 0.7l0.9-1.6l1-3l0.4 1.2l0.4 2.4l0.4 0.7l0.5-0.6l0.5-1.4l0.9-1.6l0.4 0.8l0.9 0.9l1-3.8l0.9 0l0.8 3.8l0.4 0.7l1-1.6l0.4 0.7l0.4 2l1.3 2.8l0.4 2.1l0.4 0.9l0.9-1.5l2.5-10.8l0.4-0.8l0.5 1.9l0.4 0.8l1.5-9.7l0.5-0.4l0.4 1l0.8 3.5l0.5-3.3l0.5 0.1l0.4 1.1l0.4 2.3l0.4-0.2l0.4 0.6l0.6-4.4l0.5-0.7l0.4-1.2l0.5 0l0.4-0.6l0.8 4.2l0.4 0.1l0.6-5.1l0.5-1.5l0.7 5.9l0.4 0.9l0.5-2.3l0.4 2.2l0.5-1.1l0.4-0.4l0.5 0l0.8 1.5l0.4 0.3l0.5-0.6l0.7 4.8l0.4 1.2l0.5 0.2l0.4-0.1l1.3 2.3l0.4 0.4l0.4 0.2l0.9-0.2l0.4-0.5l0.5-0.2l0.4 0.2l0.9-1.1l0.4-0.2l0.5 0.5l0.4-0.1l0.9-1.5l0.9 0.2l0.4-0.8l0.4 0l0.5-0.3l0.5-1.3l0.4-0.4l0.4 0.9l0.4 0.2l0.5-0.7l1.3 0.3l0.4 0.5l0.9-1.5l0.4 0.5l0.9-0.7l0.4-0.1l0.9-0.6l0.4-0.8l0.5 0.1l0.4 0.8l0.4 0.1l1.3-1.3l1.3-0.1l0.4-0.6l0.5-0.2l0.4 0.4l1.3-1.1l0.8 0.5l1.8-1.9l0.8 1.2l0.5-0.9l0.4-0.1l0.4 0.5l0.9-1.4l0.8 0.2l0.4 0.7l0.5-0.3l0.4-0.9l0.4 0.1l0.5-0.8l1.3-0.7l0.4 0l0.8-0.3l0.9 0.6l0.8-0.3l0.4 0.1l0.5-0.7l0.4 0l0.4 0.5l0.9-2.1l0.4 0.2l0.4 0.7l1.7-0.9l0.4 0.6l0.9-1.8l0.4 0.7l0.5-0.4l0.4 0.1l0.4-0.7l0.4-0.3l1.2 1.2l0.5-1l0.8-0.4l0.5-0.5l0.4 0.3l0.4-0.2l0.4-0.6l0.9-0.1l0.8-1.1l0.8 0.8l1.3-1.5l0.9-0.3l0.4-0.5l0.8 0.8l1.3-1.6l0.4-0.2l0.4 0.4l0.4-0.1l0.5-0.6l0.4 0.1l0.4 0.4l0.4-0.3l0.4-0.7l0.9 0.1l0.4-0.9l1.2-0.6l0.5-0.7l0.8-0.1l0.4 0.1l0.4-0.3l0.5-0.9l0.7 1.2l0.5-0.8l0.4-1.3l1.3 0l0.4-0.2l0.4-1.3l0.4-0.6l0.5 0.2l0.4-0.1l0.4 0.5l0.4 0l0.8-1.1l0.4-0.3l0.5-0.8l0.4 0l0.4 0.3l0.4-0.5l1.6-0.5l0.9-2l0.4 0.4l0.4 0l0.4-0.4l0.9-1.8l0.4 0l0.8-1.2l0.4-0.1l0.9-1.4l0.4-0.2l0.4 0.2l0.4-0.4l0.4-1l0.4-0.1l0.5-0.6l0.4-0.2l0.4 0l0.4-1.3l0.4 0.1l0.4-0.4l0.5-1.4l0.4-0.3l0.4 0.3l0.4-0.4l0.8-1.3l0.9-2.1l0.4-0.2l0.4 0.3l0.4-0.1l0.7 1.5l0.5-0.6l0.3 0.8l0.8-0.3l0.4 0.7l0.4 0.3l0.4 1.2l0.8 0.4l0.4 0.5l0.4-0.4l0.7 1.9l0.4-0.7l0.4 0.4l0.4 1.3l0.4 0.3l0.4-0.4l0.8 0.6l0.4-0.4l1.1 2.3l0.4 0l0.4-0.9l0.4 0.8l0.4 0.2l0.4-0.6l0.4 0.3l1.1 2.5l0.4-0.9l0.4-0.4l0.4 0.5l0.4-0.1l1.9 2.7l0.4 0l0.4-0.6l0.8 1l0.8-0.6l0.8 1.5l1.2-0.3l0.3 0.9l0.4-0.1l0.4-0.8l0.8-0.1l0.4-0.3l0.4 0l0.8 0.8l0.4 0.1l0.4-0.4l0.8-0.3l0.4-1.1l0.4 0.5l0.3 1l0.4-0.6l0.5-1.3l0.7 0.2l0.4-0.4l0.4 0.5l0.4-0.2l0.4-0.9l0.4 0l0.4-0.4l0.4 0l0.4 0.5l0.8-0.5l0.4 0.5l0.4-0.4l0.4-0.7l0.3 0.6l0.4 0l0.4-0.5l0.4 0.5l0.4-0.2l0.4-1.3l0.4-0.6l0.4 0.5l0.4 1l0.4-1l0.4-0.4l0.4 0.5l0.7 0.1l0.4 0.3l0.4-0.5l0.4-1.2l0.8 0.6l0.4-0.5"/>
<path class="n" d="M155.3 462.4L380.5 392.4L380.5 390.4L155.4 459.0z"/>
<path d="M155.4 459.3l0.4-0.5l0.5 1l0.5 0.5l0.5-1l1.4-0.2l1-0.5l0.9-0.2l0.5 0.1l0.5-1.3l0.5-0.7l0.4 0.8l0.5 0.5l0.5-0.5l0.5 0.2l0.4 0l1-1.5l0.9 1.2l0.5-1l0.5-0.5l1.4 0.4l1-2.2l0.4 0.2l0.5 0.7l1-0.5l0.4 0.2l1-0.1l0.9-1.4l1.4 0.1l0.5-0.4l0.5 0.8l0.4 0.1l1-0.6l0.5-0.9l0.4 0.2l0.5 0.4l0.5-0.5l0.5-0.9l0.4-0.2l0.9 0.9l0.5-0.3l0.5-0.9l0.5 0.7l0.4 0.1l0.5-1.2l0.9 0.2l0.5-1l0.9 0l0.5-0.4l0.5 0l0.5-0.2l0.4 0.2l0.5-0.7l0.4 0.1l0.5-0.1l0.5-1l0.4 0.8l0.5 0.3l0.5-1.1l0.4 0.1l1-0.2l0.9-1.2l0.5 0.5l0.4 0.2l1.9-1.8l0.9 1.2l0.5-0.4l0.9-2.4l1-0.3l0.4 1.3l0.5-0.6l0.4-0.2l0.5 0.2l0.9-1.2l0.5 0.3l1.4-0.9l0.5-1.2l0.9-1.1l0.4 0.6l1-2.9l0.5 0l0.5-1.3l0.4 0.3l0.5-1.2l0.5-0.5l0.4-1.7l0.5-0.1l0.5-1.6l0.4 1.2l0.5-1.3l0.4 2l0.5 0.9l0.4-1l1-4.6l0.5-0.4l0.4 1.6l0.4 3l0.5-2.7l1-3.2l0.5 0l0.4 0.6l0.5-0.3l0.4 1.7l0.4-0.8l0.5-1.7l0.5 0.4l0.4 0.7l0.4 2.6l0.5-0.5l0.9-0.5l0.4 0.9l0.5 0.3l0.7 5.5l0.9 1.4l0.4 0.2l1-1.9l1-6.7l0.5-0.7l1.5-5.4l0.4 0.6l0.4 2l0.4 0.5l1.1-5l0.5-1l0.4 0.2l0.4 0.8l0.4 1.9l0.6-3.3l0.4-1l0.5-0.2l0.7 4.3l0.5-0.6l0.6-3.7l0.4-0.7l0.5-0.2l0.8 2l0.4 2l0.5-1.7l0.5-1l0.5-3.1l0.4 0.8l0.5-1l0.3 2.9l0.5 0.2l0.3 3.1l0.5 0.4l0.4-1.3l0.8 2.7l0.5 0.6l0.8 0l0.5 0.5l0.4 0.9l0.8 0.8l0.5 0.6l0.4 1l0.4 0.4l0.4 0.6l0.9-1.1l0.9 0.4l0.9-1.2l0.4 0l0.5 0.6l0.9-2.1l0.4-0.1l0.5 0.3l0.4-0.3l0.4 0.1l0.5-0.4l0.4-0.8l0.5 0.2l0.4-0.1l0.5-0.9l0.8 0.3l0.5 0l0.4-0.3l0.5-1.2l0.9 0.1l0.4-0.4l0.9-0.3l0.9-0.9l0.4 0.1l0.9-0.8l0.4 0.3l0.5-0.4l0.4-0.1l0.4 0.7l0.4 0.1l1-1.9l0.8 0.6l0.9 0.1l1.3-1.8l0.4 0.1l0.5 0.7l0.8-0.1l0.5-1.2l0.4-0.2l0.4 0.7l0.5-0.7l0.4 0l0.9-0.8l0.4 0.5l0.4-0.1l0.9 0.4l0.4-1.4l0.5 0l0.4 0.4l0.4-0.5l0.5-0.1l0.4-0.5l0.4 0.3l0.9-0.1l0.4 0.3l0.5-1.1l0.4-0.1l0.4 0.2l0.5-0.9l0.4-0.4l0.4 0.1l0.4 0.8l0.4 0.4l0.5-0.7l0.4 0l0.5-1l0.4-0.4l0.4 0.5l0.8 0.5l0.9-1.2l0.4 0.2l0.5-0.7l0.4-0.2l0.4 0.3l0.5-0.6l0.4-1.2l0.8 0.6l0.5-0.2l0.4 0.3l0.8-0.5l0.9-0.8l0.4 0.2l0.9-0.8l0.8-0.1l1.3 0.6l0.9-2.2l0.8 0.6l0.9-0.8l0.4 0.4l0.4 0.1l0.9-1.6l0.4 0l0.4 0.7l0.4-0.3l0.5-0.7l0.4 0.2l0.4-0.2l0.4-1.1l0.4 0.6l0.5 0.1l0.4-0.7l0.4 0l0.5-1.1l0.4-0.3l0.4 0l0.4 0.2l0.4 0.7l0.9-0.9l0.4 0.5l0.8-1l1.3-0.6l0.9-1.5l0.4 0.5l0.4 0.1l0.4-1l0.8-0.2l0.5-0.8l0.8-0.2l0.8 0.5l1.3-0.8l0.8-1.3l0.9 0.4l0.4-0.6l0.4 0.1l0.4-0.3l0.9-1.8l0.8 1.2l0.9-2.2l0.8-0.3l0.4-0.5l0.4 0.4l0.8-0.8l0.4 0.3l0.9-1.4l0.4-0.2l0.5-0.7l0.4-0.3l1.2-0.2l0.9-1.7l1.2-1.2l1.2-0.1l0.5-0.7l0.8 0.4l0.4-1.9l0.5-0.8l0.4 0.1l0.4-0.5l0.8 0.1l0.8-1.3l0.8 2.1l0.4 0.1l0.3 0.7l0.4 0.3l0.5-0.6l0.7 0.7l0.8 0.3l0.4-0.1l0.4 0.7l0.4 0.3l0.8 0.1l0.8 1.2l0.4-0.2l0.8 0.7l0.4 0l0.8 0.9l0.4-0.2l0.7 1.6l0.8-0.9l0.8 0.9l0.4 0.2l0.4-0.4l0.8 0.7l0.4 0.1l0.4 0.4l0.8 0.3l0.3 0.7l0.4 0.2l0.4-0.3l0.8 1.2l0.8 0.3l0.4-0.2l0.8 0.4l1.1 1.4l0.4 0.2l0.4-0.4l0.8 0.9l0.4 0l0.8-0.7l0.4 0.1l0.8-0.7l0.4-0.2l0.4 0l0.8 0.7l0.4-0.5l0.8 0l0.4 0.5l0.4-0.1l0.4-1l0.8 0.5l0.4-0.7l0.4 0l0.8-1.1l0.4 0l0.4-0.2l0.8 0.2l0.3 0.3l0.9-1.2l0.3 0.5l0.4 0l0.5-1.8l0.4-0.3l0.3 1.1l1.6-0.5l0.4 0.7l0.4 0.1l0.4-0.7l0.8-0.7l0.4 0l0.4 0.2l0.8-1.1l0.4 0l0.3 0.9l0.4 0.4l0.4-1l0.4-0.1l0.8 0.4"/>
<path class="n" d="M165.9 472.3L393.0 400.4L393.1 397.6L165.9 469.7z"/>
<path d="M165.9 470l0.5-0.4l0.5 0.1l0.5 0.5l0.4-0.5l1-1.5l1 0.4l1.4-1.3l1 0.4l1-1.8l0.9 1.4l0.5-0.6l1-0.1l0.9-1l1 0.8l1-1.8l0.4 0.3l0.5 0.9l1-0.9l0.9 1l0.5-0.5l0.5-1.6l0.9 0.8l0.5-0.8l0.5 0.2l1.4-0.4l0.5-0.4l0.5 0.1l0.5-0.9l0.9 0.9l0.5-1l0.5-0.2l0.4-0.4l1-0.1l0.5-0.4l0.9-0.2l0.5-0.5l0.5 0.7l0.4-0.3l0.5-1.1l1 0.4l1.4-1l0.4 0.6l0.5-0.2l0.5-0.5l0.5 0.2l0.9-1.6l0.5 0.2l0.4 1.2l1 0.4l0.4-0.3l1-2.4l0.5-0.2l0.4 0.6l1-0.7l0.4 0.8l1-0.3l1-2.7l0.4-0.5l0.5 1l0.5-0.1l0.4-0.5l0.5 0l0.5 0.4l0.4-0.2l1-1.5l0.5-0.3l0.9 0l1.4-1.6l0.5-0.1l0.9 1.7l0.4-0.3l1-1.9l0.5-0.3l0.9-1.3l0.5 0.6l1.9-4.8l0.5 0.3l0.4 0.5l0.5-0.4l0.5-1.6l0.6-4.9l0.5-1.4l0.4 0.3l1.2 6.3l0.5-1.3l0.6-2.8l0.5-1.1l0.5-3.1l0.4 2l0.5 0.3l1.4-2.3l0.4 1.1l0.4 1.7l0.5-0.9l0.4 0.6l0.5-0.7l0.4 1.5l0.9 1l0.4 1.1l0.5 0l0.5-1.5l0.4-0.2l0.4 1.8l0.8 6.3l0.9-0.4l0.4-1l1.1-4.7l0.5-1.3l0.4-0.1l1.1-3.8l0.4-0.8l1-3.1l0.5 0.9l0.5-2l0.9-2l0.5 0l0.5-0.9l0.4 1.2l0.7 4.3l0.6-2l0.6-4.7l0.5-1.9l0.3 4.2l0.4 1.8l0.4 0.2l1.1-6.5l0.4 0.8l0.4 2.5l0.4 1.5l0.5-2.5l0.5 0.6l0.6-4.5l0.4 1.5l0.5-3l0.3 4.1l0.4 0.7l0.4 1.6l0.9 0.7l0.5-0.6l0.7 3.4l0.5-0.2l0.4 1.4l0.4 0.1l0.4 2.7l1.2 1.5l0.5 0.7l0.4 0.2l0.9-0.5l0.4 0.5l0.4 0.2l0.9-0.4l1.4-1.4l0.5-0.1l0.4-0.5l0.9 0.4l0.9-1.9l0.5-0.3l0.4 0.6l0.4-0.4l0.5-0.8l0.9 0l0.9-1.2l0.5-0.1l1.2 0.5l1-1.3l0.4 0.1l0.9-1l0.9 0.1l0.4-0.8l0.5-0.3l0.4 0.6l0.4-0.1l0.5-0.4l0.9-0.3l0.9-0.6l0.4 0.5l1.3-0.4l0.4 0.1l0.5 0l1.3-1.7l0.9-0.6l0.4 0.2l0.4 0.4l1-1.1l0.3 0.9l0.5-0.1l0.9-1.6l0.4-0.3l0.5 0.3l1.3-0.5l0.4 0.4l0.4 0.8l0.9-2l0.4 0.7l0.4 0.3l1-1.6l0.4-0.2l0.4 0.1l0.4 0.7l0.9-1.6l0.5 0.2l0.8 1.2l0.4 0l0.9-2.5l0.8 2.1l0.5-0.7l0.5-1.5l0.8 0l0.4-0.6l0.9 0.2l1.3-0.8l0.4 0.6l0.4 0.1l0.9-1.6l0.4 1l0.4 0.2l0.5-0.6l0.8-0.5l0.9-1l0.5-0.3l0.4 0.1l0.4 0.6l0.4 0.4l0.9-2.4l0.4 0.2l0.4 0.7l0.5-0.6l0.4-1.1l0.5 0l0.4 0.6l0.4-0.5l0.8 0.2l0.5-0.6l0.4 0.4l0.4 0.1l1.3-1l0.9-1.2l0.4 0.6l0.4 0.2l0.9-1.7l0.4 0.4l0.4 0.8l0.4-0.6l0.5-1.2l0.4-0.2l0.4 0.4l0.9-1.2l0.4 0.4l0.8 0l0.4-0.1l0.5-0.6l0.8-0.5l0.4-0.1l0.9-1.2l0.4-0.2l0.5-0.6l0.8 0.9l0.4-0.4l0.4 0l0.5-0.8l0.4-0.4l1.6-0.2l0.5-0.6l0.4-1l0.4 0.4l0.4 0.1l0.9-1.7l0.4 0.1l0.4 0.5l0.5-0.7l0.4-1.4l0.4 0.1l0.4 0.7l0.9-1.1l0.4 0.1l0.9-1.6l0.4 0.4l0.8-0.5l0.9-1.2l0.8-0.1l0.8-1.1l0.5-0.2l0.4 0.4l0.4-0.1l0.4-1.3l0.4-0.4l0.9-0.6l0.4-0.1l0.4-0.9l0.8-0.2l0.9-0.8l0.8 0.2l0.4-0.3l0.4 0l0.4 0.9l0.4 0.1l0.4-0.3l0.4 0.6l0.8 0.1l0.8 1l0.8-0.5l0.4 0.2l0.8 1.3l0.4 0l0.8 0.7l0.4-0.6l0.8 0.6l0.4-0.5l0.4 0.5l0.3 1.1l0.4 0l0.4 0.6l0.4 0.2l0.4-0.3l0.4 0.2l0.4 0.3l0.4 0.6l0.4 0.2l0.8-1l0.8 1.3l0.4-0.1l0.8 0.7l0.4 0.7l0.4-0.3l0.8 0.7l0.4-0.1l0.8 0.1l0.7 1l0.4 0l0.4-0.4l0.4 0l0.4 0.1l0.8-0.3l0.8 1.2l0.8-0.2l0.4 0.2l0.4-0.5l0.4-0.3l0.4 0.2l0.4-0.4l0.8 0.2l0.4-0.8l0.4-0.3l0.4 0.2l0.4 0l0.4 0.4l0.4-0.8l0.4-0.3l0.4 0.4l0.4-0.3l0.4 0.3l2-0.3l0.8-1.4l0.5-0.3l0.3 0l0.4 0.9l0.8-1l0.4 0.2l0.4-0.1l0.8-0.7l0.4 0.8l0.4 0.1l0.4-1.2l0.4-0.4l0.4 0.6l1.6-2l0.4 0.2l0.4 0.6l0.8-0.6l0.8 0.1l0.8-0.5l0.4 0.4l0.4-0.4"/>
</g>
<line x1="401.8" y1="41.9" x2="393.0" y2="400.4" stroke="#6a6a6a" stroke-width="1.0"/>
<line x1="49.2" y1="362.3" x2="165.9" y2="472.3" stroke="#6a6a6a" stroke-width="1.0"/>
<line x1="165.9" y1="472.3" x2="393.0" y2="400.4" stroke="#6a6a6a" stroke-width="1.0"/>
<line x1="49.2" y1="362.3" x2="44.8" y2="363.4" stroke="#6a6a6a" stroke-width="1.0"/>
<line x1="66.0" y1="378.1" x2="61.4" y2="379.3" stroke="#6a6a6a" stroke-width="1.0"/>
<line x1="83.7" y1="394.8" x2="79.1" y2="396.1" stroke="#6a6a6a" stroke-width="1.0"/>
<line x1="102.4" y1="412.5" x2="97.7" y2="413.8" stroke="#6a6a6a" stroke-width="1.0"/>
<line x1="122.3" y1="431.2" x2="117.5" y2="432.6" stroke="#6a6a6a" stroke-width="1.0"/>
<line x1="143.4" y1="451.1" x2="138.5" y2="452.6" stroke="#6a6a6a" stroke-width="1.0"/>
<line x1="165.9" y1="472.3" x2="160.9" y2="473.9" stroke="#6a6a6a" stroke-width="1.0"/>
<line x1="206.8" y1="459.4" x2="209.7" y2="461.9" stroke="#6a6a6a" stroke-width="1.0"/>
<line x1="243.4" y1="447.8" x2="246.4" y2="450.2" stroke="#6a6a6a" stroke-width="1.0"/>
<line x1="278.9" y1="436.5" x2="282.0" y2="438.9" stroke="#6a6a6a" stroke-width="1.0"/>
<line x1="313.3" y1="425.6" x2="316.4" y2="427.9" stroke="#6a6a6a" stroke-width="1.0"/>
<line x1="346.6" y1="415.1" x2="349.8" y2="417.3" stroke="#6a6a6a" stroke-width="1.0"/>
<line x1="379.0" y1="404.8" x2="382.3" y2="407.0" stroke="#6a6a6a" stroke-width="1.0"/>
<line x1="165.9" y1="472.3" x2="168.7" y2="474.9" stroke="#6a6a6a" stroke-width="1.0"/>
<g transform="translate(0 0)">
<text x="37.4" y="371.1" text-anchor="end" class="t">0</text>
<text x="53.7" y="386.6" text-anchor="end" class="t">10</text>
<text x="69.9" y="403.3" text-anchor="end" class="t">20</text>
<text x="89.0" y="421.9" text-anchor="end" class="t">30</text>
<text x="108.8" y="441.0" text-anchor="end" class="t">40</text>
<text x="129.3" y="461.5" text-anchor="end" class="t">50</text>
<text x="152.6" y="482.7" text-anchor="end" class="t">60</text>
<text x="173.8" y="496.0" class="t">3100</text>
<text x="214.0" y="484.3" class="t">3000</text>
<text x="251.1" y="471.6" class="t">2900</text>
<text x="287.2" y="459.9" class="t">2800</text>
<text x="322.1" y="448.3" class="t">2700</text>
<text x="356.0" y="437.7" class="t">2600</text>
<text x="387.8" y="428.1" class="t">2500</text>
<text transform="translate(33.7 204.8) rotate(-90)" text-anchor="middle" class="b">Absorbance</text>
<text transform="translate(82.6 455.1) rotate(44)" text-anchor="middle" dy="8" class="b">Time (min)</text>
<text transform="translate(194.1 528.6) rotate(-15.2)" class="b" style="font-size:23.6px">Wavenumbers (cm<tspan dy="-21" dx="3" font-size="15">-1</tspan><tspan dy="13" dx="1">)</tspan></text>
</g>
</g>
<g transform="translate(844.9 540.5) scale(0.9865 0.991)">
<line x1="41.0" y1="26.7" x2="252.9" y2="7.6" stroke="#6a6a6a" stroke-width="1.0"/>
<line x1="252.9" y1="7.6" x2="401.8" y2="41.9" stroke="#6a6a6a" stroke-width="1.0"/>
<line x1="41.0" y1="26.7" x2="49.2" y2="362.3" stroke="#6a6a6a" stroke-width="1.0"/>
<line x1="252.9" y1="7.6" x2="252.2" y2="310.1" stroke="#6a6a6a" stroke-width="1.0"/>
<line x1="49.2" y1="362.3" x2="252.2" y2="310.1" stroke="#6a6a6a" stroke-width="1.0"/>
<line x1="252.2" y1="310.1" x2="393.0" y2="400.4" stroke="#6a6a6a" stroke-width="1.0"/>
<g class="s" fill="#ff0000">
<path class="n" d="M49.2 362.3L252.2 310.1L252.2 306.3L49.1 357.9z"/>
<path d="M49.1 358.2l0.9 0.5l0.4 1.7l0.4-2.7l0.5 1.6l0.4-1.8l0.4 2.3l0.4-1.8l0.5 1l0.4-0.2l0.4-1.3l0.5 2.8l0.3-3l0.5 0.5l0.4 1l0.4-1l0.5 0.4l0.4 0l0.8-2.3l0.9 3l0.4-0.8l0.4-0.4l0.4-1.1l0.5-0.3l0.4 1.2l1.3-2l0.4 0.9l0.4-1.5l0.4 0.9l0.4-1.4l0.9 1.1l0.8-0.8l0.9 0.7l0.4-1.1l0.4-0.1l0.4-0.8l0.5 0.7l0.4 0.1l0.4-0.1l0.4 0.7l0.4-0.8l0.5 1.1l0.4-0.6l0.8-1.9l0.9 1.8l0.8-1.4l0.4-1.7l0.4 1.1l0.4-0.8l0.5 2.5l0.4-1.5l0.4 1l0.4 0.3l0.4-0.8l0.4-1.9l0.5 2.8l0.4-2.9l0.4 3.2l0.4-1l0.4-2.3l0.5 0.8l0.8-0.7l0.4-1.2l0.4 2.9l0.4-0.8l0.4-2.3l0.5 0.6l0.4 0l0.8-1.9l0.4 2.3l0.4 0.1l0.4-1.4l0.5 1.6l0.4-1.8l0.4-0.9l0.4 0.3l0.4 2.1l0.4-2.7l0.4 0.2l0.5-0.8l0.4 1.3l0.8 0.3l0.4-1.3l0.4-0.1l0.4-1.3l0.4-0.2l0.5 0.8l0.4-1.1l0.4 0.1l0.4-0.7l0.4 1.1l0.4-2.7l0.4 0.8l0.4-2l0.4 0.8l0.4-0.7l0.4-1.4l0.5 0.5l0.4-1.9l0.4 1.6l0.4-4.1l0.4 0.4l0.4-1.7l0.4 0.4l0.4 0.1l0.4-1.6l0.4-0.2l0.4 0.2l0.4-4.3l0.5 1.7l0.4-1.2l0.8-4.3l0.4-0.1l0.4-0.4l0.4-2.7l0.4-0.4l0.4 1l0.4-3.9l0.4-0.5l0.8-4.6l0.4 0l0.5-2.4l0.4-1.1l0.4 0l0.4-0.6l0.4 0.7l0.4 1.5l0.8 5l0.4 1.2l1.7 7.1l0.4 3l0.4-0.1l0.8 2.4l0.8 4l0.4-1.2l0.4-0.2l0.4 1.1l0.9 1.2l0.4 1.4l0.4 0l0.4 0.4l0.4-0.9l0.4 0.3l0.4-0.9l0.4 1.1l0.4 0l0.4 1.5l0.4 0.4l0.4-1.8l0.4-0.4l0.4 0.4l0.4-2l0.4 4.6l0.4-2.1l0.4 0.7l0.4-1.4l0.4-0.3l0.4 1l0.4-2.3l0.4 0.7l0.4-1.8l0.8 1.5l0.4-0.4l0.8 1.5l0.4-2.7l0.4-0.3l0.4 0.7l0.4 1.2l0.4-2.3l0.4 1.5l0.4-2.4l0.4 1.2l0.4-1l0.4 0.8l0.4-2.7l0.4-0.6l0.4-0.3l0.8-1.1l0.4 2l0.4-2l0.4-1.1l0.4 1l0.8-1.3l0.4-1.6l0.4 0.4l0.8-1.3l0.4-1.8l0.4 1.2l0.4-1.6l0.4-0.1l0.4-0.7l0.4-1.9l0.4 0.7l0.4-2.6l0.4 0.8l0.8-3.1l0.8-1.1l1.7-8l0.4-0.9l0.8-3.1l0.8-6.3l0.4 0.4l0.4-3l0.4-6.3l0.4-0.1l2.2-26.2l1.8-28.4l1.4-29.3l1.4-36.7l2.6-75.7l0.9-16.4l0.4 0.7l0.4 4.7l0.3 9.1l2 95.6l1 28.1l1 22.8l1.3 21.6l0.4 2.1l1.8 16.6l0.4 1l0.4 2.2l0.3 1.1l0.4-0.2l0.4 0.3l0.4 1.6l0.4-0.9l0.4 0.8l0.3 1.4l0.4 0.6l0.8-1.6l1.2-3.9l0.4 0.1l0.4-2.4l0.4 0.5l0.4-2.8l0.8-3.5l1.2-9.8l0.4-1.4l0.5-6.8l0.8-7.8l0.9-11.6l1.8-33.3l2.4-54l2.1-56.4l0.9-14.2l0.7 6.5l0.3 6.8l1.8 93.3l1.4 49.4l1 20.7l0.3 3.2l0.3 8l0.4 2.9l0.3 6.2l0.3 2.2l0.3 6.3l1.1 4.7l0.4 4.6l0.3 1.4l0.4 3.4l0.4-0.3l0.7 3l0.7 4l0.4-0.8l0.7 2.8l0.7 1.4l0.4-1.4l0.4 2.1l0.4-1.3l0.3 1.6l0.4 0.3l0.4-0.6l0.3 1.7l0.8 1.1l0.7-0.5l0.4 0l0.4 1.9l1.1-1.9l0.4 1.4l0.3-1.4l0.8 2.8l0.4-2.4l0.3-0.1l0.4 0.5l0.4-1.1l0.3 3.8l0.8-3l0.7 0.1l0.4 1.4l0.4-1.6l0.4-0.2l0.3 1.1l0.4-0.1l0.4-1.6l0.7-0.6l0.4 1.5l0.4-1l0.3 1.8l0.4-0.2l0.4-1l0.3 1.9l0.4-0.3l0.4-1.2l0.3 0.3l0.4-0.4l0.4 0.3l0.3 1.1l0.4-2.4l0.7 4.4l0.4-2.8l0.4 1.5l0.4-1.2l0.3 2.4l0.4-2.7l0.3 2.8l0.4-2.5l0.4 0.6l0.4-0.1l0.3 1.8l0.8-1.6l0.3 1l0.8 0l0.3-0.4l0.4-1.4l0.4 1.6l0.7-0.4l0.4 1l0.3-2l0.8 0.1l0.3 0.9l0.4 1.8l0.4-0.9l0.3-2.1l0.4 0.7l0.4-0.3l0.3 1l0.4-0.5l0.3 1.2l0.4-1.2l0.4 0.1l0.3 0.7l0.4-0.8l0.4 1.9l0.3-0.1l0.4 1.2l0.4-2.3l0.3-0.9l0.4 0.2l0.4 0.8l0.3-1.8l0.4 0.7l0.4 0l0.3 0.2l0.4 2.4l0.4-3l0.3 0.6l0.4-0.7l0.3 0.6l0.4-0.1l0.4-0.1l0.7-1.4l0.4 1.3l0.3 0.6l0.4 0.1l0.7-1.9l0.4 2.8l0.3-1.6l0.4 0.3l0.4-0.5l0.3-1.2l0.4 0.7l0.3-1l0.4 0.1l0.4 0.6l0.3 0l0.4-0.8l0.3 0.2l0.4-0.8l0.4 0l0.3 0.8l0.4-0.1l0.3 2l0.8-1.1l0.3 0.3l0.4 1.2l0.4-2.5l0.3 1.2l0.4-2.3l0.3 0.2l0.4-0.4l0.4 0.1l0.3-0.1l0.4 0.2l0.3-0.3l0.4 0.1l0.3-0.2l0.4-0.5"/>
<path class="n" d="M56.8 369.5L261.5 316.1L261.5 313.5L56.8 366.3z"/>
<path d="M56.8 366.6l0.4 0.6l0.4-0.9l0.4 0l0.5 1.8l0.4-3.3l0.4 1.5l0.9-1.1l0.4 0.4l0.4-1.3l0.5 1.7l0.4-1.8l0.4 0.7l0.5-0.3l0.4 1.1l0.4-2.9l0.5 4.2l0.8-4l0.4 1.6l0.4-1.3l0.5 0.3l0.4 0.6l0.5 0.1l0.4-0.3l0.4-0.7l0.4 1l0.4-1.8l0.5 0.1l0.4-0.1l0.4-0.7l0.5 1.8l0.4 0.6l0.4-1l0.4-2.3l0.4-0.1l0.5 1.2l0.4-0.1l0.4 0.5l0.5 1l0.4-1.3l0.4 0l0.5 1.2l0.3-2.8l0.9 0.8l0.4 0.9l0.5 0.4l0.8-2.7l0.4 1.3l0.5-0.1l0.4-0.9l0.4 1.3l0.4 0.4l0.4-2.6l0.5 1.1l0.4-1.4l0.4 0.3l0.4 1.2l0.4-0.9l0.9 0.6l0.4-0.6l0.4-1.2l0.5 1.2l0.4-1.9l0.4 1.1l0.4-1.3l0.9 1.8l0.4-2.6l0.4 0.5l0.4 0.9l0.5 1.8l0.8-2.8l0.4-0.1l0.4-1.9l0.4 1l0.5 1.7l0.4-1.5l0.4 0.1l0.4-0.2l0.4 0.2l0.4-0.2l0.5 0.8l0.4-1.1l0.4-0.4l0.4 1.6l0.4-1.6l0.4 0.3l0.5 0.7l0.4-0.8l0.4 0.1l0.4-0.8l0.4-0.1l0.4-2.2l0.4 0l0.5-1.1l0.4 0.6l0.4-1.1l0.4 2.7l0.8-1.9l0.4-2.1l0.5-0.7l0.4-1.2l0.4 0.1l0.4 1.3l0.8-3.5l0.4 0.6l0.4-2.1l0.5-0.1l0.8-2.8l0.4 0.1l0.4-2.4l0.4-0.5l0.4 0l0.4-2.6l0.5 0.7l0.4-1.5l0.8-2.1l0.4-2.9l0.4 0.9l1.2-4.9l0.9-2.1l0.4-2l0.4-0.7l0.4-3.1l0.4-1.5l0.4 1.4l0.4-3.1l0.5 1.9l0.8 1.1l0.4 1.6l0.8 4.5l0.4 3.8l0.5 0.2l1.2 7.5l0.4-0.1l0.4 2.4l0.4-0.3l0.8 2.5l0.5 0.9l0.4 0.2l0.4 2.1l0.4-1.6l0.8 2.1l0.4-0.4l0.4 2.6l0.4-1.9l0.4 0.9l0.4-0.8l0.4 0.9l0.4-0.4l0.4 1.4l0.5-1.6l0.4 0.8l0.4-1.5l0.4 1.7l0.4-2.1l0.8 1.5l0.4-0.9l0.4-1.9l0.4 1.3l0.4 0.2l0.4 0l0.4 1.3l0.4-1.1l0.4 0.6l0.4-2l0.4 0l0.4 0.5l0.4-1.2l0.4 1.8l0.5-2.9l0.4 0.7l0.4-0.4l0.4-1.3l0.4 2l0.8-2.1l0.4 1.2l0.4-2.1l0.4 1.5l0.4-1.5l0.4 0l0.4-2.2l1.2-1.7l0.4 1l0.8-2l0.8-1.4l0.4-0.2l0.5-2.1l0.3 0.3l0.5-1.1l0.4 0l0.4-0.9l0.4-1.9l0.4-0.5l0.4-1.2l0.4 0.2l0.4-2.5l0.4-0.3l0.8-2.5l0.4 1.3l1.2-7l0.5-1.6l0.4-0.4l0.4-3.5l0.4-0.9l0.4-4.1l0.8-1.3l0.9-9.8l0.4-0.9l0.4-7.2l0.4-1.9l0.5-7.3l0.4-3.9l1.8-27.8l1.9-40.5l1-24.7l4.3-126.1l0.4-6.4l0.4-0.9l0.4 5.3l0.3 11.4l1.6 93.1l0.9 37.1l0.9 30.6l0.7 14.8l0.3 3.3l1 19.3l1.1 10.1l0.4 0.7l0.7 6l0.4 0.8l1.2 4.7l0.4-1l0.3 2.3l0.4-1.1l0.4-0.2l0.8 1.8l0.4-2.5l0.4-0.8l0.4 1.8l0.8-5l0.8-1.5l0.4-3.6l1.2-7l2.2-21.6l1.3-19.4l0.5-10.8l0.5-5.9l1.4-31.8l4.3-119l0.9-15.7l0.4-1.3l0.6 14.5l0.3 13.4l1.1 82.6l0.7 39.1l0.9 31.6l0.9 25.4l1.6 26.5l1.4 16.9l0.3 0.9l0.8 3.4l0.3 3.2l0.4 1l0.7 6.1l0.4-1.3l0.3 2.1l0.4-0.5l0.4 0.5l0.3 2.5l0.4 0.8l0.8 0.3l0.3 1l0.4-0.6l0.4 0.7l0.3 1.9l0.4 0.5l0.4-1.4l0.7 2.6l0.4-2l0.4 1.6l0.4-0.8l0.7-0.1l0.4 0.6l0.4-0.4l0.3 1.6l0.8-1.6l0.4-0.1l0.4-1.2l0.3 1.8l0.4-0.4l0.7 0.8l0.8-0.6l0.4 0.5l0.3-0.1l0.8-2.4l0.4 2.4l0.3-0.4l0.8-1.9l0.8-0.9l0.3 1.6l0.4-0.4l0.4 0.8l0.3-0.4l0.4 0.1l0.4-0.5l0.3 2.4l0.4-1.9l0.4-0.1l0.3 2.7l0.4-3.1l0.8 1.4l0.4-0.3l0.7 1.7l0.3 1.6l0.4-2.3l0.4 0.7l0.7-0.2l0.4 1.1l0.4-0.8l0.7 0.4l0.8-0.7l0.7 4.8l0.4-2.5l0.3-1.1l0.4 0.9l0.4-1.1l0.7 2l0.4 0.4l0.3-0.1l0.4-1l1.1-0.6l0.4 2.1l0.3 0.1l0.4-2.4l0.4 2.9l0.3-0.2l0.8-1.5l0.7 1.6l0.4 0.1l0.4-2.2l0.3 1.2l0.4-0.7l0.4 1.5l0.3-1.7l0.4 0.3l0.4-0.4l0.3 0.9l0.4-0.4l0.4 0.9l0.7-2.1l0.4 1.3l0.3-2.2l0.4 1.9l0.7 1.5l0.4-3.1l0.4 0.9l0.3 0.4l0.4-0.2l0.4-0.5l0.3 1l0.4-0.9l0.4 0l0.3 2.2l0.4-2.7l0.7 1.9l0.7-2.2l0.4 2.1l0.4-2l0.3-1l0.8 1.3l0.3-0.2l0.8-0.9l0.7 0.9l0.3-0.1l0.4-1.9l0.4 2.5l0.3-1.8l0.4 0.2l0.3 3.1l1.1-3.9l0.4 0.6l0.4-0.8l0.3 0l0.4 1.2l0.4-0.8l0.3 0.2l0.4 1.6l0.3-1.1"/>
<path class="n" d="M64.6 376.9L258.3 325.6L258.3 325.3L64.6 373.5z"/>
<path d="M64.6 373.8l0.4 1.3l0.5-0.6l0.3-3.3l1 3.4l0.4-1.9l0.4 0.5l0.4-0.4l0.5 0.7l0.4-1.3l0.4 0l0.5 1.1l0.4-2l0.9 2.6l0.4-1.5l0.4 0l0.5-1.3l0.4-0.3l0.9 1.7l0.4-0.6l0.4-0.9l0.5-0.2l0.8-1.4l0.5 3.7l0.4-3.4l0.4 0.4l0.4-0.9l0.5 0.2l0.4 1l0.4-0.5l0.5 0l0.4 1.2l0.4-1.7l0.5 1.6l0.4-0.4l0.4-1.1l0.5 1l0.4-2.1l0.4-0.2l0.4 1l0.4-0.8l0.5 1.8l0.4-0.2l0.4-2l0.5-0.4l0.4 0.7l0.4-0.4l0.4 0.3l0.5 1.7l0.4-2.5l0.4-0.2l0.4-1.5l0.5 0.7l0.4 3.6l0.4-3.7l0.9-0.2l0.4 2.5l0.8-3.6l0.5 0.7l0.4 2l0.4-0.3l0.5 0.3l0.4-0.7l0.4-2.1l0.4 1l0.5-0.5l0.4-1.1l0.4 0.7l0.4-0.6l0.5 1.6l0.4-1.7l0.4 0.1l0.4-0.4l0.5 3.1l0.4-0.6l0.4-1.8l0.4-0.4l0.4 0.7l0.5-1l0.4 1.1l0.8-1.8l0.9-0.3l0.4-0.4l0.8 0.2l0.4-0.7l0.5 1l0.4-2.1l0.4 2.6l0.4-2.8l0.4 1.2l0.5 0.2l0.4-1.9l1.2-1.6l0.5-0.1l0.4 2.3l0.4-3l0.4 0l0.8-1.3l0.5 1.3l0.8-3.6l0.4 0.9l0.4-1.3l0.9-1.8l0.4-0.1l0.4-1l0.4 0.4l0.4-1.9l1.3-2.4l0.4 2.3l0.4-3.8l0.4-1.6l0.9 0.4l0.4-2.8l0.4 0l0.4-2.6l0.4 0.1l0.4 0.6l0.4-3l0.5 1.1l0.4-3l0.4-1.4l0.4-2.5l0.4 1.1l0.9 0.3l0.4-0.1l0.4 1.5l0.4 4.1l0.4-0.9l0.4 3.2l0.9 2l0.8 3.3l0.4-0.8l0.4 1.8l0.4-0.5l0.5 1.9l0.4 0l0.8 2l0.4-1l0.4 0.5l0.4 1.5l0.8 0.6l0.5 1.7l0.4-2.2l0.4 0.2l0.4 1.6l0.4-0.7l0.4 1.7l0.4-2.5l0.4-0.1l0.4 1.4l0.4-1.4l0.5 0.8l1.2-2.1l0.4 1.5l0.8 1.8l0.4-1.1l0.4 0.1l0.4-2.7l0.4 0.8l0.5-0.6l0.4 0.6l0.4-0.7l0.4 0.5l0.4-1.2l0.4 0.6l0.4 1.9l0.4-2.8l0.4-0.5l0.4 1.1l0.4-2.1l0.4-0.9l0.8 2.2l0.5-2.8l0.8 2.5l0.4-3.4l0.8 0.4l0.4-2.1l0.4-1l0.4 0.7l0.4 1.6l0.4-2.8l0.4-0.2l0.4-1.1l0.5-0.1l0.4-1.5l0.4 0.3l0.4-0.6l0.4-0.2l0.4-0.9l0.4-1.9l0.4 1.7l0.4-0.6l0.4-3.1l0.4 1l0.8-2.3l0.4 1.2l0.5-3.4l0.4-1.7l0.4 0.1l0.4-0.7l0.4-3.2l0.4 0.8l0.4-3.5l0.9-1.7l2.1-13.3l0.4-0.1l0.4-6.6l0.4-2.7l1.4-15.4l1.8-23.2l2.9-61.8l2.6-66.1l1-16.3l0.4 1l0.7 11.2l1.4 63.7l1.5 48.6l0.7 14.5l0.4 3.6l1 17.3l1.1 10.2l0.4 1.6l1.1 8.4l0.7 1.3l0.8 2.7l0.4-0.1l0.4 0.5l0.4-0.2l0.4 0.2l0.3 1.1l0.4-1.1l0.4 0l0.4 1.7l0.4-2.8l0.4-1.5l0.8 0.6l0.4-3.2l0.4 0.3l0.4-3.4l0.4-0.8l0.5-3l0.4-0.9l1.3-12.1l0.4-2.5l1.7-20.1l1.9-30.9l2.5-53.9l2.2-52.6l0.4-8l0.5-4.5l0.3 0.2l0.7 10.8l2 100.6l1.2 34.5l0.9 19.8l0.7 12.6l1.4 12.1l0.7 7.7l0.3 2.5l0.4 1.3l0.4 0.6l0.3 5.1l0.4-0.8l0.3 4.7l0.4-1.1l0.4 1.6l0.4-1.5l0.3 1.4l0.4 0.4l1.1 3.9l0.4-0.8l0.4 1l0.4-1.1l1.1 1.4l0.8-0.2l0.3-0.7l0.4 0.7l0.4 0.1l0.4 1.4l0.3 0.1l0.4-1.3l0.4 1.7l0.4-1.6l0.4 0.5l0.3-0.3l0.4-1l0.4 0.4l0.4-0.4l0.7 0.1l0.8-1.4l0.4 1.3l0.4-0.8l0.3-0.3l0.4 0.1l0.4-0.7l0.4 1.4l0.4-1l0.3 0.5l0.4-3l0.8 2.6l0.4-2.2l0.3 0.6l0.8-2.3l0.7 1.9l0.4-0.8l0.4 1.1l0.4 0.1l0.3 1.4l0.4-1.5l0.4 2.4l0.4-2.4l0.3 2.3l0.4 0l0.4-1.8l0.3 0.2l0.4 2.9l0.4-0.3l0.4-1l0.3 0.3l0.4-0.1l0.4 1.2l0.3-0.4l0.4-0.1l0.4 1.2l0.3 0l0.4 0.6l0.4-0.3l0.4 0.3l0.3 0.9l0.4-0.7l0.4 0.4l1.1 0l0.3 2.2l0.4-2l0.4 2.2l0.7-1.6l0.4 1.7l0.4-1.9l0.4 1l0.3 0.3l0.4-0.3l0.4-0.8l0.3 1l0.4-0.5l0.4 0.3l0.3 0l0.4-1l0.4 0.1l0.7 2.2l0.4-0.7l0.7-0.1l1.2-1l0.3 1.7l0.4-0.7l0.3 1.1l0.4-0.8l0.4 0l0.4-0.7l0.3-0.3l0.8 1.2l0.3 0.2l0.4-0.1l0.4 1l0.3-2.7l0.4-0.1l0.4 4.5"/>
<path d="M258.3 325.6l0.3-2.2l0.4-2.5l0.4 0.6l0.3 0l0.4-0.9l0.4 0.6l0.4-0.2l0.3 0.1l0.4-0.7l0.3 2l0.4-3l0.4 3l0.3 1l0.4-0.4l0.4-2.3l0.4 0.1l0.7 2.6l0.3-2.2l0.4-1.1l0.4 0.8l0.3-1.1l0.4 2.3l0.4-2.5l0.3 1.7l0.4-2.5l0.4 2.6l0.3-2.1l0.4-0.6l0.7 1.7l0.4 2.1"/>
<path class="n" d="M270.0 322.5L271.1 322.2L271.1 319.3L270.0 322.2z"/>
<path d="M270 322.5l0.4-2.9l0.3 0.3l0.4-0.3"/>
<path class="n" d="M72.7 384.4L274.9 330.1L274.9 329.8L72.6 381.3z"/>
<path d="M72.6 381.6l0.5 1.7l0.4-2.3l0.4 0.1l0.5 0.7l0.4-1.2l0.4 1l0.4-1.3l0.5-0.3l0.4 0.5l0.5 0.1l0.4-0.9l0.9-0.4l0.4 0l0.5 1.4l0.4-1.7l0.4 0.5l0.5-0.4l0.4 1.1l0.5 0l0.4-1.8l0.4 2l0.4-2.5l0.5 2l0.4-1.4l0.4-0.3l0.5 1.1l0.4-1.6l0.5 0.8l0.4-0.3l0.4 0.4l0.4-2.3l0.5 2.2l0.4-1.5l0.5 0.7l0.4-0.5l0.4-1.1l0.4 0.2l0.5-0.4l0.4 0.6l0.5 1.4l0.4-1l0.5 1.7l0.3-2.8l0.5-0.3l0.4 0.2l0.5 1.2l0.4-2.4l0.4 1.7l0.4-1.2l0.5 1l0.4 0.1l0.4-1.7l0.5 2.4l0.4-1.7l0.4 0.8l0.4-1.8l0.5 3.2l0.4-1.9l0.5 1.3l0.4-3.4l0.4 0.1l0.4 1l0.5-1.7l0.4 0.7l0.4 2.6l0.4-3.4l0.5 0.9l0.4-0.7l0.4 0.5l0.5-0.2l0.4 1.1l0.4-1.8l0.5 1.4l0.4-1.8l0.4 0.2l0.4 0.9l0.5-0.6l0.4-0.1l0.4-0.6l0.9 0l0.4-2.1l0.4 2l0.4 0.3l0.5-0.9l0.4 1.6l0.8-1.9l0.5 0l0.4-1.3l0.4 0.9l0.4-0.7l0.5 0.2l0.4-0.2l0.4 0.2l0.4-1.7l0.5 2.3l0.4-2.1l0.4-1.2l0.4 2.5l0.4-2.6l0.5 0.4l0.4 1.3l0.8-3.8l0.5 0.2l0.4 0.8l0.4-1.1l0.9 1.8l0.4-2.9l0.4 1.3l0.4-0.3l0.9-2.4l0.4 1.9l0.4 0.1l0.4-2.7l0.4 0l0.5-0.7l0.4-1.8l0.4 1.5l0.4 0.1l0.4-1.6l0.5 0.2l0.4 2.8l0.4-3.5l0.4-1.3l0.4-2.2l0.5 0.8l0.4-2l0.8 2.1l0.4-2.9l0.5-0.6l0.4-1.2l0.4-0.5l0.4-1.1l0.4 0.8l0.5-0.9l0.4 1.1l0.4-2.1l0.4 0l0.4 0.7l0.5 0.3l0.4 0.6l0.4 2.6l0.8-1.2l0.4 1l0.5 3.1l0.4-0.9l0.4 0l0.8 1.7l0.4-0.4l0.4 1.6l0.5-2.2l0.4 0.4l0.4-3.2l0.4 3.4l0.4 0.4l0.4-0.5l0.4 3l0.9-4.7l0.8 2.3l0.8-1.8l0.9 2.8l0.8-3.7l0.4 0.8l0.4 0.1l0.4 0.6l0.4-0.2l0.4 1.1l0.5-2.3l0.4-0.5l0.4 1.7l0.8-0.2l0.4 0.6l0.4 0.2l0.4 1.6l0.4-1l0.9-5.1l0.4-1.3l0.4 4l0.4-0.6l0.4 2.5l0.4-1.1l0.4-3.3l0.4 2.9l0.4 0.6l0.5-1.1l0.4-0.2l0.4 1.3l0.4-1.8l0.4 0.1l0.4 0.5l0.4-3.6l0.4-0.3l0.4 0.7l0.9-3.1l0.4 4.6l0.4-1l0.4-2.2l1.2-0.8l0.4-0.8l1.2 2.2l0.4-0.8l0.5-3.6l0.4 0.1l0.4 1.4l0.4-1.2l0.4 1.2l0.4-3.3l0.8 0.7l0.5-2.9l0.4-0.7l0.3 2.4l0.5-2.5l0.4-0.1l0.4 1.8l0.4-3.2l0.4 1.3l0.8-4.9l0.4-0.8l0.5 0l0.4-3.2l0.8-3l2.6-16.3l0.4-6.2l1.4-11.5l0.4-7.3l1.9-21.1l0.4-4.7l0.4-1.4l0.4 2.1l0.4-0.8l0.4 3.5l1.1 13.6l0.3 7.9l0.4 2.1l0.6 12.1l0.4 1.6l1.1 8.7l1.5 9l0.4 3.8l0.4-0.4l0.7 5.8l0.4-2.5l0.4-0.5l0.4 1.2l0.4 0.3l0.8 4.1l0.4-2.9l0.3 4.3l0.5-4.7l0.3 2l0.4 0.3l0.4 2.1l0.4-2.7l0.8 1.6l0.4-1.2l0.4 0l0.4-1.7l0.4 0.2l0.4-0.8l0.4-2.1l0.4 0.4l0.4-0.9l0.4 0.3l0.4-1l0.5-3l0.3 0.7l0.5-3.3l0.8-1.2l0.4-2.4l0.4-1.2l1.3-8.6l0.8-7.5l0.9-4.9l1.3-13.5l2.3-26.6l0.8-4.2l0.4 1.3l0.4-0.7l0.3 5.5l0.7 6.2l1.3 23.3l0.3 2.4l0.4 4.8l0.3 2.6l0.3 6.6l1.8 12.3l0.4 4.6l0.4-0.6l0.3 1.2l1.1 6.7l0.4-0.8l0.4 1.5l0.4 0.3l0.3 1.6l0.4-0.3l0.4 0.3l0.4 1l0.3 3.4l0.4-3.4l0.4 3l0.4-1.2l0.4 0.8l0.3 0.1l0.4-1l0.4 0.8l0.4 0l0.4-1.7l0.4-0.1l0.4 0.6l0.4-1.3l0.4-0.4l0.3 1.8l0.4 0.4l0.4-0.4l0.4-1l0.7-0.5l0.4 1.3l0.4 0l0.8-2.5l0.4 0l0.4-1.1l0.7-0.1l0.4-1.5l0.4 0.3l0.4-0.2l0.4 0.8l0.4-1.3l0.3 0.1l0.4 0.8l0.4-3l0.4 0.7l0.4 0.1l0.4-2l0.3 0.3l0.4-1.1l0.8 0.2l0.4-0.3l0.3 2.1l0.4-2.2l0.8-1l0.4 2.7l0.4-2.4l0.3 0.2l0.4-0.6l0.8 0.9l0.3 0.8l0.4-0.2l0.4-0.9l0.4-0.3l0.4 0.9l0.3 0l0.4 1.1l0.4 0l0.7 0.9l0.4-0.6l0.4 1.1l0.3 0.1l0.4-0.8l0.8 2.4l0.3-0.2l0.4 0l0.4 0.6l0.7 0.2l0.4-0.5l0.4 1.1l0.4-0.3l0.3 0.3l0.4 0l0.4-0.8l0.3 3.5l0.4 0.2l0.4-2.2l0.3 2.1l0.4-1.6l1.2 0.6l0.3 1.3l0.4 0.1l0.4-1.1l0.3-0.2l0.4 1.6l0.4-0.7l0.4-0.1l0.3 1.6l0.4-0.9l0.4-0.2l0.3 0.4l0.4-1l0.4-0.5l0.4 0.8l0.3 1.9l0.4-1.6l0.4 1.3l0.4-1.5l0.3-0.9l0.4 1.3l0.4 2.5l0.3-2.7l0.4 2l0.4-0.5l0.4-2.9l0.3 2.3l0.4-1l0.4 0.7l0.3 0.2l0.4-1.9l0.4 1.1l0.4-0.8l0.3 1.6l0.4 0.2l0.4-2.6l0.3 1.3l0.4-1.6l0.4 2.2l0.4-1.8l0.3 2.9l0.4-2.2l0.4-0.6l0.3 2.8l0.4-1.6l0.4 0.6l0.3-0.5l0.4-2.3l0.4 1.4l0.3 0.2l0.4-0.7l0.3 2.9"/>
<path class="n" d="M275.0 330.0L280.9 328.5L280.9 325.2L275.0 329.7z"/>
<path d="M275 330l0.4-3.8l0.3 0.4l0.4-1.3l0.4 0.6l0.3 0.1l0.7 3.1l0.4-1.7l0.8-1.1l0.7 1.4l0.4-2l0.7-1.2l0.4 1"/>
<path class="n" d="M80.9 392.2L82.1 391.8L82.1 391.5L80.8 388.8z"/>
<path d="M80.8 389.1l0.5-0.4l0.4 2l0.4 1.1"/>
<path d="M82.4 391.7l0.2-0.5l0.4-2.4l0.5 1.3l0.4-1l0.5 2l0.4-3.5l0.4 3.4"/>
<path class="n" d="M85.5 390.9L290.9 334.9L290.9 331.0L85.5 390.6z"/>
<path d="M85.5 390.9l0.2-1.3l0.4-2.7l1.4 2l0.4-0.5l0.4-1.1l0.5 0.3l0.4-1.4l0.5 2.8l0.4-2.1l0.5 0.9l0.4-2l0.4 1.2l0.4-1.4l0.9 1.1l0.5 0.8l0.4-0.6l0.4-1.5l0.9-0.1l0.5 1.3l0.4-2.5l0.4 1l0.5 1.9l0.4-2.3l0.4-0.7l0.5 1.6l0.4-2.4l0.4 0.2l0.9 0.9l0.5-0.7l0.4 0.3l0.5 0.9l0.8-0.9l0.4-0.8l0.5 1l0.4 0.5l0.5-0.1l0.4 0.3l0.9-1.6l0.4-1.6l0.4 1.7l0.5-0.9l0.4 1.7l0.4-3.4l0.5 1.2l0.4-0.6l0.4-0.1l0.5 0.4l0.4-1.2l0.4-0.4l0.5 0.5l0.4-0.1l0.9 1.7l0.4-1.5l0.4-0.9l0.5 0.8l0.4-1.8l0.8-1.1l0.5 1.7l0.9 2.5l0.4-2.4l0.4 0.8l0.4-3.1l0.9 2.5l0.4-3.1l0.4 1.6l0.9-1.4l0.9-0.5l0.4 0.4l0.4-0.4l0.4 0.6l0.5 0.9l0.8-3.1l0.5 0l0.4 1.5l0.4-1.6l0.4 1l0.5-0.7l0.4 0.9l0.4-1.2l0.4-0.7l0.5 0.5l0.4-0.1l0.4-1.2l0.5 2.5l0.4-1.9l0.4 0.6l0.9-1.3l0.4-0.2l0.4 2.3l0.4-1.3l0.5 0.5l0.4-1.3l0.4 1.5l0.4-2.9l0.5 0.4l0.4-0.8l0.4 1.8l0.4 0.2l0.5-1.9l0.4 1.6l0.4-2.8l0.4-1.2l0.9-1l0.4-3.9l0.4-1.2l0.5 0.7l0.4-1.3l0.8-4.7l0.5-4.2l0.4 2l0.4-0.5l0.8 5.5l0.5-5.4l0.4 3l0.4 0.2l0.4-0.7l0.5 4.3l0.4-2.3l0.4-0.5l0.4 2l0.4-0.7l0.5-2l0.4 3.4l0.4 1.5l0.4-0.5l0.4-1.6l0.9 6.3l0.4-4.2l0.4-2l0.4 0.2l0.5-2.8l0.4 0.2l0.4 3.7l0.4-2.1l0.4-1.1l0.4 3.2l0.5 0.7l0.4 0.2l0.4 2.5l0.4-1.7l0.5-6.4l0.4 0.4l0.8 9l0.8-7.5l0.4 2.8l0.9-5.2l0.4 4.2l0.4 1l0.4 1.7l0.4-3.8l0.5-0.8l0.4 2l0.4-0.3l0.4-1.8l0.4 3.6l0.4 1.5l0.5-6l0.3 2.6l0.5 1.5l0.4-2l0.4 3.4l1.2-3l0.4-0.3l0.4 0.9l0.5 0.1l0.4-3.5l0.4 3.4l0.8-0.5l0.4 0.9l0.4 0.4l0.9-1.4l0.4-3.8l0.4-0.8l0.8 4.1l0.4-3.5l0.5-1.8l0.3 5.1l0.5-0.7l0.4-2.3l0.4-1l0.4 3.1l0.4 0.4l0.8-0.8l0.5-4.7l1.2 3.9l0.4 0.7l0.4-1.6l0.8 2.2l0.4-0.5l0.4 0l0.4-1.7l0.4-0.4l0.4 2l0.4-1.1l0.4 0l0.4-0.4l0.5 0l0.4-0.3l0.8 1.3l0.8-1.3l0.4 1l0.4-1.3l0.4 1.9l0.4-2.5l0.8-0.4l0.4-1l0.4 1l0.4 0.2l0.5-2.1l0.4-1.2l0.4 0.3l0.4-1.4l0.4 1.5l0.8-3.6l0.4-0.6l0.4-0.1l0.4 0.7l0.4 0.2l0.5-1.1l0.4 0.7l0.4-0.6l0.4 0.4l1.1 3.3l0.8-0.1l0.4 1.3l0.8-1.2l0.4 0.9l0.8-0.3l0.4 0.3l0.4-1.2l1.2 0.2l0.8 2.4l0.4-1.9l0.8 0.8l0.4-0.3l0.4-0.1l0.4-1.2l0.4 1.9l0.8-3.1l0.4 1.9l0.4-1.9l0.4 0.5l0.5-3l0.4-0.9l0.3 4.3l0.4-2.5l0.4-0.6l0.4-0.1l0.4 0.6l0.4 2.2l0.4-1.2l0.4-0.7l0.4 1.5l0.4-2.7l0.4 1.8l1.2-5.6l0.4 0.1l0.4-0.8l0.4 0l0.4 0.7l0.4 0l0.4-0.7l0.5-3l0.3 1.2l0.4-0.2l0.4-0.9l0.4 1l0.4-1.8l0.4 0l0.5-2.9l0.3 0.5l0.9-3.1l0.4 1.1l0.3 0.3l0.4 1.5l0.5-3.6l0.3 1.1l0.4 2.2l0.4 0.3l0.3 2l0.5-0.9l0.3-0.1l0.4-0.7l0.4 3.5l0.4 0.3l0.4-1.9l0.4 1.8l0.3 0.4l0.4 1.6l0.4-0.1l0.4 1.5l0.4-0.1l0.8-2.4l0.3 3.8l0.4-2.9l0.4-0.3l0.4 0.7l0.4 0.1l0.4-1.4l0.4 0.5l0.7 2.1l0.4 0.1l0.5-2.4l0.4-0.7l0.3 0.7l0.4-0.4l0.8-0.2l0.4 2.9l0.4-3.4l0.4-0.1l0.4-1.4l0.4 0l0.4-1.2l0.3 0.8l0.4-0.5l0.4-1l0.4 1.7l0.4-0.7l0.7 1.8l0.5-4.1l0.4 0.5l1.1-1.7l0.4-0.2l0.4 1.4l0.4-2.3l0.4-0.2l0.8-1.9l0.3 2l0.5-3.3l1.1-1.8l0.4 1.4l0.8-2.6l0.4 0.6l0.4 0l0.4-3.5l0.7 2.1l0.4-3.4l0.4 0.9l0.4 0.4l0.4-0.7l0.4-0.1l0.3 0.2l0.4-1.1l0.4-2.5l0.4 1.1l0.4 0.4l0.3 2.2l0.4-1.8l0.4-0.6l0.4 1.3l0.4-0.2l0.7 0.4l0.4-0.2l0.4 0l0.3 3l0.4-0.8l0.4 0.8l0.4 0.3l0.3 1.2l0.4-0.2l0.4 2.9l0.4-3.6l0.4 0.9l0.3 2.4l0.4 0.1l0.4 2l0.4-2.6l0.3-0.8l0.4 0.2l0.4 1.6l0.4 0.8l0.3-0.3l0.4 1.1l0.4-0.9l0.3 1.8l0.4-1.9l0.8 2.3l0.7-1l0.8 1.9l0.4-1.7l0.3 0.4l0.4 1l0.4-1l0.4 1.8l0.7-1.4l0.4-0.3l0.4 0.4l0.3 0.8l0.4 3.1l0.4-2.9l0.4 0.7l0.3-1.3l0.8 2.9l0.4-2.6l0.3 1.4l0.4 0l0.4-0.6l1.1-0.6l0.7 1.5l0.4 1.8l0.4-3.7l0.4-0.1l0.4-0.7l0.3 2.3l1.1-1.3l0.4 0l0.4-1.6l0.4 1.6l0.3 0.6l0.4-0.2l0.4-1.6l0.7 1.3l0.4-0.3l0.4 1.8l0.3-2.4l0.8-0.1l0.4 1.7l0.3-1.7l0.4-0.1l0.4 1.8l0.3-1.8l0.8-0.1l0.4 1.4l0.3-1.4l0.4 2.2l0.4-3.8l0.3 0.6l0.4-1.1l0.4 2.7l0.7-2.6l0.4 2.3l0.4-2.7l0.3 0.5l0.4 1.6l0.4-1.9"/>
<path class="n" d="M89.3 400.1L301.1 341.5L301.1 340.0L89.3 396.2z"/>
<path d="M89.3 396.5l0.4 0.6l0.5-0.6l0.4-1.2l0.5 1.4l0.5 2.5l0.3-2.9l0.9-0.5l0.5 0.1l0.9-1.2l0.4 0.8l0.5-0.1l0.4-0.5l0.5 1l0.4 0.3l0.5-1.1l0.4 1.1l0.5 0.1l0.4-0.5l0.4-1.8l0.9 2.4l0.4-3.8l0.5 1.5l0.4-0.6l0.5 2l0.4-2.1l0.5 0.2l0.4-0.5l0.5 1.9l0.4-2.2l0.9 1.4l0.4-0.2l0.5-1.6l0.4-0.2l0.5 1.2l0.4-2.2l0.4 1.7l0.5-1.6l0.4 0.1l0.5 2.3l0.4-1.5l0.5 1.2l0.4-2.5l0.4 0.7l0.5-1l0.4 0.3l0.4-0.5l0.5 0.7l0.8-1.9l0.5 0.7l0.4-0.1l0.5 0.4l0.4-0.4l0.5 1l0.4-2l0.4-0.4l0.5 3.4l0.4-2.9l0.4-0.2l0.5 0.1l0.4-1.1l0.4 0.1l0.5-0.6l0.4 4.5l0.9-3.9l0.4 0.1l0.5 1.4l0.4-2.6l0.4-1.3l0.5 2.4l0.8-2.4l0.5-0.7l0.4 3.8l0.4-2.1l0.5 1.7l0.4 0.4l0.4-3.7l0.5-0.2l0.4 1.4l0.5 0.7l0.4-3.1l0.4 1.4l0.5 0.3l0.4-2.1l0.9 3.9l0.4-3l0.4 0.4l0.4-0.5l0.5 1.6l0.4-3.3l0.4 0.8l0.5 1.5l0.4-3.2l0.4 0.1l0.9 2.2l0.4-1l0.5 1.6l0.4-3l0.4 0.8l0.9 3.3l0.4-0.6l0.4-4l0.5 0.2l0.4 1.5l0.4 0.3l0.5-0.2l0.4-2.8l0.4 1.5l0.9 0.3l0.4-1.7l0.4 1.4l0.9-2.5l0.4 0.1l0.5-6.9l0.4-1.7l0.4 3.8l0.4-0.2l0.5-3.1l0.4 0.7l0.4-4.7l0.5 1.5l0.4 5l0.4-4.7l0.5-2.3l0.4 1.4l0.4-0.3l0.4 5.3l0.4-0.5l0.9-4l0.5-3.1l1.2 9.1l0.4-2.1l0.5-7.8l0.8 3.5l0.4 4.7l0.4-0.8l0.5-2l0.4 1.5l0.4-1.9l0.4 1.7l0.5 0.3l0.4-4.2l0.4 0.6l0.5 0.2l0.4 2.8l0.4-1.4l0.4 2l0.9-7.2l0.4 5.3l0.4 2.3l0.4-1.1l0.9-7.4l0.8 8.6l0.4 0.9l0.5-5.8l0.4-2.4l0.4 3.5l0.4-0.8l0.4 0l0.4 4.7l0.5-4.4l0.4-0.7l0.4 3.8l0.9-4.2l0.4 1.4l0.4-1.2l0.4 1.1l0.4-1.1l0.4 0.2l0.4 2.6l0.5-2.7l0.4 2.4l0.4 0.1l0.4-2.8l0.5-4.8l0.8 1l0.4 1.1l0.4-0.4l0.4 4.4l0.4 2.3l0.4-0.2l0.5-5.6l0.4 1.4l0.4-1.4l0.4-0.3l0.5 0.8l0.4-0.2l0.4 2.1l0.4-1.7l0.8 2.3l0.9-3.8l0.4-0.8l0.4 2.9l0.8-2.4l0.4 0.9l0.4-0.2l0.4 0.3l0.4 1.1l0.5-1.8l0.4 1l0.4-1.4l0.4 0.7l0.8 2.5l0.4-0.1l0.4 0.3l0.4-0.8l0.9-4.4l0.4 3.1l0.4 1.5l0.4-2l0.4 0.1l0.4 0.5l0.4 4.2l0.4-1.2l0.5-2.3l0.3 3.7l0.4-1.9l0.4 0.5l0.5 0l0.4-1.9l0.8 0.6l0.4 0.1l0.4-0.9l0.4 2l0.4-0.8l0.5-2.5l0.4 1.4l0.4-0.8l0.4 1.9l0.4-3l0.4 1.3l0.4-2.3l0.8 0.4l0.4-0.7l0.4 2.1l0.4-1.2l0.4 0.6l0.5-1.3l0.3 2l0.5-2.5l0.4 1l0.4-0.5l0.3 3.7l0.5-2.6l0.4-1.3l0.4-0.1l0.4-0.6l0.4-0.1l0.4-0.6l0.4 0l0.4 1.8l0.4-2.4l0.4 2.7l0.8 0.6l0.9-4.3l0.4 1.8l0.4-2.2l0.4 0.3l0.3 3.1l0.5-2.9l0.4-0.8l0.8 3.5l0.4-3.2l0.4-0.3l0.4 0.6l0.9-4l0.3 1.5l0.4-0.8l0.4 2.2l0.4-1.7l0.4-0.3l0.4 0.7l1.3-4.3l0.8 1l0.4 1l0.3 2l0.4-0.3l0.4-1l0.4 1.2l0.9-2.6l0.3 0.6l0.5-0.9l0.3 1.6l0.9-2.8l0.3 1.3l0.9-1.4l0.3 2.3l0.5-3.8l0.4-0.4l0.4 0.7l0.4-1.6l0.4 0.1l0.4-0.8l0.4 1l0.4-2l0.4 0.6l0.3 3.2l0.4-1.9l0.5-0.7l0.3 1.6l0.4 0.2l0.4 0.7l0.4-0.7l0.4 2.1l0.4 0.4l0.8-3.7l0.3 4l0.5-1.7l0.4-0.2l0.4-1.2l0.3 3l0.4-2l0.4 0.1l0.4 1.4l0.8 0l0.4-0.4l0.4-1.1l0.4 1.1l0.4-3.4l0.4 2.2l0.4 0l0.4-1.3l0.4-0.1l0.3 0.3l0.4 1.6l0.4-1.8l0.4 0.6l0.4-2.2l0.8-0.3l0.4-0.7l0.4 1.2l0.4-1.6l0.4 0.8l0.4 0.1l0.4-2.4l0.4 1.6l0.4-1.4l0.4 0l0.3 0.5l0.5-2.5l0.3 0.9l0.5-2.5l0.3 0.7l0.4 1.3l0.4-1.9l0.4 0.7l0.8-4.2l0.4 3.2l0.4-4l0.4 2.3l0.4 0.1l0.4-3.5l0.4-0.6l0.4 0.1l0.8-2.1l0.4 0.9l0.4-0.8l0.8-2.8l0.3 2.9l0.4-3.3l0.4-1.5l0.4-1.5l0.8-1.5l0.8-2.4l0.8 1l0.4-0.3l0.3 2.2l0.4-2.6l0.4 0.5l0.4 0.9l0.3 2.8l0.5-3.1l0.3 1.4l0.4 0.6l0.4 1.3l0.3 2l0.4-1.5l0.4 2.1l0.4-2.9l0.4 1l0.3 2.1l0.4 0.8l0.4-1.1l0.3 3l0.4-0.5l0.4-1.3l0.4 0.5l1.1 4.3l0.4-3.1l0.7 3.7l0.4-0.9l0.4 0.7l0.4-1.5l0.4 2.2l0.4-2.3l0.3 1l0.4 0l0.4 1.4l0.4-0.6l0.3 0.7l0.8 0.6l0.4-1l0.3 1.4l0.4-1.1l0.4 2.1l0.4-1l0.7 3.6l0.4-1.8l0.4 2.3l0.4-3.2l1.1 1.4l0.4-1l0.3 1.1l0.4-0.4l0.4-1.5l0.4 1.7l0.4-0.6l0.3 0.5l0.4 1.5l0.4-2.1l0.3 2.9l0.4-3.2l0.4 2l0.4-1.7l0.4 0.6l0.3-0.3l0.4 0.5l0.4-1.5l0.4-0.4l0.4 1.5l0.3-0.2l0.4 0.5l0.4 1.5l0.4-2.1l0.3 1.1l0.4-1.1l0.4-0.4l0.4 0.2l0.3 1.8l0.4-0.9l0.4 1.3l0.4-3l0.3-0.3l0.4 0.8l0.4 0.1l0.4 0l0.7-0.4l0.4 1l0.3 0l0.4-2.1l0.4 0l0.4-0.6l0.3 1.9l0.4 0l0.4-1.2l0.4 0.3l0.3 1.1l0.4-2.1l0.4 0.4l0.4-0.8l0.3 0.1l0.4 0.9l0.4-1.3l0.4-0.5l0.3 2.8"/>
<path class="n" d="M98.0 408.3L114.6 403.6L114.6 403.3L97.9 405.3z"/>
<path d="M97.9 405.6l0.9-0.6l0.5 0.3l0.4-1l0.5 1.3l0.5-0.7l0.4 2.1l0.4-3.5l0.5-0.6l0.9 0.5l0.5 0.5l0.4-0.3l0.5 1l0.4-1.1l0.5-0.3l0.4 0.6l0.4-1.2l0.5 0.5l0.5 0.9l0.4-1.9l0.5 2.1l0.8-3l0.5 1.1l0.4-0.5l0.5 1l0.4-1.7l0.5 0.2l0.4-0.4l0.5 0.4l0.4-0.6l0.5-0.3l0.4 3.6l0.5-4l0.4 0l0.5 3.6"/>
<path class="n" d="M114.6 403.6L311.6 348.2L311.6 344.8L114.6 403.3z"/>
<path d="M114.6 403.6l0.4-2.9l0.5 0.8l0.4-0.5l0.4-1.1l0.5 2.2l0.4-2.7l0.5 0.3l0.4-0.3l0.5-0.5l0.8 0.5l0.5-0.3l0.4-0.7l0.5 1.9l0.4-1.9l0.9 0.4l0.4-2.7l0.5 3.4l0.4-1.8l0.5 0.3l0.4 1.1l0.5-2.6l0.4 0.6l0.4-0.1l0.5-0.5l0.4 1.2l0.5-2.5l0.4 1.7l0.5 0.7l0.4-2.2l0.4 2.1l0.9-2l0.5 0.6l0.8-1.4l0.5-0.3l0.4-1l0.4 1.2l0.5 0l0.9-1.8l0.4-0.4l0.4-0.9l0.5 0.4l0.4-1.4l0.5 2.4l0.4-1.1l0.4 0.4l0.5 2.8l0.4-1.4l0.4 0l0.5-0.5l0.4 0.7l0.5-1.3l0.4-2.3l0.4-0.1l0.5 0.9l0.4 2l0.4-0.5l0.5-2l0.4 1.5l0.4-0.7l0.5 0l0.4 1.6l0.5-2.9l0.4-0.2l0.4 3.3l0.5-2.5l0.4-0.8l0.4 0.8l0.5 1.8l0.4-1.9l0.4 2.2l0.5-2.4l0.4 0l0.4 0.5l0.5-0.3l0.8-3.4l0.5 0l0.4-1.3l0.4-4.9l0.9-2.5l0.4 3.5l0.5-2.3l0.4-1.3l0.4 1.6l0.5-2.2l0.4 2.2l0.4 3.8l0.5-3.7l0.8-0.6l0.5-4.6l0.4 4.8l0.4-0.2l0.4 4.3l0.5-3.8l0.4 0.5l0.4-1.1l0.5-1.3l0.4-2.8l0.5 1.3l0.4 3.7l0.4-1.6l0.4-3.1l0.4 3.8l0.5 2.2l0.4-2.9l0.4 2.6l0.5-2.4l0.4 0.3l0.4-3.8l0.5-0.7l0.4 1.6l0.4-3.1l0.4 5.2l0.5-4.2l0.4-1.7l0.4 1.9l0.5 0.9l0.4 2.7l0.4-0.2l0.4-1.2l0.4 2.4l0.5-1.5l0.4 1.1l0.4-4.4l0.5-1.9l0.4 0.2l0.4 7.6l0.4 0.5l0.5-6.9l0.4 0.4l0.4 4.3l0.4-3.7l0.5-1.4l0.4 2.6l0.3 5.4l0.5-3.4l0.9-1.7l0.4-2.2l0.4 0l0.4 4.5l0.5-3.5l0.8 3.5l0.4-3.9l0.4 0.5l0.4 2.5l0.5-0.7l0.4-4.4l0.5-1.4l0.3 5.1l0.4 0.9l0.8 2.7l0.5-3.8l0.4 2.3l0.5-4.6l0.4 2.7l0.4-2.6l0.5-4.6l0.4 1.9l0.4 0.5l0.8 2.7l0.4-3.1l0.5-0.7l0.4 0.6l0.4 1.4l0.4-2.6l0.4 1.5l0.4 5.6l0.4-0.7l0.5-3.9l0.3 3.5l0.5-1.5l0.9-5.3l0.3 2.6l0.5 0.3l0.4-1.5l0.4 0.1l0.8 3.9l0.4-0.4l0.4 1.7l0.4 0.6l0.5-2.9l0.4 1.2l0.4-0.8l0.4-2.2l0.4 3.2l0.4-0.8l0.5-2.1l0.3 1.9l0.5 0.2l0.4-1.2l0.4 2.2l0.4-1.6l0.4 1.3l0.4 0l0.4 1l0.4-1.3l0.4-0.6l0.4 2.2l0.5-1.6l0.8 1.4l0.4-1.4l0.4 2.5l0.4-2.2l0.4 0l0.4-1.3l0.5-0.3l0.4-0.7l0.4 2.8l0.4-0.2l0.4-1.6l0.4 0.9l0.4-0.4l0.4 0.6l0.5-2.7l0.3 1.6l0.9-1.3l0.4 1.6l0.4-2.9l0.4 0.7l0.4-0.3l0.4 0.3l0.4-0.7l0.8 2.8l0.5-2.6l0.4-0.9l0.4 1.3l0.4-2.2l0.4 0.7l0.4-1.7l0.4 0l0.4 2.5l0.4-0.4l0.9-4.3l0.4 1l0.4 0l0.3 3l0.5-4.2l0.4 1.9l0.4 0.3l0.4-1.9l0.4 0l0.4-1.1l0.4 3.1l0.5-2.9l0.4-1.2l0.3 2l0.4 0.4l0.5-2.6l0.4 1.6l0.4-1.3l0.4-0.3l0.4 0.7l0.4-1.1l0.4 0.1l0.4 1.3l0.4-1l0.4 1.7l0.4-1.2l0.9-4.2l0.4 0.8l0.8-0.2l0.4 0.3l0.4-1.5l0.4 0.4l0.4 1l0.4 0.3l0.4-1.7l0.3 3.7l0.9-4.2l0.3 3.3l0.4-0.4l0.8-0.1l0.5-3.3l0.3 3.2l0.4-0.3l0.4 0.8l0.5-2.9l0.4 0.7l0.3 1.4l0.9-1.9l0.4-0.2l0.3 0.9l0.4 1.8l0.9-3.1l0.3 3.2l0.4-2l0.4 1l0.4 0.5l0.4-2.3l0.8 1.9l0.8-2.6l0.4 0.2l0.8-0.7l0.4-0.7l0.4 1.1l0.4-0.8l0.4 0.5l0.4-2l0.4 1.7l0.4-1.3l0.4-0.3l0.4-0.7l0.4 0.6l0.4-0.1l1.2-2.1l0.4 0.7l0.4 0.1l0.8-2.1l0.4 1.8l0.4-0.7l0.4-1.9l0.4 0l0.4-1.9l0.4 1.1l0.4-1.8l0.4 0.9l0.4-1.6l0.4 0.1l0.4-0.4l0.4-0.9l0.4-1.7l0.4 0.5l1.2-3.5l0.8 0.9l0.4-1.6l0.4-0.8l0.4-2.3l0.4 2.4l1.6-5.6l0.4 0.2l0.4-1.8l0.4 1.5l0.4-2.5l0.4-1.2l0.4 0.2l0.4-1.2l0.4-0.5l0.4 0.2l0.7 1.4l0.4-1l0.4-2.2l0.4 2.4l0.4 0.6l0.4-1.1l0.3 2.9l0.4-0.9l0.4-0.3l0.3 2l0.4 0.1l0.4-1.1l0.4 1.1l0.4 0.3l0.4-1.1l0.3 3.2l0.8-2.1l0.4 1.9l0.4 0.1l0.3 1.2l0.4 2.2l0.4-1l0.4 0.4l0.4-0.3l0.3 0.7l0.4 0l0.4 0.8l0.7 2.7l0.4-1.4l0.4 0.1l0.4 1.1l0.4-0.5l0.3 4.4l0.8-1.9l0.4-0.5l0.3 0.1l0.4-0.3l0.4 2.2l0.4 0.5l0.4-1.8l0.3 0l0.4 3l0.4-1.8l0.4-0.2l0.4-0.9l0.3 1.5l0.4-1.5l0.8 3.7l0.7-0.8l0.4 0l0.4 0.5l0.4-0.6l0.3-0.1l0.4-0.6l0.4 0.1l0.8 1.8l0.3-1.7l0.4 2.5l0.4-2.3l0.4 0.3l0.4-0.5l0.3 0.1l0.4 1l0.4-1.4l0.4 2.3l0.3-0.7l0.4-1.3l0.4 0.9l0.8-0.6l0.3 0.8l0.4 1.4l0.4-2.7l0.4 0.8l0.4-1.1l0.7 0l0.4 0.5l0.4 0.9l0.4-2l0.3 0.1l0.8-0.4l0.3 2.1l0.4 0.1l0.4-1.5l0.4 0.7l0.4-0.1l0.4-1.9l0.3 1.4l0.4-1.3l0.4-0.4l0.3 1.1l0.4-1.5l0.4 2.8l0.8-3.3l0.3 2.7l0.8-2l0.7-0.3"/>
<path class="n" d="M106.9 416.7L322.4 355.1L322.4 351.5L106.8 412.8z"/>
<path d="M106.8 413.1l0.5 1l0.5 2.2l0.4-2.9l0.5 0.8l0.4-1.2l0.5 0.6l0.5 1.4l0.4-1.3l0.5 0.5l0.4-1.5l0.5-0.5l0.9-0.7l0.5 2.3l0.4-0.5l0.4-2.2l0.5-1.3l0.5 2.9l0.4-1.7l0.5 0.7l0.4 0.2l0.5 1.4l0.4-0.5l0.5-2.7l0.4 0.9l0.5-2.1l0.4 3.1l0.5-2.6l0.4 2.4l0.5-1.2l0.4-0.3l0.5 0.5l0.4-2.2l0.5 1.4l0.4-2.4l0.5 2.1l0.4-1.4l0.5 1.6l0.4-0.3l0.5-1.2l0.4-0.3l0.5 1.5l0.4-1.7l0.5-0.6l0.4 1.4l0.5-1.4l0.4 0.8l0.5-0.4l0.4-1.4l0.5 2.3l0.4-2.1l0.5-0.6l0.4 2l0.5-1.4l0.4 1.8l0.4-2.1l0.5-0.3l0.4 0.7l0.5-0.3l0.4-1.8l0.5 0.8l0.9-2.2l0.4 0.4l0.5 2l0.4-1.2l0.4-2.7l0.5 2.1l0.4-2.2l0.5 0.5l0.4-0.2l0.5 0.7l0.4-0.9l0.5 1.8l0.4-1.4l0.5 0.5l0.8 1.5l0.5-2.7l0.4 0.5l0.5-0.1l0.9 1.6l0.4-3.3l0.4 0.3l0.5-0.2l0.4 0.3l0.5-0.5l0.4-0.9l0.5 0.8l0.4 1.6l0.4-2.1l0.5 3.6l0.4-2.7l0.5-0.6l0.4-0.1l0.4-2l0.5 3.8l0.4-0.5l0.9-2.7l0.4 1.1l0.5 0.6l0.4-1l0.5 0.1l0.4 1.7l0.4 0.5l0.5-2.9l0.8 0.3l0.5 1.6l0.4-3.8l0.5-1.1l0.4-0.6l0.4-0.1l0.5-2.4l0.4-1.1l0.5 0l0.4 0.4l0.5-4.5l0.4 1.9l0.9-2.6l0.4 0.5l0.8 7.3l0.5-3.5l0.5-5.9l1.2 5.7l0.5-7.1l0.4 2.9l1-6.2l0.4 4.9l0.8 2.9l0.4-1.6l0.5 0l0.4 0.6l0.4 2.4l0.5-4.5l0.4-1.2l0.4 2.5l0.5-0.2l0.4 0.8l0.5-3l0.4 1.9l0.4 0.4l0.4-0.7l0.4 4.6l1-9.6l0.4-0.2l0.4 6l0.4 1l0.5-4.8l0.8 9l0.4-3.8l0.5-1.3l0.4 1.4l0.4-4l0.5-0.4l0.4 1.1l0.4 4l0.4 1.9l0.5-5.5l0.4-3.1l0.4 6l0.9-1.9l0.4 1.2l0.9-4l0.4-0.8l0.4 1.3l0.5-0.6l0.4 3.9l0.9-6.2l0.4 3.3l0.4-1.5l0.4 0.6l0.9-2.4l0.4 5l0.4-0.9l0.5-3.6l0.8 2.1l0.4-1.2l0.5-2.5l0.4 4.3l0.4-2.6l0.4 0l0.5-2.9l0.4-1.3l0.4 5.2l0.4 0.3l0.4 0l0.4 2l0.4 0l0.5-4.6l0.5-0.1l0.4-0.5l0.4 0.2l0.4 0.8l0.4 3.7l0.4-0.8l0.5-2.4l0.4-0.8l0.4 1.9l0.5-4.7l0.4 3.1l0.8-1.7l0.8 4.7l0.4-2.1l0.5-0.5l0.4-1.3l0.4 2.4l0.4-2.2l0.5-0.2l0.3 1.6l0.4 3.6l0.4-0.5l0.5-0.1l0.4 1.1l0.9-4.3l0.4-1.2l0.4 1.8l0.4-0.5l0.4 0.3l0.4 1.1l0.4-1.3l0.9 1.5l0.3 1.5l0.5-1.3l0.4 0l0.4 1.5l1.3-2.1l0.4 0.3l0.4-0.3l0.4 1.1l0.4 0.6l0.4-2.2l0.4 2.7l0.5-3l0.4-1.3l0.4 1.1l0.8 1l0.5-2.1l0.4 1l0.4-0.5l0.8-0.6l0.4 1l0.4-1.8l0.4 0.6l0.5-2.2l0.4 2.8l0.4-1.8l0.4 1.3l0.4-1.3l0.4 0.2l0.4 1l0.9-3.2l0.4 0.3l0.4 2.6l0.4-0.2l0.4-1l0.5-2.3l0.7 1.9l0.5-1.2l0.4 0.7l0.4-0.5l0.4-0.8l0.4 1.7l0.4 0l0.4-2.2l0.5-0.2l0.8-3.3l0.3 4.7l0.5-0.1l0.9-5l0.4 0.3l0.3 1.2l0.5-4.4l0.8 3.4l0.4-0.2l0.4 0.2l0.5-2.9l0.3 0.9l0.4 3.4l0.4 2l0.4-4.7l0.4 1l0.5-0.9l0.3 1.4l0.5-3.2l0.4 0.3l0.4 2.4l0.8-2.6l0.4 1.7l0.9-5.6l0.4-1.6l0.7 6.5l0.4-1l0.4 1.7l0.4 0.1l0.5-5.5l0.4 2l0.4 0.8l0.4-2.6l0.4-0.1l0.4 3.3l0.4-0.2l0.4-0.8l0.4 1.3l0.4-1.5l0.4 0.5l0.4-1.8l0.4-0.2l0.8 1.9l0.4-1l0.8-0.5l0.4-1.3l0.4 4l0.4-2.1l0.4 0.8l0.4-1.7l0.4 0.6l0.4-0.2l0.4 0.7l0.4-1.5l0.4-0.2l0.4 0l0.4 0.7l0.4-0.6l0.4 0.6l0.4-2.1l0.8 1.5l0.4-2.9l0.4 1.1l0.8-0.8l0.4 0.1l0.4-1l0.4-0.4l0.5-1.1l0.3 0.6l0.4 0.4l0.5-1.6l0.3 1.4l0.4-1.4l0.4 2.1l0.5-3l0.4-0.7l0.4 0l0.3 0.4l0.5-3l0.4 0l0.4 0.9l0.8-2.2l0.4 0.7l0.4-2l0.4-0.1l0.4-0.5l0.4-2.9l0.8 1.4l0.4-1.4l0.5-2.6l0.3 1.4l0.4-2.1l0.4 1.3l0.4-0.6l0.5-2.7l0.4-0.6l0.4-1.9l0.3 1.4l0.4 0.1l0.5-3.1l0.4-0.8l0.4-1.5l0.4 0.7l0.4-3.4l0.4 0.7l1.2-3l0.4 1.6l0.4 0.6l0.4-0.9l0.4-0.5l0.3 0.1l0.4 3.6l0.4 0.5l0.4-1.1l0.7 4.5l0.4 0.5l0.8-3.6l0.3 2.9l0.4-0.7l0.4 1.7l0.4-0.1l0.3 1.1l0.8 0.6l0.4 0.1l0.4 0.5l0.4-0.1l0.3 2.9l0.4-1.3l0.4 1l0.4-0.8l0.3 2.6l0.4-1.1l0.4 2.1l0.4-0.6l0.4 0.1l0.7 2.5l0.4-1l0.4 1l0.4-1.1l0.4-0.4l0.3 0.6l0.8 3.5l0.3-0.3l0.4 0.5l0.4-1.7l0.4 1.1l0.4-1.2l0.4 0.9l0.4-0.2l0.3 0.6l0.4-0.5l0.4 0.2l0.8 1.5l0.4-1.2l0.3 1.8l0.4-2.1l0.4-0.1l0.4 0.8l0.3 3.7l0.4-2.2l0.8-2.1l0.4 0.8l0.4 0.5l0.4 0l0.3-0.3l0.4 1.2l0.4-0.1l1.2-2l0.7 1.7l0.4-0.8l0.4 0.5l0.4-0.7l0.3 0.2l0.4 1l0.4-0.1l0.4 0.5l0.4-2.7l0.3 1.5l0.4 0.5l0.4-0.7l0.7 0.6l0.4-1.6l0.4 2l0.4-0.7l0.4 0.4l0.4-1.7l0.3 2.8l0.4-1.9l0.4-1.2l0.4-0.6l0.4 0.3l0.3 0.7l0.4-0.3l0.4 0.3l0.4 1.3l0.4-2.9l0.3 2.2l0.8-2.2l0.4 0.7l0.3-1.2l0.4 0.2l0.4-0.1"/>
<path class="n" d="M116.1 425.3L333.4 362.2L333.4 359.8L116.0 421.8z"/>
<path d="M116 422.1l0.5 0.6l0.5 2l0.4-2.2l0.5-0.6l0.9 0.9l0.4-1.9l1 0.4l0.4 0l0.5 1.5l0.4-2.5l0.5-0.7l0.5 1.1l0.9-1.4l0.9 0.8l0.9-1.4l0.5 2.9l0.4-0.4l0.5-2.9l0.4 0.7l0.9-1.3l1 0.7l0.4 0.1l0.5-0.5l0.4 1.6l0.5-0.4l0.4-1.4l0.5 1.3l0.4-1.7l0.5-0.4l0.5 1.8l0.4-0.5l0.5 0.2l0.4-2.6l0.9 0.5l0.5-0.9l0.4 2.2l0.5-1.8l0.4 2.1l0.5-2.6l0.4 1.1l0.5 0.4l0.4-2.7l0.5-0.2l0.5 1.4l0.4-2.2l0.9 3.3l0.5-3.5l0.9 3l0.9-3.6l0.4-0.4l0.9 1.9l0.5-1.3l0.4-0.1l0.9-0.9l0.5-0.8l0.4 0.7l0.5 2.9l0.4-3.4l0.5-0.9l0.4 0l0.5 1.6l0.4-1.3l0.5-0.4l0.4 2.4l0.4-1l0.5 1.2l0.4-0.1l0.9-3.6l0.5 0.3l0.4-1.3l0.5 0.9l0.4-0.1l0.5-1.1l0.4 2.2l0.5-0.9l0.4 0.2l0.5-1.8l0.4 0.4l0.4-0.4l0.5 1.7l0.4-1l0.5-0.1l0.9 0.3l0.4 1.3l0.9-1.7l0.4 2.6l0.5 0.2l0.4-2.4l0.5-0.8l0.4 1.5l0.5-2.1l0.4-0.3l0.4 0.5l0.5 1.2l1.3-6l0.5-0.8l0.4-1.7l0.5 3.7l0.4-1.5l0.5-6.2l0.5-2.4l0.4 1.9l0.4-0.1l0.4 2.6l1-5.3l0.4 2.1l0.4 0.6l0.5-1.4l0.4 2.5l0.4 4.2l0.5-5.7l0.5-3.5l1.2 6l0.5-2.2l0.4-0.2l0.9-3.2l0.9 2.1l0.4-1.6l0.4 4.4l0.4 2.5l0.5-4.7l0.4 4.8l0.4-1.5l0.5-3.4l0.5-1.4l0.4-2.8l0.8 7.2l0.5-0.5l0.4-2.2l0.5-4.1l0.4 2.6l0.4 6.5l0.9-6.3l0.4 2.3l0.5-4.1l0.4 0.6l0.4 5.3l0.5-2.9l0.4-1l0.4 0.8l0.5-3.9l0.8 3.6l0.5-1.5l0.7 6.7l0.5-2.5l0.5-6.4l0.5-2.7l0.4 5.1l0.4-0.7l0.5-3.3l0.8 3.1l0.3 5.6l0.5 0.7l0.9-8.9l0.9 1.3l0.4-2.4l0.4 2.1l0.5-1l0.4 3l1-8.7l0.7 4.9l0.4 1.6l0.5 0.1l0.4-1.6l0.4 0.3l0.4 3.7l0.5-1.6l0.9-8.3l0.4 2.6l0.4 4.5l0.4 0.3l0.5-4.3l0.8 0l0.4 1.5l0.4 5.1l0.4-2.4l0.5-4.4l0.5 0.9l0.8 2.9l0.4-1.1l0.5-2.1l0.4-0.9l0.3 5.1l0.5-3.1l0.4-0.6l0.8 2.5l0.5 0.4l0.4-1.5l0.4 2.5l0.4 0.8l0.5-5l0.3 3.8l0.5-2.4l0.5-1.1l0.4 0.2l0.4 1.4l0.4 0.7l0.4-2.2l0.8 3.6l0.5-2.5l0.4-0.7l1.2 4.8l0.4-2.3l0.5-1l0.3 2.1l0.4 1.1l0.5-0.8l0.4-0.2l0.4 1.2l0.5-2.6l0.4-1.1l0.8 0.8l0.4 1.7l0.4 0.6l0.4-0.5l0.4 0.4l0.5-2.9l0.5-1.2l0.3 1.4l0.4 2.5l0.4-0.4l0.9-3.8l0.4 1.5l0.5-2.2l0.4 1l0.4-1.8l0.8 1.8l0.4-0.3l0.5-1.5l0.4 1l0.4 0.3l0.4-0.2l0.4 0.7l0.5-2.6l0.3 1.7l0.5-0.7l0.3 1.9l0.5-3l0.4 1.5l0.5-2.7l0.4-0.5l0.4 1.1l0.3 2.3l0.5-4l0.5-1.8l0.4 1.3l0.3 2.3l0.5-0.5l0.4-1.8l0.4 0.2l0.4 1l0.5-2.8l0.3 2.4l0.5-2.6l0.4-0.4l0.4-0.1l0.4 2.8l0.4-0.6l0.4 0.7l0.5-5.3l0.8 2.9l0.4-1.2l0.4-0.2l0.4 0.3l0.4-1.2l0.5-0.3l0.3 1.1l0.4 2.5l0.4-1.2l0.5-4.1l0.4 2.3l0.4-0.6l0.5-4.9l0.4 1.5l0.3 2.8l0.5-0.6l0.3 2.7l0.4-1.2l0.5-3.7l0.4 3.2l0.4-1.1l0.5-2.6l0.4 0l0.4-3l0.4 2.1l0.3 4.3l0.4 0l0.9-3.1l0.4 0.9l0.4 0.1l0.4 0.4l0.4-0.6l0.4-2l0.4 0l0.7 4.4l0.5-2.5l0.8-1.1l0.4 2.4l0.4-0.1l0.5-3.2l0.3 2.6l0.4-0.4l0.4-1.6l0.4 1.4l0.4-1.2l0.5-0.3l0.3 1.2l0.5-1.8l0.4 1.1l0.4-2.3l0.4 1.2l0.4 0.3l0.4-1l0.8 1l0.4-1.2l0.4-0.3l0.4 0.2l0.8-1l0.4 0.7l0.4-2.3l0.4 1.3l0.5-1.9l0.4-0.5l0.4-1l0.3 2.7l0.5-2.5l0.4-1.7l0.4-0.8l0.4 2.4l0.4-2.9l0.8 0.7l1.3-3.8l0.4 0.9l0.8-1.5l0.4-0.4l0.8-2.9l0.4 1l0.4-2.2l0.4 0l0.8-0.8l0.9-3l0.4 0.7l0.4-2.6l0.4-1.4l0.8 0.4l0.4-1.7l0.5-3.2l0.4 0.7l0.4-0.4l0.4 0.8l0.4-2.7l0.4 1.2l0.4-0.7l0.4-2.6l0.7 4.2l0.5-3.1l0.4-0.9l0.3 2.9l0.5-2.5l0.3 0.7l0.4 1.6l0.4 0.3l0.4-1l0.3 3.6l0.4 0.2l0.4-0.3l0.4 0.7l0.4 0l0.4-1.3l0.3 2.3l0.4-0.1l0.8 1.8l0.3 3l0.4-2.9l0.4 1.9l0.3 3.3l0.5-3.7l0.3 2.1l0.4-0.3l0.4-1.2l0.4 2.9l0.4 0.6l0.4 0l0.3 1.4l0.4-0.8l0.4 0.7l0.4-0.4l0.4 0.6l0.3 2.6l0.4-1.9l0.4 2.7l0.8-2.4l0.7 2.5l0.4-1l0.4 1.2l0.4-0.4l0.7 1.7l0.4-0.3l0.4-0.9l0.4 0.2l0.4 2.2l0.4-2.2l0.3 1.6l0.4-0.5l0.5-1.6l0.7 4.2l0.4-2.6l0.4 1.3l0.3 0.2l0.4-0.1l0.8-2.6l0.8 1.6l0.7-0.1l0.4 0.6l0.4 1.9l0.4-2.5l0.4-0.2l0.4-0.1l0.3 1.4l0.4-1.4l0.4 1.1l0.4-1.1l0.4 1.8l0.4-2.7l0.4 0.8l0.3-0.3l0.4 0.9l0.4-0.8l0.4 0.5l0.4 1l0.4-1.8l0.3 1.8l0.4-0.9l0.4 0.4l0.4-2l0.7 1.6l0.4-0.3l0.4-1.3l0.4 1.7l0.4 0.2l0.3 0.9l0.4-3l0.4 0.4l0.8-0.7l0.4 0.7l0.3 0l0.4-0.7l0.4 0.3l0.4-0.1l0.4-1.2l0.3 1.7l0.4-0.4"/>
<path class="n" d="M125.5 434.2L344.7 369.4L344.8 365.8L125.4 429.7z"/>
<path d="M125.4 430l1 0.9l0.4-0.9l0.5 0.4l0.9-0.5l0.5 0.8l0.5 2l0.4-3.1l0.5 0.7l0.9-1.1l0.5 2l0.5 0.5l0.4-3.3l0.5 0.6l0.4 1.4l0.5-0.5l0.4-2.7l0.5-0.3l0.5 1.2l0.9 1.6l0.5-1.4l0.4-0.3l0.5-1.4l0.4 0.8l0.5-1.2l0.9 2.1l0.5-0.6l0.5 0.9l0.4-0.7l0.5-1.3l0.4 2.1l0.5-1.6l0.9-0.5l0.9-1.3l0.5 2.1l0.4-2l0.5-0.6l0.5 0.5l0.4-1.6l0.5 1l0.4-0.6l0.5 1.8l0.4-1l0.5 0.2l0.5-1.8l0.4 1.2l0.5-0.8l0.4 0.6l0.5-1.4l0.4 0.9l0.5 0.4l0.4 0.8l0.5-3.4l0.5 0.1l0.4 0.7l0.5-0.3l0.4 1.7l0.9-4l0.5-0.2l0.4 1.6l0.9-2.1l0.5 1.6l0.4 0.2l0.5-2.3l0.9 1.3l0.5-0.8l0.4 0.2l0.5 1.2l0.4-2l0.5 0.2l0.4 0.7l0.5-1l0.4 0.5l0.5 2.7l0.4-1.3l0.5-3.2l0.4 1.9l0.5 0l0.4-1.6l0.9-0.3l0.5 2.3l0.4 0.7l0.5-2.7l0.4 0.1l0.5 0.9l0.4-2.8l0.5 1.7l0.4-1l0.5-1.9l0.4 1.3l0.5-0.8l0.4-1.4l0.9 3.1l0.4 0l0.5-1.5l0.4 2.4l0.9-2.6l0.5 0.4l0.4-0.5l0.5 0l0.4-1.7l0.5 0.5l0.4-0.3l0.5-4.6l0.5-1.7l0.5-2.8l0.4 1.8l0.5-2.7l0.4 0.8l0.4 0.1l0.4 3l0.5 0.4l0.5-4l0.8 3.6l0.5-1.4l0.4 0.6l0.5-1.2l0.4 0.6l0.5-0.6l0.4-3l0.4 7.7l0.4-1.8l0.5-4.5l0.5-2.4l0.5-0.2l0.3 5l0.5 1l0.5-6.7l0.4 3l0.9-5.3l0.5 0.6l0.8 6.1l0.9-6l0.4 1.9l0.5-1.2l0.4-0.3l0.4 3.2l0.5-2.5l0.5-1.4l0.4 2.2l0.4-0.2l0.6-7.7l0.6 12.7l1.5-6.9l0.3 3.3l0.5 0.8l0.5-3.7l0.3 4l0.5 0.5l0.5-4.6l0.4-1.3l0.4 2.2l0.5-0.9l0.4 0l0.4 4.8l0.9-3.6l0.5-3.6l0.4 1.9l1-7l0.4 3.3l0.4 0.5l0.7 9.2l0.5-2.6l0.4 0.4l0.4 1.9l0.5-6.8l0.5-0.8l0.4 0l0.4-0.2l1.3 3.2l0.4-0.7l0.4 1.5l0.4 0.4l0.5-3.6l0.4 1.5l0.5-1.8l0.4 3.6l0.5-3.6l0.8 3l0.4-0.4l0.5-5.2l0.8 2.9l0.5-3.8l0.8 5.1l0.5-2.1l0.3 2.5l0.6-6.5l0.8 2.6l0.4 2.4l0.4-2l0.4 1.7l0.5-0.2l0.4-2l0.4 1.9l0.5-3.8l0.4 1.5l0.4 0.5l0.4 2.9l0.4-1.4l0.4 1.7l0.5-1.2l0.5-3.2l0.3 4.2l0.5-1.9l0.4 0.3l0.4-0.5l0.4 1.5l0.4 2.7l0.5-4.4l0.3 4.2l0.5-3.1l0.4-0.3l0.5 0.2l0.3 2.2l0.5-0.4l0.3 1.8l0.5-3.3l0.8 4.3l0.5-2.5l0.4-1.2l0.4 1.3l0.5-1.4l0.4-0.6l0.4 1.1l0.4 0.1l0.4 0.6l0.4 1.7l0.5-3.9l0.4 1.9l0.4-2l0.4 1.5l0.4 0.3l0.5-2.1l0.4 2.7l0.5-3.6l0.4 0.7l0.4 0l0.8-0.8l0.8 2.2l0.5-1.2l0.4-2.9l0.4 3l0.5-2.2l0.4-1.3l0.4 0.4l0.8 1.8l0.5-2.3l0.4-0.1l0.4-1l0.4 0.2l0.5-0.2l0.4 0.6l0.4-1.8l0.4 0.5l0.4 1.7l0.4-1.1l0.4 0.8l0.5-2.7l0.4 0l0.4 0.8l0.9-1.8l0.4 1.1l0.5-3.5l0.3 2.3l0.5-0.8l0.4 0.3l0.4-0.7l0.4 2.1l0.9-4.3l0.4-1.4l0.3 4.7l0.4 2.6l0.5-5l0.4 0.2l0.5-4.3l0.3 4.3l0.4-0.1l0.5-1.3l0.3 2.4l0.5-1.1l0.5-3l0.3 1.1l0.4 0.4l0.5-0.8l0.4-1.4l0.4 1l0.4 1.8l0.4-2.8l0.5-0.4l0.3 1l0.5-1.4l0.3 3.5l0.4 1.8l1-6.9l0.2 5.9l0.5-0.8l0.4 0.2l0.4-0.7l0.8 0.6l0.4-1.8l0.4-0.7l0.5-3.1l0.4 1.8l0.4-0.4l0.4 1.9l0.4-1.4l0.4 2.2l0.8-2.8l0.4-0.1l0.8 2.2l0.4 2.3l0.4-1.4l0.4-0.2l0.5-2.8l0.3 1.5l0.9-3.5l0.4 3.6l0.4-2l0.4 1l0.4-1.5l0.4 0l0.9-1.6l0.8-0.9l0.8 0.8l0.3 2l0.5-2.8l0.4-0.4l0.5-1.8l0.3 1.6l0.5-2.8l0.4 0l0.4 0.5l0.4-0.5l0.5-2.9l0.3 2.5l0.9-3.9l0.3 3.1l0.5-2.7l0.4-0.3l0.4-1l0.5-2.3l0.3 2.4l0.9-2.6l0.4-2.8l0.4-0.6l0.4 2.9l0.4-3l0.5-1.4l0.3 0.8l0.5-2.9l0.4 1.9l0.4-2.8l0.4-1.4l0.4 0.2l0.4 1l1.4-6.7l0.3 0.5l0.4-0.1l0.5-1.9l0.4-1l0.4 1.1l0.4-1.1l0.4-2.2l0.4 0.9l0.4-0.4l0.4-1.4l0.7 3.4l0.5-1.8l0.4-0.5l0.7 2.1l0.4 0.5l0.4-1.1l0.4 0.3l0.4 2.1l0.4-1.3l0.3 2.6l0.5-2.8l0.7 4.5l0.7 0.3l1.2 2.3l0.4 0.1l0.7 4.3l0.4-1.4l0.7 3.1l0.5-3l0.3 1.3l0.4 0.6l0.4 0.1l0.7 1.8l0.4 2.2l0.4-0.3l0.4-1.2l0.4-0.1l0.7 2.6l0.4-1.9l0.4 2.3l0.4-1.2l0.4 1.3l0.4-0.4l0.7-0.3l0.4 0.3l0.4 1.3l0.4-0.5l0.3 3.9l0.5-3.6l0.3 2.7l0.4-0.5l0.4-0.2l0.4-1.4l0.4 1.7l0.4-1.5l0.3 2.5l0.4 0.7l0.4-2.8l0.5-1.4l0.3 1.6l0.4-0.1l0.3 3.2l0.5-2.6l0.7 0.7l0.4-1.3l0.8 2.4l0.4-0.6l0.4-1.8l0.4-0.4l0.4 1.1l0.3-0.5l0.4 0.8l0.4-0.3l0.4-1.5l0.4 0.4l0.4 0.1l0.4 0.9l0.3-0.1l0.4-0.7l0.4 1.9l0.4-2.5l0.4 1.7l0.4-0.1l0.4-1.4l0.3 1.6l0.4-2l0.4 0.8l0.4 0l0.4-0.6l0.4 0.8l0.4-1.8l0.3 0.4l0.4-0.4l1.2 1.1l0.4-0.6l0.4-1.6l0.3 1.3l0.4 0.5l0.4-0.1l0.4 0.2l0.8-1.8"/>
<path class="n" d="M135.1 443.3L250.4 408.7L250.4 408.4L135.1 441.5z"/>
<path d="M135.1 441.8l1-0.2l0.4-0.9l0.5 0.3l1-0.2l0.4-0.5l0.5-1.4l0.5 0.9l0.4-1.7l0.5 0l0.5 1.5l0.4-0.5l0.5-2l0.5 2.4l0.4-2.1l0.5 0.1l0.5 0.8l0.4-1.1l0.5-0.6l0.5 0l0.4 2.8l0.5-1l0.5-3.6l0.9 3.3l0.5-1.4l0.4 1.3l0.5-1l0.5-0.3l0.4-1.1l0.5 0.1l0.4-0.9l0.5 0.6l0.9-1l0.5 0.2l0.5 1.5l0.4-1.9l0.5 3.4l0.5-4l0.4 0.6l0.5 1.1l0.4-1.4l0.5-0.4l0.9 1.9l1-2.9l0.4 0.5l0.5-1.4l0.9 1.3l0.5 0.2l0.4-0.9l0.5 1.4l0.4-2.3l0.5 1.4l0.5-1.4l0.4-0.3l0.5 0.5l0.4-1.1l0.5 1.1l0.5-0.8l0.9 0.8l0.4-0.5l0.5 1.9l0.4-1.8l0.5-0.9l0.5 1l0.4-1.1l0.5 1.5l0.4-1.8l0.5-0.1l0.4-0.9l0.5 1.3l0.4 0l1-2.4l0.4 0.7l0.5 0.3l0.4 1.8l0.5-2.3l0.4 1.4l0.5-2.8l0.9 3l0.9-3.5l0.5-0.4l0.4 0.4l0.5-2.3l0.9 3.7l0.9-3.7l0.4 2.3l0.5-0.7l0.5-0.2l0.4-0.5l0.5 0.1l0.9-2.4l0.4 1.4l0.5 0.8l0.9-1.5l0.4 1.6l0.5-2.6l0.9-0.5l0.4 0l0.5 1.2l0.4-1.5l0.5 0.3l0.9-1.1l0.4 1.2l0.5-1l0.4-0.2l0.5 0.2l0.4 1.4l0.5-0.1l0.4-1.6l0.5-0.6l0.4 1.2l0.5-0.2l0.4-0.4l0.4 0.7l0.5 1.9l0.4-1.7l0.5-0.9l0.4 2.8l1-4.7l0.4 0.4l0.5-0.9l0.4 2.1l0.9-1.5l0.4 0.4l0.4 2.2l0.5 0.4l0.4-3.1l0.5 2.1l0.4-2.3l0.5-1l0.5-2.2l0.4 1.7l0.5-4.6l1-5.9l0.5-0.5l0.3 4.3l0.4 0.5l0.5-2.7l0.4 2.4l0.5-1.6l0.5-3.7l0.4 4.5l0.4-0.8l0.5-0.4l0.5-4.3l0.4 2.2l0.4 0.5l0.5 0.2l0.4 0.8l0.4-1.1l0.4 2.1l0.5-0.2l0.3 5.1l1-4.2l0.6-7.8l0.4 0.4l0.3 7.3l0.5-1.8l0.4-0.2l0.9 0.3l0.4-0.6l0.4 2.3l0.5-4.5l0.5-2.2l0.4 2.7l0.3 5.1l0.6-8.1l0.5-0.5l0.3 4.4l0.9-2l0.4 3l0.5-2.8l0.8 4.5l0.4-2.6l0.6-5.2l1.2 2.2l0.5-2.7l0.4 3.5l0.4 0.1l0.4 2l0.5-1l0.5-2.5l0.3 2.1l0.4 3.9l1-8.1l0.3 6.2l0.4 1.2l0.5-0.6l1-8.5l0.5-0.2l0.2 6.7l0.5-1l0.5-3.1l0.7 4.9l1-4.8l0.4 1l0.4-0.5l0.4 1.7l0.5-0.4l0.3 1.7l0.5 0.9l0.9-4.8l0.4 0.6l0.4 2.1l0.5-1.9l0.4-0.7l0.4 2.1l0.3 5l0.5-2.1l0.8-0.2l0.5-1.2l0.4 1.8l0.4-1.6l0.4 0.7l0.5 0.2l0.4 0.8l0.8-0.6l0.5-0.1l0.3 1.4l0.5-2.3l0.5-0.2l0.4 0.7l0.4-0.8l0.4-0.1l0.5-0.6l0.2 4.5"/>
<path d="M250.5 408.7l0.5-4.5l0.4 0.3l0.5-0.4l0.4 0.4l0.4-1l0.4 0.5l0.4 1.7l0.5-2.7l0.4 1.7l0.4-2l0.5-0.7l0.4 0.7l0.4-0.3l0.4 0l0.4 0.4l0.5-0.6l0.4 0.3l0.4-1.3l0.8 1.1l0.5-0.3l0.4-2l0.5 0.5l0.4-1.3l0.4-0.6l0.4 2l0.5-1.4l0.3 1.2l0.5 0.1l0.5-3.3l0.4 0.6l0.4 1.1l0.4-2.2l0.4 3l0.4 1l0.5-4l0.4 0.4l0.3 2.9l1-4.1l0.4 0.2l0.3 1.9l0.5-1.5l0.5-2.6l0.4 1l0.3 3.6l0.5-3.1l0.4 1l0.5-3l0.4-0.6l0.4-0.1l0.4 2.5l0.8-1.6l0.5-3.8l0.4 0.8l0.4 2.1l0.4 0l0.4 0.7l0.3 3.1l0.6-6l0.4 0.7l0.3 2.4l1-6l0.8 3.9l0.8-1.6l0.4-0.4l0.8 2.3l0.9-3l0.4-0.7l0.4 0.4l0.4 1.2l0.4 0.3l0.5-2.4l0.4 1.2l0.4-0.4l0.4-0.8l0.3 3.2l0.5-2.1l0.4-0.6l0.4 0.9l0.4 0.5l0.4-0.3l0.4 0l0.4 2l0.4-0.1l0.5-2.3l0.3 2l0.5-2.2l0.4-0.7l0.4 0.8l0.4-0.9l0.4 0.2l0.4 2.1l0.9-2.6l0.3 1.5l0.5-2.8l0.4 0.7l0.4-1.3l0.5-0.6l0.3 0.9l0.5-1.5l0.4 0.9l0.4-0.2l0.4-2.8l0.4 2l0.4-1.6l0.4 2.1l0.5-3.6l0.4 0.8l0.4-2.3l0.4 0.5l0.4 0l0.5-1.3l0.4-0.4l0.4 0l0.9-3.4l0.3 1.5l0.5-0.5l0.4-2.3l0.4 0.3l0.4-0.4l0.5-2l0.4-1.2l0.4-0.5l0.5-1.6l0.3 0.8l0.5-2.1l0.4 0.2l0.4-0.5l0.4-1l0.4 2.7l0.5-4l0.4-1.1l0.4 0.8l0.4-0.7l0.5-3.3l0.8-3.2l0.4 0.4l0.5-1.8l0.4-0.5l0.4-2.5l0.4 0.8l0.4 0.4l0.4-0.9l0.4-0.4l0.4 0.1l0.8 0.9l0.4-0.1l0.3 2.2l0.5-1l0.3 0.6l0.8 0.1l0.4 1.9l0.4-0.2l0.4 0.2l0.3 3.1l0.4 0l0.4-0.9l0.3 2.8l0.4-0.4l0.8-0.1l0.4 1.3l0.8 1.2l0.3 3.9l0.4-3.1l0.4 1.9l0.4 0.6l0.8-2.2l0.4 2l0.7 2.1l0.4 0.2l0.3 1.4l0.4 0.5l0.8-1.2l0.8 3.2l0.4-0.9l0.4-0.1l0.3 0.9l0.5-1.9l0.3 2.3l0.4 0.1l0.4 1.8l0.4-3.2l0.4 2.6l0.4-0.6l0.3 1.2l0.4-0.2l0.4 2.7l0.4-0.9l0.4-2l0.4 0.3l0.3 3.7l0.5-3.3l0.4-0.2l0.3 1.9l0.4 1.1l0.4-2.1l0.4 0.3l0.4 1.5l0.4-2.6l0.3 2.1l0.4 0.7l0.4 0.3l0.5-3.7l0.3 0.6l0.4 1.5l0.4-0.4l0.4 1.3l0.4-1.7l0.4 1.3l0.3 0l0.5-2.6l0.3 2.1l0.4 0.7l0.4-1.6l0.4-0.5l0.4 0.2l0.4 0.7l0.7 0.3l0.5-1.7l0.3 0.4l0.4-0.5l0.4 0.4l0.4 3.1l0.4-4.1l0.7 2.6l0.5-3.2l0.3 1.5l0.5-1.5l0.3 1.6l0.4-0.4l0.3 2.6"/>
<path class="n" d="M352.5 378.0L356.3 376.9L356.4 374.2L352.5 377.7z"/>
<path d="M352.5 378l0.4-3.1l0.4 1.2l0.4-1.5l0.3 1.5l0.4-0.7l0.4 0.2l0.4-1.5l0.4-0.4l0.4 1.7l0.4-0.9"/>
<path class="n" d="M145.1 452.7L159.9 448.2L159.9 447.9L145.1 448.8z"/>
<path d="M145.1 449.1l0.5 0.5l0.4-0.2l0.5 1.9l0.5-2.1l0.5 2.2l0.4-1l0.5-0.2l0.5-3l0.5 2.3l0.4-1.6l0.5 0.3l0.5-1.2l0.9 0.3l1-0.3l0.4-0.8l0.5 1.3l0.5-0.8l0.5 2.3l0.4 0.3l0.5-3.8l0.5 0l0.4 2.3l0.5-1.5l0.5-0.6l0.4 1.3l0.5-1.3l0.5-0.7l0.9 2.6l0.2 0.6"/>
<path class="n" d="M160.4 448.0L368.2 384.5L368.3 382.0L160.4 447.7z"/>
<path d="M160.4 448l0.3-2.2l0.4 0.3l0.5 0.9l0.5-3.3l0.9 0.5l1-1.2l0.4 0.3l0.5 0.1l0.5-0.6l0.4 1l0.5 0.4l0.5-2.3l0.4 2.3l0.5-0.5l0.5-1.6l0.4 2.3l0.5-3.5l0.5 0.1l0.4 1.7l0.9-1.7l0.5 0.6l0.5-0.6l0.4 1.8l0.5-3.1l0.5 1.6l0.4-1.8l0.5 1l0.9-1.5l0.5-0.1l0.4 3l1-3.3l0.4 1.7l0.5-2.3l0.4 2.8l0.5-2.9l1-0.7l0.8 2.9l0.5 0.3l0.5-3.3l0.4 1.5l0.5-0.6l0.5-1.4l0.4 0.8l0.5 0.2l0.5-2.1l1.3 1.4l0.5-1l0.9-1l0.5-0.9l0.4 0l0.5 1.9l0.4 0.1l0.5-1l0.5-0.3l0.4-0.5l0.9 0.2l0.5 0.8l0.4 0l0.5-1.7l0.5-0.3l0.4-0.4l0.5 0.1l0.4 0.5l0.5-0.9l0.9-0.2l0.5-1.6l0.4 1.7l0.5-0.5l0.4-1.5l0.5 0.2l0.4 0.7l0.5-1.7l0.4 0.9l0.5-0.3l0.4 2.7l1-3l0.4 0.7l0.5-0.8l0.4 1.3l0.5-2.2l0.4 1.2l0.5 0.2l0.4-0.3l1.4-1.5l0.4 0.7l0.4 2.1l0.5-2.5l0.4 3.1l1-3.3l0.4 2.4l0.5-3.1l0.4 1.6l0.5-0.7l0.4-1.7l1-2l0.9 0l0.4-1.3l0.7-7.8l0.3 5.7l0.5-2.6l0.4 1.3l0.5-1l0.6-6.7l0.3 5.3l0.9-0.5l0.9 0.8l0.4-1l0.9 2.4l0.9-2.1l0.4 2.7l1.1-11.5l0.3 6.9l0.4 3.2l0.4 1l1.1-8.3l0.3 6.1l0.4-1.4l0.6-4.8l0.4-0.1l0.5-0.5l0.5-3.1l0.7 8.5l0.9-2.2l0.5-2.9l0.5-0.7l0.7 5l0.5-2.4l0.4 1.7l0.6-3.3l0.4 1.1l0.5-2.9l1.1 7.6l0.4 1.3l0.5-2l0.4-0.1l1-4.9l0.5-1l0.5-2.2l0.4 1l0.3 5.5l0.4-0.3l0.6-4.7l0.4 0.2l0.4 3.5l0.4-1.1l0.4 1l0.6-3.3l0.3 3l0.4 0.4l0.5-2.6l0.5-0.6l0.4 0.1l0.3 4.7l0.5-3l0.4 1.6l0.5 0.3l0.9-1.7l0.3 3.5l0.6-4.6l0.4 1.3l0.3 2.7l0.6-5.8l0.4 0.2l0.4 1.7l0.4 0.3l0.5-2.3l0.4 0.8l0.3 4.4l1.1-5.6l0.2 5.8l0.6-4.3l0.4 0.2l0.3 4.8l0.4-0.3l0.5-1l0.4 0.7l0.9-0.2l0.3 2.5l0.5-2.8l0.9-0.3l0.3 4l0.6-4.5l0.4 0.4l0.4-0.5l0.8 2l0.5-1.9l0.4 2l0.4-1.6l0.4 1l0.5-1.8l0.4 0l1.3 0.7l0.5-1.2l0.3 0.9l0.5-1.5l0.4 0.2l0.9-1l0.4 0.9l0.5-0.6l0.4-1.2l0.4 0.9l0.4-0.1l0.5-0.9l0.4 0.6l0.4-0.1l0.5-1l0.4 1.3l0.5-3.1l0.4 0.9l0.4 0.1l0.5-2.4l0.4 0.7l0.3 1.7l0.4 0.6l0.5-1.9l0.5-0.4l0.3 1.7l0.5-2.8l0.4 0.2l0.5-1.6l0.4 0l0.4 1l0.5-2l0.4 2.1l0.5-4.8l0.5-0.8l0.3 3.2l0.8 2.2l0.4-1.1l0.6-4.1l0.4 0.7l0.3 1.6l0.5-1.8l0.4 0.9l0.3 4.9l0.5-4.6l0.4-0.4l0.5-2.1l0.4 0l0.5-0.3l0.3 1.6l0.4 0.8l0.5-0.9l0.4-0.3l0.4-0.6l0.5-2.6l0.3 3.3l0.4 1.4l0.6-6l0.5-1.8l0.2 7.5l0.4 0.3l1-6l0.7 4.4l0.4-0.9l0.3 3l0.5-0.1l0.5-2.7l0.4-0.4l0.4 0l0.4-1.1l0.4 1.2l0.5-1.6l0.4 1.1l0.5-3.6l0.4 0.3l0.3 4l0.4 0.2l0.5-3.4l0.4-0.6l0.4 2.7l0.4-0.1l0.4-0.7l0.3 2.3l0.6-3.6l0.3 1.8l0.5-1.8l0.4 1.1l0.4 0.2l0.3 1.2l0.5-3.4l0.5 0l0.3 1.6l0.5-2.7l0.8 2.5l0.4-2.2l0.4 2.2l0.4-1.2l0.4-0.3l0.9-2.8l0.4 1.6l0.5-2l0.3 1.4l0.5-1.9l0.4 0.9l0.5-2.5l0.3 0.8l0.5-1.2l0.4 0.6l0.4-2.1l0.4-0.2l0.5-2.4l0.4 0.5l0.4 0l0.4 0.1l0.5-0.8l0.4-1.5l0.4 0.8l0.5-3.1l0.3 1.2l1-3.9l0.7 1.5l0.5-2.2l0.4 0.7l0.5-3.3l0.4-1.1l0.4 1.4l0.4-1l0.5-1.9l0.3 0.9l0.4-0.1l0.6-5.1l0.4-1.9l0.4 2.7l0.7 1.3l1.1-7.8l0.3 1.1l0.5-3l0.3 3.9l0.5-3.2l0.4 1.2l0.5-4.1l0.4-0.4l1.1 4.4l0.4-3.4l0.4 2.3l0.4 0.1l0.4-2.4l0.4 0.9l0.7 5.5l0.3 1.1l0.5-0.8l0.3 0.3l0.5-0.7l0.3 3.6l0.4-0.6l0.4 0.4l0.4 0l0.3 1.4l0.4-0.1l0.3 3.1l0.4 1.7l0.4 0.3l0.4-1.6l0.3 3.2l0.5-1.3l0.4-0.5l0.4-1l0.3 2.9l0.4 0l0.4 0.5l0.4-0.7l0.4-0.1l0.3 3.5l0.5-1.2l0.3 0l0.8 2.5l0.4-1.2l0.4-0.2l0.7 2.8l0.5-1.2l0.3 0.1l0.9-0.8l0.3 2.1l0.4-0.5l0.4 1.9l0.4-3.6l0.3 5.2l0.4-2.2l0.5-0.7l0.3 0.1l0.4 1.8l0.4-1.7l0.4-0.5l0.4 0.7l0.8 0.2l0.4 0.8l0.8 0.2l0.3 0.5l0.5-2.1l0.3 2l0.8-0.8l0.4 1l0.4-0.2l0.4-2.3l0.4 3.4l0.4-2.2l0.4-1.1l0.4 1.9l0.4-1.3l0.3 1.3l0.8 0.4l0.8-0.4l0.4-1.6l0.4 2l0.4-1.3l0.4 0.7l0.4-2.7l0.4 2.2l0.3 0.5l0.5-2.8l0.7 2.7l0.9-3.4l0.3 4l0.4-2.8l0.4-0.9l0.4 1.3l0.4-0.4l0.4-1.2l0.3 1.9l0.4-0.8l0.4-0.4l0.8-1.3l0.4 1l0.4 2l0.4-1.7"/>
<path class="n" d="M155.3 462.4L164.4 459.5L164.4 459.2L155.3 461.7z"/>
<path d="M155.3 462l0.5-4.4l0.5 1.1l1-0.2l0.4 1.3l0.5-1.4l0.5 0l1-1.4l0.4 1.2l1-2.6l0.5 3.9l0.5-3.9l0.4 0.7l0.5 0l1 0.5l0.4 2.7"/>
<path d="M164.5 459.5l0.4-2.1l0.5-1.7l0.5-0.8l0.4 2.6l0.5-2.7l1 1.7l0.4 0.2l1-2.8l0.9-0.1l0.5-0.7l0.5 2.3l0.9-0.2l0.5-1.7l0.5-0.5l0.5 0.6l0.4-0.4l0.5-1.1l0.5 2.5l0.4-0.4l1-2.6l1.4 0.5l0.5-0.9l0.4 1.6l0.5 0.5l0.5-3l0.4 3.3l0.5-1.5l0.5-2.4l0.4 4.6"/>
<path class="n" d="M181.7 454.2L380.5 392.4L380.6 387.1L181.7 453.9z"/>
<path d="M181.7 454.2l0.2-0.8l0.5-3l0.5-0.1l0.9-0.8l0.5 1.7l0.4 1l0.5-0.9l0.5-1.9l0.4 1.9l0.5 1l1-3.7l0.4 0.4l0.5-1.1l0.5 0.5l0.4-1l0.5 0.9l0.5-1l0.4-0.3l0.5 0.4l0.4 2.3l0.5-3l0.5 0.9l0.5-1.1l0.4 0.4l0.5 0.7l0.4-0.9l0.5 1.9l0.4-0.6l0.5-1.1l0.5-1.7l0.4 1.5l0.5 0.4l0.5-2.1l0.5-0.5l0.4 0.9l0.5-0.3l0.4 0.4l0.5-1.5l0.4 1.6l0.6-3.8l0.4 3.6l0.5-2.1l0.4 1.3l0.4 0.7l0.5-0.4l0.5-3.1l0.9 0l0.5 1.5l0.4-0.9l0.5 1.5l0.4 0.1l0.5-3l0.5 0l0.5-0.4l0.4 0.8l1-2.4l0.4 0.3l0.9 2.1l0.5-2.5l0.4 0.2l0.5 1.3l0.4-1.5l0.5-0.3l0.4 2l0.5-1.2l0.4 1.4l0.5-1.5l0.4 1.5l0.5 0.1l0.5-3.2l0.5 0.1l0.4 0.8l0.5-0.6l0.4 0.4l0.5-0.6l0.4 0.8l0.4-0.3l0.5 0l0.5-2.1l0.4 1.1l0.5 0.4l0.4 2.1l0.5-1.6l0.4 0.4l0.5-3.1l0.5 0.3l0.5-1.9l0.4-0.1l0.5-0.5l0.4-0.9l0.6-3.2l0.4 1.5l0.4 0.3l0.5-1.3l0.4 0.9l0.5-0.1l0.5-1.2l0.4 1.7l1.1-9.8l0.4 1.9l0.4 1.1l0.5-2.2l0.7 9.7l0.6-5.3l0.5-3.3l0.4 2.5l1.1-9.1l0.4 1.3l0.3 6.8l0.4 0.1l0.4 2.5l0.4 0l0.4 1.5l0.7-6.6l0.5-3.8l0.4 1.1l0.5-0.8l0.4 1.9l1-3.1l0.3 4.2l0.8 2.7l0.5-1.2l0.3 3.9l0.4 1.1l0.6-4.9l1.5-5l0.4-0.6l0.3 5.3l0.4 0.7l0.6-5l0.8 4.4l1-5.3l0.4 1.2l0.5-2.1l0.5-1.2l0.6 8.9l0.6-4.7l0.5-2.6l0.4 1.6l0.6-4.7l0.7 4.4l0.5-2.9l0.8 4.8l0.4 1.1l0.5-4.8l0.5-0.1l0.4 0.3l0.5-1.2l0.4 0.5l0.2 8.7l0.5-3.5l0.7-7.3l0.4 1.2l0.3 3.7l0.5-1.3l0.5-3.3l0.3 4.1l0.4 1.7l0.5-1.4l0.3 1.7l0.5 0.8l0.3 2.2l0.5-2.1l0.5-0.4l0.4 0.8l0.4 1.5l1.3-2l0.4 0.9l0.4 2.5l0.5-1.8l0.4 0.2l0.4 1.3l0.4-0.1l0.5-1.7l0.4-0.6l0.4 0.6l0.4 1.3l0.5-0.5l0.4 1.1l0.9-2.3l0.4 1.4l0.5-1.2l0.8-0.8l0.5-0.2l0.4 1.3l0.4-0.5l0.4 1l0.5-2.6l0.8 1.3l0.5-1.3l0.4 0.4l0.5-1l0.4 0.4l0.9-1.9l0.4 1.9l0.9-3.2l0.4 2.4l0.4 0.2l0.4 0.5l0.5-2.2l0.4 0.9l0.4-0.5l0.6-4l0.7 2.6l0.4 0.8l0.5-2.1l0.4 1.1l1-3.2l0.3 1.9l0.5-1.7l0.4 0.6l0.5-2.3l0.8 2.5l0.4-0.4l0.4 0.6l0.5-1.8l0.4 0.4l0.5-0.6l0.4 0.8l0.8-1.2l0.5-2.1l0.8 1.2l0.5-2.2l0.4 0.2l0.4 2.7l0.4-0.8l0.5-3.3l0.4 2.8l0.4 0.5l0.5-3.5l0.4 1.1l0.5-1.8l0.4 1l0.4-1.3l0.4 1.7l0.9-1.7l0.4 1l0.4 0.1l0.9-3.1l0.4 1.1l0.4-0.1l0.4 0.4l0.3 3.7l0.6-4.1l0.4-0.1l0.4-1l0.3 4.1l0.5-2.7l0.5-1.1l0.3 1.3l0.4 0.2l0.4 1.4l0.4 0l0.5-0.5l0.5-2.3l0.4 0.6l0.4-0.6l0.3 2.5l0.5-2.5l0.4 2l0.4-1.7l0.4 0.5l0.9-1.9l0.4 0.8l0.5-1l0.3 2.1l0.5-1.6l0.4-0.7l0.4-0.1l0.3 2.7l1.4-3.6l0.4 1l0.4-0.3l0.4 1.2l0.4 0.4l0.5-3.5l0.4 0.5l0.4-0.7l0.4 1.6l0.5-2.1l0.4-0.3l1.3-3.3l0.4-0.3l0.4 0.1l0.4 1.8l0.5-2.5l0.3 1.8l0.5-3.2l0.4 0.3l0.5-2l0.4 0.1l0.4 1.6l0.5-3.5l0.4 0.5l0.5-2.3l0.4 0.1l0.3 1.4l0.5-2.3l0.4 0.4l0.9-3.6l0.9-1.8l0.5-1.6l0.4-0.6l0.3 1.9l1-5.9l0.4-0.5l0.4 0.3l1.3-1.6l0.5-1.3l0.3 0.9l0.5-1.8l0.4-0.8l0.3 2.5l1-4.8l0.4-0.5l0.5-2.3l1 5.7l0.4 0.2l0.4 1.6l0.9-3.8l0.3 2.8l0.4 1.6l0.4-1.3l0.3 2.5l0.4-0.7l0.4 2.6l0.4-0.8l0.3 1.7l0.5-2.1l0.4 0.1l0.3 3.4l0.4-0.7l0.4 1l0.8-0.8l0.4 0.5l0.3 1.5l0.4 0.2l0.4 2.4l0.4 0.4l0.8-1.9l0.3 2.8l0.4-0.1l0.4 0.2l0.8-0.5l0.4 2.4l0.4-0.7l0.4 0l0.8 1l0.3 1l0.4 2.1l0.8-2.7l0.4 1.2l0.4-0.3l0.4 1l0.3 2.2l0.5-2.3l0.4 0l0.4-0.7l0.7 2.6l0.4-0.3l0.4-1.3l0.4 1.8l0.4-0.3l0.4-1.3l1.2 0l0.7 2.7l0.5-2.1l0.8-0.4l0.4 0.9l0.4-1.5l0.3 1.3l0.9-1.6l0.3 2.3l0.4 0.4l0.4-1.9l0.4 2l0.4 0.3l0.4-1.9l0.4 0.1l0.4-0.6l0.4 0.3l0.4-1.3l0.4-0.3l0.4 1.1l0.4-0.1l0.3 2.7l0.5-3.4l0.4 0.3l0.3 1.7l0.4-1.4l0.4 0.6l0.4 1.3l0.4-2.9l0.4 0.1l0.4 0.8l0.4-2.3l0.4 1.8l0.4 0.5l0.4-0.9l0.4 0.6l0.4-1.5l0.3 1.3l0.4-0.1l0.4 1l0.4-1.7l0.4 0.5l0.9-3"/>
<path class="n" d="M165.9 472.3L393.0 400.4L393.0 398.7L165.9 470.1z"/>
<path d="M165.9 470.4l0.5-1.9l1.5 0.3l0.4-0.2l0.5 1.6l0.5-2.1l0.5 1.2l0.5-1.6l0.4 2.4l1-3.5l0.5 0.1l1 0.7l0.5-1.5l0.4 3l0.5-3.1l0.5 0.9l0.5-1.3l0.5 0.3l0.4 1.3l0.5 0l0.5-0.9l0.5 0.8l0.5-1.3l0.4-0.2l0.5-0.4l0.5 1.2l0.5-2.6l0.5 0.4l0.4-0.3l0.5 2.1l0.5-2.3l0.5-0.3l0.4 1.7l0.5-2.3l0.5-0.1l0.5 0.6l0.5-0.1l0.4 2.1l0.5-3l0.5 0.9l0.5-0.1l0.4 0.9l0.5-1.7l0.5 1.4l0.4 0.7l0.6-3.3l0.4 1.3l0.5-2.2l0.5 0.9l0.4 0.4l0.5-1.4l0.5 2.6l0.5-2l0.4 0.2l0.5-1.6l0.5 2.5l0.9-0.1l0.5-2.2l0.5-0.4l0.4 2.8l0.5-3.5l0.5 2.4l1.4-1.7l0.5 0.8l0.4-0.4l0.5 0.2l0.4 1.2l0.6-3.4l0.5-0.5l0.4-0.9l0.5 1.6l0.5-1.5l0.4 0l0.5 0.3l0.4 1.3l0.6-2.7l0.3 4l0.6-2.3l0.4 0.7l0.5-2.9l0.5-0.3l0.5-1l0.4 2.1l1-2.7l0.4 0.7l0.5 0.2l0.5-0.2l0.4 0.6l1-1.4l0.4 0l0.5 0.3l1-1.5l0.4 0.3l0.4 3.1l0.5-3.3l0.5-0.8l0.5 0.7l0.4-0.3l0.5 0.8l0.5-1.5l0.4 1l0.5-1.3l0.5-0.3l0.9-1.8l0.9 1.7l0.4 2.5l0.6-3.9l0.4 1.5l0.5-1.4l0.4 0.4l0.4 1.6l0.5-0.2l0.5-1.2l0.5 0l0.4-1.3l0.9 2.8l1-3.3l0.4 3l0.4 0.1l0.5-0.6l0.5-2l0.9-0.7l0.4 1.1l0.6-1.8l0.4 1.1l1.1-6.5l0.5-0.9l0.4 1.6l0.5-2.7l0.5-0.6l1-4.6l0.4 3.9l0.5-1.6l0.4-0.6l0.4 1.6l0.5-0.2l0.5-0.9l0.4-0.5l0.6-2.3l0.3 4.3l0.5-1.7l0.8 2.1l0.6-3.5l0.4 1l0.5-0.3l0.5-4.2l0.5-0.4l0.4 1.5l0.5-0.1l0.5-2.4l0.2 6.6l0.3 4l0.7-5l0.4-0.1l0.4 1l1.1-5l0.5-1.5l0.2 6.7l0.4 0.4l1.2-7.5l0.3 3.9l0.4 2.2l0.4 0.3l0.5-2.5l0.4 1.1l1.1-4.6l0.8 1.8l0.4 2.4l0.4 0.5l1.1-5.1l0.4 0.5l0.5-0.7l0.5-1.2l0.2 6l0.4 1.6l0.5-0.9l0.5-3.2l0.5-1.8l0.4 1.8l1.2-8.7l0.2 6l0.4 0.6l0.5-0.6l0.3 4l0.9-1.9l0.6-2.1l0.2 5l0.4 3l0.6-5l0.4 0.5l0.5-2.5l0.4 2.6l0.6-4.2l0.4 0.1l0.6-3.1l0.2 4.4l0.6-3.3l0.3 3.1l0.4 0.2l0.5 0.5l0.8 2.4l0.4 0.5l0.5-1.9l0.3 2.1l0.6-2.3l0.4-0.9l0.8 2.2l0.5-0.9l0.4 0.2l0.4 1.2l0.4 0.3l0.4 1.3l0.5-1.6l0.5 0l0.4-1.3l0.4 3.1l0.5-2.3l0.8 1.8l0.5-2.3l0.3 2.4l0.5-0.9l0.3 2.9l0.6-3.2l0.5-1.6l0.3 2.5l1-2.1l0.4-0.3l0.5-1l0.4 0.6l0.4 0.3l0.4 0l0.5-0.4l0.4 0.3l0.4 0.9l0.4-0.5l0.5-1.7l0.4 0.7l1-1.6l0.8 0.3l0.5-0.6l0.3 1.3l0.5-0.2l0.6-4.4l0.3 2.3l0.5-1.8l0.3 3.5l0.5-0.5l0.4-1.1l0.4 0.4l0.4 2.3l0.6-4.1l0.3 3.5l0.5-3.3l0.9-0.7l0.5-0.9l0.3 1.1l0.5-1.2l0.4 0.1l0.4 1.4l0.9-2.1l0.5 0.4l0.4-0.7l0.3 4l0.6-4.4l0.4-0.7l0.5-0.3l0.4-1.1l0.4 0.4l0.9-1.5l0.5-0.1l0.4-0.4l0.3 2.9l0.4 0.2l0.6-2.6l0.8-0.3l0.4 2l0.6-4.8l0.4-0.6l0.3 3.3l0.5-1.9l0.4-0.5l0.5 0.1l0.4-0.4l0.3 2.4l0.6-3.4l0.5-1.9l0.3 1.9l0.9-2.1l0.3 3.4l0.5-1.3l0.4-0.4l0.7 3.8l0.6-4.3l0.4 0.8l0.3 3.2l1.9-5.2l0.3 2l0.6-4l0.2 4.4l0.4 0.4l1-2.3l0.4-0.2l0.3 2.9l0.5-2.2l0.4 0l0.3 4.3l0.5-3.9l0.5-0.4l0.4 0.9l0.3 1.7l0.5-2.8l0.9-0.9l0.4-0.1l0.4 1.5l0.5-2.5l0.4 0.6l0.8 0.3l0.9-1.7l0.4-0.4l0.4 0.9l0.3 2.2l0.6-3.3l0.3 0.9l1-2.3l0.3 1.8l0.5-2.9l0.4 1.5l0.4-1.5l0.4 1.3l0.9-2.3l0.5-1.8l0.3 2.4l1.4-5.2l0.4 1.8l0.5-1.4l0.3 1.2l0.6-3.3l0.3 2.8l0.9-3.6l0.4 0.9l1-4.3l0.2 3.6l1-5.2l0.5-0.2l0.4-1l0.4 0.9l0.9-3l0.9-1.8l0.4 1.1l0.5-3.6l0.4-0.1l0.3 1.9l0.5-2.2l0.5-1.2l0.3 1.2l1-3.3l0.4-0.4l0.8-0.3l0.4 0.9l0.4-1.4l0.5-0.6l0.7 3l0.3 0.5l0.4 1l0.4-0.7l0.4 0.3l0.4 0.8l0.4 0.3l0.4-0.3l0.4 0.2l0.4 2l0.4-1.5l0.3 2.1l0.4 0.8l0.5-1.6l0.3 1l0.4 2.1l0.4-0.1l0.4 0.8l0.4-0.8l0.4 0.5l0.4-0.2l0.3 2.7l0.4-1.6l0.4 1.4l0.4-0.6l0.4 2.2l0.8-1.9l0.4 1.2l0.4 0.6l0.3 1.5l0.5-1.2l0.3 0.4l0.4 1l0.4-0.3l0.4 0.3l0.4-0.1l0.4 0.5l0.3 3.2l0.5-2.2l0.4-0.9l0.3 3l1.3-2l0.3 1.6l0.5-1.8l0.4-0.3l0.7 1.4l0.4 0l0.4 0.8l0.3 2.5l0.5-3.2l0.3 4.1l0.6-5.5l0.7 3.6l0.4-1.7l0.4 1.4l0.4-1.9l1.2 0.6l0.4-0.9l0.4 0.1l0.7 1.8l0.5-2.6l0.4 1.3l0.8-1.7l0.4 1l0.4-0.2l0.4 0.5l0.8-0.7l0.7 0.9l0.5-1.2l0.3 2.2l0.5-3.5l0.4 1l0.4 0l0.3 0.7l0.4 0.1l0.5-1.5l0.3 0.9l0.4-0.5l0.8 0.7l0.4-0.1l0.4-1.9l0.8 2.5l0.4-2.2l0.4 2l0.4-2.7l0.3 2.9l0.5-3.5l0.4-0.3l0.4 0.5l0.3 2.1"/>
</g>
<line x1="401.8" y1="41.9" x2="393.0" y2="400.4" stroke="#6a6a6a" stroke-width="1.0"/>
<line x1="49.2" y1="362.3" x2="165.9" y2="472.3" stroke="#6a6a6a" stroke-width="1.0"/>
<line x1="165.9" y1="472.3" x2="393.0" y2="400.4" stroke="#6a6a6a" stroke-width="1.0"/>
<line x1="49.2" y1="362.3" x2="44.8" y2="363.4" stroke="#6a6a6a" stroke-width="1.0"/>
<line x1="66.0" y1="378.1" x2="61.4" y2="379.3" stroke="#6a6a6a" stroke-width="1.0"/>
<line x1="83.7" y1="394.8" x2="79.1" y2="396.1" stroke="#6a6a6a" stroke-width="1.0"/>
<line x1="102.4" y1="412.5" x2="97.7" y2="413.8" stroke="#6a6a6a" stroke-width="1.0"/>
<line x1="122.3" y1="431.2" x2="117.5" y2="432.6" stroke="#6a6a6a" stroke-width="1.0"/>
<line x1="143.4" y1="451.1" x2="138.5" y2="452.6" stroke="#6a6a6a" stroke-width="1.0"/>
<line x1="165.9" y1="472.3" x2="160.9" y2="473.9" stroke="#6a6a6a" stroke-width="1.0"/>
<line x1="206.8" y1="459.4" x2="209.7" y2="461.9" stroke="#6a6a6a" stroke-width="1.0"/>
<line x1="243.4" y1="447.8" x2="246.4" y2="450.2" stroke="#6a6a6a" stroke-width="1.0"/>
<line x1="278.9" y1="436.5" x2="282.0" y2="438.9" stroke="#6a6a6a" stroke-width="1.0"/>
<line x1="313.3" y1="425.6" x2="316.4" y2="427.9" stroke="#6a6a6a" stroke-width="1.0"/>
<line x1="346.6" y1="415.1" x2="349.8" y2="417.3" stroke="#6a6a6a" stroke-width="1.0"/>
<line x1="379.0" y1="404.8" x2="382.3" y2="407.0" stroke="#6a6a6a" stroke-width="1.0"/>
<line x1="165.9" y1="472.3" x2="168.7" y2="474.9" stroke="#6a6a6a" stroke-width="1.0"/>
<g transform="translate(0 0.5)">
<text x="37.4" y="371.1" text-anchor="end" class="t">0</text>
<text x="53.7" y="386.6" text-anchor="end" class="t">10</text>
<text x="69.9" y="403.3" text-anchor="end" class="t">20</text>
<text x="89.0" y="421.9" text-anchor="end" class="t">30</text>
<text x="108.8" y="441.0" text-anchor="end" class="t">40</text>
<text x="129.3" y="461.5" text-anchor="end" class="t">50</text>
<text x="152.6" y="482.7" text-anchor="end" class="t">60</text>
<text x="173.8" y="496.0" class="t">3100</text>
<text x="214.0" y="484.3" class="t">3000</text>
<text x="251.1" y="471.6" class="t">2900</text>
<text x="287.2" y="459.9" class="t">2800</text>
<text x="322.1" y="448.3" class="t">2700</text>
<text x="356.0" y="437.7" class="t">2600</text>
<text x="387.8" y="428.1" class="t">2500</text>
<text transform="translate(33.7 204.8) rotate(-90)" text-anchor="middle" class="b">Absorbance</text>
<text transform="translate(82.6 455.1) rotate(44)" text-anchor="middle" dy="8" class="b">Time (min)</text>
<text transform="translate(194.1 528.6) rotate(-15.2)" class="b" style="font-size:23.6px">Wavenumbers (cm<tspan dy="-21" dx="3" font-size="15">-1</tspan><tspan dy="13" dx="1">)</tspan></text>
</g>
</g>
<g transform="translate(216.0 1075.9) scale(1.0 1.0)">
<line x1="41.0" y1="26.7" x2="252.9" y2="7.6" stroke="#6a6a6a" stroke-width="1.0"/>
<line x1="252.9" y1="7.6" x2="401.8" y2="41.9" stroke="#6a6a6a" stroke-width="1.0"/>
<line x1="41.0" y1="26.7" x2="49.2" y2="362.3" stroke="#6a6a6a" stroke-width="1.0"/>
<line x1="252.9" y1="7.6" x2="252.2" y2="310.1" stroke="#6a6a6a" stroke-width="1.0"/>
<line x1="49.2" y1="362.3" x2="252.2" y2="310.1" stroke="#6a6a6a" stroke-width="1.0"/>
<line x1="252.2" y1="310.1" x2="393.0" y2="400.4" stroke="#6a6a6a" stroke-width="1.0"/>
<g class="s" fill="#fbcd7f">
<path class="n" d="M49.2 362.3L252.2 310.1L252.2 307.2L49.1 358.5z"/>
<path d="M49.1 358.8l0.4-1.1l0.9-1l0.8 1.4l0.4-1.6l0.5 0.9l0.4-0.1l0.4-1l0.9 1.9l0.4-0.7l0.4-0.3l0.5 0.5l0.4-2.1l0.4-0.6l0.4 1.7l0.5-0.6l0.4 0.8l0.4-1.9l0.4-0.4l0.5 1l1.2-0.4l0.5 1.3l0.8-2.3l1.3 1.5l0.4-0.7l0.4 0.4l0.4-1.2l0.4-2.4l0.4 0.6l0.5 2.1l0.4-0.7l0.4-2.3l0.4 1.1l0.5 0.2l0.4-0.7l0.4 0l0.4 0.7l0.4-0.7l0.5 0.1l0.4 0.7l0.4-0.9l0.8-0.5l1.3 0.7l0.5 0.9l0.4-0.1l0.4-1l0.4 0l0.4-0.9l0.4-0.4l0.5 1.6l0.4 0.2l0.8-0.4l0.8-2l0.4-0.6l0.5 1.7l0.4-0.7l0.4-2.9l0.4 0.5l0.4 1.3l0.4-0.5l0.9 0.4l0.4 0l0.4-0.8l0.4-1.8l0.4 0.2l0.5 1l0.4-0.8l0.8 1.2l0.4-1.9l0.4 0.1l0.4-0.3l0.4-1.4l0.5 0.2l0.4 0.5l0.4-0.3l0.8-3.9l1.2-2.5l0.4-0.1l0.5 1.4l0.4-0.8l0.4-2.2l0.4-0.3l0.4-0.7l0.8-0.4l0.8-1l0.8-2.1l0.5-1.6l0.4 0.3l0.4-1.8l0.4-4.2l0.4 0.2l0.4 1.5l0.4-4.9l0.4-1.1l0.4 1l0.4-2.2l0.4-0.7l1.6-9.9l0.5-0.9l0.8-4.8l0.4 3l0.4 0.2l0.4-8.5l0.4-2.2l0.4-1.2l0.4 0.7l0.4-0.8l0.4-3.6l0.4-0.6l0.5-1.6l0.8-9.3l0.8 3.1l0.4-4.8l0.8 6.2l1.3 6.7l0.4 4l0.4-1.1l0.4 1.8l0.5 7.1l0.4-0.2l0.4 0.1l1.2 11.9l0.4-1.2l0.4 0.1l0.4 3.4l0.4 2.1l0.4-0.4l0.5 1.7l0.4 0.8l0.4-0.6l0.4 1.8l0.4 0.5l0.8-1.1l0.4-2l0.4-0.4l1.2 4.3l0.4-1.1l0.4-0.4l0.4 0.8l0.4-0.4l0.4-1.6l0.4 0.3l0.4-0.1l0.4-2.4l0.4 0.9l0.4 2.5l0.4-0.3l0.5-1.2l0.4-0.6l0.4 0.2l0.4 1.5l0.4 0.2l0.4-2.1l0.4-1.2l0.8 2.2l0.4-0.3l0.4 0.2l0.4-0.2l0.4-0.5l0.4-0.1l0.4-0.6l0.8 1.7l0.8-0.2l0.4 1.5l0.4 0.7l0.4 0l0.4 0.6l0.4-0.5l0.4-1.1l0.8-0.3l0.4-0.5l0.3 0.7l0.4-0.2l0.8 0.6l0.4-1.1l0.4-0.1l0.4 0.6l0.8-4.4l0.4 1.2l0.4 0.2l0.8-2.4l0.4-1.9l0.8-1.3l1.3-4.2l0.3 0.6l0.4-0.2l0.9-6.4l0.8-1.7l0.4-2.2l1.2-9.3l1.7-14.8l1.7-21.1l1.8-31.7l1.5-32.1l4.5-122.9l0.9-12.9l0.4-1.2l0.4 3.5l0.6 15.5l2 95.9l0.9 33.4l0.7 17.4l1.3 26.3l1.1 14.2l1.8 13.7l0.4 1.5l0.7 1.4l0.8 2.5l0.3 0.7l0.4 0.1l2-3.4l1.6-8.7l1.2-8.9l1.3-14.4l1.3-18.5l2.4-44.9l3.5-89.8l1-21.1l0.4-7.3l0.4-4.2l0.4-0.8l0.4 3.6l0.3 6.9l0.6 18.2l2 104.1l0.9 28.2l0.9 22l1 17.5l1 12.6l1.4 12.1l1.1 7.6l0.7 2.3l1.4 6.2l0.4 1.1l0.7 1l1.1 3.4l0.8 0.3l0.7 1.9l0.4 0.3l0.4 0l0.3 0.9l0.4 0.2l0.4-0.4l0.3 1.2l1.1 1.5l0.4-0.6l0.4 0.1l0.7 0.5l0.4 0.5l1.1 1l0.4 0.2l0.7 0.1l0.4-0.3l0.4 0.1l0.3 0.8l0.4 0.1l0.7-0.5l0.4 0.4l0.4 0l0.3 0.3l0.4-0.1l0.4-0.5l0.7 0.6l0.4-0.3l0.4 0.1l0.3 0.4l0.4-0.1l0.4 0.2l0.3 0.7l0.8-1.7l0.7 1.4l0.8-1.2l0.3 0.9l0.4 0.1l0.4-0.2l0.7-0.6l0.4 0.9l0.3 0.5l1.1-0.7l0.4 0.4l0.4-0.1l1.1-1.1l0.4 0.4l0.7-0.5l0.4 0.2l0.3-0.3l0.8 0.2l0.3-0.5l0.4 0.9l0.7-0.3l0.4 0l0.4-0.5l0.7 0.2l0.3 0.4l0.4 0.1l0.4-0.2l0.3 0.7l0.4-0.1l0.4-0.6l0.7-0.6l0.4 0.1l0.3-0.2l0.4 0.3l0.4 0.1l0.3-0.4l0.8 0.5l0.7-0.7l0.3 0.7l0.4-0.1l0.4-0.8l0.3 0.6l0.4-0.1l0.4-0.8l0.3 0.1l0.4 0.5l0.4-0.2l0.3-0.7l0.4 0.1l0.3 0.4l0.4-0.1l0.4-0.8l0.3-0.3l0.4 0.5l0.4-0.2l0.3 0.2l0.4-0.1l0.3-0.5l0.4 0.1l0.4-0.4l0.3-0.1l1.1 0.6l0.4 0l0.3-0.5l0.4 0.1l0.3 0.4l0.8-1.2l0.3-0.3l1.1 0.5l0.7-0.4l0.4 0.6l1.1-0.4l0.7-0.7l0.7-0.3"/>
<path class="n" d="M72.9 384.6L281.1 328.7L281.2 325.5L72.8 381.8z"/>
<path d="M72.8 382.1l0.4-2.7l0.5-0.2l0.9 1.6l0.4 0.1l0.4-1.3l0.5-0.2l0.4 0.7l0.4-1.3l0.5 0.5l0.4 1l0.5-1.5l0.4-0.3l0.9 1.4l0.4 0.2l0.5-0.3l0.8-1.8l0.5 0.7l0.4-0.2l0.4-1l0.5 1.5l0.4-0.4l0.4-3l0.5 1.7l0.4 1l0.4-0.9l0.5 0.8l0.4 0.5l0.9-2.2l0.8 0.2l0.5-0.1l0.4 0.6l0.5 0.2l0.4-1.7l0.8-0.8l0.5 0.4l0.4 0l0.4-1.2l0.5 1.3l0.4 0l0.4-1.4l0.5-0.1l0.4 1.3l0.4 0.2l0.5-0.7l0.4-1.2l0.9 1.7l0.4-1.7l0.4-0.3l0.4 0.2l0.5-1.3l0.4 0.5l0.5 1.7l1.3 0.2l0.8-2.9l0.8-0.2l0.5 0.3l0.8 0l0.5 0.9l0.4-0.7l0.4-1.2l0.9-0.9l0.4-1.4l0.4-0.9l0.4 1.1l0.5 0.6l0.4 1.4l0.8-3.7l0.5 2.2l0.4 0.8l0.8-3.6l0.5 1.3l0.4 0l0.4-1.2l0.5 0.9l0.8-0.3l0.9-1.9l0.4-0.1l0.8-3.2l0.4-0.7l0.5 1.7l0.8-3.6l0.4 0.6l1.7-4.7l0.4 1.4l0.5-0.7l0.4-1.4l0.8-4.5l0.9-0.1l0.8-2.8l0.9-4l0.4 1.4l0.4-1.1l0.8-2.5l0.5-1.9l0.4-0.4l0.8-3.9l0.5-1.1l0.8-8.6l0.4 0.8l0.5 1.8l0.4-3.7l0.8-2.8l0.9-7.4l0.4 0.3l0.4 1.9l0.4-2.9l0.5 0.4l0.4 0.8l0.8 2.7l0.5-0.3l0.4-1.7l1.2 6.6l0.5 5.2l1.2 5.7l0.4-0.6l0.4 0.5l0.5 2.9l0.4 0.3l0.4 1.5l0.4 2.7l0.8 1.6l0.9 3l0.4 0.5l0.4-1.6l0.4-0.5l0.4 2.5l0.4 0.3l0.5-1.5l0.8 1.2l0.8-3.8l0.4 3l0.4 1.4l0.5-2.6l1.2-1.2l0.4 0.9l0.4-1.4l0.9 1l0.4-0.6l0.4-0.2l0.8-1l0.4 0.5l0.4 1.1l0.9-1.6l0.4-1.1l1.2 2l0.4-0.2l0.4-1.5l0.9 2.1l0.4-0.4l0.8-2.5l0.8 2.1l0.4-1.5l0.8 0.2l0.5 0.4l0.4 0l0.4 0.3l0.8-0.8l0.4-0.1l0.8-2.3l0.4 0l0.4 0.3l0.5-1.1l0.4 0.7l0.4-0.8l0.4-1.9l0.4 0.8l0.4-0.9l0.4-2.3l0.4-0.2l0.5-1.2l2.5-8.4l0.8-4l0.4-0.9l0.5-2.3l0.8-7.3l0.9-5l0.4-3.8l2.3-22.7l2.3-36.8l2.1-41.9l4.9-127.9l1-17.7l0.5-4.9l0.4-1l0.4 3l0.3 5.8l0.6 19.4l2.1 110l0.9 31.3l0.9 23.6l1.4 22.2l1.1 10.1l1.1 7.1l0.7 3.5l0.4 0.8l0.4 0.4l0.8 0.3l0.4-0.3l1.2-3.4l1.7-8.5l0.4-3.3l1.4-11.7l1.8-23.8l1.4-22.8l1.1-19.8l5.4-131.4l1-15.8l0.4-4.2l0.4-1.7l0.4 3.3l0.6 15.4l2.3 134.4l0.5 21.1l0.9 25.4l1.2 27.3l1.3 17.7l2.1 19.6l0.4 1.3l0.7 4.4l0.8 1.8l1.4 6.4l0.8 1.7l0.7 1l0.8 2.3l0.3 0.6l0.4 0l0.4 0.3l0.7 1.8l0.4 0.3l0.4 1.1l0.4 0.5l0.3-0.3l0.4 0.1l0.8 1.7l0.4-0.5l1.5 2.1l0.3-0.2l0.4 0.1l0.4 0.6l0.4-0.6l0.4 0.5l0.3 0.9l0.4-0.1l0.8 0.2l0.7-0.3l0.4 0.1l0.8 1.2l0.3-0.6l0.8 0.5l0.4-0.4l0.4 0l0.7 0.5l0.4-0.5l0.7 1.2l0.8-0.3l0.4-0.6l0.7 0.5l0.4-0.7l0.4 0.4l0.4 0l0.3-0.1l0.8 0.5l0.7-0.3l0.4 0.2l0.8-0.7l0.3 0.4l0.4 0.9l0.4-1l0.4-0.4l0.3 0.1l0.4-0.2l0.4 0.5l0.7 0.7l0.4-0.2l0.4-0.6l0.4-0.2l0.3 0.7l0.4 0.2l0.4-0.9l0.4 0.1l0.3 0.5l0.4-0.3l0.4 0.5l0.4-0.3l0.3-1l0.4 0.1l0.4 0.6l0.4-0.1l0.3-0.4l0.8 0.4l0.3-0.4l0.4 0.5l0.8-0.3l0.3 0.2l0.4-0.5l0.4-0.2l0.4 0l0.7 0.3l0.7-0.7l0.8 1.5l0.7-2l0.8 0.7l0.3-0.3l0.4 0l0.4 0.3l0.3-0.2l0.4 0.2l0.4-0.3l0.4-0.6l0.3-0.2l0.8 0.2l0.3-0.9l0.4-0.3l0.4 1l0.4 0l1.1 0.4l0.3-0.2l0.8-1.5l0.3-0.3l0.4 0.6l0.4 0l0.7 1.1l0.7-1.3l0.8 0.9l0.3-1.1l0.4-0.5l1.1 0.6l0.8-0.7"/>
<path class="n" d="M89.7 400.5L301.6 341.8L301.6 339.5L89.6 397.3z"/>
<path d="M89.6 397.6l0.5-0.7l0.4-1.1l0.5 0.5l0.4-0.1l0.4-1.2l1 1.4l0.4 0.1l0.4-1.5l0.5-0.1l0.4 0.5l0.5-1.3l0.4 0.6l0.5-0.4l0.4 0.5l0.5 1l0.4-1.9l0.9 2.2l0.4-2.3l0.5-0.9l0.9 1.2l0.4-0.2l0.5 0.5l0.9-0.7l0.4 0.3l0.4-0.9l0.9 0.5l0.5-2l1.3-0.4l0.4 0.8l0.5 0.3l0.4 0.1l0.5-1.1l0.4-0.4l0.5 0.4l0.4-0.6l0.4-0.3l0.5-0.9l0.4-0.1l0.5 1.1l0.4-0.4l0.4 0.9l0.5-0.4l0.4-2.5l0.4-0.8l0.9 2.5l0.9 0.3l0.4-1.3l0.5 0l0.4-0.2l0.5-1l0.4-0.2l0.9-1.7l0.9 2.8l0.8-0.6l0.5 0l0.4-0.7l0.4 0.5l0.5 1.5l0.8-3.5l0.5 0.1l0.9 3.6l0.4-2.7l0.4-1.5l0.5 0.7l0.4-0.1l0.4 1.2l0.9-2.3l0.4 1.4l0.5 0l0.4-0.3l0.4-0.7l0.5-1.1l0.4-0.1l0.4 0.7l1.3-2.9l0.5-2l0.4-1.1l0.9 2.4l0.4-1.8l0.4-0.7l0.5-0.2l0.4-0.7l0.4 0.1l0.5-0.6l0.4 0.2l0.9-1.9l0.4 1l0.8-3.5l0.5-0.7l0.4-0.4l0.4 1.5l0.5 0l0.4-1.8l0.4-3.6l0.5-1.6l0.4-1l0.4-0.5l0.5 0.7l0.4-0.8l0.9-4.6l0.4-0.2l0.4 1.2l0.5-1.5l0.4-3.4l0.4 0.1l0.5 1.8l0.4-1l0.4-4.7l0.5-2.9l0.4 0.4l0.4-2.1l0.5-1l0.8 1.6l0.9-6l0.4 0.1l0.9 2.2l0.8-1l0.5 1.1l0.4 4.2l0.4 0.9l0.4-2.6l0.5 0.8l0.4 3.3l0.8 3.4l0.4 2.5l0.4 0.7l0.5 0l0.8 2.5l0.4 0.2l0.9 1l0.4 1.8l0.4 0.4l0.4-1.7l0.5 0.4l0.4 1.7l0.4 0l0.4-0.5l0.4 2l0.4 0.5l0.5-1.8l0.4-0.1l0.4-0.3l0.5-1.1l0.8 2.2l0.4 0l0.4-0.3l0.5-1.8l0.4-0.4l0.4 0.7l0.4 1.3l0.4-1.1l0.5-2.2l0.4 0l0.4 0.3l0.4 0.7l0.9-3l0.4 2.2l0.4 1.2l0.4-1.9l0.4 0.8l0.4 1.3l0.5-2.6l0.8 4.4l0.4-2.2l0.4-0.5l0.5-0.2l0.8-1.5l0.4 0.2l0.4 1l0.4 0.5l0.9-2.8l0.4 0.3l0.4 0.8l0.4-0.6l0.4 0.1l0.5 0.5l0.4-1.5l0.4 0l0.4 0.7l0.9-1.9l0.4-0.2l0.4 0.3l0.4-0.6l0.9-2.2l0.4 1.1l0.4 0.5l0.4-2.9l0.4-0.3l0.4 0.6l0.9-5.8l0.4-0.4l0.4 0l1.3-4.6l0.4 0.6l0.5-1.4l0.9-5.8l1.3-6.6l1.3-8.8l1.8-13.8l2.9-35.4l5.2-82.5l1-9.7l0.4-2.9l0.4-0.1l0.4 1.8l0.7 7.6l0.7 13.2l2.1 56l1.3 24.3l1.4 16.4l2.2 14.5l0.4-0.1l0.8 3.2l0.4 0.1l0.3 1l0.4 0.4l0.4 0.1l0.4-0.1l0.5-0.9l0.4 0l0.4-0.6l1.7-5.7l1.7-9l1.3-11.1l1-9.5l1.4-16.2l2-28.4l3.7-60.9l1.4-17l0.4-1.9l0.4 0.1l0.4 1.9l0.6 8l2.2 68.5l1.1 30.3l0.7 12l1.6 23.7l1 9.8l1.8 13l1.5 6.8l1.1 3l0.7 2.6l1.5 3.7l0.4 0.1l0.4-0.1l0.8 1.7l0.3 0.5l0.8 0.3l0.8 1.3l0.4-0.1l0.3 0.5l0.8 0.5l0.4 1l0.8-0.8l0.4 0.5l0.3 0l0.4 0.3l0.8 1.4l0.4-0.6l0.4-0.1l0.3 0.3l0.4 0.1l0.4 0.5l0.4 0l0.4-0.4l0.4 0.1l0.4-0.3l0.3 0l0.4 0.4l0.8-0.8l0.4 0.1l0.4-0.2l0.4 0.3l0.7 0.1l0.4 0.9l0.4 0.5l0.4-0.4l0.7 0.2l0.4-0.4l0.4 0l0.4 0.3l0.8-1.3l0.3 0.8l0.4 0.2l0.8 1l0.7-1.6l0.4 0l0.8 1.3l0.4-0.2l0.3-0.4l0.8 0.3l0.8-0.8l0.7 0.3l0.8 0l0.4 0.5l0.4-0.3l0.3-0.8l0.4 0.1l0.4 0.5l0.4 0.1l1.1-0.3l0.4 0.1l0.8-0.4l0.3 0.5l0.8-0.9l0.8 0.7l1.1-1l0.4-0.5l0.7 0.4l0.8 0.1l0.7 0.6l0.4-0.2l0.4 0l0.4-0.4l0.7-1.8l0.4 0l0.4 0.6l0.4-0.3l0.7 0.6l0.8-0.1l0.3 0.2l0.4 0l0.4-0.4l0.4 0.1l0.4-0.7l0.3-0.2l1.5 0.3l0.4-0.1l0.4-0.6l1.1 0.2l1.1-0.1l0.4 0.4l0.8-1.3l0.3 0.1l0.4-0.7l0.4-0.1l0.4 0.6l0.3-0.2l0.4-0.4l0.4 0l0.7 0.6l0.8-0.7l0.7-0.3l0.4 0.6"/>
<path class="n" d="M107.4 417.2L323.0 355.5L323.0 353.0L107.4 413.3z"/>
<path d="M107.4 413.6l0.5 1.1l0.4-0.6l0.4-2l0.5-1.1l0.9 2.4l0.5-1.3l0.4-0.1l0.5 1.2l0.9-2.9l0.4 1.1l0.5-0.1l0.4-0.5l0.5 0.8l0.9-0.8l0.5-0.3l0.4 0.1l0.5-1.7l0.4-0.4l0.5 2.5l0.5 1.5l0.4-1.9l0.4-0.6l0.5 2.6l0.5-1.6l0.4-3.8l0.4 0.3l0.5 1.8l0.9 0.6l0.9-2.2l0.5 0.4l0.4-1.2l0.5 0.7l0.4 2.3l0.9-0.7l0.9-1.8l0.5-0.4l0.4 1.1l0.5-0.1l0.4-1.5l0.5 2l0.4-0.1l0.5-2.2l0.4 0.5l0.5 0.1l0.4-0.6l0.5 0.7l0.4 0.2l0.5 0.6l0.4-1l0.4-1.6l0.5 0.4l0.4 1.4l0.5 0.1l1.3-2.1l0.5 0.1l0.4-0.1l0.5 0.1l0.4-0.7l0.4-1.8l0.5-0.9l0.9 3.5l1.8-2.4l0.9-0.2l0.4 0.3l0.4-1l0.5 0.5l0.4 0l0.5-1.9l0.9-1.3l0.4 0.6l0.4 1.6l0.5-0.4l0.4 0.3l0.5 0l0.8-1l0.5-1.1l0.4-0.5l0.5 1.2l0.4-0.6l0.5-2l0.4-0.4l0.4 0.2l0.5-0.8l0.9 0.8l0.4-1.5l0.9-1.8l0.4 0.4l0.9-0.2l0.5-2l0.4-1.2l0.4 1.4l0.9-2.5l0.5-0.7l0.4-0.3l0.4-0.9l0.9-3.2l0.5 0.5l0.4-1.6l0.5-0.7l0.4 0.5l0.4-1.7l0.5-0.5l0.9-0.2l0.4-1.5l0.4-0.3l0.5 0.9l0.4 0.1l0.9-8.2l0.5 0l0.4-1.9l0.5 0l0.4 1.7l0.4-2.6l0.5-1.4l0.4 1.1l0.9-2.2l0.8 3.9l0.5 0.1l0.4 0.4l0.9 0.3l0.4-0.3l1.2 7.8l0.5-0.1l0.4-0.2l0.4 0.4l0.9 4.1l0.4-1.9l0.4-0.4l0.9 1.3l0.4-0.1l0.5 0.5l0.4-0.4l0.4 0l0.4 1.5l0.5 0.2l0.4-1.2l0.4 0l0.5-0.6l0.4 0.6l0.4 1.3l0.4-1.3l0.5 0.2l0.4 0.6l0.4 0.1l0.4 0.6l0.5-1l0.4-0.4l0.4 0.4l0.5-1.8l0.4-0.4l0.4 0.5l0.9-2.4l0.4 1l0.4 0.3l0.5-0.2l0.4 1.3l0.4-0.3l0.4-1.4l0.5-0.3l0.4 0.5l0.4-0.1l0.9-1.4l0.8 2.3l0.9-2.9l0.4-0.5l0.8 2.7l0.5-0.6l0.4 0.6l0.4-0.5l0.5-2.4l0.4 1.7l0.4 0.5l0.8-0.2l0.5-1.5l0.4-0.5l0.8-0.5l0.5-1.4l0.4-0.7l0.4 0.8l0.4 0.2l0.5-1.8l0.4-0.8l0.4-0.3l0.5-1.9l0.8 2.6l0.4-2.1l0.9-1.1l0.5-2.6l0.4-1.2l0.4 0l0.5-2l0.4-1.1l0.4-0.6l0.5-2.4l0.4-0.2l0.4-1.2l2.7-12l0.5-3.1l0.5-4l0.9-5.7l2.9-25.7l5.2-57.7l0.5-4.3l1.3-4.7l0.8 2.8l0.4 2.7l1.3 19.6l0.9 18.4l1.7 22.3l0.7 6.2l0.7 8.1l0.3 2.7l1.9 9.5l0.4 1.1l0.4 0.3l0.8 1.7l0.8 0.8l0.8-0.1l0.8 1.1l0.8-2.6l0.5-0.5l0.4-0.9l1.3-4.4l2.2-11.4l2.9-22.3l3.5-39.7l1.1-14.4l1.5-15.8l0.9-5.9l0.4-1.6l0.4-0.4l0.4 1.2l0.4 2.6l0.9 12.3l2.6 55.7l1.9 26l1.4 11.9l0.7 4.3l0.7 5.5l3.4 11.9l0.3 1l0.4 0.3l0.4 1.3l0.4 0.4l0.4 0l0.4 0.4l0.7 1.6l0.4 0.2l0.4 0.8l0.8 0.8l0.4 0l0.4-0.3l0.4 0.2l0.3 1l0.4 0.5l0.4-0.1l0.4 0.2l0.4 0.9l0.4 0.5l0.4-0.9l0.4-0.2l0.7 0.7l0.4 0.1l0.8-0.4l0.4 0l0.4 1.5l0.4 0.7l0.4-1.1l0.8 0.2l0.8-1.2l0.3 0.2l0.4 0.6l1.6-1.2l0.4 0.2l0.8-0.6l0.4 1.1l0.4 0l0.3 0.4l0.4-0.3l0.4-1l0.4 0.3l0.4 1.3l0.4 0.5l0.8-1.2l0.4-0.1l0.3 0.6l0.4 0.1l0.8-1l1.5 0.8l0.8 0.8l0.8-1.2l0.4 0.5l0.4 0.2l0.7-0.2l0.8-0.9l0.8 0.1l0.4 0.7l0.4 0.2l0.7-0.3l0.4-0.5l0.4 0.2l0.4-0.2l0.4-0.8l0.4-0.2l0.7 0.4l0.4-0.2l0.4-0.9l0.4 0.2l0.4 0.6l0.8-0.4l0.3 0.2l0.8-0.2l0.4-0.4l0.4 0.1l0.4 1.2l0.3 0.2l0.4-1.3l0.4-0.4l0.4 0.2l0.4-0.1l0.8-1l0.3 0.5l0.4 0.2l0.4-0.7l0.4-0.2l0.8 0.1l0.3-0.3l0.4 0.2l0.4 0l0.4-0.2l0.4 0.4l0.7-1.9l0.4 0.9l0.4 0.5l0.4-0.6l0.4-0.2l0.7 0.8l0.8-0.9l0.4 0.2l0.3-0.4l0.4 0.1l0.4 0.3l0.8-1l0.7 0l0.4-0.3l0.4-0.1l0.4 0.3l0.3-0.8l0.4-0.4l0.4 0.7l0.4-0.3l0.7 0.6l0.8-0.9l0.4 0.2l0.3 0"/>
<path class="n" d="M124.3 433.1L343.3 368.5L343.4 365.8L124.3 430.3z"/>
<path d="M124.3 430.6l0.4-0.7l0.5-1.4l0.5-0.7l0.4 1.7l0.5 0.2l1.4-3.7l0.9 0.3l0.5 0.6l0.4-1l0.5 0.3l0.5 3.4l0.4-2.2l0.5 0.1l0.5 2.2l0.4-1.5l0.5 0.5l0.5-0.4l0.4-2.4l0.5-0.2l0.4 1.4l0.5 0.4l0.5-1.4l0.4 0.5l0.5 1.1l0.4-2l0.5-0.5l0.5 1.2l0.9-2l0.4 0.4l0.5 1l0.9-2.5l0.5 1.8l0.4 0.3l0.9-1.6l1-2.5l0.9 3.2l0.9-1.7l0.4-0.4l0.5 0.5l0.5 0.2l0.4-1.1l0.5 0.1l0.4-0.2l0.5-0.9l0.9 1.2l0.4 0l0.5-1.3l0.9 0.4l0.5-0.1l0.9 1.5l0.4-0.7l0.5-2.2l0.4-0.7l0.5 1.6l0.4 0.4l1-1.9l0.4 0l0.9 0.7l0.5 0.1l0.4-1.5l0.5 0.1l0.9-1.5l0.4 2.7l0.5-1l0.4-2l0.5 0.3l0.4-0.9l0.5 0.5l0.9-0.5l0.4 1.6l0.9-1.6l0.5 1l0.4 0.4l0.5-2l0.4-0.9l0.5 0.4l0.4-1l0.5 1.1l0.4 0.1l0.9-3.1l0.5-0.9l0.4 0.7l0.5 2.1l0.9-3l0.4 0.9l0.9-2.4l0.5 0l0.4-0.1l1-3.4l0.4-1l0.4 1.2l0.5-1.9l0.5-0.3l0.4 1.2l0.4-0.9l0.5-0.1l0.4-0.8l0.5-2l0.5-0.5l0.4 0.6l0.5-2.3l0.9-1.4l0.4-1.6l0.9 1.6l0.9-5.9l0.5 0.8l0.9-1.7l0.4 0.8l0.9-2l0.5 0.1l0.4-1.7l0.5-0.2l0.4 0.4l0.9-0.2l0.4 1l0.5 0.1l0.4-0.8l0.4 1.2l0.8 5.8l0.5-0.7l0.5-1.6l0.4 0.7l0.4 1.7l0.5-1.1l0.4-0.1l0.8 2.8l0.5 0.3l0.4-1.8l0.8 3.4l0.5 0.1l0.4-0.4l0.5 0.1l0.4 1.6l0.4 0.6l0.4-0.3l0.5-1.4l0.8 1.6l0.5-1l0.4 0.7l0.5-0.6l0.4-2l0.5-0.5l0.4 0.6l0.4 1.9l0.4 0.1l0.9-2.2l0.9-1.3l1.3-0.1l0.4 0.8l0.5-1.1l0.8 1.4l0.5-2.2l0.4-1l0.4 2.6l0.5 0.1l0.4-3l0.4 1.1l0.5 0.6l0.4-1.3l0.4 1.2l0.9-1.5l0.4 1.3l0.4 0.6l0.5-1.4l0.4 0.3l0.9-3.5l0.5 0.4l0.7 3.5l0.5 0l0.4-0.9l0.5-3l0.5-1.4l0.4 1.1l0.4 0.1l0.8 1.5l0.9-2.9l0.4 0l0.5-0.6l0.4 0l0.9-2.4l0.4-0.2l0.5-1.1l0.4-1.7l0.5-0.2l0.4 0.3l0.9-3.4l0.4-0.1l0.5-0.4l0.4-1.5l0.5-0.8l1.3-4.5l3.3-14.9l1.9-11.3l1.5-10.9l5.8-51.1l1.4-5.7l0.4 0l0.4 0.3l0.4 1.5l1.1 7.4l1.6 22.6l1.3 15.4l1.8 14.4l0.4 1.9l0.7 2.1l0.4 3l0.4 1.6l0.4 0.7l0.3 1.7l0.8 1.1l0.8 1.8l0.4-0.2l0.5-0.5l0.4 0.4l0.4 0l0.4 0.3l0.4-0.8l0.5-1.9l0.8-0.7l0.5-1.4l0.4-0.4l1.4-5.8l0.9-4.9l0.4-1.1l0.5-2.2l1.5-10.4l2.5-20l4.1-38.7l1-6.4l0.9-3.2l0.4-0.1l0.3 2l0.8 2l2.9 47.9l2.3 26.6l1.3 10.2l0.8 3.2l1 6.2l1.2 4.1l0.3 0.3l0.4 1.8l0.4 0.6l0.4 0.3l0.3 1.9l0.8 2.4l0.4 0.8l0.4-0.2l1.2 1.6l0.7 1.5l0.8 0.3l0.4 0.9l0.8-0.4l0.4 0.8l0.8 0.3l0.4 0.3l0.8-0.4l0.7 1.3l0.4-0.1l0.4 0.4l0.4 0.1l0.4-0.4l0.8 0.6l1.2-1.6l0.4 0.1l0.4 0.5l0.4 0.1l0.4 0l0.4-0.6l0.4-0.3l0.4 0.2l0.4-0.3l0.4 0.1l0.8-0.6l0.4 0.7l0.4-0.6l0.4-1.3l0.4 0.5l0.4 1.2l0.8 0.3l0.3 0.9l0.4-0.8l0.4-0.3l0.4 0.7l0.4 0.1l0.4-0.1l0.4-0.6l0.8 1.7l0.4 0.1l0.8-1.5l0.8 0.2l0.7 1.6l0.4-0.3l0.4-0.6l0.4 0.2l0.8-0.2l0.4-0.7l0.4-0.2l0.4 1l0.4-0.2l0.8-1.4l0.7 1l0.4-0.4l0.8 1l0.4-0.7l0.4 0.1l0.4 0l0.4-0.2l0.4-0.7l0.4-1.2l0.7 1.6l0.4 0.1l1.2-0.8l0.4-0.5l0.8 0.8l0.4-0.9l0.7 0.9l0.8-1.8l0.4-0.2l0.4 0.7l0.4-0.6l0.4 0.1l0.4 0.4l0.3-0.4l0.4 0.3l0.8-1.2l0.4-0.4l0.4 0.2l0.4 0.5l0.4-0.6l0.8-0.5l0.3 0.9l0.4 0.2l0.4-1.3l1.2 0.3l0.7-1.1l0.4 0.4l0.8-0.7l0.4 0.6l0.4-0.5l0.4-0.2l0.3 0.3l0.4-0.3l0.4 0.4l0.8-0.8l0.4 0.5l0.3 0.1l0.4-1.1l0.4-0.2l0.4 0.8l0.8-0.5l0.4-0.7l0.3 0l0.4 0.5l0.4-0.4l0.8 0.3"/>
<path class="n" d="M142.7 450.5L365.4 382.7L365.4 379.9L142.7 444.9z"/>
<path d="M142.7 445.2l0.5-0.3l0.5 0.3l0.4 1.8l1 0.4l0.9-2.9l0.5 1.6l0.9-3l0.5 0.5l0.5-0.7l1.4 4.4l0.5-1.5l0.4-3.8l0.5 0.5l0.5 0.7l0.5-1.3l0.4 0.6l0.5 1.1l0.5 0.2l0.4-0.3l0.5-1.4l0.5-0.5l0.4 2.1l1-3l0.4 2l0.5 0.8l0.5-2l0.5-0.5l0.4 1.8l0.5-0.8l0.5 0.4l0.4-0.9l0.5-2.1l0.5 0.8l0.4 2.5l0.5 0l0.5-1.3l0.9-1.7l0.5 0.6l0.4 0.1l0.5 0.5l0.4 0.2l0.5-1.2l0.5-2.6l0.5 1.2l0.4 2.2l0.9-2.9l0.5-0.3l0.9 1.9l0.5-1.5l0.5-0.6l0.4 1.1l1-1l0.9-3.3l0.4 1.9l0.5 0.5l0.5-0.2l0.4 1l1.9-3.8l0.4 1.7l0.5 0.4l0.5-0.5l0.4 0.3l0.5 0.1l0.4-0.2l0.5 0.8l0.4 0.4l0.5-0.1l0.5-0.9l0.9-3.4l0.9 1.4l0.5-0.5l0.4 0.9l0.5-1.7l0.5-1l0.4 1.3l0.5-0.8l0.4-0.1l0.5-0.8l0.5-1.6l0.4 0.7l0.5-0.2l0.9 0.1l0.4-0.4l0.5 0.7l0.4-0.1l0.5-2.3l0.5-0.2l0.4 2.1l0.5-0.4l0.9-4.2l0.5-0.5l0.5-1.4l0.4 0l0.5 0.5l0.9-1.2l0.5-1.3l0.9-1.7l0.4 0.3l0.9-0.2l0.5-0.3l0.5-2.3l0.5-0.5l0.4-0.2l1-3l0.4 0l0.5-2.9l0.5-0.9l0.4 1l0.5-0.5l0.9-3.1l1.4-0.3l0.9-2.3l0.5 0.8l0.4-1.5l0.5-0.2l0.4 0.8l0.5-0.2l0.8 4.3l0.4 0.6l0.5-1.9l0.4 2l0.4 3.2l0.9 0.8l0.4-0.4l0.5-1.2l1.2 3.7l0.5 0.2l0.4-1l0.5 1.6l0.4 0.3l0.4 0l0.5 1l0.9-1l0.8-0.1l0.5-0.6l0.4 0.7l0.9-1.5l0.4 1.6l1-2.2l0.4-0.4l0.5-0.2l0.4 0.1l0.5-0.4l0.4 0.4l0.4-0.3l0.5 0.6l0.4 1.4l0.9-0.5l0.4-0.9l0.5-0.2l0.4 0.3l0.4-1l0.5-0.2l0.9 0.1l0.4 0.5l0.4 1.4l0.4-0.6l1-3.3l0.4-0.3l0.4 1.1l0.5 0l1.3-0.4l0.5-0.6l0.4-0.1l0.4 1.1l0.4-0.4l0.5-2l0.9 0.3l0.4 1.2l0.4 0l0.5-2.1l0.4 0.1l0.4 1.1l1-2.7l0.4 0.2l0.5-0.4l0.4-1l0.9 0.9l0.4-0.5l0.5-1.5l0.4-0.2l0.4 0.4l0.5-1.6l0.5-3.3l0.5-0.8l0.4 1.3l0.4-0.7l1-5.3l0.4 0.9l0.5 0l0.4-0.5l0.5-1.5l0.5-2.6l0.9-2.5l2.4-8.5l1-6.1l1.5-6.7l1-7.1l1-5.6l1.1-8.7l2.2-14.3l2-12.1l0.5-1.7l0.4 0l0.4 0.2l0.5-0.4l0.4 0.3l1.4 9.8l2 18.4l1.1 7.2l0.3 3.6l0.7 3.4l0.8 4.4l0.7 1.8l0.4 1.8l0.8 1.3l0.8 2.6l1.2 0.5l0.5-0.3l0.8 1.3l0.8-1.1l0.4 0l0.4 0.2l2.3-6.3l0.9-2.1l2.9-13.9l0.5-3.7l1-4.9l5.3-39.6l1.5-7.3l0.9-2.7l0.4-0.3l1.1 4.2l0.6 6.2l0.4 1.9l1.4 21.2l1.5 18.1l1 8.8l1.4 9.9l0.7 4l1.1 4.3l0.3 0.9l0.7 4.6l0.8 1.2l1.1 2.7l0.8 0.6l0.8 2.6l0.4-0.1l0.4 0.2l0.7 2.1l0.8 0.6l0.4-0.2l0.8 1.9l0.8 0l0.4-0.3l0.8 1.5l0.4-0.4l0.4 0.3l0.8-0.4l0.4 0.4l0.4-0.5l0.8 0.7l0.4-0.2l0.4 0.1l0.8-0.5l0.4 0l0.5-0.3l0.7 0.5l1.3-1.7l0.4 0l0.4-0.2l1.7-1.9l0.7 1.5l0.5-1.3l0.4-0.1l0.3 0.8l0.4 0.4l0.4 0l0.4-0.8l0.4 0.2l0.8 1.4l0.8-0.2l0.4 1.4l0.4 0l0.4-0.2l0.7 1.3l0.4-0.8l0.5-0.4l0.3 1l0.4-0.1l0.8 0.4l0.4-1.3l0.4-0.3l0.4 0.4l0.4-0.8l0.4-0.1l1.6 0.9l0.8-0.3l1.2 0.1l0.4-1.6l0.8 0.7l1.2-0.3l0.4 0.9l0.8-0.4l0.4-0.4l0.8-0.2l0.4-0.5l0.4 0l0.4-0.4l0.4 0.2l0.3 0.8l0.4-0.2l0.8-1.1l0.5-1.1l0.3-0.2l0.4 0.7l1.2 0.1l0.4 0.5l1.2-0.9l0.4-0.7l0.4 0l0.3 0.8l0.4-0.1l0.4-0.5l0.4-0.1l0.4-0.4l0.4 0.3l0.8-0.9l0.4 0.3l0.4 0l0.4-0.5l0.4-0.2l0.4 0.1l0.4-0.8l0.4-0.2l0.4 0.1l0.3 0.2l0.8-1.2l0.4 1.2l0.8-0.5l0.4 0.5l1.2-1.4l0.7 0.9l0.4 0l0.8-1.3l0.4-0.3l0.4 0.6l0.4-0.5l0.4 0l0.3 0.5"/>
<path class="n" d="M163.8 470.3L390.5 398.8L390.6 394.6L163.8 466.0z"/>
<path d="M163.8 466.3l0.5-1.8l1 1.7l0.5-0.9l0.5 0.4l0.4-0.2l1-1.3l1 2.2l0.4 0.4l0.5-2l0.5-0.6l0.5 1.6l0.5-0.5l0.5-1.6l0.4 0l1 2.4l1-3.9l0.5-0.3l0.4 0.5l0.5 1.4l0.5 0.1l1-3.5l0.4 0.5l0.5 2.2l0.5-0.9l0.5-2.9l0.5 0.1l0.4 2.2l0.5-0.3l0.5-2.5l0.5-0.2l0.9 2l0.9-0.3l0.5 0.1l0.5-0.3l0.9 0.9l0.5-0.7l0.5-0.1l0.4 1l0.5 0.3l0.5-2.3l0.5 0l0.4 1.7l1.5-3.5l0.5 0l0.4 1l0.5-0.4l0.5-0.1l0.4 0.8l0.5-0.6l0.5-1.4l1.4-1.2l0.5 0l0.5 0.7l0.4 1.1l1-3.2l0.9 2.1l0.5-1.7l0.5 0.7l0.4-0.6l0.5-1.3l0.5 0.6l0.4 1.7l0.5-0.5l0.5-2.9l0.9 0.8l0.5-0.7l0.5 0.3l0.4 0.9l0.5-1.6l0.5 0.1l0.4 3.5l0.4-0.6l1.1-3.6l0.4 0.2l0.9-0.1l0.5 0.7l0.5-1.1l0.9 0.3l0.5-0.9l0.4 0.4l0.5-0.8l0.5-2.5l0.5 1.1l0.9-0.9l0.5-0.7l0.5-2.4l0.5 0l0.4-0.5l0.5 0.9l0.4 2.1l0.5-1l0.5-1.9l1.4-3.1l0.5-1.6l1.4-0.5l0.5-1.6l0.5-0.5l0.4 1.2l1-4.2l1.5-1.4l0.4 0l0.5-0.7l0.9 0.3l1.1-5.9l0.4 1.9l0.4 1l0.5-0.4l0.5-1.2l0.4 1.4l0.4 0.4l0.5-1.9l1-2.2l0.4 1l1.2 6l1-2l0.4 0l0.5 0.6l0.4 1.7l0.4-0.4l0.5 0.1l0.8 3.8l0.4-0.4l0.5 0.4l0.9-1.5l0.9 2l0.4-0.1l0.5 0.2l0.9-1l0.4 0.1l0.9-0.4l0.9 0.8l0.5-1.2l0.5-2.1l0.4 0.5l0.4 2.1l0.5-0.4l0.5-1.6l0.4 0.9l1-3.1l0.4 1.9l0.4-0.3l0.5-2.1l0.9 1.3l0.5-0.7l0.4-0.2l0.5-0.5l0.4 0.8l0.4 0l1-2l0.4 0.4l0.4 2.7l0.9-2.8l0.9 2.2l0.4-0.5l0.5-1.9l0.4 0.9l0.4 1.6l0.5-2.1l0.5-0.1l0.4 0.1l0.5-1.1l0.8 1.5l1-2.2l0.4 1.1l1-2.4l0.4 0.9l0.9-1.9l0.4 0.6l1.3 0.4l0.5-0.6l0.5-1.3l0.4 0.4l0.9-2.3l0.5-0.2l1.9-5.5l0.6-2.2l0.8 2l1.4-4.1l1-3.8l0.5-0.4l0.5-1.4l2.5-8.7l2-9.5l1.1-6.3l1.1-4.9l2.8-16.2l1-5.1l2-8.2l0.9-1.2l0.5 0l0.8 2.2l0.3 1.6l1.4 8.7l1 8.5l0.4 1.9l0.3 1l0.7 5.9l0.7 4.5l0.3 1.7l0.4 0.7l0.7 3.8l0.8 2.3l0.4 0.5l0.4-0.1l0.5 0.4l0.3 0.8l0.4 1.5l0.4-0.1l0.5-0.5l0.4 0.8l0.8 0.7l0.9-1.1l0.4 0.2l0.5-0.4l0.9-2.8l0.9-1l0.5-1.6l0.9-1l1.4-5.8l0.5-0.9l1-4.8l0.5-1.4l2.1-10.8l3.7-21.8l1.6-7.4l0.4-1.8l0.5-0.4l0.4 0.2l0.4-0.8l0.4-0.2l1.5 6.8l1.2 10.9l2.1 21.1l1.7 11.5l0.7 2.3l1 6.6l0.4 0.7l0.7 2.8l0.5-0.1l0.7 3.1l0.7 1.7l0.4 0.3l0.8 1.7l0.4 0.4l0.4 0.2l0.4 0.6l0.4 1.1l0.7 1l0.9-0.6l0.4 0.4l0.8 1.3l0.4 0.2l0.4-0.1l0.4 0.4l0.7 1.5l0.9-0.3l0.4-0.3l0.4 1l0.4 0l0.4-0.9l0.4 0.3l0.4-0.8l0.4 0.2l0.8 1.5l0.9-1.2l0.4 0.4l0.4-0.7l0.4-1.4l0.5-0.5l0.4 0.3l0.9-2.3l0.4-0.3l0.4 0.5l0.4-0.1l0.8-0.9l0.8-0.2l0.9-1.5l0.4 0l0.4 0.3l0.7 1.8l0.8 0.4l0.4 0.5l0.4 1l0.4 0.2l0.4 0.8l0.8-0.3l0.4 0.8l0.4-0.3l0.8 1.2l0.8-1.1l0.4 0.7l0.4-0.2l0.4-0.5l0.8 0.4l0.4 0.4l0.8 0.5l0.4-0.9l0.8 0.2l0.4-1.2l0.4-0.1l0.4 0.4l0.4 0.2l0.4-0.5l0.5-0.2l0.4 0.1l0.3 0.6l0.4 0.4l0.5-1.1l0.4-0.5l0.4 0l0.8 0.6l0.4 0l0.8-0.9l0.4 0.5l1.6-1.4l0.4 0.5l0.8-1l0.4 0.8l0.4 0l0.4-0.6l0.4 0.4l0.4-0.9l0.4-0.2l0.4 0.6l0.4-0.5l0.4 0l0.4 1l0.8-2.1l0.4 1.1l0.4 0.2l0.4-1.2l0.4-0.6l0.4 0.7l0.8-1.3l0.4 0.3l0.8-1.3l0.4 0.6l2-1.5l0.4 0.2l0.4 0.7l0.8-0.5l0.4-1.2l0.4-0.3l0.4 0.8l0.8-0.9l0.8 0.9l0.8-0.8l0.4-1.1l0.4 0.3l0.3 0.7l0.4-0.2l0.4 0.4l0.4-0.3l0.4-1l0.4 0.3"/>
</g>
<line x1="401.8" y1="41.9" x2="393.0" y2="400.4" stroke="#6a6a6a" stroke-width="1.0"/>
<line x1="49.2" y1="362.3" x2="165.9" y2="472.3" stroke="#6a6a6a" stroke-width="1.0"/>
<line x1="165.9" y1="472.3" x2="393.0" y2="400.4" stroke="#6a6a6a" stroke-width="1.0"/>
<line x1="49.2" y1="362.3" x2="44.8" y2="363.4" stroke="#6a6a6a" stroke-width="1.0"/>
<line x1="66.0" y1="378.1" x2="61.4" y2="379.3" stroke="#6a6a6a" stroke-width="1.0"/>
<line x1="83.7" y1="394.8" x2="79.1" y2="396.1" stroke="#6a6a6a" stroke-width="1.0"/>
<line x1="102.4" y1="412.5" x2="97.7" y2="413.8" stroke="#6a6a6a" stroke-width="1.0"/>
<line x1="122.3" y1="431.2" x2="117.5" y2="432.6" stroke="#6a6a6a" stroke-width="1.0"/>
<line x1="143.4" y1="451.1" x2="138.5" y2="452.6" stroke="#6a6a6a" stroke-width="1.0"/>
<line x1="165.9" y1="472.3" x2="160.9" y2="473.9" stroke="#6a6a6a" stroke-width="1.0"/>
<line x1="206.8" y1="459.4" x2="209.7" y2="461.9" stroke="#6a6a6a" stroke-width="1.0"/>
<line x1="243.4" y1="447.8" x2="246.4" y2="450.2" stroke="#6a6a6a" stroke-width="1.0"/>
<line x1="278.9" y1="436.5" x2="282.0" y2="438.9" stroke="#6a6a6a" stroke-width="1.0"/>
<line x1="313.3" y1="425.6" x2="316.4" y2="427.9" stroke="#6a6a6a" stroke-width="1.0"/>
<line x1="346.6" y1="415.1" x2="349.8" y2="417.3" stroke="#6a6a6a" stroke-width="1.0"/>
<line x1="379.0" y1="404.8" x2="382.3" y2="407.0" stroke="#6a6a6a" stroke-width="1.0"/>
<line x1="165.9" y1="472.3" x2="168.7" y2="474.9" stroke="#6a6a6a" stroke-width="1.0"/>
<g transform="translate(-2.0 0)">
<text x="37.4" y="371.1" text-anchor="end" class="t">0</text>
<text x="53.7" y="386.6" text-anchor="end" class="t">10</text>
<text x="69.9" y="403.3" text-anchor="end" class="t">20</text>
<text x="89.0" y="421.9" text-anchor="end" class="t">30</text>
<text x="108.8" y="441.0" text-anchor="end" class="t">40</text>
<text x="129.3" y="461.5" text-anchor="end" class="t">50</text>
<text x="152.6" y="482.7" text-anchor="end" class="t">60</text>
<text x="173.8" y="496.0" class="t">3100</text>
<text x="214.0" y="484.3" class="t">3000</text>
<text x="251.1" y="471.6" class="t">2900</text>
<text x="287.2" y="459.9" class="t">2800</text>
<text x="322.1" y="448.3" class="t">2700</text>
<text x="356.0" y="437.7" class="t">2600</text>
<text x="387.8" y="428.1" class="t">2500</text>
<text transform="translate(33.7 204.8) rotate(-90)" text-anchor="middle" class="b">Absorbance</text>
<text transform="translate(82.6 455.1) rotate(44)" text-anchor="middle" dy="8" class="b">Time (min)</text>
<text transform="translate(194.1 528.6) rotate(-15.2)" class="b" style="font-size:23.6px">Wavenumbers (cm<tspan dy="-21" dx="3" font-size="15">-1</tspan><tspan dy="13" dx="1">)</tspan></text>
</g>
</g>
<g transform="translate(643.6 1098.0) scale(0.959 0.959)">
<line x1="41.0" y1="26.7" x2="252.9" y2="7.6" stroke="#6a6a6a" stroke-width="1.0"/>
<line x1="252.9" y1="7.6" x2="401.8" y2="41.9" stroke="#6a6a6a" stroke-width="1.0"/>
<line x1="41.0" y1="26.7" x2="49.2" y2="362.3" stroke="#6a6a6a" stroke-width="1.0"/>
<line x1="252.9" y1="7.6" x2="252.2" y2="310.1" stroke="#6a6a6a" stroke-width="1.0"/>
<line x1="49.2" y1="362.3" x2="252.2" y2="310.1" stroke="#6a6a6a" stroke-width="1.0"/>
<line x1="252.2" y1="310.1" x2="393.0" y2="400.4" stroke="#6a6a6a" stroke-width="1.0"/>
<g class="s" fill="#ffff00">
<path class="n" d="M49.2 362.3L252.2 310.1L252.2 304.3L49.1 359.3z"/>
<path d="M49.1 359.6l0.5 0.5l0.4-0.3l0.4-1.1l0.4-0.2l0.9 1.3l0.4-0.5l0.9-0.6l0.4 0.4l0.4-0.1l0.4-1.2l0.5-0.3l0.8 0.1l0.5 0.6l0.4 0.1l0.8-1.1l0.4 0.2l0.9-0.6l0.4-0.1l0.4-0.4l0.4 0.2l0.9 0.9l0.4 0.1l0.5-0.8l1.2-1.1l0.9 0.8l0.8-0.7l0.4 0.3l0.9-1.1l0.4 0.4l0.4-0.4l0.4 0l0.4 0.3l0.5-1l0.4-0.2l0.4 0.1l0.4 0.4l0.4-0.4l0.5-0.8l0.4 0.6l0.4-0.2l0.4-1l0.4 0.5l0.5-0.2l0.4-0.6l0.4-0.2l0.8 1l0.4-0.6l0.5 0.3l0.8-0.4l1.2-0.8l0.5-0.5l0.8 0.8l1.2-1.3l0.5-0.2l0.8 0.7l1.2-1.8l0.5 0.1l0.4 1.2l0.4-0.3l0.4-0.9l0.4-0.4l0.8 0.1l0.5-0.3l0.8 0l0.4-0.7l0.4 0l0.4 0.2l2.1-2.7l0.8-0.4l0.4 0.2l0.8-1.8l0.4-0.1l0.5-0.7l0.8-0.2l0.8-3.6l0.4-0.3l0.8-1.2l2-7.5l0.9-2.2l0.8-4.4l0.8-3.2l2.4-12.8l3.7-25.3l1.2-4.8l0.8-1.5l0.4 1.5l1.7 10.8l2.5 19.3l1.2 6.2l0.8 2.9l0.4 0.6l0.4 0.2l1.3-0.4l0.8-1.8l0.4 0.2l0.4-0.3l0.4-0.9l0.4-0.4l0.8 1l0.4-0.4l0.8 1.2l1.2 4l0.8 3.7l1.6 4.1l0.4 0.9l0.8 0.8l0.8 1.4l0.4-0.1l0.4 0.2l1.2 3.9l0.4 0.5l0.4 0.3l0.8-1.3l1.6-6.9l0.4-0.6l0.4-0.3l0.4 0l0.8-1.7l0.4 0.5l0.4-0.8l0.4-1.4l0.9-1.5l1.6-2l0.4-1.4l0.8-1.3l1.2-4.2l0.4-0.2l0.4-1.3l1.2-6.3l2.1-13.3l1.2-10l1.7-20.3l1.8-26.3l1.3-24.8l6.1-126.4l1.4-19.3l0.8-6.7l0.4-1.3l0.4 0.5l0.8 4.9l1.1 16.6l1 24.8l2.5 74.7l2 43.9l1.4 18.7l1.1 8.5l0.7 3.3l0.4 0.7l0.4 0.1l0.4-0.2l0.4-0.9l0.8-3.1l1.2-8.8l1.3-14.1l1.3-18.1l2.3-40.7l5.3-110.3l1.3-21.3l0.9-8l0.4-1.6l0.4 0l0.3 1.3l0.4 2.8l0.7 9.2l0.6 13.6l3.8 122.6l1.2 31.2l0.9 19.2l1 16.1l1.7 18.8l1.1 8.5l1 6l1.5 6.1l1.8 5.6l2.5 5.1l1.9 2.7l2.6 3l1.4 0.9l0.8 0.9l0.7 0.7l0.7 0.2l0.8 0.9l1.5 0.5l0.7 0.6l1.1 0.5l0.7 0l1.5 1l1.5 0.2l0.7 0.5l1.1 0.4l1.1-0.1l0.7 0.6l0.8-0.2l1.1 0.2l0.3-0.2l0.8 0.5l2.2 0l0.7 0.2l1.8-0.1l0.4 0l0.3 0.3l0.8-0.4l0.7 0.3l1.1 0l2.2-0.3l1.4 0.3l0.4-0.3l0.3 0.1l0.4 0.3l2.2-0.5l0.7 0.2l0.7-0.2l0.7 0l1.8-0.4l0.8 0.2l1.4-0.4l0.4 0l2.8-0.4l1.1 0"/>
<path class="n" d="M64.7 376.9L271.2 322.3L271.2 316.3L64.6 374.0z"/>
<path d="M64.6 374.3l0.5 0.4l0.8-1.3l1.3 0.1l0.5-0.5l0.4 0.1l0.5 0.5l0.4 0.1l0.4 0l0.9-0.7l0.4 0.3l0.9-1.5l0.4 0.7l0.5 0.2l0.8-1.6l0.4 0.5l0.5 0.1l0.8-1l0.5 0l0.4 0.5l0.4-0.1l0.9-0.4l0.4-0.9l0.4-0.1l0.5 0.7l0.4-0.1l0.4-0.5l0.5 0l0.4 0.4l0.4-0.1l0.9-0.7l0.4 0.4l0.4-0.2l1.3-1.3l0.4 0.5l0.9-1.2l0.4 0.7l0.9 0.1l0.8 0.2l0.5-0.8l0.8-0.6l0.9-0.2l0.4-0.6l0.9 0.6l0.8-1.3l0.8 0.3l0.5-0.2l0.4 0.1l0.4 0.5l0.9-1.1l0.8-0.5l0.4 0l0.5-0.3l0.8-1.2l0.4 0.9l0.5 0.3l0.4-0.3l1.3 0l0.8-1.5l0.4-0.2l0.4 0.4l0.5-0.1l0.4-1l0.4 0.3l0.8-0.9l1.3-0.6l0.4-0.7l0.4-0.3l0.9-1l0.4-0.1l0.8-1.5l0.5 0.2l0.4-0.6l0.4-1.4l0.8-1.8l0.9-1.4l0.8-2.4l0.8-3.5l0.4-0.4l0.4-0.8l2.1-8.8l2.1-10.2l2.9-17l0.8-6l1.3-6.6l0.4-1.2l0.4-0.2l0.5-0.8l0.4 0.4l0.8 4.4l1.3 8.4l0.8 7.4l0.9 4.3l1.2 8l0.4 1.6l0.4 0.7l0.9 2.3l0.4 0.4l0.8 0.3l0.4-0.2l0.8-1l0.9-1.8l0.4 0l0.4-0.2l0.4-0.9l0.4-0.3l0.4 0.4l0.4 1.3l0.9 1.4l0.4 1.8l0.4 0.7l0.8 2.8l0.4 0.7l0.8 2.8l0.8 2.1l0.4 0.3l0.4-0.1l0.4 0.4l1.3 2l0.4 1.6l0.8 1.5l0.4 1.7l0.4 0.4l0.8-2.4l0.8-3.9l0.9-2.4l0.4-0.9l0.4-0.4l0.8-1.8l0.4 0.2l0.8-0.7l0.8-1.9l0.4-0.1l0.4-0.5l0.5-1.2l0.4-0.6l0.4 0l0.4-0.9l0.4-1.7l0.8-1.7l0.4-1.7l0.8-1.9l1.3-5.4l2.1-11.5l1.7-15.1l1.3-13.8l1.8-25.7l1.9-32.4l6.4-130.2l1.4-20.2l0.9-7l0.4-1.3l0.4 0.2l0.4 1.8l0.4 3.1l1 16.7l1 25.1l2.8 85.3l1 23.3l1 18.9l0.7 10l0.7 7.4l0.8 5.5l0.3 1.9l0.8 1.9l0.4 0.3l0.4-0.4l0.8-2.2l0.4-1.8l0.8-5.5l1.4-12.3l1.3-17.5l2.4-39.3l5-102.9l1.4-26.7l1.4-17.7l0.4-2.9l0.4-1.3l0.4 0.1l0.4 1.5l0.3 2.9l1 16.1l0.9 24.9l3.1 107.4l1.2 31.9l0.9 19.4l1.3 20.3l1.4 15.1l1.8 12.4l1.4 6.7l1.5 5.1l2.6 5.6l2.2 3.7l1.5 1.5l1.9 2.3l1.1 0.9l0.4 0.1l0.4 0.5l1.1 0.6l0.7 0.8l0.4 0.1l2.6 1.6l1.2 0.4l0.3 0l0.8 0.6l0.3-0.2l0.4 0.1l0.4 0.4l1.5 0.2l0.4 0.3l0.7 0.1l0.4 0.3l1.1 0.1l0.7 0.4l0.4-0.3l0.4 0.1l0.3 0.3l0.8 0l1.1 0.4l1.5-0.1l0.7 0.3l0.8-0.4l0.3 0.1l0.4 0.3l1.5-0.2l0.4 0.2l1.4 0.1l1.5-0.3l0.8 0.1l0.3-0.2l0.8 0.3l0.7-0.2l0.4 0.3l0.3-0.1l0.4-0.3l0.7 0.2l0.8 0l0.7-0.4l0.4 0l1.8 0.3l0.7-0.4l1.5-0.2l0.7 0l2.2-0.4l0.8 0.1l1.8-0.2l0.4-0.3l1.8-0.2"/>
<path class="n" d="M81.0 392.3L291.0 335.0L291.1 329.0L81.0 389.9z"/>
<path d="M81 390.2l0.8-1.1l0.5 0.1l0.4 0.6l0.5-0.1l0.9-0.9l0.4-0.7l1.3-0.2l0.5 0.3l0.8-0.8l0.9 0.8l0.5-0.2l0.4-0.7l0.5-0.2l0.4 0.6l0.4-0.1l0.5-0.4l0.4-0.1l0.5-0.5l0.4-0.9l0.9 0.2l0.4-0.5l0.9 0.3l0.4 0l0.5-0.4l0.4 0.3l0.4 0l0.9-0.4l0.5-0.5l0.4 0.2l0.4-0.2l0.5-0.5l0.4 0.1l0.9-0.6l0.4 0.3l0.9-0.3l0.4 0.2l1.3-0.9l0.5 0.4l0.4 0.1l0.9-1.4l0.4 0l0.4-0.3l0.5-0.6l0.8 0.3l1.8-0.5l0.4 0.1l0.4 0.4l0.5-0.3l0.4-0.7l0.4-0.1l0.5 0.6l0.8-1.4l0.5-0.2l0.4-0.5l0.4 0.8l0.5 0.4l0.4-1l0.4-0.2l0.9 0l0.4-0.3l0.4-0.6l0.5 0.6l0.4-0.2l0.4-1.1l0.5 0.3l0.8-1.4l0.4 0.1l0.9-1l0.9-0.3l0.4-0.7l0.4-0.2l0.9-0.9l0.8-1.7l0.4-0.1l1.3-3.5l0.9-1.1l1.3-3l0.8-2.8l0.9-2.1l0.8-4.3l0.4-1.3l1.3-5.4l1.7-10.2l0.9-3.8l0.8-6l0.9-4.6l0.4-3.5l0.9-4.2l0.9-6.8l0.8-4.2l0.5-1l0.4 0.4l0.8 1.7l0.5 2.1l0.8 5.8l0.9 7.5l2.5 17.2l0.8 3.4l0.8 1.9l0.5 0.4l0.4-0.1l0.4 0.7l0.4 0.3l1.3-2.5l0.8-0.7l0.5-0.6l0.4 0.1l1.2 1.4l0.9 1.5l1.2 3.7l0.8 3.4l0.4 0.7l0.8 3l0.5 0.6l0.4 1.3l0.8 1.1l0.4-0.1l0.4-0.6l0.4 0.5l0.4 1l0.9 3.3l0.8 1.8l0.4-1l1.7-6l1.7-4.1l1.6-1.9l0.5-0.9l0.4-0.5l0.4 0.3l0.4-0.6l0.4-1.6l0.4-0.9l1.3-1.7l0.8-3l0.5-0.8l0.8-3.8l1.7-5.6l1.3-7.2l2.7-23l1.9-22.2l2.9-47.5l6.8-135.2l1.5-21.5l0.9-7.5l0.5-1.1l0.4 0.2l0.4 1.4l0.3 3l1.1 17.4l0.9 25.7l2.7 88.4l0.9 24.3l1 19.5l1 14.6l0.4 4l0.7 5.3l0.8 3.3l0.3 0.8l0.8-0.1l0.5-0.8l0.8-3.4l0.4-2.7l1.4-11l0.9-10.4l1.4-19.7l2.6-43.1l5.8-115.8l1.5-21.7l0.4-4.5l0.5-3l0.4-1.5l0.4 0.5l0.7 4.9l0.6 10.4l0.6 14.7l3.2 120l1.1 34.1l0.9 21.4l0.9 17.2l1.4 17.7l1.4 12.7l1 7.3l1.1 5.4l1.5 5.4l1.9 4.9l1.1 2.4l1.1 1.5l1.5 2.8l0.8 0.4l0.4 0.4l1.5 2.2l1.1 0.6l1.2 1.2l1.5 0.8l1.1 1.2l0.8 0.2l0.7 0.6l1.9 0.6l0.4 0.2l0.8 0.1l0.7 0.6l0.4-0.1l0.4 0.1l0.4 0.3l0.7 0.1l1.2 0.4l0.3-0.1l1.5 0.6l0.8 0.1l0.8 0.3l0.7-0.1l0.8 0.1l0.3 0.2l0.8-0.1l1.5 0.2l1.1-0.1l1.2 0.5l1.1-0.4l0.4 0.1l0.7-0.1l0.8 0.2l1.1 0l0.7 0.1l0.8-0.2l0.7 0.1l0.8-0.3l0.4 0.1l1.5-0.3l1.1 0.3l1.5-0.3l0.7 0.2l0.8-0.4l0.7 0.1l0.4-0.2l0.7 0.1l1.1-0.4l0.8 0.4l0.7-0.6l0.8 0l0.7-0.4l0.7 0.2l1.1 0l0.4-0.2l1.5-0.1l0.4-0.2"/>
<path class="n" d="M98.2 408.5L311.9 348.4L311.9 342.3L98.2 405.2z"/>
<path d="M98.2 405.5l0.4-0.3l0.5 0.2l0.4-0.5l0.9 0.6l0.9-0.8l1 1.2l0.8-2.1l0.5 0l0.4-0.5l0.5-0.1l0.4 0.8l0.9-0.7l0.5-0.7l0.4-0.1l0.5 0.3l0.4-0.3l0.5 0.2l0.4-0.6l0.5-0.2l0.4 0.6l0.5-0.8l0.4 0.3l0.5 1.1l0.4-0.4l0.5-1.4l0.4 0.1l0.5 0.5l0.4-0.8l0.4-0.4l0.5 0.4l0.4-0.8l0.5-0.3l0.4 0.3l0.5-0.2l0.4 0.6l0.5-0.1l0.8-1.3l0.9 0.4l0.5-0.1l0.4 0.9l0.5-0.7l0.4-1.5l0.9-0.1l0.4 0.1l0.5-0.2l0.4-1l0.5 0.2l0.4 0.9l0.5 0.4l0.4-0.3l1.3-1.7l0.5-0.1l0.4 0.1l0.9 0.7l0.4-0.2l0.5-1.1l0.4-0.6l0.5 0.3l0.4-0.2l0.4 0.2l0.5 0l1.3-0.8l0.4 0.2l0.9-1.4l1.3 0.2l0.5-0.4l0.4 0.2l0.9-1.2l0.9-0.1l0.8-1l0.5-0.1l0.4-0.8l0.5-0.2l1.3-1.6l1.3-2.9l0.4 0.1l0.9-1.2l2.6-7l0.9-4.2l0.4-1l1.8-7.3l0.4-1.2l1.4-6.8l1.7-11l1.4-7.1l1.8-12l1.3-7.1l0.5-1l0.4-0.5l0.4 0.7l0.9 2.8l1.3 8.7l1.6 13.5l1.7 10.7l0.4 1.9l0.8 1.9l0.5 0.5l0.8 0.1l0.5-0.2l0.4 0l1.3-1.9l0.4-1l0.4 0.4l0.9-1.1l1.3 3.4l0.4 0.8l0.4 0.3l2.1 8.1l0.4 0.7l0.4 0.3l1.2 3l0.5 0l0.4 0.6l0.4 1.1l0.4-0.1l0.4 0.6l0.4 2.2l1.3 2.6l0.8-1.8l1.4-6l0.8-2.2l0.4 0l0.5-0.3l0.4-1.2l0.4 0l1.3-2.4l0.4-0.1l0.5-0.4l0.8-2l1.7-2.9l1.8-5.7l0.8-2.3l2.2-9.6l0.5-2.8l1.4-9.7l1.4-12.8l2-22l2-30l1.7-27.2l5.1-96.4l1.7-28.9l1.6-22l0.5-4.7l0.4-3l0.5-1.6l0.4 0l0.4 1.5l0.4 2.8l1 16.9l1.1 35.5l2.2 78.7l0.8 24.5l1.3 25.2l1 12.4l1.1 8l0.4 1.4l0.4 0.6l0.4 0.2l0.4-0.2l0.4-0.8l1.3-6.2l0.9-7.1l1-9.1l1.5-18.1l1.6-23l1.6-27.6l6.3-115.3l1.6-21.5l0.9-7l0.4-1.2l0.4 0.3l0.4 1.8l0.3 3.4l0.9 17.9l0.8 26.2l2.3 101.2l1.1 34.1l0.8 21.2l1.2 22.1l1.4 16.3l1.3 11.5l1.1 6.4l0.8 3.4l1.4 5.4l1.5 4.1l3.1 5.4l0.4 0.4l0.7 1.2l0.4 0.3l0.8 1.1l2.3 2.1l0.4 0.6l0.4 0.1l0.7 1l0.8-0.1l1.5 1.6l0.4-0.1l0.8 0.6l1.1 0.5l0.8 0.1l0.8 0.5l0.4 0.4l0.7-0.3l0.8 0.8l1.1 0.1l0.8 0.5l0.8 0l1.1 0.5l0.4-0.2l0.4 0.1l1.1 0.5l0.4-0.1l1.2 0.2l0.8-0.2l0.7 0.4l1.5-0.2l1.6 0.4l1.1-0.3l1.2 0.4l0.7-0.3l0.4 0.1l0.8-0.3l0.7 0.4l0.4 0.1l0.8-0.1l0.7-0.2l3.4-0.1l0.4-0.1l0.4-0.3l0.8 0.2l0.7 0l1.5-0.6l2.7 0.2l1.1-0.7l0.8 0.2l0.3-0.3l0.8 0.3l0.7-0.4l0.4 0.2l0.4-0.1l0.4-0.3l0.7 0.3l1.2-0.7l0.7 0.2l1.1-0.4"/>
<path class="n" d="M116.4 425.6L333.8 362.4L333.8 356.7L116.3 422.2z"/>
<path d="M116.3 422.5l0.5 0.6l0.5-0.9l0.4 0.4l0.5 0l0.4-0.6l0.5 0.1l0.5-0.4l0.4 0.3l0.5-0.6l0.9 0.3l0.5-0.4l0.4 0.5l0.9-1.8l0.5 0.9l0.5 0.2l0.9-1.5l0.9 0.2l0.4 0.6l0.5-0.2l0.4-1.5l1 0.7l0.4-0.1l0.5-0.7l0.4 0l0.5 0.5l0.4-0.4l0.5 0l0.5-0.4l1.8-0.2l0.4-0.6l0.5-0.1l0.9 0.7l1.8-2l0.5 0.1l0.4-0.3l0.5-1l0.4 0.3l0.5-0.2l0.4-0.7l0.5 1l0.4 0.2l0.5-0.8l0.9 0.3l0.9-0.3l0.9-1.2l0.9 0l0.4-0.2l0.5 0.2l0.9-0.9l1.3-0.5l0.5-0.4l1.3 0l0.5 0.4l0.9-1l0.4 0.4l0.9-1.6l0.9 0.3l0.9-1.4l0.5 0l0.4 0.3l0.5-0.3l1.3-2l0.4-0.3l0.9 0.2l0.9-3.4l0.5 0.3l0.4-0.2l0.9-1.1l1.8-4.7l0.9-3.1l0.5-0.4l1.3-4l1-5.3l1.3-5.1l1.9-8.9l0.9-6l0.9-4.3l2.9-17.6l1.4-7.9l0.4-1.4l0.5-0.5l0.4-0.2l0.5 1.3l0.4 2l1.6 14.1l0.4 2.2l1.3 9.9l1.2 7.4l1.3 4.4l0.8 0.5l0.5-0.1l0.4-0.4l0.4 0l0.5-0.3l1.3-2.1l0.5 0.1l0.4-0.2l0.4 0.4l0.4 1l0.5-0.1l0.4 0.2l3.3 11.8l0.4 0.4l0.9 2l0.4 0.4l0.4 0.8l0.5 0l0.4 0.5l0.4 1.6l0.4 0.1l0.4 0.7l0.8 3.2l0.5 0.5l0.4-0.9l0.9-2.8l0.9-3.6l1.8-3.5l0.4-0.4l0.4 0l0.5-1.3l0.4-0.6l0.4 0.1l0.5-0.6l0.4-0.9l0.9-2.9l0.5-0.1l0.4-0.6l2.2-4.5l1.3-4.8l0.9-2.2l1.9-10.5l1.5-9.2l0.9-7.5l2.1-20.9l2.8-34.5l1.2-18.5l8-133.9l1.7-21.5l0.6-4.7l0.4-3.1l0.5-1.8l0.4-0.2l0.4 1.3l0.4 2.7l0.7 10.2l0.6 14l2.5 105.4l0.8 23.8l0.8 20l1.3 17.9l0.7 5.4l0.8 3.3l0.4 0.9l0.4 0.1l0.4-0.3l0.5-0.9l0.9-3.4l1.4-9.5l1.5-15l1.1-12.7l2.9-41l7.5-124.6l1.6-20.7l1-6.7l0.4-1.2l0.4 0.9l0.7 5.5l0.6 11.1l0.5 14.8l2.4 119.3l0.6 25.8l1 28.5l0.9 16.9l0.9 13.7l0.7 7.2l1.3 11.3l1.8 9.7l2.3 7.4l1.1 2.2l0.4 1.1l1.2 1.8l1.1 2.2l1.2 1.4l0.7 0.6l1.2 1.6l0.4 0.1l1.2 1.4l1.1 0.9l1.2 0.6l0.4 0.5l1.2 0.5l0.3 0.4l0.8 0.2l0.8 0.7l1.6 0.5l1.5 0.8l0.8-0.2l0.8 0.6l0.4 0l0.7 0.5l0.8-0.4l2.4 0.8l0.3-0.1l0.4 0.1l0.4 0.3l0.8-0.3l0.4 0.1l0.4 0.4l0.8-0.2l0.3 0.3l0.4-0.3l0.4 0l2 0.3l0.7-0.2l0.8 0.2l0.8 0l0.4-0.2l0.7 0.3l0.4-0.2l2-0.2l1.5 0.4l0.8-0.4l0.8-0.2l0.3 0.3l0.4 0.1l0.8-0.6l0.8 0.3l0.3-0.4l0.4 0l0.4 0.2l1.2-0.5l1.9-0.1l1.1 0.2l0.4-0.3l0.8 0.1l0.4-0.2l0.7 0l0.4-0.2l1.5-0.4l1.2 0.1l1.5-0.5l0.4 0.1l0.8-0.3l0.3 0.3l1.2-0.6l0.4-0.1l0.3 0.2"/>
<path class="n" d="M135.6 443.7L356.8 377.2L356.9 371.4L135.5 440.1z"/>
<path d="M135.5 440.4l0.5 0.5l0.5-0.2l0.4-1.1l0.5 0.1l0.5 0.6l0.9-0.4l1-0.8l0.4 0.3l0.5-0.4l0.5 0l0.4 0.2l1-0.8l0.4-0.2l1 0.2l1.4-1.2l0.4 0.3l0.5 0l0.5-0.8l0.9 1.2l0.5-1.2l0.4-0.4l0.5 0.3l0.5-0.4l0.9 0.3l0.9-1l1-0.5l0.4-0.5l1 0.4l0.4-0.5l0.9-0.1l1.9-0.6l0.5 0l0.9-1.1l0.9 1.2l0.9-1.3l0.5 0l0.9-0.8l0.5 0.7l0.4 0.2l1-1.8l0.4 0l0.5 0.8l0.9 0.2l0.9-1.4l0.9-0.6l0.5 0.3l0.9-0.4l0.5 0l0.9-0.8l0.9-0.5l0.5-0.9l0.4-0.4l0.5 0.8l0.4-0.1l0.5-1.1l0.4-0.5l0.5 0.3l0.9 0.1l0.5-1.5l0.4-0.3l0.5 1.2l0.4-0.8l0.5-1.7l0.9 0.1l0.5-1.5l0.9-1.2l0.9-2.1l0.5-0.2l1.9-6.1l0.4-0.3l0.5-1.3l0.9-4.3l0.5-1l0.5-1.6l1.9-8l1.4-7l1-2.8l0.5-2.3l1-7.1l1.9-10.5l0.6-3.4l1.4-7.2l0.5-1.7l0.5-0.6l0.4-0.2l0.5 0.7l0.8 4l1.2 10l2 14.8l0.4 2.5l1.7 6.5l0.4 0.9l0.4-0.6l0.9 1l0.9-0.7l0.5-0.5l0.4-1.3l0.5-0.3l0.4 0l0.9-0.6l0.5 0.3l0.8 2.6l0.4 0.4l0.5 0.1l1.6 7l0.4 1.4l0.4 0.3l0.9 3l0.4-0.6l0.4 1l0.4 1.5l0.5-0.1l0.4-0.5l0.9 1.8l0.8 3.2l0.4 0.9l0.4 0.2l0.9-1.7l1.9-6.3l2.2-3.7l0.5-0.6l0.4 0l0.5-0.9l0.4-0.4l0.5-0.7l0.4-1.3l0.5-0.2l1.3-1.4l3.2-9.1l1.9-7.2l2.5-14.4l1.6-12l1.1-10.1l2.4-25.2l2.5-31.7l8.9-132.2l1.9-21.3l1.1-8.2l0.4-1.8l0.5-0.4l0.4 1.2l0.3 2.9l0.7 9.4l0.2 6.6l0.7 24.2l1.6 85.7l0.7 23.8l0.7 19.3l0.9 14.2l1 9.3l0.4 1.8l0.4 1l0.8 1.3l0.4-0.2l1.4-4.6l1-5.7l1.6-13l1.7-17.7l3.2-40.5l8.2-121.6l1.8-19.7l1-6.3l0.4-0.8l0.4 0.7l0.6 5.7l0.6 11l0.4 14.7l1.6 107.6l0.8 34.1l0.9 27.4l1 21.3l0.9 12l1.7 14.3l1.7 9.5l1.2 3.8l2.6 6.5l0.4 0.7l0.8 0.7l1.5 2.7l0.8 1l0.8 0.7l0.4 0.5l2.3 2.2l1.2 0.9l0.8 0.2l0.8 0.8l1.2 0.5l0.8 0.8l0.8-0.1l0.7 0.7l0.4 0l0.8 0.6l1.6 0l0.8 0.3l0.4 0.3l0.8 0.2l0.4 0.2l0.8-0.1l0.4 0.1l0.4 0.3l0.8 0l0.3 0.2l0.8-0.3l0.4 0l0.8 0.6l0.8-0.2l0.4 0.3l0.8-0.3l0.8 0.2l0.4-0.2l0.4 0.1l0.4 0.3l1.1 0l1.6-0.3l1.2 0.5l0.8-0.3l0.8 0.4l0.8-0.6l0.3 0.1l1.6-0.1l1.2-0.2l0.8-0.3l0.8 0.4l1.1-0.6l0.8 0.3l0.8-0.3l1.6 0l5.4-1.1l0.4 0.2l0.8-0.3l1.5-0.1l1.2-0.4l0.8 0.2l0.7-0.5l0.4 0.2l0.8-0.4l1.1-0.1l0.4-0.3l0.8-0.1"/>
<path class="n" d="M155.9 462.9L381.1 392.8L381.2 387.4L155.9 459.5z"/>
<path d="M155.9 459.8l0.5 0.1l0.9-0.4l0.5 0.3l0.5-0.2l0.9-1.8l0.5 0.8l0.5 0.3l0.5-0.6l0.5 0.1l0.4-0.2l0.5-1l0.5 0.5l0.5 0.2l0.9 0l1-1.3l0.4 0.3l0.5-0.4l0.5-0.8l1 0.1l0.4-0.6l1-0.5l0.5 0.1l0.4 0.3l0.5-0.7l0.5 0l0.9 0.8l0.5-0.1l0.5-1l0.4 0.2l0.5 0.5l0.5-0.4l0.5-1l0.4-0.3l0.5 0.7l0.5-0.5l0.5-1.1l0.9 0.8l1.4-1.2l0.5-0.2l0.9 0.3l1-0.5l0.4 0.1l1-1l1.9-1l0.4 0.3l0.5-0.2l0.5-0.7l0.4 0.2l0.5 0.3l0.9-1l0.5 0l0.5-0.2l0.9 0.6l0.5-0.8l0.4-0.3l0.5-0.1l1-1.1l0.4-0.3l0.5 0.2l0.5-0.4l0.4 0l0.5-0.3l0.5-1.1l0.4-0.2l0.5 0.7l0.5-0.7l0.4-0.2l0.5-0.6l0.5-1.1l0.4-0.1l0.5-1l1.4-1.1l1-3.2l0.5-1.1l0.9-0.3l2.4-6.6l0.5-1.4l1.5-6.3l1.5-4.5l3.1-13.3l1.5-8.5l1.1-7.1l1-4.1l1.1-5.8l1-3.8l0.5-1.3l0.5-0.6l0.4 0.9l0.4 1.4l0.9 3.5l2.6 23.1l1.6 8.2l0.4 0.9l0.5 0.3l0.4 0.6l0.9 0.7l0.5-0.5l0.5-1.1l0.9-0.6l0.9-1.3l0.9 0.5l0.4-0.1l0.5 0.1l0.4 0.8l0.4 1.7l0.9 2l1.2 4.7l0.8 2.2l0.4 0.4l0.9 2l1.7 1.4l0.8 2.3l0.5 0.9l0.4 0.5l0.8 2.9l0.4 0l2-7.4l0.5-0.9l0.9-1.5l0.5-0.4l0.4-0.9l0.9-0.7l0.5-1.7l0.5-0.7l0.4 0.4l1.4-2.7l0.5 0.1l0.4-0.3l0.5-0.9l1-2.8l0.4-0.6l0.5-1.2l1.9-6.1l0.5-2.5l0.5-1.1l0.5-2l2.1-11.1l2.2-14l1.8-15.5l2.7-26.7l2.8-33.5l9.3-120.7l2-20.8l1.1-8.4l0.6-2.2l0.4-0.3l0.4 0.9l0.4 2.6l0.5 8.8l0.3 6.3l0.6 33.2l1.1 83.3l0.9 34.3l0.9 13.7l0.9 8.9l0.4 1.8l0.8 2l0.4 0.3l0.4-0.4l0.5-0.9l0.5-1.4l1-4.5l1.6-11.4l1.9-16.2l1.3-13.6l3.5-42.4l8.4-110.5l1.9-18.8l1.1-6.1l0.4-0.6l0.4 0.9l0.4 2.1l0.2 3.7l0.7 18.1l0.3 25.5l1 105.8l0.4 23.4l0.6 19.6l0.7 16.2l0.8 12.6l0.6 6.8l1.6 13.2l1.8 8.1l0.3 1.4l1.9 4.8l3.5 6l1.2 1.6l2 1.5l1.6 1.5l0.8 0.3l0.7 0.8l0.4 0l0.5 0.1l0.7 0.9l1.6 0.3l0.8 0.6l0.8 0.3l0.4 0.3l1.2 0.5l0.4-0.1l0.8 0.6l0.8 0.2l0.4-0.2l1.6 0.6l0.8-0.1l3.2 0.7l0.8-0.4l1.6 0.4l1.2-0.1l0.4-0.1l0.8 0.3l0.8-0.3l0.4 0.1l0.4-0.1l0.8 0.4l0.4-0.3l0.4-0.1l2 0.2l0.8-0.2l1.6-0.1l0.4-0.2l1.2 0l0.4 0.3l0.4 0l0.8-0.6l2-0.2l0.8 0.2l0.7-0.1l0.8-0.3l1.2 0l0.8-0.6l2 0.2l0.8-0.1l0.8-0.4l1.2-0.3l0.7 0.1l1.2-0.6l1.6-0.2l0.4 0.2l0.8-0.5l1.2-0.4l0.7 0.2l1.2-0.7l0.4 0l0.4 0.4"/>
</g>
<line x1="401.8" y1="41.9" x2="393.0" y2="400.4" stroke="#6a6a6a" stroke-width="1.0"/>
<line x1="49.2" y1="362.3" x2="165.9" y2="472.3" stroke="#6a6a6a" stroke-width="1.0"/>
<line x1="165.9" y1="472.3" x2="393.0" y2="400.4" stroke="#6a6a6a" stroke-width="1.0"/>
<line x1="49.2" y1="362.3" x2="44.8" y2="363.4" stroke="#6a6a6a" stroke-width="1.0"/>
<line x1="66.0" y1="378.1" x2="61.4" y2="379.3" stroke="#6a6a6a" stroke-width="1.0"/>
<line x1="83.7" y1="394.8" x2="79.1" y2="396.1" stroke="#6a6a6a" stroke-width="1.0"/>
<line x1="102.4" y1="412.5" x2="97.7" y2="413.8" stroke="#6a6a6a" stroke-width="1.0"/>
<line x1="122.3" y1="431.2" x2="117.5" y2="432.6" stroke="#6a6a6a" stroke-width="1.0"/>
<line x1="143.4" y1="451.1" x2="138.5" y2="452.6" stroke="#6a6a6a" stroke-width="1.0"/>
<line x1="165.9" y1="472.3" x2="160.9" y2="473.9" stroke="#6a6a6a" stroke-width="1.0"/>
<line x1="206.8" y1="459.4" x2="209.7" y2="461.9" stroke="#6a6a6a" stroke-width="1.0"/>
<line x1="243.4" y1="447.8" x2="246.4" y2="450.2" stroke="#6a6a6a" stroke-width="1.0"/>
<line x1="278.9" y1="436.5" x2="282.0" y2="438.9" stroke="#6a6a6a" stroke-width="1.0"/>
<line x1="313.3" y1="425.6" x2="316.4" y2="427.9" stroke="#6a6a6a" stroke-width="1.0"/>
<line x1="346.6" y1="415.1" x2="349.8" y2="417.3" stroke="#6a6a6a" stroke-width="1.0"/>
<line x1="379.0" y1="404.8" x2="382.3" y2="407.0" stroke="#6a6a6a" stroke-width="1.0"/>
<line x1="165.9" y1="472.3" x2="168.7" y2="474.9" stroke="#6a6a6a" stroke-width="1.0"/>
<g transform="translate(0 0)">
<text x="37.4" y="371.1" text-anchor="end" class="t">0</text>
<text x="53.7" y="386.6" text-anchor="end" class="t">10</text>
<text x="69.9" y="403.3" text-anchor="end" class="t">20</text>
<text x="89.0" y="421.9" text-anchor="end" class="t">30</text>
<text x="108.8" y="441.0" text-anchor="end" class="t">40</text>
<text x="129.3" y="461.5" text-anchor="end" class="t">50</text>
<text x="152.6" y="482.7" text-anchor="end" class="t">60</text>
<text x="173.8" y="496.0" class="t">3100</text>
<text x="214.0" y="484.3" class="t">3000</text>
<text x="251.1" y="471.6" class="t">2900</text>
<text x="287.2" y="459.9" class="t">2800</text>
<text x="322.1" y="448.3" class="t">2700</text>
<text x="356.0" y="437.7" class="t">2600</text>
<text x="387.8" y="428.1" class="t">2500</text>
<text transform="translate(33.7 204.8) rotate(-90)" text-anchor="middle" class="b">Absorbance</text>
<text transform="translate(82.6 455.1) rotate(44)" text-anchor="middle" dy="8" class="b">Time (min)</text>
<text transform="translate(194.1 528.6) rotate(-15.2)" class="b" style="font-size:23.6px">Wavenumbers (cm<tspan dy="-21" dx="3" font-size="15">-1</tspan><tspan dy="13" dx="1">)</tspan></text>
</g>
</g>
</svg></body></html>
